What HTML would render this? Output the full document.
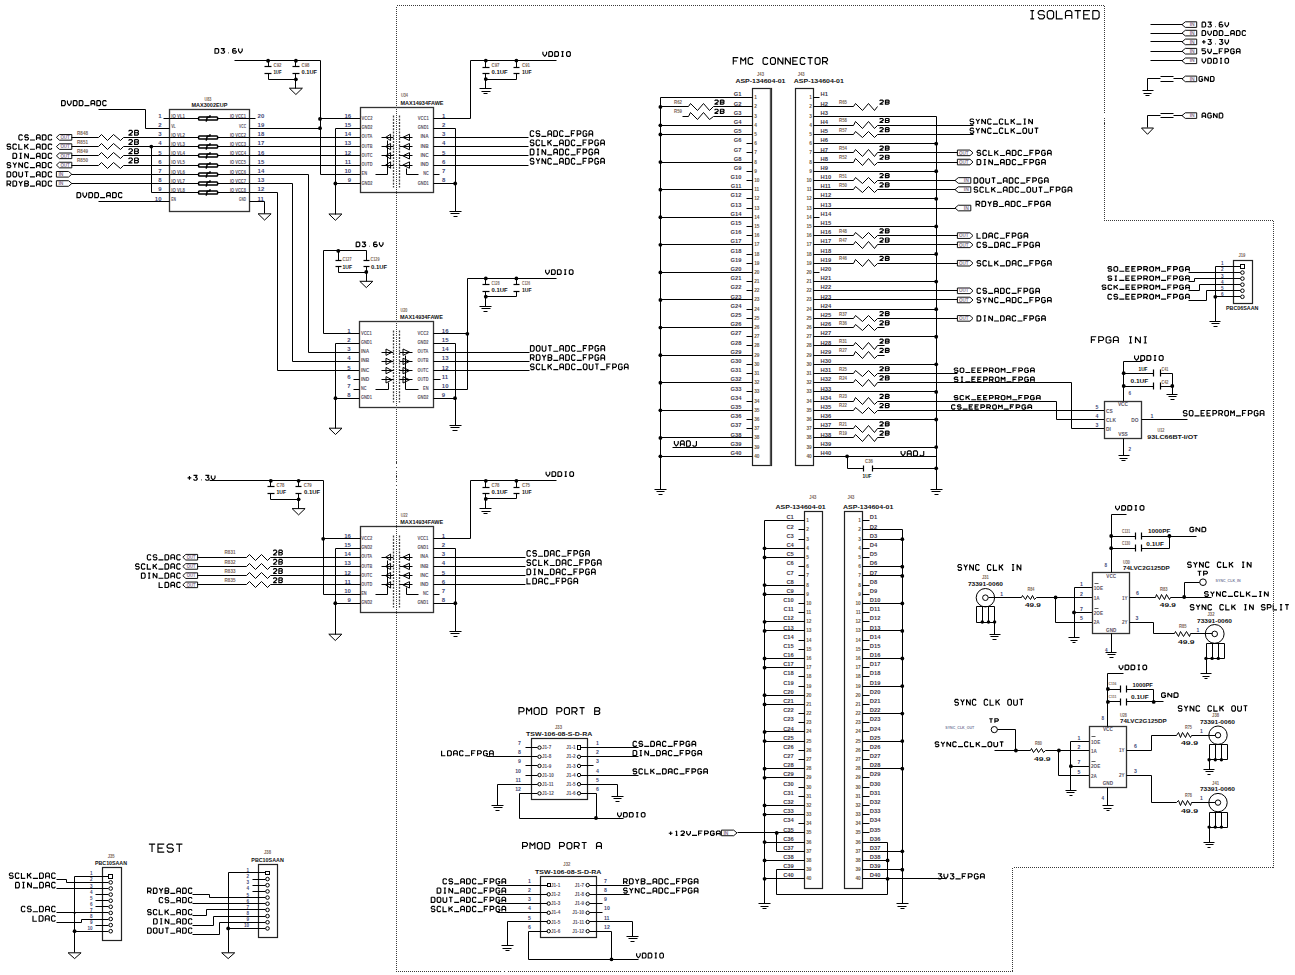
<!DOCTYPE html>
<html><head><meta charset="utf-8"><style>
html,body{margin:0;padding:0;background:#fff;width:1295px;height:975px;overflow:hidden}
svg{display:block}
text{font-family:"Liberation Mono", monospace}
</style></head><body>
<svg width="1295" height="975" viewBox="0 0 1295 975">
<rect width="1295" height="975" fill="#fff"/>
<rect x="169.5" y="109.5" width="80" height="102" fill="none" stroke="#333" stroke-width="1.3"/>
<text x="208" y="100.91" font-size="4.6" fill="#7a6658" text-anchor="middle" font-weight="bold" textLength="7" lengthAdjust="spacingAndGlyphs" style="font-family:'Liberation Sans', sans-serif">U83</text>
<text x="191.5" y="107" font-size="5.14" fill="#111" font-weight="bold" textLength="35.8" lengthAdjust="spacingAndGlyphs" style="font-family:'Liberation Sans', sans-serif">MAX3002EUP</text>
<text x="171.2" y="118.31" font-size="4.6" fill="#5a5262" font-weight="bold" textLength="13.8" lengthAdjust="spacingAndGlyphs" style="font-family:'Liberation Sans', sans-serif">IO VL1</text>
<text x="246" y="118.31" font-size="4.6" fill="#5a5262" text-anchor="end" font-weight="bold" textLength="16.1" lengthAdjust="spacingAndGlyphs" style="font-family:'Liberation Sans', sans-serif">IO VCC1</text>
<text x="161.5" y="117.6" font-size="6" fill="#3f4a78" text-anchor="end" font-weight="bold" style="font-family:'Liberation Sans', sans-serif">1</text>
<text x="257.6" y="117.6" font-size="6" fill="#3f4a78" font-weight="bold" style="font-family:'Liberation Sans', sans-serif">20</text>
<text x="171.2" y="127.54" font-size="4.6" fill="#5a5262" font-weight="bold" textLength="4.6" lengthAdjust="spacingAndGlyphs" style="font-family:'Liberation Sans', sans-serif">VL</text>
<text x="246" y="127.54" font-size="4.6" fill="#5a5262" text-anchor="end" font-weight="bold" textLength="6.9" lengthAdjust="spacingAndGlyphs" style="font-family:'Liberation Sans', sans-serif">VCC</text>
<text x="161.5" y="126.83" font-size="6" fill="#3f4a78" text-anchor="end" font-weight="bold" style="font-family:'Liberation Sans', sans-serif">2</text>
<text x="257.6" y="126.83" font-size="6" fill="#3f4a78" font-weight="bold" style="font-family:'Liberation Sans', sans-serif">19</text>
<text x="171.2" y="136.77" font-size="4.6" fill="#5a5262" font-weight="bold" textLength="13.8" lengthAdjust="spacingAndGlyphs" style="font-family:'Liberation Sans', sans-serif">IO VL2</text>
<text x="246" y="136.77" font-size="4.6" fill="#5a5262" text-anchor="end" font-weight="bold" textLength="16.1" lengthAdjust="spacingAndGlyphs" style="font-family:'Liberation Sans', sans-serif">IO VCC2</text>
<text x="161.5" y="136.06" font-size="6" fill="#3f4a78" text-anchor="end" font-weight="bold" style="font-family:'Liberation Sans', sans-serif">3</text>
<text x="257.6" y="136.06" font-size="6" fill="#3f4a78" font-weight="bold" style="font-family:'Liberation Sans', sans-serif">18</text>
<text x="171.2" y="146" font-size="4.6" fill="#5a5262" font-weight="bold" textLength="13.8" lengthAdjust="spacingAndGlyphs" style="font-family:'Liberation Sans', sans-serif">IO VL3</text>
<text x="246" y="146" font-size="4.6" fill="#5a5262" text-anchor="end" font-weight="bold" textLength="16.1" lengthAdjust="spacingAndGlyphs" style="font-family:'Liberation Sans', sans-serif">IO VCC3</text>
<text x="161.5" y="145.29" font-size="6" fill="#3f4a78" text-anchor="end" font-weight="bold" style="font-family:'Liberation Sans', sans-serif">4</text>
<text x="257.6" y="145.29" font-size="6" fill="#3f4a78" font-weight="bold" style="font-family:'Liberation Sans', sans-serif">17</text>
<text x="171.2" y="155.23" font-size="4.6" fill="#5a5262" font-weight="bold" textLength="13.8" lengthAdjust="spacingAndGlyphs" style="font-family:'Liberation Sans', sans-serif">IO VL4</text>
<text x="246" y="155.23" font-size="4.6" fill="#5a5262" text-anchor="end" font-weight="bold" textLength="16.1" lengthAdjust="spacingAndGlyphs" style="font-family:'Liberation Sans', sans-serif">IO VCC4</text>
<text x="161.5" y="154.52" font-size="6" fill="#3f4a78" text-anchor="end" font-weight="bold" style="font-family:'Liberation Sans', sans-serif">5</text>
<text x="257.6" y="154.52" font-size="6" fill="#3f4a78" font-weight="bold" style="font-family:'Liberation Sans', sans-serif">16</text>
<text x="171.2" y="164.46" font-size="4.6" fill="#5a5262" font-weight="bold" textLength="13.8" lengthAdjust="spacingAndGlyphs" style="font-family:'Liberation Sans', sans-serif">IO VL5</text>
<text x="246" y="164.46" font-size="4.6" fill="#5a5262" text-anchor="end" font-weight="bold" textLength="16.1" lengthAdjust="spacingAndGlyphs" style="font-family:'Liberation Sans', sans-serif">IO VCC5</text>
<text x="161.5" y="163.75" font-size="6" fill="#3f4a78" text-anchor="end" font-weight="bold" style="font-family:'Liberation Sans', sans-serif">6</text>
<text x="257.6" y="163.75" font-size="6" fill="#3f4a78" font-weight="bold" style="font-family:'Liberation Sans', sans-serif">15</text>
<text x="171.2" y="173.69" font-size="4.6" fill="#5a5262" font-weight="bold" textLength="13.8" lengthAdjust="spacingAndGlyphs" style="font-family:'Liberation Sans', sans-serif">IO VL6</text>
<text x="246" y="173.69" font-size="4.6" fill="#5a5262" text-anchor="end" font-weight="bold" textLength="16.1" lengthAdjust="spacingAndGlyphs" style="font-family:'Liberation Sans', sans-serif">IO VCC6</text>
<text x="161.5" y="172.98" font-size="6" fill="#3f4a78" text-anchor="end" font-weight="bold" style="font-family:'Liberation Sans', sans-serif">7</text>
<text x="257.6" y="172.98" font-size="6" fill="#3f4a78" font-weight="bold" style="font-family:'Liberation Sans', sans-serif">14</text>
<text x="171.2" y="182.92" font-size="4.6" fill="#5a5262" font-weight="bold" textLength="13.8" lengthAdjust="spacingAndGlyphs" style="font-family:'Liberation Sans', sans-serif">IO VL7</text>
<text x="246" y="182.92" font-size="4.6" fill="#5a5262" text-anchor="end" font-weight="bold" textLength="16.1" lengthAdjust="spacingAndGlyphs" style="font-family:'Liberation Sans', sans-serif">IO VCC7</text>
<text x="161.5" y="182.21" font-size="6" fill="#3f4a78" text-anchor="end" font-weight="bold" style="font-family:'Liberation Sans', sans-serif">8</text>
<text x="257.6" y="182.21" font-size="6" fill="#3f4a78" font-weight="bold" style="font-family:'Liberation Sans', sans-serif">13</text>
<text x="171.2" y="192.15" font-size="4.6" fill="#5a5262" font-weight="bold" textLength="13.8" lengthAdjust="spacingAndGlyphs" style="font-family:'Liberation Sans', sans-serif">IO VL8</text>
<text x="246" y="192.15" font-size="4.6" fill="#5a5262" text-anchor="end" font-weight="bold" textLength="16.1" lengthAdjust="spacingAndGlyphs" style="font-family:'Liberation Sans', sans-serif">IO VCC8</text>
<text x="161.5" y="191.44" font-size="6" fill="#3f4a78" text-anchor="end" font-weight="bold" style="font-family:'Liberation Sans', sans-serif">9</text>
<text x="257.6" y="191.44" font-size="6" fill="#3f4a78" font-weight="bold" style="font-family:'Liberation Sans', sans-serif">12</text>
<text x="171.2" y="201.38" font-size="4.6" fill="#5a5262" font-weight="bold" textLength="4.6" lengthAdjust="spacingAndGlyphs" style="font-family:'Liberation Sans', sans-serif">EN</text>
<text x="246" y="201.38" font-size="4.6" fill="#5a5262" text-anchor="end" font-weight="bold" textLength="6.9" lengthAdjust="spacingAndGlyphs" style="font-family:'Liberation Sans', sans-serif">GND</text>
<text x="161.5" y="200.67" font-size="6" fill="#3f4a78" text-anchor="end" font-weight="bold" style="font-family:'Liberation Sans', sans-serif">10</text>
<text x="257.6" y="200.67" font-size="6" fill="#3f4a78" font-weight="bold" style="font-family:'Liberation Sans', sans-serif">11</text>
<polyline points="169.5,118.5 198.5,118.5" fill="none" stroke="#000" stroke-width="1"/>
<polyline points="217.5,118.5 249.5,118.5" fill="none" stroke="#000" stroke-width="1"/>
<rect x="198.6" y="116.9" width="19" height="3.2" rx="0.8" fill="none" stroke="#000" stroke-width="1.5"/>
<path d="M206.2,121.7 L207.2,117.3 L209.8,116.9 L210.2,115.3" fill="none" stroke="#000" stroke-width="1.5"/>
<polyline points="169.5,137.5 198.5,137.5" fill="none" stroke="#000" stroke-width="1"/>
<polyline points="217.5,137.5 249.5,137.5" fill="none" stroke="#000" stroke-width="1"/>
<rect x="198.6" y="135.9" width="19" height="3.2" rx="0.8" fill="none" stroke="#000" stroke-width="1.5"/>
<path d="M206.2,140.7 L207.2,136.3 L209.8,135.9 L210.2,134.3" fill="none" stroke="#000" stroke-width="1.5"/>
<polyline points="169.5,146.5 198.5,146.5" fill="none" stroke="#000" stroke-width="1"/>
<polyline points="217.5,146.5 249.5,146.5" fill="none" stroke="#000" stroke-width="1"/>
<rect x="198.6" y="144.9" width="19" height="3.2" rx="0.8" fill="none" stroke="#000" stroke-width="1.5"/>
<path d="M206.2,149.7 L207.2,145.3 L209.8,144.9 L210.2,143.3" fill="none" stroke="#000" stroke-width="1.5"/>
<polyline points="169.5,155.5 198.5,155.5" fill="none" stroke="#000" stroke-width="1"/>
<polyline points="217.5,155.5 249.5,155.5" fill="none" stroke="#000" stroke-width="1"/>
<rect x="198.6" y="153.9" width="19" height="3.2" rx="0.8" fill="none" stroke="#000" stroke-width="1.5"/>
<path d="M206.2,158.7 L207.2,154.3 L209.8,153.9 L210.2,152.3" fill="none" stroke="#000" stroke-width="1.5"/>
<polyline points="169.5,165.5 198.5,165.5" fill="none" stroke="#000" stroke-width="1"/>
<polyline points="217.5,165.5 249.5,165.5" fill="none" stroke="#000" stroke-width="1"/>
<rect x="198.6" y="163.9" width="19" height="3.2" rx="0.8" fill="none" stroke="#000" stroke-width="1.5"/>
<path d="M206.2,168.7 L207.2,164.3 L209.8,163.9 L210.2,162.3" fill="none" stroke="#000" stroke-width="1.5"/>
<polyline points="169.5,174.5 198.5,174.5" fill="none" stroke="#000" stroke-width="1"/>
<polyline points="217.5,174.5 249.5,174.5" fill="none" stroke="#000" stroke-width="1"/>
<rect x="198.6" y="172.9" width="19" height="3.2" rx="0.8" fill="none" stroke="#000" stroke-width="1.5"/>
<path d="M206.2,177.7 L207.2,173.3 L209.8,172.9 L210.2,171.3" fill="none" stroke="#000" stroke-width="1.5"/>
<polyline points="169.5,183.5 198.5,183.5" fill="none" stroke="#000" stroke-width="1"/>
<polyline points="217.5,183.5 249.5,183.5" fill="none" stroke="#000" stroke-width="1"/>
<rect x="198.6" y="181.9" width="19" height="3.2" rx="0.8" fill="none" stroke="#000" stroke-width="1.5"/>
<path d="M206.2,186.7 L207.2,182.3 L209.8,181.9 L210.2,180.3" fill="none" stroke="#000" stroke-width="1.5"/>
<polyline points="169.5,192.5 198.5,192.5" fill="none" stroke="#000" stroke-width="1"/>
<polyline points="217.5,192.5 249.5,192.5" fill="none" stroke="#000" stroke-width="1"/>
<rect x="198.6" y="190.9" width="19" height="3.2" rx="0.8" fill="none" stroke="#000" stroke-width="1.5"/>
<path d="M206.2,195.7 L207.2,191.3 L209.8,190.9 L210.2,189.3" fill="none" stroke="#000" stroke-width="1.5"/>
<polyline points="163.5,118.5 169.5,118.5" fill="none" stroke="#000" stroke-width="1"/>
<polyline points="249.5,118.5 255.5,118.5" fill="none" stroke="#000" stroke-width="1"/>
<path d="M61.58,100.58 L64.33,100.58 L65.25,101.59 L65.25,104.62 L64.33,105.62 L61.58,105.62 L61.58,100.58 M67.46,100.58 L67.46,103.1 L69.29,105.62 L71.13,103.1 L71.13,100.58 M73.34,100.58 L76.09,100.58 L77.01,101.59 L77.01,104.62 L76.09,105.62 L73.34,105.62 L73.34,100.58 M79.22,100.58 L81.98,100.58 L82.9,101.59 L82.9,104.62 L81.98,105.62 L79.22,105.62 L79.22,100.58 M84.46,105.62 L89.42,105.62 M90.99,105.62 L90.99,101.59 L91.91,100.58 L93.74,100.58 L94.66,101.59 L94.66,105.62 M90.99,103.61 L94.66,103.61 M96.87,100.58 L99.62,100.58 L100.54,101.59 L100.54,104.62 L99.62,105.62 L96.87,105.62 L96.87,100.58 M106.42,101.59 L105.51,100.58 L103.67,100.58 L102.75,101.59 L102.75,104.62 L103.67,105.62 L105.51,105.62 L106.42,104.62" fill="none" stroke="#000" stroke-width="1.15" stroke-linejoin="miter" stroke-miterlimit="1.5"/>
<polyline points="98.5,109.5 145.5,109.5 145.5,128.5 169.5,128.5" fill="none" stroke="#000" stroke-width="1"/>
<path d="M22.53,135.86 L21.61,134.83 L19.77,134.83 L18.86,135.86 L18.86,138.95 L19.77,139.98 L21.61,139.98 L22.53,138.95 M28.41,135.86 L27.49,134.83 L25.65,134.83 L24.73,135.86 L24.73,136.69 L25.47,137.41 L27.67,137.41 L28.41,138.13 L28.41,138.95 L27.49,139.98 L25.65,139.98 L24.73,138.95 M29.97,139.98 L34.93,139.98 M36.49,139.98 L36.49,135.86 L37.41,134.83 L39.25,134.83 L40.17,135.86 L40.17,139.98 M36.49,137.92 L40.17,137.92 M42.37,134.83 L45.13,134.83 L46.05,135.86 L46.05,138.95 L45.13,139.98 L42.37,139.98 L42.37,134.83 M51.93,135.86 L51.01,134.83 L49.17,134.83 L48.25,135.86 L48.25,138.95 L49.17,139.98 L51.01,139.98 L51.93,138.95" fill="none" stroke="#000" stroke-width="1.15" stroke-linejoin="miter" stroke-miterlimit="1.5"/>
<polygon points="56.4,137.36 59.4,134.56 71.8,134.56 71.8,140.16 59.4,140.16" fill="none" stroke="#111" stroke-width="1"/>
<text x="60.4" y="139.05" font-size="5.4" fill="#8a7890" font-weight="bold" textLength="9.4" lengthAdjust="spacingAndGlyphs" style="font-family:'Liberation Sans', sans-serif">OUT</text>
<polyline points="71.5,137.5 98.5,137.5" fill="none" stroke="#000" stroke-width="1"/>
<polyline points="98.5,137.5 101.5,134.5 107.5,140.5 113.5,134.5 120.5,140.5 123.5,137.5" fill="none" stroke="#000" stroke-width="1"/>
<polyline points="123.5,137.5 169.5,137.5" fill="none" stroke="#000" stroke-width="1"/>
<text x="77" y="134.51" font-size="5" fill="#7a6658" font-weight="bold" textLength="11" lengthAdjust="spacingAndGlyphs" style="font-family:'Liberation Sans', sans-serif">R848</text>
<path d="M128.57,131.31 L129.53,130.34 L131.43,130.34 L132.38,131.31 L132.38,132.28 L128.57,135.19 L132.38,135.19 M134.62,130.34 L134.62,135.19 L137.47,135.19 L138.42,134.22 L138.42,133.54 L137.47,132.76 L134.62,132.76 M134.62,130.34 L137.47,130.34 L138.42,131.11 L138.42,131.98 L137.47,132.76" fill="none" stroke="#000" stroke-width="1.15" stroke-linejoin="miter" stroke-miterlimit="1.5"/>
<path d="M10.73,145.09 L9.81,144.06 L7.97,144.06 L7.05,145.09 L7.05,145.92 L7.79,146.64 L10,146.64 L10.73,147.36 L10.73,148.18 L9.81,149.21 L7.97,149.21 L7.05,148.18 M16.62,145.09 L15.7,144.06 L13.86,144.06 L12.94,145.09 L12.94,148.18 L13.86,149.21 L15.7,149.21 L16.62,148.18 M18.82,144.06 L18.82,149.21 L22.5,149.21 M24.71,144.06 L24.71,149.21 M28.39,144.06 L24.71,147.15 M26.18,146.12 L28.39,149.21 M29.95,149.21 L34.91,149.21 M36.48,149.21 L36.48,145.09 L37.4,144.06 L39.24,144.06 L40.16,145.09 L40.16,149.21 M36.48,147.15 L40.16,147.15 M42.36,144.06 L45.12,144.06 L46.04,145.09 L46.04,148.18 L45.12,149.21 L42.36,149.21 L42.36,144.06 M51.92,145.09 L51.01,144.06 L49.17,144.06 L48.25,145.09 L48.25,148.18 L49.17,149.21 L51.01,149.21 L51.92,148.18" fill="none" stroke="#000" stroke-width="1.15" stroke-linejoin="miter" stroke-miterlimit="1.5"/>
<polygon points="56.4,146.59 59.4,143.79 71.8,143.79 71.8,149.39 59.4,149.39" fill="none" stroke="#111" stroke-width="1"/>
<text x="60.4" y="148.28" font-size="5.4" fill="#8a7890" font-weight="bold" textLength="9.4" lengthAdjust="spacingAndGlyphs" style="font-family:'Liberation Sans', sans-serif">OUT</text>
<polyline points="71.5,146.5 98.5,146.5" fill="none" stroke="#000" stroke-width="1"/>
<polyline points="98.5,146.5 101.5,143.5 107.5,149.5 113.5,143.5 120.5,149.5 123.5,146.5" fill="none" stroke="#000" stroke-width="1"/>
<polyline points="123.5,146.5 169.5,146.5" fill="none" stroke="#000" stroke-width="1"/>
<text x="77" y="143.74" font-size="5" fill="#7a6658" font-weight="bold" textLength="11" lengthAdjust="spacingAndGlyphs" style="font-family:'Liberation Sans', sans-serif">R851</text>
<path d="M128.57,140.53 L129.53,139.56 L131.43,139.56 L132.38,140.53 L132.38,141.5 L128.57,144.41 L132.38,144.41 M134.62,139.56 L134.62,144.41 L137.47,144.41 L138.42,143.44 L138.42,142.77 L137.47,141.99 L134.62,141.99 M134.62,139.56 L137.47,139.56 L138.42,140.34 L138.42,141.21 L137.47,141.99" fill="none" stroke="#000" stroke-width="1.15" stroke-linejoin="miter" stroke-miterlimit="1.5"/>
<path d="M12.95,153.29 L15.71,153.29 L16.63,154.32 L16.63,157.41 L15.71,158.44 L12.95,158.44 L12.95,153.29 M19.57,153.29 L21.78,153.29 M20.67,153.29 L20.67,158.44 M19.57,158.44 L21.78,158.44 M24.72,158.44 L24.72,153.29 L28.39,158.44 L28.39,153.29 M29.96,158.44 L34.92,158.44 M36.49,158.44 L36.49,154.32 L37.4,153.29 L39.24,153.29 L40.16,154.32 L40.16,158.44 M36.49,156.38 L40.16,156.38 M42.37,153.29 L45.12,153.29 L46.04,154.32 L46.04,157.41 L45.12,158.44 L42.37,158.44 L42.37,153.29 M51.92,154.32 L51.01,153.29 L49.17,153.29 L48.25,154.32 L48.25,157.41 L49.17,158.44 L51.01,158.44 L51.92,157.41" fill="none" stroke="#000" stroke-width="1.15" stroke-linejoin="miter" stroke-miterlimit="1.5"/>
<polygon points="56.4,155.82 59.4,153.02 71.8,153.02 71.8,158.62 59.4,158.62" fill="none" stroke="#111" stroke-width="1"/>
<text x="60.4" y="157.51" font-size="5.4" fill="#8a7890" font-weight="bold" textLength="9.4" lengthAdjust="spacingAndGlyphs" style="font-family:'Liberation Sans', sans-serif">OUT</text>
<polyline points="71.5,155.5 98.5,155.5" fill="none" stroke="#000" stroke-width="1"/>
<polyline points="98.5,155.5 101.5,152.5 107.5,158.5 113.5,152.5 120.5,158.5 123.5,155.5" fill="none" stroke="#000" stroke-width="1"/>
<polyline points="123.5,155.5 169.5,155.5" fill="none" stroke="#000" stroke-width="1"/>
<text x="77" y="152.97" font-size="5" fill="#7a6658" font-weight="bold" textLength="11" lengthAdjust="spacingAndGlyphs" style="font-family:'Liberation Sans', sans-serif">R849</text>
<path d="M128.57,149.76 L129.53,148.79 L131.43,148.79 L132.38,149.76 L132.38,150.73 L128.57,153.64 L132.38,153.64 M134.62,148.79 L134.62,153.64 L137.47,153.64 L138.42,152.67 L138.42,152 L137.47,151.22 L134.62,151.22 M134.62,148.79 L137.47,148.79 L138.42,149.57 L138.42,150.44 L137.47,151.22" fill="none" stroke="#000" stroke-width="1.15" stroke-linejoin="miter" stroke-miterlimit="1.5"/>
<path d="M10.73,163.55 L9.81,162.52 L7.97,162.52 L7.05,163.55 L7.05,164.38 L7.79,165.1 L10,165.1 L10.73,165.82 L10.73,166.64 L9.81,167.67 L7.97,167.67 L7.05,166.64 M12.94,162.52 L14.78,165.1 L16.62,162.52 M14.78,165.1 L14.78,167.67 M18.82,167.67 L18.82,162.52 L22.5,167.67 L22.5,162.52 M28.39,163.55 L27.47,162.52 L25.63,162.52 L24.71,163.55 L24.71,166.64 L25.63,167.67 L27.47,167.67 L28.39,166.64 M29.95,167.67 L34.91,167.67 M36.48,167.67 L36.48,163.55 L37.4,162.52 L39.24,162.52 L40.16,163.55 L40.16,167.67 M36.48,165.61 L40.16,165.61 M42.36,162.52 L45.12,162.52 L46.04,163.55 L46.04,166.64 L45.12,167.67 L42.36,167.67 L42.36,162.52 M51.92,163.55 L51.01,162.52 L49.17,162.52 L48.25,163.55 L48.25,166.64 L49.17,167.67 L51.01,167.67 L51.92,166.64" fill="none" stroke="#000" stroke-width="1.15" stroke-linejoin="miter" stroke-miterlimit="1.5"/>
<polygon points="56.4,165.05 59.4,162.25 71.8,162.25 71.8,167.85 59.4,167.85" fill="none" stroke="#111" stroke-width="1"/>
<text x="60.4" y="166.74" font-size="5.4" fill="#8a7890" font-weight="bold" textLength="9.4" lengthAdjust="spacingAndGlyphs" style="font-family:'Liberation Sans', sans-serif">OUT</text>
<polyline points="71.5,165.5 98.5,165.5" fill="none" stroke="#000" stroke-width="1"/>
<polyline points="98.5,165.5 101.5,162.5 107.5,168.5 113.5,162.5 120.5,168.5 123.5,165.5" fill="none" stroke="#000" stroke-width="1"/>
<polyline points="123.5,165.5 169.5,165.5" fill="none" stroke="#000" stroke-width="1"/>
<text x="77" y="162.2" font-size="5" fill="#7a6658" font-weight="bold" textLength="11" lengthAdjust="spacingAndGlyphs" style="font-family:'Liberation Sans', sans-serif">R850</text>
<path d="M128.57,159 L129.53,158.03 L131.43,158.03 L132.38,159 L132.38,159.97 L128.57,162.88 L132.38,162.88 M134.62,158.03 L134.62,162.88 L137.47,162.88 L138.42,161.91 L138.42,161.23 L137.47,160.45 L134.62,160.45 M134.62,158.03 L137.47,158.03 L138.42,158.8 L138.42,159.67 L137.47,160.45" fill="none" stroke="#000" stroke-width="1.15" stroke-linejoin="miter" stroke-miterlimit="1.5"/>
<path d="M7.05,171.75 L9.81,171.75 L10.73,172.78 L10.73,175.87 L9.81,176.9 L7.05,176.9 L7.05,171.75 M13.86,171.75 L15.7,171.75 L16.62,172.78 L16.62,175.87 L15.7,176.9 L13.86,176.9 L12.94,175.87 L12.94,172.78 L13.86,171.75 M18.82,171.75 L18.82,175.87 L19.74,176.9 L21.58,176.9 L22.5,175.87 L22.5,171.75 M24.71,171.75 L28.39,171.75 M26.55,171.75 L26.55,176.9 M29.95,176.9 L34.91,176.9 M36.48,176.9 L36.48,172.78 L37.4,171.75 L39.24,171.75 L40.16,172.78 L40.16,176.9 M36.48,174.84 L40.16,174.84 M42.36,171.75 L45.12,171.75 L46.04,172.78 L46.04,175.87 L45.12,176.9 L42.36,176.9 L42.36,171.75 M51.92,172.78 L51.01,171.75 L49.17,171.75 L48.25,172.78 L48.25,175.87 L49.17,176.9 L51.01,176.9 L51.92,175.87" fill="none" stroke="#000" stroke-width="1.15" stroke-linejoin="miter" stroke-miterlimit="1.5"/>
<polygon points="56.4,171.48 68.5,171.48 71.8,174.28 68.5,177.08 56.4,177.08" fill="none" stroke="#111" stroke-width="1"/>
<text x="58.4" y="175.97" font-size="5.4" fill="#8a7890" font-weight="bold" textLength="5" lengthAdjust="spacingAndGlyphs" style="font-family:'Liberation Sans', sans-serif">IN</text>
<polyline points="71.5,174.5 169.5,174.5" fill="none" stroke="#000" stroke-width="1"/>
<path d="M7.05,186.13 L7.05,180.98 L9.81,180.98 L10.73,182.01 L10.73,183.04 L9.81,184.07 L7.05,184.07 M8.89,184.07 L10.73,186.13 M12.94,180.98 L15.7,180.98 L16.62,182.01 L16.62,185.1 L15.7,186.13 L12.94,186.13 L12.94,180.98 M18.82,180.98 L20.66,183.56 L22.5,180.98 M20.66,183.56 L20.66,186.13 M24.71,180.98 L24.71,186.13 L27.47,186.13 L28.39,185.1 L28.39,184.38 L27.47,183.56 L24.71,183.56 M24.71,180.98 L27.47,180.98 L28.39,181.81 L28.39,182.74 L27.47,183.56 M29.95,186.13 L34.91,186.13 M36.48,186.13 L36.48,182.01 L37.4,180.98 L39.24,180.98 L40.16,182.01 L40.16,186.13 M36.48,184.07 L40.16,184.07 M42.36,180.98 L45.12,180.98 L46.04,182.01 L46.04,185.1 L45.12,186.13 L42.36,186.13 L42.36,180.98 M51.92,182.01 L51.01,180.98 L49.17,180.98 L48.25,182.01 L48.25,185.1 L49.17,186.13 L51.01,186.13 L51.92,185.1" fill="none" stroke="#000" stroke-width="1.15" stroke-linejoin="miter" stroke-miterlimit="1.5"/>
<polygon points="56.4,180.71 68.5,180.71 71.8,183.51 68.5,186.31 56.4,186.31" fill="none" stroke="#111" stroke-width="1"/>
<text x="58.4" y="185.2" font-size="5.4" fill="#8a7890" font-weight="bold" textLength="5" lengthAdjust="spacingAndGlyphs" style="font-family:'Liberation Sans', sans-serif">IN</text>
<polyline points="71.5,183.5 169.5,183.5" fill="none" stroke="#000" stroke-width="1"/>
<circle cx="151.3" cy="146.59" r="1.9" fill="#000"/>
<polyline points="151.5,146.5 151.5,192.5 169.5,192.5" fill="none" stroke="#000" stroke-width="1"/>
<path d="M76.98,192.57 L79.76,192.57 L80.69,193.58 L80.69,196.61 L79.76,197.62 L76.98,197.62 L76.98,192.57 M82.91,192.57 L82.91,195.1 L84.77,197.62 L86.62,195.1 L86.62,192.57 M88.84,192.57 L91.63,192.57 L92.56,193.58 L92.56,196.61 L91.63,197.62 L88.84,197.62 L88.84,192.57 M94.78,192.57 L97.56,192.57 L98.49,193.58 L98.49,196.61 L97.56,197.62 L94.78,197.62 L94.78,192.57 M100.06,197.62 L105.07,197.62 M106.64,197.62 L106.64,193.58 L107.57,192.57 L109.43,192.57 L110.36,193.58 L110.36,197.62 M106.64,195.6 L110.36,195.6 M112.58,192.57 L115.36,192.57 L116.29,193.58 L116.29,196.61 L115.36,197.62 L112.58,197.62 L112.58,192.57 M122.22,193.58 L121.3,192.57 L119.44,192.57 L118.51,193.58 L118.51,196.61 L119.44,197.62 L121.3,197.62 L122.22,196.61" fill="none" stroke="#000" stroke-width="1.15" stroke-linejoin="miter" stroke-miterlimit="1.5"/>
<polyline points="98.5,201.5 169.5,201.5" fill="none" stroke="#000" stroke-width="1"/>
<polyline points="249.5,128.5 320.5,128.5" fill="none" stroke="#000" stroke-width="1"/>
<polyline points="249.5,137.5 360.5,137.5" fill="none" stroke="#000" stroke-width="1"/>
<polyline points="249.5,146.5 360.5,146.5" fill="none" stroke="#000" stroke-width="1"/>
<polyline points="249.5,155.5 360.5,155.5" fill="none" stroke="#000" stroke-width="1"/>
<polyline points="249.5,165.5 360.5,165.5" fill="none" stroke="#000" stroke-width="1"/>
<polyline points="249.5,174.5 308.5,174.5 308.5,352.5 359.5,352.5" fill="none" stroke="#000" stroke-width="1"/>
<polyline points="249.5,183.5 292.5,183.5 292.5,361.5 359.5,361.5" fill="none" stroke="#000" stroke-width="1"/>
<polyline points="249.5,192.5 277.5,192.5 277.5,370.5 359.5,370.5" fill="none" stroke="#000" stroke-width="1"/>
<polyline points="249.5,201.5 264.5,201.5 264.5,213.5" fill="none" stroke="#000" stroke-width="1"/>
<polygon points="258.1,213.8 271.1,213.8 264.6,220.1" fill="none" stroke="#000" stroke-width="1"/>
<path d="M214.97,48.58 L217.74,48.58 L218.66,49.51 L218.66,52.3 L217.74,53.23 L214.97,53.23 L214.97,48.58 M220.87,48.58 L224.55,48.58 L222.71,50.62 L223.63,50.62 L224.55,51.37 L224.55,52.3 L223.63,53.23 L221.79,53.23 L220.87,52.3 M228.32,52.85 L228.88,52.85 M235.87,48.58 L233.57,48.58 L232.65,49.51 L232.65,52.3 L233.57,53.23 L235.41,53.23 L236.33,52.3 L236.33,51.55 L235.41,50.9 L232.65,50.9 M238.54,48.58 L238.54,50.9 L240.38,53.23 L242.22,50.9 L242.22,48.58" fill="none" stroke="#000" stroke-width="1.15" stroke-linejoin="miter" stroke-miterlimit="1.5"/>
<polyline points="234.5,60.5 320.5,60.5 320.5,174.5 360.5,174.5" fill="none" stroke="#000" stroke-width="1"/>
<circle cx="320" cy="118.9" r="1.9" fill="#000"/>
<circle cx="320" cy="128.13" r="1.9" fill="#000"/>
<polyline points="320.5,118.5 360.5,118.5" fill="none" stroke="#000" stroke-width="1"/>
<circle cx="268.1" cy="60.75" r="1.9" fill="#000"/>
<circle cx="295.9" cy="60.75" r="1.9" fill="#000"/>
<polyline points="268.5,60.5 268.5,66.5" fill="none" stroke="#000" stroke-width="1"/>
<polyline points="264.5,66.5 271.5,66.5" fill="none" stroke="#000" stroke-width="1.2"/>
<polyline points="264.5,73.5 271.5,73.5" fill="none" stroke="#000" stroke-width="1.2"/>
<polyline points="268.5,73.5 268.5,79.5" fill="none" stroke="#000" stroke-width="1"/>
<polyline points="295.5,60.5 295.5,66.5" fill="none" stroke="#000" stroke-width="1"/>
<polyline points="292.5,66.5 299.5,66.5" fill="none" stroke="#000" stroke-width="1.2"/>
<polyline points="292.5,73.5 299.5,73.5" fill="none" stroke="#000" stroke-width="1.2"/>
<polyline points="295.5,73.5 295.5,79.5" fill="none" stroke="#000" stroke-width="1"/>
<polyline points="268.5,79.5 295.5,79.5" fill="none" stroke="#000" stroke-width="1"/>
<circle cx="295.9" cy="79.3" r="1.9" fill="#000"/>
<polyline points="295.5,79.5 295.5,88.5" fill="none" stroke="#000" stroke-width="1"/>
<polygon points="289.4,88.2 302.4,88.2 295.9,94.5" fill="none" stroke="#000" stroke-width="1"/>
<text x="273.5" y="67.25" font-size="5" fill="#7a6658" font-weight="bold" textLength="8" lengthAdjust="spacingAndGlyphs" style="font-family:'Liberation Sans', sans-serif">C92</text>
<text x="273.5" y="74.1" font-size="5.14" fill="#111" font-weight="bold" textLength="8" lengthAdjust="spacingAndGlyphs" style="font-family:'Liberation Sans', sans-serif">1UF</text>
<text x="301.5" y="67.25" font-size="5" fill="#7a6658" font-weight="bold" textLength="8" lengthAdjust="spacingAndGlyphs" style="font-family:'Liberation Sans', sans-serif">C98</text>
<text x="301.5" y="74.1" font-size="5.14" fill="#111" font-weight="bold" textLength="15.5" lengthAdjust="spacingAndGlyphs" style="font-family:'Liberation Sans', sans-serif">0.1UF</text>
<rect x="360.5" y="107.5" width="73" height="85" fill="none" stroke="#333" stroke-width="1.3"/>
<text x="401" y="97.41" font-size="4.6" fill="#7a6658" font-weight="bold" textLength="7" lengthAdjust="spacingAndGlyphs" style="font-family:'Liberation Sans', sans-serif">U34</text>
<text x="400.5" y="104.6" font-size="5.14" fill="#111" font-weight="bold" textLength="43" lengthAdjust="spacingAndGlyphs" style="font-family:'Liberation Sans', sans-serif">MAX14934FAWE</text>
<text x="361.5" y="119.99" font-size="5.4" fill="#5a5262" font-weight="bold" textLength="11" lengthAdjust="spacingAndGlyphs" style="font-family:'Liberation Sans', sans-serif">VCC2</text>
<text x="428.7" y="119.99" font-size="5.4" fill="#5a5262" text-anchor="end" font-weight="bold" textLength="11" lengthAdjust="spacingAndGlyphs" style="font-family:'Liberation Sans', sans-serif">VCC1</text>
<text x="351.2" y="117.8" font-size="6" fill="#3f4a78" text-anchor="end" font-weight="bold" style="font-family:'Liberation Sans', sans-serif">16</text>
<text x="442" y="117.8" font-size="6" fill="#3f4a78" font-weight="bold" style="font-family:'Liberation Sans', sans-serif">1</text>
<text x="361.5" y="129.22" font-size="5.4" fill="#5a5262" font-weight="bold" textLength="11" lengthAdjust="spacingAndGlyphs" style="font-family:'Liberation Sans', sans-serif">GND2</text>
<text x="428.7" y="129.22" font-size="5.4" fill="#5a5262" text-anchor="end" font-weight="bold" textLength="11" lengthAdjust="spacingAndGlyphs" style="font-family:'Liberation Sans', sans-serif">GND1</text>
<text x="351.2" y="127.03" font-size="6" fill="#3f4a78" text-anchor="end" font-weight="bold" style="font-family:'Liberation Sans', sans-serif">15</text>
<text x="442" y="127.03" font-size="6" fill="#3f4a78" font-weight="bold" style="font-family:'Liberation Sans', sans-serif">2</text>
<text x="361.5" y="138.45" font-size="5.4" fill="#5a5262" font-weight="bold" textLength="11" lengthAdjust="spacingAndGlyphs" style="font-family:'Liberation Sans', sans-serif">OUTA</text>
<text x="428.7" y="138.45" font-size="5.4" fill="#5a5262" text-anchor="end" font-weight="bold" textLength="8.25" lengthAdjust="spacingAndGlyphs" style="font-family:'Liberation Sans', sans-serif">INA</text>
<text x="351.2" y="136.26" font-size="6" fill="#3f4a78" text-anchor="end" font-weight="bold" style="font-family:'Liberation Sans', sans-serif">14</text>
<text x="442" y="136.26" font-size="6" fill="#3f4a78" font-weight="bold" style="font-family:'Liberation Sans', sans-serif">3</text>
<text x="361.5" y="147.68" font-size="5.4" fill="#5a5262" font-weight="bold" textLength="11" lengthAdjust="spacingAndGlyphs" style="font-family:'Liberation Sans', sans-serif">OUTB</text>
<text x="428.7" y="147.68" font-size="5.4" fill="#5a5262" text-anchor="end" font-weight="bold" textLength="8.25" lengthAdjust="spacingAndGlyphs" style="font-family:'Liberation Sans', sans-serif">INB</text>
<text x="351.2" y="145.49" font-size="6" fill="#3f4a78" text-anchor="end" font-weight="bold" style="font-family:'Liberation Sans', sans-serif">13</text>
<text x="442" y="145.49" font-size="6" fill="#3f4a78" font-weight="bold" style="font-family:'Liberation Sans', sans-serif">4</text>
<text x="361.5" y="156.91" font-size="5.4" fill="#5a5262" font-weight="bold" textLength="11" lengthAdjust="spacingAndGlyphs" style="font-family:'Liberation Sans', sans-serif">OUTC</text>
<text x="428.7" y="156.91" font-size="5.4" fill="#5a5262" text-anchor="end" font-weight="bold" textLength="8.25" lengthAdjust="spacingAndGlyphs" style="font-family:'Liberation Sans', sans-serif">INC</text>
<text x="351.2" y="154.72" font-size="6" fill="#3f4a78" text-anchor="end" font-weight="bold" style="font-family:'Liberation Sans', sans-serif">12</text>
<text x="442" y="154.72" font-size="6" fill="#3f4a78" font-weight="bold" style="font-family:'Liberation Sans', sans-serif">5</text>
<text x="361.5" y="166.14" font-size="5.4" fill="#5a5262" font-weight="bold" textLength="11" lengthAdjust="spacingAndGlyphs" style="font-family:'Liberation Sans', sans-serif">OUTD</text>
<text x="428.7" y="166.14" font-size="5.4" fill="#5a5262" text-anchor="end" font-weight="bold" textLength="8.25" lengthAdjust="spacingAndGlyphs" style="font-family:'Liberation Sans', sans-serif">IND</text>
<text x="351.2" y="163.95" font-size="6" fill="#3f4a78" text-anchor="end" font-weight="bold" style="font-family:'Liberation Sans', sans-serif">11</text>
<text x="442" y="163.95" font-size="6" fill="#3f4a78" font-weight="bold" style="font-family:'Liberation Sans', sans-serif">6</text>
<text x="361.5" y="175.37" font-size="5.4" fill="#5a5262" font-weight="bold" textLength="5.5" lengthAdjust="spacingAndGlyphs" style="font-family:'Liberation Sans', sans-serif">EN</text>
<text x="428.7" y="175.37" font-size="5.4" fill="#5a5262" text-anchor="end" font-weight="bold" textLength="5.5" lengthAdjust="spacingAndGlyphs" style="font-family:'Liberation Sans', sans-serif">NC</text>
<text x="351.2" y="173.18" font-size="6" fill="#3f4a78" text-anchor="end" font-weight="bold" style="font-family:'Liberation Sans', sans-serif">10</text>
<text x="442" y="173.18" font-size="6" fill="#3f4a78" font-weight="bold" style="font-family:'Liberation Sans', sans-serif">7</text>
<text x="361.5" y="184.6" font-size="5.4" fill="#5a5262" font-weight="bold" textLength="11" lengthAdjust="spacingAndGlyphs" style="font-family:'Liberation Sans', sans-serif">GND2</text>
<text x="428.7" y="184.6" font-size="5.4" fill="#5a5262" text-anchor="end" font-weight="bold" textLength="11" lengthAdjust="spacingAndGlyphs" style="font-family:'Liberation Sans', sans-serif">GND1</text>
<text x="351.2" y="182.41" font-size="6" fill="#3f4a78" text-anchor="end" font-weight="bold" style="font-family:'Liberation Sans', sans-serif">9</text>
<text x="442" y="182.41" font-size="6" fill="#3f4a78" font-weight="bold" style="font-family:'Liberation Sans', sans-serif">8</text>
<polyline points="393.5,115.5 393.5,187.5" fill="none" stroke="#444" stroke-width="1.3" stroke-dasharray="2,1.2"/>
<polyline points="399.5,115.5 399.5,187.5" fill="none" stroke="#444" stroke-width="1.3" stroke-dasharray="2,1.2"/>
<polyline points="381.5,137.5 393.5,137.5" fill="none" stroke="#000" stroke-width="1"/>
<polygon points="385.7,137.36 390.6,134.16 390.6,140.56" fill="none" stroke="#000" stroke-width="1"/>
<polyline points="399.5,137.5 412.5,137.5" fill="none" stroke="#000" stroke-width="1"/>
<polygon points="402.9,137.36 409.5,134.16 409.5,140.56" fill="none" stroke="#000" stroke-width="1"/>
<polyline points="381.5,146.5 393.5,146.5" fill="none" stroke="#000" stroke-width="1"/>
<polygon points="385.7,146.59 390.6,143.39 390.6,149.79" fill="none" stroke="#000" stroke-width="1"/>
<polyline points="399.5,146.5 412.5,146.5" fill="none" stroke="#000" stroke-width="1"/>
<polygon points="402.9,146.59 409.5,143.39 409.5,149.79" fill="none" stroke="#000" stroke-width="1"/>
<polyline points="381.5,155.5 393.5,155.5" fill="none" stroke="#000" stroke-width="1"/>
<polygon points="385.7,155.82 390.6,152.62 390.6,159.02" fill="none" stroke="#000" stroke-width="1"/>
<polyline points="399.5,155.5 412.5,155.5" fill="none" stroke="#000" stroke-width="1"/>
<polygon points="402.9,155.82 409.5,152.62 409.5,159.02" fill="none" stroke="#000" stroke-width="1"/>
<polyline points="381.5,165.5 393.5,165.5" fill="none" stroke="#000" stroke-width="1"/>
<polygon points="385.7,165.05 390.6,161.85 390.6,168.25" fill="none" stroke="#000" stroke-width="1"/>
<polyline points="399.5,165.5 412.5,165.5" fill="none" stroke="#000" stroke-width="1"/>
<polygon points="402.9,165.05 409.5,161.85 409.5,168.25" fill="none" stroke="#000" stroke-width="1"/>
<polyline points="387.5,140.5 387.5,174.5 375.5,174.5" fill="none" stroke="#000" stroke-width="1"/>
<polyline points="406.5,168.5 406.5,174.5 418.5,174.5" fill="none" stroke="#000" stroke-width="1"/>
<polyline points="360.5,128.5 335.5,128.5 335.5,214.5" fill="none" stroke="#000" stroke-width="1"/>
<circle cx="335.4" cy="183.51" r="1.9" fill="#000"/>
<polyline points="335.5,183.5 360.5,183.5" fill="none" stroke="#000" stroke-width="1"/>
<polygon points="328.9,214 341.9,214 335.4,220.3" fill="none" stroke="#000" stroke-width="1"/>
<polyline points="433.5,118.5 470.5,118.5 470.5,60.5" fill="none" stroke="#000" stroke-width="1"/>
<path d="M542.88,51.68 L542.88,54 L544.73,56.33 L546.59,54 L546.59,51.68 M548.81,51.68 L551.6,51.68 L552.52,52.61 L552.52,55.4 L551.6,56.33 L548.81,56.33 L548.81,51.68 M554.74,51.68 L557.53,51.68 L558.46,52.61 L558.46,55.4 L557.53,56.33 L554.74,56.33 L554.74,51.68 M561.42,51.68 L563.65,51.68 M562.53,51.68 L562.53,56.33 M561.42,56.33 L563.65,56.33 M567.54,51.68 L569.4,51.68 L570.33,52.61 L570.33,55.4 L569.4,56.33 L567.54,56.33 L566.61,55.4 L566.61,52.61 L567.54,51.68" fill="none" stroke="#000" stroke-width="1.15" stroke-linejoin="miter" stroke-miterlimit="1.5"/>
<polyline points="470.5,60.5 556.5,60.5" fill="none" stroke="#000" stroke-width="1"/>
<circle cx="485.8" cy="60.6" r="1.9" fill="#000"/>
<circle cx="516.4" cy="60.6" r="1.9" fill="#000"/>
<polyline points="485.5,60.5 485.5,67.5" fill="none" stroke="#000" stroke-width="1"/>
<polyline points="482.5,67.5 489.5,67.5" fill="none" stroke="#000" stroke-width="1.2"/>
<polyline points="482.5,73.5 489.5,73.5" fill="none" stroke="#000" stroke-width="1.2"/>
<polyline points="485.5,73.5 485.5,79.5" fill="none" stroke="#000" stroke-width="1"/>
<polyline points="516.5,60.5 516.5,67.5" fill="none" stroke="#000" stroke-width="1"/>
<polyline points="513.5,67.5 519.5,67.5" fill="none" stroke="#000" stroke-width="1.2"/>
<polyline points="513.5,73.5 519.5,73.5" fill="none" stroke="#000" stroke-width="1.2"/>
<polyline points="516.5,73.5 516.5,79.5" fill="none" stroke="#000" stroke-width="1"/>
<polyline points="485.5,79.5 516.5,79.5" fill="none" stroke="#000" stroke-width="1"/>
<circle cx="485.8" cy="79.1" r="1.9" fill="#000"/>
<polyline points="485.5,79.5 485.5,88.5" fill="none" stroke="#000" stroke-width="1"/>
<polyline points="479.5,88.5 491.5,88.5" fill="none" stroke="#000" stroke-width="1"/>
<polyline points="481.5,91.5 490.5,91.5" fill="none" stroke="#000" stroke-width="1"/>
<polyline points="483.5,93.5 487.5,93.5" fill="none" stroke="#000" stroke-width="1"/>
<text x="491.5" y="66.85" font-size="5" fill="#7a6658" font-weight="bold" textLength="8" lengthAdjust="spacingAndGlyphs" style="font-family:'Liberation Sans', sans-serif">C97</text>
<text x="491.5" y="74.1" font-size="5.14" fill="#111" font-weight="bold" textLength="16" lengthAdjust="spacingAndGlyphs" style="font-family:'Liberation Sans', sans-serif">0.1UF</text>
<text x="522" y="66.85" font-size="5" fill="#7a6658" font-weight="bold" textLength="8" lengthAdjust="spacingAndGlyphs" style="font-family:'Liberation Sans', sans-serif">C91</text>
<text x="522" y="74.1" font-size="5.14" fill="#111" font-weight="bold" textLength="9.6" lengthAdjust="spacingAndGlyphs" style="font-family:'Liberation Sans', sans-serif">1UF</text>
<polyline points="433.5,128.5 455.5,128.5 455.5,211.5" fill="none" stroke="#000" stroke-width="1"/>
<circle cx="455.2" cy="183.51" r="1.9" fill="#000"/>
<polyline points="433.5,183.5 455.5,183.5" fill="none" stroke="#000" stroke-width="1"/>
<polyline points="449.5,211.5 461.5,211.5" fill="none" stroke="#000" stroke-width="1"/>
<polyline points="450.5,213.5 459.5,213.5" fill="none" stroke="#000" stroke-width="1"/>
<polyline points="453.5,216.5 457.5,216.5" fill="none" stroke="#000" stroke-width="1"/>
<polyline points="433.5,137.5 528.5,137.5" fill="none" stroke="#000" stroke-width="1"/>
<path d="M533.94,131.86 L533.02,130.73 L531.19,130.73 L530.28,131.86 L530.28,135.25 L531.19,136.38 L533.02,136.38 L533.94,135.25 M539.81,131.86 L538.89,130.73 L537.06,130.73 L536.14,131.86 L536.14,132.77 L536.88,133.56 L539.07,133.56 L539.81,134.35 L539.81,135.25 L538.89,136.38 L537.06,136.38 L536.14,135.25 M541.37,136.38 L546.32,136.38 M547.88,136.38 L547.88,131.86 L548.8,130.73 L550.63,130.73 L551.55,131.86 L551.55,136.38 M547.88,134.12 L551.55,134.12 M553.75,130.73 L556.5,130.73 L557.41,131.86 L557.41,135.25 L556.5,136.38 L553.75,136.38 L553.75,130.73 M563.28,131.86 L562.37,130.73 L560.54,130.73 L559.62,131.86 L559.62,135.25 L560.54,136.38 L562.37,136.38 L563.28,135.25 M564.85,136.38 L569.79,136.38 M575.02,130.73 L571.36,130.73 L571.36,136.38 M571.36,133.56 L574.11,133.56 M577.23,136.38 L577.23,130.73 L579.98,130.73 L580.89,131.86 L580.89,132.99 L579.98,134.12 L577.23,134.12 M586.76,131.86 L585.84,130.73 L584.01,130.73 L583.1,131.86 L583.1,135.25 L584.01,136.38 L585.84,136.38 L586.76,135.25 L586.76,133.79 L585.11,133.79 M588.97,136.38 L588.97,131.86 L589.88,130.73 L591.71,130.73 L592.63,131.86 L592.63,136.38 M588.97,134.12 L592.63,134.12" fill="none" stroke="#000" stroke-width="1.15" stroke-linejoin="miter" stroke-miterlimit="1.5"/>
<polyline points="433.5,146.5 528.5,146.5" fill="none" stroke="#000" stroke-width="1"/>
<path d="M533.94,141.09 L533.02,139.96 L531.19,139.96 L530.28,141.09 L530.28,142 L531.01,142.79 L533.21,142.79 L533.94,143.58 L533.94,144.48 L533.02,145.61 L531.19,145.61 L530.28,144.48 M539.81,141.09 L538.89,139.96 L537.06,139.96 L536.15,141.09 L536.15,144.48 L537.06,145.61 L538.89,145.61 L539.81,144.48 M542.02,139.96 L542.02,145.61 L545.68,145.61 M547.89,139.96 L547.89,145.61 M551.55,139.96 L547.89,143.35 M549.35,142.22 L551.55,145.61 M553.12,145.61 L558.06,145.61 M559.63,145.61 L559.63,141.09 L560.55,139.96 L562.38,139.96 L563.29,141.09 L563.29,145.61 M559.63,143.35 L563.29,143.35 M565.5,139.96 L568.25,139.96 L569.16,141.09 L569.16,144.48 L568.25,145.61 L565.5,145.61 L565.5,139.96 M575.03,141.09 L574.12,139.96 L572.29,139.96 L571.37,141.09 L571.37,144.48 L572.29,145.61 L574.12,145.61 L575.03,144.48 M576.6,145.61 L581.55,145.61 M586.78,139.96 L583.11,139.96 L583.11,145.61 M583.11,142.79 L585.86,142.79 M588.98,145.61 L588.98,139.96 L591.73,139.96 L592.65,141.09 L592.65,142.22 L591.73,143.35 L588.98,143.35 M598.52,141.09 L597.6,139.96 L595.77,139.96 L594.85,141.09 L594.85,144.48 L595.77,145.61 L597.6,145.61 L598.52,144.48 L598.52,143.02 L596.87,143.02 M600.72,145.61 L600.72,141.09 L601.64,139.96 L603.47,139.96 L604.39,141.09 L604.39,145.61 M600.72,143.35 L604.39,143.35" fill="none" stroke="#000" stroke-width="1.15" stroke-linejoin="miter" stroke-miterlimit="1.5"/>
<polyline points="433.5,155.5 528.5,155.5" fill="none" stroke="#000" stroke-width="1"/>
<path d="M530.28,149.19 L533.02,149.19 L533.94,150.32 L533.94,153.71 L533.02,154.84 L530.28,154.84 L530.28,149.19 M536.88,149.19 L539.08,149.19 M537.98,149.19 L537.98,154.84 M536.88,154.84 L539.08,154.84 M542.02,154.84 L542.02,149.19 L545.68,154.84 L545.68,149.19 M547.24,154.84 L552.19,154.84 M553.76,154.84 L553.76,150.32 L554.67,149.19 L556.5,149.19 L557.42,150.32 L557.42,154.84 M553.76,152.58 L557.42,152.58 M559.63,149.19 L562.37,149.19 L563.29,150.32 L563.29,153.71 L562.37,154.84 L559.63,154.84 L559.63,149.19 M569.16,150.32 L568.24,149.19 L566.41,149.19 L565.5,150.32 L565.5,153.71 L566.41,154.84 L568.24,154.84 L569.16,153.71 M570.72,154.84 L575.67,154.84 M580.9,149.19 L577.24,149.19 L577.24,154.84 M577.24,152.02 L579.98,152.02 M583.11,154.84 L583.11,149.19 L585.85,149.19 L586.77,150.32 L586.77,151.45 L585.85,152.58 L583.11,152.58 M592.64,150.32 L591.72,149.19 L589.89,149.19 L588.98,150.32 L588.98,153.71 L589.89,154.84 L591.72,154.84 L592.64,153.71 L592.64,152.25 L590.99,152.25 M594.85,154.84 L594.85,150.32 L595.76,149.19 L597.59,149.19 L598.51,150.32 L598.51,154.84 M594.85,152.58 L598.51,152.58" fill="none" stroke="#000" stroke-width="1.15" stroke-linejoin="miter" stroke-miterlimit="1.5"/>
<polyline points="433.5,165.5 528.5,165.5" fill="none" stroke="#000" stroke-width="1"/>
<path d="M533.94,159.55 L533.02,158.42 L531.19,158.42 L530.28,159.55 L530.28,160.46 L531.01,161.25 L533.21,161.25 L533.94,162.04 L533.94,162.94 L533.02,164.07 L531.19,164.07 L530.28,162.94 M536.15,158.42 L537.98,161.25 L539.81,158.42 M537.98,161.25 L537.98,164.07 M542.02,164.07 L542.02,158.42 L545.68,164.07 L545.68,158.42 M551.55,159.55 L550.64,158.42 L548.8,158.42 L547.89,159.55 L547.89,162.94 L548.8,164.07 L550.64,164.07 L551.55,162.94 M553.12,164.07 L558.06,164.07 M559.63,164.07 L559.63,159.55 L560.55,158.42 L562.38,158.42 L563.29,159.55 L563.29,164.07 M559.63,161.81 L563.29,161.81 M565.5,158.42 L568.25,158.42 L569.16,159.55 L569.16,162.94 L568.25,164.07 L565.5,164.07 L565.5,158.42 M575.03,159.55 L574.12,158.42 L572.29,158.42 L571.37,159.55 L571.37,162.94 L572.29,164.07 L574.12,164.07 L575.03,162.94 M576.6,164.07 L581.55,164.07 M586.78,158.42 L583.11,158.42 L583.11,164.07 M583.11,161.25 L585.86,161.25 M588.98,164.07 L588.98,158.42 L591.73,158.42 L592.65,159.55 L592.65,160.68 L591.73,161.81 L588.98,161.81 M598.52,159.55 L597.6,158.42 L595.77,158.42 L594.85,159.55 L594.85,162.94 L595.77,164.07 L597.6,164.07 L598.52,162.94 L598.52,161.48 L596.87,161.48 M600.72,164.07 L600.72,159.55 L601.64,158.42 L603.47,158.42 L604.39,159.55 L604.39,164.07 M600.72,161.81 L604.39,161.81" fill="none" stroke="#000" stroke-width="1.15" stroke-linejoin="miter" stroke-miterlimit="1.5"/>
<polyline points="433.5,174.5 439.5,174.5" fill="none" stroke="#000" stroke-width="1"/>
<rect x="359.5" y="321.5" width="74" height="86" fill="none" stroke="#333" stroke-width="1.3"/>
<text x="400.4" y="311.71" font-size="4.6" fill="#7a6658" font-weight="bold" textLength="7" lengthAdjust="spacingAndGlyphs" style="font-family:'Liberation Sans', sans-serif">U20</text>
<text x="399.9" y="318.9" font-size="5.14" fill="#111" font-weight="bold" textLength="43" lengthAdjust="spacingAndGlyphs" style="font-family:'Liberation Sans', sans-serif">MAX14934FAWE</text>
<text x="360.9" y="334.89" font-size="5.4" fill="#5a5262" font-weight="bold" textLength="11" lengthAdjust="spacingAndGlyphs" style="font-family:'Liberation Sans', sans-serif">VCC1</text>
<text x="428.5" y="334.89" font-size="5.4" fill="#5a5262" text-anchor="end" font-weight="bold" textLength="11" lengthAdjust="spacingAndGlyphs" style="font-family:'Liberation Sans', sans-serif">VCC2</text>
<text x="350.6" y="332.7" font-size="6" fill="#3f4a78" text-anchor="end" font-weight="bold" style="font-family:'Liberation Sans', sans-serif">1</text>
<text x="441.8" y="332.7" font-size="6" fill="#3f4a78" font-weight="bold" style="font-family:'Liberation Sans', sans-serif">16</text>
<text x="360.9" y="344.09" font-size="5.4" fill="#5a5262" font-weight="bold" textLength="11" lengthAdjust="spacingAndGlyphs" style="font-family:'Liberation Sans', sans-serif">GND1</text>
<text x="428.5" y="344.09" font-size="5.4" fill="#5a5262" text-anchor="end" font-weight="bold" textLength="11" lengthAdjust="spacingAndGlyphs" style="font-family:'Liberation Sans', sans-serif">GND2</text>
<text x="350.6" y="341.9" font-size="6" fill="#3f4a78" text-anchor="end" font-weight="bold" style="font-family:'Liberation Sans', sans-serif">2</text>
<text x="441.8" y="341.9" font-size="6" fill="#3f4a78" font-weight="bold" style="font-family:'Liberation Sans', sans-serif">15</text>
<text x="360.9" y="353.29" font-size="5.4" fill="#5a5262" font-weight="bold" textLength="8.25" lengthAdjust="spacingAndGlyphs" style="font-family:'Liberation Sans', sans-serif">INA</text>
<text x="428.5" y="353.29" font-size="5.4" fill="#5a5262" text-anchor="end" font-weight="bold" textLength="11" lengthAdjust="spacingAndGlyphs" style="font-family:'Liberation Sans', sans-serif">OUTA</text>
<text x="350.6" y="351.1" font-size="6" fill="#3f4a78" text-anchor="end" font-weight="bold" style="font-family:'Liberation Sans', sans-serif">3</text>
<text x="441.8" y="351.1" font-size="6" fill="#3f4a78" font-weight="bold" style="font-family:'Liberation Sans', sans-serif">14</text>
<text x="360.9" y="362.49" font-size="5.4" fill="#5a5262" font-weight="bold" textLength="8.25" lengthAdjust="spacingAndGlyphs" style="font-family:'Liberation Sans', sans-serif">INB</text>
<text x="428.5" y="362.49" font-size="5.4" fill="#5a5262" text-anchor="end" font-weight="bold" textLength="11" lengthAdjust="spacingAndGlyphs" style="font-family:'Liberation Sans', sans-serif">OUTB</text>
<text x="350.6" y="360.3" font-size="6" fill="#3f4a78" text-anchor="end" font-weight="bold" style="font-family:'Liberation Sans', sans-serif">4</text>
<text x="441.8" y="360.3" font-size="6" fill="#3f4a78" font-weight="bold" style="font-family:'Liberation Sans', sans-serif">13</text>
<text x="360.9" y="371.69" font-size="5.4" fill="#5a5262" font-weight="bold" textLength="8.25" lengthAdjust="spacingAndGlyphs" style="font-family:'Liberation Sans', sans-serif">INC</text>
<text x="428.5" y="371.69" font-size="5.4" fill="#5a5262" text-anchor="end" font-weight="bold" textLength="11" lengthAdjust="spacingAndGlyphs" style="font-family:'Liberation Sans', sans-serif">OUTC</text>
<text x="350.6" y="369.5" font-size="6" fill="#3f4a78" text-anchor="end" font-weight="bold" style="font-family:'Liberation Sans', sans-serif">5</text>
<text x="441.8" y="369.5" font-size="6" fill="#3f4a78" font-weight="bold" style="font-family:'Liberation Sans', sans-serif">12</text>
<text x="360.9" y="380.89" font-size="5.4" fill="#5a5262" font-weight="bold" textLength="8.25" lengthAdjust="spacingAndGlyphs" style="font-family:'Liberation Sans', sans-serif">IND</text>
<text x="428.5" y="380.89" font-size="5.4" fill="#5a5262" text-anchor="end" font-weight="bold" textLength="11" lengthAdjust="spacingAndGlyphs" style="font-family:'Liberation Sans', sans-serif">OUTD</text>
<text x="350.6" y="378.7" font-size="6" fill="#3f4a78" text-anchor="end" font-weight="bold" style="font-family:'Liberation Sans', sans-serif">6</text>
<text x="441.8" y="378.7" font-size="6" fill="#3f4a78" font-weight="bold" style="font-family:'Liberation Sans', sans-serif">11</text>
<text x="360.9" y="390.09" font-size="5.4" fill="#5a5262" font-weight="bold" textLength="5.5" lengthAdjust="spacingAndGlyphs" style="font-family:'Liberation Sans', sans-serif">NC</text>
<text x="428.5" y="390.09" font-size="5.4" fill="#5a5262" text-anchor="end" font-weight="bold" textLength="5.5" lengthAdjust="spacingAndGlyphs" style="font-family:'Liberation Sans', sans-serif">EN</text>
<text x="350.6" y="387.9" font-size="6" fill="#3f4a78" text-anchor="end" font-weight="bold" style="font-family:'Liberation Sans', sans-serif">7</text>
<text x="441.8" y="387.9" font-size="6" fill="#3f4a78" font-weight="bold" style="font-family:'Liberation Sans', sans-serif">10</text>
<text x="360.9" y="399.29" font-size="5.4" fill="#5a5262" font-weight="bold" textLength="11" lengthAdjust="spacingAndGlyphs" style="font-family:'Liberation Sans', sans-serif">GND1</text>
<text x="428.5" y="399.29" font-size="5.4" fill="#5a5262" text-anchor="end" font-weight="bold" textLength="11" lengthAdjust="spacingAndGlyphs" style="font-family:'Liberation Sans', sans-serif">GND2</text>
<text x="350.6" y="397.1" font-size="6" fill="#3f4a78" text-anchor="end" font-weight="bold" style="font-family:'Liberation Sans', sans-serif">8</text>
<text x="441.8" y="397.1" font-size="6" fill="#3f4a78" font-weight="bold" style="font-family:'Liberation Sans', sans-serif">9</text>
<polyline points="393.5,330.5 393.5,402.5" fill="none" stroke="#444" stroke-width="1.3" stroke-dasharray="2,1.2"/>
<polyline points="399.5,330.5 399.5,402.5" fill="none" stroke="#444" stroke-width="1.3" stroke-dasharray="2,1.2"/>
<polyline points="381.5,352.5 393.5,352.5" fill="none" stroke="#000" stroke-width="1"/>
<polygon points="392,352.2 386,349 386,355.4" fill="none" stroke="#000" stroke-width="1"/>
<polyline points="399.5,352.5 412.5,352.5" fill="none" stroke="#000" stroke-width="1"/>
<polygon points="409.5,352.2 403,349 403,355.4" fill="none" stroke="#000" stroke-width="1"/>
<polyline points="381.5,361.5 393.5,361.5" fill="none" stroke="#000" stroke-width="1"/>
<polygon points="392,361.4 386,358.2 386,364.6" fill="none" stroke="#000" stroke-width="1"/>
<polyline points="399.5,361.5 412.5,361.5" fill="none" stroke="#000" stroke-width="1"/>
<polygon points="409.5,361.4 403,358.2 403,364.6" fill="none" stroke="#000" stroke-width="1"/>
<polyline points="381.5,370.5 393.5,370.5" fill="none" stroke="#000" stroke-width="1"/>
<polygon points="392,370.6 386,367.4 386,373.8" fill="none" stroke="#000" stroke-width="1"/>
<polyline points="399.5,370.5 412.5,370.5" fill="none" stroke="#000" stroke-width="1"/>
<polygon points="409.5,370.6 403,367.4 403,373.8" fill="none" stroke="#000" stroke-width="1"/>
<polyline points="381.5,379.5 393.5,379.5" fill="none" stroke="#000" stroke-width="1"/>
<polygon points="392,379.8 386,376.6 386,383" fill="none" stroke="#000" stroke-width="1"/>
<polyline points="399.5,379.5 412.5,379.5" fill="none" stroke="#000" stroke-width="1"/>
<polygon points="409.5,379.8 403,376.6 403,383" fill="none" stroke="#000" stroke-width="1"/>
<polyline points="388.5,382.5 388.5,389.5 375.5,389.5" fill="none" stroke="#000" stroke-width="1"/>
<polyline points="405.5,355.5 405.5,389.5 418.5,389.5" fill="none" stroke="#000" stroke-width="1"/>
<polyline points="323.5,250.5 323.5,333.5 359.5,333.5" fill="none" stroke="#000" stroke-width="1"/>
<path d="M356.18,242.17 L358.89,242.17 L359.79,243.06 L359.79,245.73 L358.89,246.62 L356.18,246.62 L356.18,242.17 M361.98,242.17 L365.6,242.17 L363.79,244.13 L364.69,244.13 L365.6,244.84 L365.6,245.73 L364.69,246.62 L362.89,246.62 L361.98,245.73 M369.33,246.27 L369.87,246.27 M376.76,242.17 L374.51,242.17 L373.6,243.06 L373.6,245.73 L374.51,246.62 L376.31,246.62 L377.22,245.73 L377.22,245.02 L376.31,244.4 L373.6,244.4 M379.41,242.17 L379.41,244.4 L381.22,246.62 L383.02,244.4 L383.02,242.17" fill="none" stroke="#000" stroke-width="1.15" stroke-linejoin="miter" stroke-miterlimit="1.5"/>
<polyline points="323.5,250.5 366.5,250.5" fill="none" stroke="#000" stroke-width="1"/>
<circle cx="338.3" cy="250.9" r="1.9" fill="#000"/>
<polyline points="338.5,250.5 338.5,260.5" fill="none" stroke="#000" stroke-width="1"/>
<polyline points="335.5,260.5 341.5,260.5" fill="none" stroke="#000" stroke-width="1.2"/>
<polyline points="335.5,266.5 341.5,266.5" fill="none" stroke="#000" stroke-width="1.2"/>
<polyline points="338.5,266.5 338.5,272.5" fill="none" stroke="#000" stroke-width="1"/>
<polyline points="366.5,250.5 366.5,260.5" fill="none" stroke="#000" stroke-width="1"/>
<polyline points="363.5,260.5 369.5,260.5" fill="none" stroke="#000" stroke-width="1.2"/>
<polyline points="363.5,266.5 369.5,266.5" fill="none" stroke="#000" stroke-width="1.2"/>
<polyline points="366.5,266.5 366.5,272.5" fill="none" stroke="#000" stroke-width="1"/>
<polyline points="338.5,272.5 366.5,272.5" fill="none" stroke="#000" stroke-width="1"/>
<circle cx="366.3" cy="272" r="1.9" fill="#000"/>
<polyline points="366.5,272.5 366.5,281.5" fill="none" stroke="#000" stroke-width="1"/>
<polygon points="359.8,281.3 372.8,281.3 366.3,287.6" fill="none" stroke="#000" stroke-width="1"/>
<text x="342.5" y="261.25" font-size="5" fill="#7a6658" font-weight="bold" textLength="9" lengthAdjust="spacingAndGlyphs" style="font-family:'Liberation Sans', sans-serif">C127</text>
<text x="342.5" y="268.6" font-size="5.14" fill="#111" font-weight="bold" textLength="9.5" lengthAdjust="spacingAndGlyphs" style="font-family:'Liberation Sans', sans-serif">1UF</text>
<text x="370.5" y="261.25" font-size="5" fill="#7a6658" font-weight="bold" textLength="9" lengthAdjust="spacingAndGlyphs" style="font-family:'Liberation Sans', sans-serif">C129</text>
<text x="371" y="268.6" font-size="5.14" fill="#111" font-weight="bold" textLength="16" lengthAdjust="spacingAndGlyphs" style="font-family:'Liberation Sans', sans-serif">0.1UF</text>
<polyline points="359.5,343.5 335.5,343.5 335.5,428.5" fill="none" stroke="#000" stroke-width="1"/>
<circle cx="335.5" cy="398.2" r="1.9" fill="#000"/>
<polyline points="335.5,398.5 359.5,398.5" fill="none" stroke="#000" stroke-width="1"/>
<polygon points="329,428.2 342,428.2 335.5,434.5" fill="none" stroke="#000" stroke-width="1"/>
<polyline points="353.5,379.5 359.5,379.5" fill="none" stroke="#000" stroke-width="1"/>
<polyline points="353.5,389.5 359.5,389.5" fill="none" stroke="#000" stroke-width="1"/>
<polyline points="433.5,333.5 467.5,333.5" fill="none" stroke="#000" stroke-width="1"/>
<circle cx="467.3" cy="333.8" r="1.9" fill="#000"/>
<polyline points="467.5,278.5 467.5,389.5 433.5,389.5" fill="none" stroke="#000" stroke-width="1"/>
<path d="M545.58,269.77 L545.58,272.1 L547.43,274.42 L549.29,272.1 L549.29,269.77 M551.51,269.77 L554.3,269.77 L555.22,270.7 L555.22,273.5 L554.3,274.42 L551.51,274.42 L551.51,269.77 M557.44,269.77 L560.23,269.77 L561.16,270.7 L561.16,273.5 L560.23,274.42 L557.44,274.42 L557.44,269.77 M564.12,269.77 L566.35,269.77 M565.23,269.77 L565.23,274.42 M564.12,274.42 L566.35,274.42 M570.24,269.77 L572.1,269.77 L573.03,270.7 L573.03,273.5 L572.1,274.42 L570.24,274.42 L569.31,273.5 L569.31,270.7 L570.24,269.77" fill="none" stroke="#000" stroke-width="1.15" stroke-linejoin="miter" stroke-miterlimit="1.5"/>
<polyline points="467.5,278.5 556.5,278.5" fill="none" stroke="#000" stroke-width="1"/>
<circle cx="485.8" cy="278.4" r="1.9" fill="#000"/>
<circle cx="516.4" cy="278.4" r="1.9" fill="#000"/>
<polyline points="485.5,278.5 485.5,284.5" fill="none" stroke="#000" stroke-width="1"/>
<polyline points="482.5,284.5 489.5,284.5" fill="none" stroke="#000" stroke-width="1.2"/>
<polyline points="482.5,291.5 489.5,291.5" fill="none" stroke="#000" stroke-width="1.2"/>
<polyline points="485.5,291.5 485.5,296.5" fill="none" stroke="#000" stroke-width="1"/>
<polyline points="516.5,278.5 516.5,284.5" fill="none" stroke="#000" stroke-width="1"/>
<polyline points="513.5,284.5 519.5,284.5" fill="none" stroke="#000" stroke-width="1.2"/>
<polyline points="513.5,291.5 519.5,291.5" fill="none" stroke="#000" stroke-width="1.2"/>
<polyline points="516.5,291.5 516.5,296.5" fill="none" stroke="#000" stroke-width="1"/>
<polyline points="485.5,296.5 516.5,296.5" fill="none" stroke="#000" stroke-width="1"/>
<circle cx="485.8" cy="296.7" r="1.9" fill="#000"/>
<polyline points="485.5,296.5 485.5,306.5" fill="none" stroke="#000" stroke-width="1"/>
<polyline points="479.5,306.5 491.5,306.5" fill="none" stroke="#000" stroke-width="1"/>
<polyline points="481.5,308.5 490.5,308.5" fill="none" stroke="#000" stroke-width="1"/>
<polyline points="483.5,311.5 487.5,311.5" fill="none" stroke="#000" stroke-width="1"/>
<text x="491.5" y="284.65" font-size="5" fill="#7a6658" font-weight="bold" textLength="8" lengthAdjust="spacingAndGlyphs" style="font-family:'Liberation Sans', sans-serif">C128</text>
<text x="491.5" y="291.9" font-size="5.14" fill="#111" font-weight="bold" textLength="16" lengthAdjust="spacingAndGlyphs" style="font-family:'Liberation Sans', sans-serif">0.1UF</text>
<text x="522" y="284.65" font-size="5" fill="#7a6658" font-weight="bold" textLength="8" lengthAdjust="spacingAndGlyphs" style="font-family:'Liberation Sans', sans-serif">C126</text>
<text x="522" y="291.9" font-size="5.14" fill="#111" font-weight="bold" textLength="9.6" lengthAdjust="spacingAndGlyphs" style="font-family:'Liberation Sans', sans-serif">1UF</text>
<polyline points="433.5,343.5 455.5,343.5 455.5,425.5" fill="none" stroke="#000" stroke-width="1"/>
<circle cx="455" cy="398.2" r="1.9" fill="#000"/>
<polyline points="433.5,398.5 455.5,398.5" fill="none" stroke="#000" stroke-width="1"/>
<polyline points="449.5,425.5 461.5,425.5" fill="none" stroke="#000" stroke-width="1"/>
<polyline points="450.5,427.5 459.5,427.5" fill="none" stroke="#000" stroke-width="1"/>
<polyline points="452.5,430.5 457.5,430.5" fill="none" stroke="#000" stroke-width="1"/>
<polyline points="433.5,352.5 529.5,352.5" fill="none" stroke="#000" stroke-width="1"/>
<path d="M530.48,345.57 L533.22,345.57 L534.14,346.7 L534.14,350.09 L533.22,351.22 L530.48,351.22 L530.48,345.57 M537.26,345.57 L539.09,345.57 L540.01,346.7 L540.01,350.09 L539.09,351.22 L537.26,351.22 L536.35,350.09 L536.35,346.7 L537.26,345.57 M542.22,345.57 L542.22,350.09 L543.13,351.22 L544.96,351.22 L545.88,350.09 L545.88,345.57 M548.09,345.57 L551.75,345.57 M549.92,345.57 L549.92,351.22 M553.32,351.22 L558.26,351.22 M559.83,351.22 L559.83,346.7 L560.75,345.57 L562.58,345.57 L563.49,346.7 L563.49,351.22 M559.83,348.96 L563.49,348.96 M565.7,345.57 L568.45,345.57 L569.36,346.7 L569.36,350.09 L568.45,351.22 L565.7,351.22 L565.7,345.57 M575.23,346.7 L574.32,345.57 L572.49,345.57 L571.57,346.7 L571.57,350.09 L572.49,351.22 L574.32,351.22 L575.23,350.09 M576.8,351.22 L581.75,351.22 M586.98,345.57 L583.31,345.57 L583.31,351.22 M583.31,348.4 L586.06,348.4 M589.18,351.22 L589.18,345.57 L591.93,345.57 L592.85,346.7 L592.85,347.83 L591.93,348.96 L589.18,348.96 M598.72,346.7 L597.8,345.57 L595.97,345.57 L595.05,346.7 L595.05,350.09 L595.97,351.22 L597.8,351.22 L598.72,350.09 L598.72,348.63 L597.07,348.63 M600.92,351.22 L600.92,346.7 L601.84,345.57 L603.67,345.57 L604.59,346.7 L604.59,351.22 M600.92,348.96 L604.59,348.96" fill="none" stroke="#000" stroke-width="1.15" stroke-linejoin="miter" stroke-miterlimit="1.5"/>
<polyline points="433.5,361.5 529.5,361.5" fill="none" stroke="#000" stroke-width="1"/>
<path d="M530.48,360.43 L530.48,354.78 L533.22,354.78 L534.14,355.91 L534.14,357.04 L533.22,358.17 L530.48,358.17 M532.31,358.17 L534.14,360.43 M536.35,354.78 L539.09,354.78 L540.01,355.91 L540.01,359.3 L539.09,360.43 L536.35,360.43 L536.35,354.78 M542.22,354.78 L544.05,357.6 L545.88,354.78 M544.05,357.6 L544.05,360.43 M548.09,354.78 L548.09,360.43 L550.84,360.43 L551.75,359.3 L551.75,358.5 L550.84,357.6 L548.09,357.6 M548.09,354.78 L550.84,354.78 L551.75,355.68 L551.75,356.7 L550.84,357.6 M553.32,360.43 L558.26,360.43 M559.83,360.43 L559.83,355.91 L560.75,354.78 L562.58,354.78 L563.49,355.91 L563.49,360.43 M559.83,358.17 L563.49,358.17 M565.7,354.78 L568.45,354.78 L569.36,355.91 L569.36,359.3 L568.45,360.43 L565.7,360.43 L565.7,354.78 M575.23,355.91 L574.32,354.78 L572.49,354.78 L571.57,355.91 L571.57,359.3 L572.49,360.43 L574.32,360.43 L575.23,359.3 M576.8,360.43 L581.75,360.43 M586.98,354.78 L583.31,354.78 L583.31,360.43 M583.31,357.6 L586.06,357.6 M589.18,360.43 L589.18,354.78 L591.93,354.78 L592.85,355.91 L592.85,357.04 L591.93,358.17 L589.18,358.17 M598.72,355.91 L597.8,354.78 L595.97,354.78 L595.05,355.91 L595.05,359.3 L595.97,360.43 L597.8,360.43 L598.72,359.3 L598.72,357.83 L597.07,357.83 M600.92,360.43 L600.92,355.91 L601.84,354.78 L603.67,354.78 L604.59,355.91 L604.59,360.43 M600.92,358.17 L604.59,358.17" fill="none" stroke="#000" stroke-width="1.15" stroke-linejoin="miter" stroke-miterlimit="1.5"/>
<polyline points="433.5,370.5 529.5,370.5" fill="none" stroke="#000" stroke-width="1"/>
<path d="M534.14,365.11 L533.22,363.98 L531.39,363.98 L530.48,365.11 L530.48,366.01 L531.21,366.8 L533.41,366.8 L534.14,367.59 L534.14,368.5 L533.22,369.62 L531.39,369.62 L530.48,368.5 M540.01,365.11 L539.1,363.98 L537.26,363.98 L536.35,365.11 L536.35,368.5 L537.26,369.62 L539.1,369.62 L540.01,368.5 M542.22,363.98 L542.22,369.62 L545.89,369.62 M548.09,363.98 L548.09,369.62 M551.76,363.98 L548.09,367.37 M549.56,366.24 L551.76,369.62 M553.33,369.62 L558.27,369.62 M559.84,369.62 L559.84,365.11 L560.76,363.98 L562.59,363.98 L563.51,365.11 L563.51,369.62 M559.84,367.37 L563.51,367.37 M565.71,363.98 L568.46,363.98 L569.38,365.11 L569.38,368.5 L568.46,369.62 L565.71,369.62 L565.71,363.98 M575.25,365.11 L574.34,363.98 L572.5,363.98 L571.59,365.11 L571.59,368.5 L572.5,369.62 L574.34,369.62 L575.25,368.5 M576.82,369.62 L581.77,369.62 M584.25,363.98 L586.08,363.98 L587,365.11 L587,368.5 L586.08,369.62 L584.25,369.62 L583.33,368.5 L583.33,365.11 L584.25,363.98 M589.21,363.98 L589.21,368.5 L590.12,369.62 L591.95,369.62 L592.87,368.5 L592.87,363.98 M595.08,363.98 L598.74,363.98 M596.91,363.98 L596.91,369.62 M600.31,369.62 L605.26,369.62 M610.49,363.98 L606.82,363.98 L606.82,369.62 M606.82,366.8 L609.57,366.8 M612.7,369.62 L612.7,363.98 L615.45,363.98 L616.36,365.11 L616.36,366.24 L615.45,367.37 L612.7,367.37 M622.24,365.11 L621.32,363.98 L619.49,363.98 L618.57,365.11 L618.57,368.5 L619.49,369.62 L621.32,369.62 L622.24,368.5 L622.24,367.03 L620.59,367.03 M624.44,369.62 L624.44,365.11 L625.36,363.98 L627.19,363.98 L628.11,365.11 L628.11,369.62 M624.44,367.37 L628.11,367.37" fill="none" stroke="#000" stroke-width="1.15" stroke-linejoin="miter" stroke-miterlimit="1.5"/>
<polyline points="433.5,379.5 440.5,379.5" fill="none" stroke="#000" stroke-width="1"/>
<rect x="360.5" y="526.5" width="73" height="86" fill="none" stroke="#333" stroke-width="1.3"/>
<text x="400.7" y="517.21" font-size="4.6" fill="#7a6658" font-weight="bold" textLength="7" lengthAdjust="spacingAndGlyphs" style="font-family:'Liberation Sans', sans-serif">U22</text>
<text x="400.2" y="524.4" font-size="5.14" fill="#111" font-weight="bold" textLength="43" lengthAdjust="spacingAndGlyphs" style="font-family:'Liberation Sans', sans-serif">MAX14934FAWE</text>
<text x="361.2" y="539.89" font-size="5.4" fill="#5a5262" font-weight="bold" textLength="11" lengthAdjust="spacingAndGlyphs" style="font-family:'Liberation Sans', sans-serif">VCC2</text>
<text x="428.4" y="539.89" font-size="5.4" fill="#5a5262" text-anchor="end" font-weight="bold" textLength="11" lengthAdjust="spacingAndGlyphs" style="font-family:'Liberation Sans', sans-serif">VCC1</text>
<text x="350.9" y="537.7" font-size="6" fill="#3f4a78" text-anchor="end" font-weight="bold" style="font-family:'Liberation Sans', sans-serif">16</text>
<text x="441.7" y="537.7" font-size="6" fill="#3f4a78" font-weight="bold" style="font-family:'Liberation Sans', sans-serif">1</text>
<text x="361.2" y="549.1" font-size="5.4" fill="#5a5262" font-weight="bold" textLength="11" lengthAdjust="spacingAndGlyphs" style="font-family:'Liberation Sans', sans-serif">GND2</text>
<text x="428.4" y="549.1" font-size="5.4" fill="#5a5262" text-anchor="end" font-weight="bold" textLength="11" lengthAdjust="spacingAndGlyphs" style="font-family:'Liberation Sans', sans-serif">GND1</text>
<text x="350.9" y="546.91" font-size="6" fill="#3f4a78" text-anchor="end" font-weight="bold" style="font-family:'Liberation Sans', sans-serif">15</text>
<text x="441.7" y="546.91" font-size="6" fill="#3f4a78" font-weight="bold" style="font-family:'Liberation Sans', sans-serif">2</text>
<text x="361.2" y="558.31" font-size="5.4" fill="#5a5262" font-weight="bold" textLength="11" lengthAdjust="spacingAndGlyphs" style="font-family:'Liberation Sans', sans-serif">OUTA</text>
<text x="428.4" y="558.31" font-size="5.4" fill="#5a5262" text-anchor="end" font-weight="bold" textLength="8.25" lengthAdjust="spacingAndGlyphs" style="font-family:'Liberation Sans', sans-serif">INA</text>
<text x="350.9" y="556.12" font-size="6" fill="#3f4a78" text-anchor="end" font-weight="bold" style="font-family:'Liberation Sans', sans-serif">14</text>
<text x="441.7" y="556.12" font-size="6" fill="#3f4a78" font-weight="bold" style="font-family:'Liberation Sans', sans-serif">3</text>
<text x="361.2" y="567.52" font-size="5.4" fill="#5a5262" font-weight="bold" textLength="11" lengthAdjust="spacingAndGlyphs" style="font-family:'Liberation Sans', sans-serif">OUTB</text>
<text x="428.4" y="567.52" font-size="5.4" fill="#5a5262" text-anchor="end" font-weight="bold" textLength="8.25" lengthAdjust="spacingAndGlyphs" style="font-family:'Liberation Sans', sans-serif">INB</text>
<text x="350.9" y="565.33" font-size="6" fill="#3f4a78" text-anchor="end" font-weight="bold" style="font-family:'Liberation Sans', sans-serif">13</text>
<text x="441.7" y="565.33" font-size="6" fill="#3f4a78" font-weight="bold" style="font-family:'Liberation Sans', sans-serif">4</text>
<text x="361.2" y="576.73" font-size="5.4" fill="#5a5262" font-weight="bold" textLength="11" lengthAdjust="spacingAndGlyphs" style="font-family:'Liberation Sans', sans-serif">OUTC</text>
<text x="428.4" y="576.73" font-size="5.4" fill="#5a5262" text-anchor="end" font-weight="bold" textLength="8.25" lengthAdjust="spacingAndGlyphs" style="font-family:'Liberation Sans', sans-serif">INC</text>
<text x="350.9" y="574.54" font-size="6" fill="#3f4a78" text-anchor="end" font-weight="bold" style="font-family:'Liberation Sans', sans-serif">12</text>
<text x="441.7" y="574.54" font-size="6" fill="#3f4a78" font-weight="bold" style="font-family:'Liberation Sans', sans-serif">5</text>
<text x="361.2" y="585.94" font-size="5.4" fill="#5a5262" font-weight="bold" textLength="11" lengthAdjust="spacingAndGlyphs" style="font-family:'Liberation Sans', sans-serif">OUTD</text>
<text x="428.4" y="585.94" font-size="5.4" fill="#5a5262" text-anchor="end" font-weight="bold" textLength="8.25" lengthAdjust="spacingAndGlyphs" style="font-family:'Liberation Sans', sans-serif">IND</text>
<text x="350.9" y="583.75" font-size="6" fill="#3f4a78" text-anchor="end" font-weight="bold" style="font-family:'Liberation Sans', sans-serif">11</text>
<text x="441.7" y="583.75" font-size="6" fill="#3f4a78" font-weight="bold" style="font-family:'Liberation Sans', sans-serif">6</text>
<text x="361.2" y="595.15" font-size="5.4" fill="#5a5262" font-weight="bold" textLength="5.5" lengthAdjust="spacingAndGlyphs" style="font-family:'Liberation Sans', sans-serif">EN</text>
<text x="428.4" y="595.15" font-size="5.4" fill="#5a5262" text-anchor="end" font-weight="bold" textLength="5.5" lengthAdjust="spacingAndGlyphs" style="font-family:'Liberation Sans', sans-serif">NC</text>
<text x="350.9" y="592.96" font-size="6" fill="#3f4a78" text-anchor="end" font-weight="bold" style="font-family:'Liberation Sans', sans-serif">10</text>
<text x="441.7" y="592.96" font-size="6" fill="#3f4a78" font-weight="bold" style="font-family:'Liberation Sans', sans-serif">7</text>
<text x="361.2" y="604.36" font-size="5.4" fill="#5a5262" font-weight="bold" textLength="11" lengthAdjust="spacingAndGlyphs" style="font-family:'Liberation Sans', sans-serif">GND2</text>
<text x="428.4" y="604.36" font-size="5.4" fill="#5a5262" text-anchor="end" font-weight="bold" textLength="11" lengthAdjust="spacingAndGlyphs" style="font-family:'Liberation Sans', sans-serif">GND1</text>
<text x="350.9" y="602.17" font-size="6" fill="#3f4a78" text-anchor="end" font-weight="bold" style="font-family:'Liberation Sans', sans-serif">9</text>
<text x="441.7" y="602.17" font-size="6" fill="#3f4a78" font-weight="bold" style="font-family:'Liberation Sans', sans-serif">8</text>
<polyline points="393.5,535.5 393.5,607.5" fill="none" stroke="#444" stroke-width="1.3" stroke-dasharray="2,1.2"/>
<polyline points="399.5,535.5 399.5,607.5" fill="none" stroke="#444" stroke-width="1.3" stroke-dasharray="2,1.2"/>
<polyline points="381.5,557.5 393.5,557.5" fill="none" stroke="#000" stroke-width="1"/>
<polygon points="385.7,557.22 390.6,554.02 390.6,560.42" fill="none" stroke="#000" stroke-width="1"/>
<polyline points="399.5,557.5 412.5,557.5" fill="none" stroke="#000" stroke-width="1"/>
<polygon points="402.9,557.22 409.5,554.02 409.5,560.42" fill="none" stroke="#000" stroke-width="1"/>
<polyline points="381.5,566.5 393.5,566.5" fill="none" stroke="#000" stroke-width="1"/>
<polygon points="385.7,566.43 390.6,563.23 390.6,569.63" fill="none" stroke="#000" stroke-width="1"/>
<polyline points="399.5,566.5 412.5,566.5" fill="none" stroke="#000" stroke-width="1"/>
<polygon points="402.9,566.43 409.5,563.23 409.5,569.63" fill="none" stroke="#000" stroke-width="1"/>
<polyline points="381.5,575.5 393.5,575.5" fill="none" stroke="#000" stroke-width="1"/>
<polygon points="385.7,575.64 390.6,572.44 390.6,578.84" fill="none" stroke="#000" stroke-width="1"/>
<polyline points="399.5,575.5 412.5,575.5" fill="none" stroke="#000" stroke-width="1"/>
<polygon points="402.9,575.64 409.5,572.44 409.5,578.84" fill="none" stroke="#000" stroke-width="1"/>
<polyline points="381.5,584.5 393.5,584.5" fill="none" stroke="#000" stroke-width="1"/>
<polygon points="385.7,584.85 390.6,581.65 390.6,588.05" fill="none" stroke="#000" stroke-width="1"/>
<polyline points="399.5,584.5 412.5,584.5" fill="none" stroke="#000" stroke-width="1"/>
<polygon points="402.9,584.85 409.5,581.65 409.5,588.05" fill="none" stroke="#000" stroke-width="1"/>
<polyline points="387.5,560.5 387.5,594.5 375.5,594.5" fill="none" stroke="#000" stroke-width="1"/>
<polyline points="406.5,587.5 406.5,594.5 418.5,594.5" fill="none" stroke="#000" stroke-width="1"/>
<path d="M189.43,475.96 L189.43,479.64 M187.57,477.8 L191.29,477.8 M193.51,475.38 L197.22,475.38 L195.37,477.51 L196.3,477.51 L197.22,478.29 L197.22,479.25 L196.3,480.23 L194.44,480.23 L193.51,479.25 M201.02,479.84 L201.58,479.84 M205.38,475.38 L209.09,475.38 L207.23,477.51 L208.16,477.51 L209.09,478.29 L209.09,479.25 L208.16,480.23 L206.3,480.23 L205.38,479.25 M211.31,475.38 L211.31,477.8 L213.17,480.23 L215.02,477.8 L215.02,475.38" fill="none" stroke="#000" stroke-width="1.15" stroke-linejoin="miter" stroke-miterlimit="1.5"/>
<polyline points="209.5,480.5 323.5,480.5 323.5,594.5 360.5,594.5" fill="none" stroke="#000" stroke-width="1"/>
<circle cx="323.2" cy="538.8" r="1.9" fill="#000"/>
<polyline points="323.5,538.5 360.5,538.5" fill="none" stroke="#000" stroke-width="1"/>
<circle cx="270.8" cy="480.8" r="1.9" fill="#000"/>
<circle cx="298.6" cy="480.8" r="1.9" fill="#000"/>
<polyline points="270.5,480.5 270.5,486.5" fill="none" stroke="#000" stroke-width="1"/>
<polyline points="267.5,486.5 274.5,486.5" fill="none" stroke="#000" stroke-width="1.2"/>
<polyline points="267.5,493.5 274.5,493.5" fill="none" stroke="#000" stroke-width="1.2"/>
<polyline points="270.5,493.5 270.5,499.5" fill="none" stroke="#000" stroke-width="1"/>
<polyline points="298.5,480.5 298.5,486.5" fill="none" stroke="#000" stroke-width="1"/>
<polyline points="295.5,486.5 301.5,486.5" fill="none" stroke="#000" stroke-width="1.2"/>
<polyline points="295.5,493.5 301.5,493.5" fill="none" stroke="#000" stroke-width="1.2"/>
<polyline points="298.5,493.5 298.5,499.5" fill="none" stroke="#000" stroke-width="1"/>
<polyline points="270.5,499.5 298.5,499.5" fill="none" stroke="#000" stroke-width="1"/>
<circle cx="298.6" cy="499.3" r="1.9" fill="#000"/>
<polyline points="298.5,499.5 298.5,508.5" fill="none" stroke="#000" stroke-width="1"/>
<polygon points="292.1,508.6 305.1,508.6 298.6,514.9" fill="none" stroke="#000" stroke-width="1"/>
<text x="276.5" y="487.25" font-size="5" fill="#7a6658" font-weight="bold" textLength="8" lengthAdjust="spacingAndGlyphs" style="font-family:'Liberation Sans', sans-serif">C78</text>
<text x="276.5" y="494.3" font-size="5.14" fill="#111" font-weight="bold" textLength="9.5" lengthAdjust="spacingAndGlyphs" style="font-family:'Liberation Sans', sans-serif">1UF</text>
<text x="303.8" y="487.25" font-size="5" fill="#7a6658" font-weight="bold" textLength="8" lengthAdjust="spacingAndGlyphs" style="font-family:'Liberation Sans', sans-serif">C79</text>
<text x="304" y="494.3" font-size="5.14" fill="#111" font-weight="bold" textLength="16" lengthAdjust="spacingAndGlyphs" style="font-family:'Liberation Sans', sans-serif">0.1UF</text>
<polyline points="360.5,548.5 335.5,548.5 335.5,634.5" fill="none" stroke="#000" stroke-width="1"/>
<circle cx="335.3" cy="603.27" r="1.9" fill="#000"/>
<polyline points="335.5,603.5 360.5,603.5" fill="none" stroke="#000" stroke-width="1"/>
<polygon points="328.8,634.2 341.8,634.2 335.3,640.5" fill="none" stroke="#000" stroke-width="1"/>
<path d="M151.03,555.73 L150.11,554.7 L148.27,554.7 L147.35,555.73 L147.35,558.82 L148.27,559.85 L150.11,559.85 L151.03,558.82 M156.91,555.73 L155.99,554.7 L154.15,554.7 L153.23,555.73 L153.23,556.55 L153.97,557.27 L156.17,557.27 L156.91,557.99 L156.91,558.82 L155.99,559.85 L154.15,559.85 L153.23,558.82 M158.47,559.85 L163.43,559.85 M164.99,554.7 L167.75,554.7 L168.67,555.73 L168.67,558.82 L167.75,559.85 L164.99,559.85 L164.99,554.7 M170.87,559.85 L170.87,555.73 L171.79,554.7 L173.63,554.7 L174.55,555.73 L174.55,559.85 M170.87,557.79 L174.55,557.79 M180.43,555.73 L179.51,554.7 L177.67,554.7 L176.75,555.73 L176.75,558.82 L177.67,559.85 L179.51,559.85 L180.43,558.82" fill="none" stroke="#000" stroke-width="1.15" stroke-linejoin="miter" stroke-miterlimit="1.5"/>
<polygon points="182.8,557.22 185.8,554.42 197.6,554.42 197.6,560.02 185.8,560.02" fill="none" stroke="#111" stroke-width="1"/>
<text x="186.8" y="558.91" font-size="5.4" fill="#8a7890" font-weight="bold" textLength="8.8" lengthAdjust="spacingAndGlyphs" style="font-family:'Liberation Sans', sans-serif">OUT</text>
<polyline points="197.5,557.5 246.5,557.5" fill="none" stroke="#000" stroke-width="1"/>
<polyline points="246.5,557.5 249.5,554.5 255.5,560.5 261.5,554.5 267.5,560.5 270.5,557.5" fill="none" stroke="#000" stroke-width="1"/>
<polyline points="270.5,557.5 360.5,557.5" fill="none" stroke="#000" stroke-width="1"/>
<text x="224.5" y="554.37" font-size="5" fill="#7a6658" font-weight="bold" textLength="11" lengthAdjust="spacingAndGlyphs" style="font-family:'Liberation Sans', sans-serif">R831</text>
<path d="M273.27,551.16 L274.14,550.19 L275.86,550.19 L276.72,551.16 L276.72,552.13 L273.27,555.04 L276.72,555.04 M278.88,550.19 L278.88,555.04 L281.46,555.04 L282.32,554.07 L282.32,553.4 L281.46,552.62 L278.88,552.62 M278.88,550.19 L281.46,550.19 L282.32,550.97 L282.32,551.84 L281.46,552.62" fill="none" stroke="#000" stroke-width="1.15" stroke-linejoin="miter" stroke-miterlimit="1.5"/>
<path d="M139.23,564.94 L138.31,563.91 L136.47,563.91 L135.55,564.94 L135.55,565.76 L136.29,566.48 L138.5,566.48 L139.23,567.2 L139.23,568.03 L138.31,569.06 L136.47,569.06 L135.55,568.03 M145.12,564.94 L144.2,563.91 L142.36,563.91 L141.44,564.94 L141.44,568.03 L142.36,569.06 L144.2,569.06 L145.12,568.03 M147.32,563.91 L147.32,569.06 L151,569.06 M153.21,563.91 L153.21,569.06 M156.89,563.91 L153.21,567 M154.68,565.97 L156.89,569.06 M158.45,569.06 L163.41,569.06 M164.98,563.91 L167.74,563.91 L168.66,564.94 L168.66,568.03 L167.74,569.06 L164.98,569.06 L164.98,563.91 M170.86,569.06 L170.86,564.94 L171.78,563.91 L173.62,563.91 L174.54,564.94 L174.54,569.06 M170.86,567 L174.54,567 M180.42,564.94 L179.51,563.91 L177.67,563.91 L176.75,564.94 L176.75,568.03 L177.67,569.06 L179.51,569.06 L180.42,568.03" fill="none" stroke="#000" stroke-width="1.15" stroke-linejoin="miter" stroke-miterlimit="1.5"/>
<polygon points="182.8,566.43 185.8,563.63 197.6,563.63 197.6,569.23 185.8,569.23" fill="none" stroke="#111" stroke-width="1"/>
<text x="186.8" y="568.12" font-size="5.4" fill="#8a7890" font-weight="bold" textLength="8.8" lengthAdjust="spacingAndGlyphs" style="font-family:'Liberation Sans', sans-serif">OUT</text>
<polyline points="197.5,566.5 246.5,566.5" fill="none" stroke="#000" stroke-width="1"/>
<polyline points="246.5,566.5 249.5,563.5 255.5,569.5 261.5,563.5 267.5,569.5 270.5,566.5" fill="none" stroke="#000" stroke-width="1"/>
<polyline points="270.5,566.5 360.5,566.5" fill="none" stroke="#000" stroke-width="1"/>
<text x="224.5" y="563.58" font-size="5" fill="#7a6658" font-weight="bold" textLength="11" lengthAdjust="spacingAndGlyphs" style="font-family:'Liberation Sans', sans-serif">R832</text>
<path d="M273.27,560.38 L274.14,559.4 L275.86,559.4 L276.72,560.38 L276.72,561.35 L273.27,564.25 L276.72,564.25 M278.88,559.4 L278.88,564.25 L281.46,564.25 L282.32,563.28 L282.32,562.61 L281.46,561.83 L278.88,561.83 M278.88,559.4 L281.46,559.4 L282.32,560.18 L282.32,561.05 L281.46,561.83" fill="none" stroke="#000" stroke-width="1.15" stroke-linejoin="miter" stroke-miterlimit="1.5"/>
<path d="M141.45,573.12 L144.21,573.12 L145.13,574.15 L145.13,577.24 L144.21,578.27 L141.45,578.27 L141.45,573.12 M148.07,573.12 L150.28,573.12 M149.17,573.12 L149.17,578.27 M148.07,578.27 L150.28,578.27 M153.22,578.27 L153.22,573.12 L156.89,578.27 L156.89,573.12 M158.46,578.27 L163.42,578.27 M164.99,573.12 L167.74,573.12 L168.66,574.15 L168.66,577.24 L167.74,578.27 L164.99,578.27 L164.99,573.12 M170.87,578.27 L170.87,574.15 L171.79,573.12 L173.62,573.12 L174.54,574.15 L174.54,578.27 M170.87,576.21 L174.54,576.21 M180.43,574.15 L179.51,573.12 L177.67,573.12 L176.75,574.15 L176.75,577.24 L177.67,578.27 L179.51,578.27 L180.43,577.24" fill="none" stroke="#000" stroke-width="1.15" stroke-linejoin="miter" stroke-miterlimit="1.5"/>
<polygon points="182.8,575.64 185.8,572.84 197.6,572.84 197.6,578.44 185.8,578.44" fill="none" stroke="#111" stroke-width="1"/>
<text x="186.8" y="577.33" font-size="5.4" fill="#8a7890" font-weight="bold" textLength="8.8" lengthAdjust="spacingAndGlyphs" style="font-family:'Liberation Sans', sans-serif">OUT</text>
<polyline points="197.5,575.5 246.5,575.5" fill="none" stroke="#000" stroke-width="1"/>
<polyline points="246.5,575.5 249.5,572.5 255.5,578.5 261.5,572.5 267.5,578.5 270.5,575.5" fill="none" stroke="#000" stroke-width="1"/>
<polyline points="270.5,575.5 360.5,575.5" fill="none" stroke="#000" stroke-width="1"/>
<text x="224.5" y="572.79" font-size="5" fill="#7a6658" font-weight="bold" textLength="11" lengthAdjust="spacingAndGlyphs" style="font-family:'Liberation Sans', sans-serif">R833</text>
<path d="M273.27,569.59 L274.14,568.62 L275.86,568.62 L276.72,569.59 L276.72,570.56 L273.27,573.47 L276.72,573.47 M278.88,568.62 L278.88,573.47 L281.46,573.47 L282.32,572.5 L282.32,571.82 L281.46,571.04 L278.88,571.04 M278.88,568.62 L281.46,568.62 L282.32,569.39 L282.32,570.26 L281.46,571.04" fill="none" stroke="#000" stroke-width="1.15" stroke-linejoin="miter" stroke-miterlimit="1.5"/>
<path d="M159.15,582.33 L159.15,587.48 L162.82,587.48 M165.02,582.33 L167.77,582.33 L168.69,583.36 L168.69,586.45 L167.77,587.48 L165.02,587.48 L165.02,582.33 M170.89,587.48 L170.89,583.36 L171.81,582.33 L173.64,582.33 L174.56,583.36 L174.56,587.48 M170.89,585.42 L174.56,585.42 M180.43,583.36 L179.51,582.33 L177.68,582.33 L176.76,583.36 L176.76,586.45 L177.68,587.48 L179.51,587.48 L180.43,586.45" fill="none" stroke="#000" stroke-width="1.15" stroke-linejoin="miter" stroke-miterlimit="1.5"/>
<polygon points="182.8,584.85 185.8,582.05 197.6,582.05 197.6,587.65 185.8,587.65" fill="none" stroke="#111" stroke-width="1"/>
<text x="186.8" y="586.54" font-size="5.4" fill="#8a7890" font-weight="bold" textLength="8.8" lengthAdjust="spacingAndGlyphs" style="font-family:'Liberation Sans', sans-serif">OUT</text>
<polyline points="197.5,584.5 246.5,584.5" fill="none" stroke="#000" stroke-width="1"/>
<polyline points="246.5,584.5 249.5,581.5 255.5,587.5 261.5,581.5 267.5,587.5 270.5,584.5" fill="none" stroke="#000" stroke-width="1"/>
<polyline points="270.5,584.5 360.5,584.5" fill="none" stroke="#000" stroke-width="1"/>
<text x="224.5" y="582" font-size="5" fill="#7a6658" font-weight="bold" textLength="11" lengthAdjust="spacingAndGlyphs" style="font-family:'Liberation Sans', sans-serif">R835</text>
<path d="M273.27,578.79 L274.14,577.82 L275.86,577.82 L276.72,578.79 L276.72,579.76 L273.27,582.67 L276.72,582.67 M278.88,577.82 L278.88,582.67 L281.46,582.67 L282.32,581.7 L282.32,581.03 L281.46,580.25 L278.88,580.25 M278.88,577.82 L281.46,577.82 L282.32,578.6 L282.32,579.47 L281.46,580.25" fill="none" stroke="#000" stroke-width="1.15" stroke-linejoin="miter" stroke-miterlimit="1.5"/>
<polyline points="433.5,538.5 470.5,538.5 470.5,480.5" fill="none" stroke="#000" stroke-width="1"/>
<path d="M546.08,471.77 L546.08,474.1 L547.93,476.42 L549.79,474.1 L549.79,471.77 M552.01,471.77 L554.8,471.77 L555.72,472.7 L555.72,475.5 L554.8,476.42 L552.01,476.42 L552.01,471.77 M557.94,471.77 L560.73,471.77 L561.66,472.7 L561.66,475.5 L560.73,476.42 L557.94,476.42 L557.94,471.77 M564.62,471.77 L566.85,471.77 M565.73,471.77 L565.73,476.42 M564.62,476.42 L566.85,476.42 M570.74,471.77 L572.6,471.77 L573.53,472.7 L573.53,475.5 L572.6,476.42 L570.74,476.42 L569.81,475.5 L569.81,472.7 L570.74,471.77" fill="none" stroke="#000" stroke-width="1.15" stroke-linejoin="miter" stroke-miterlimit="1.5"/>
<polyline points="470.5,480.5 556.5,480.5" fill="none" stroke="#000" stroke-width="1"/>
<circle cx="485.8" cy="480.8" r="1.9" fill="#000"/>
<circle cx="516.4" cy="480.8" r="1.9" fill="#000"/>
<polyline points="485.5,480.5 485.5,487.5" fill="none" stroke="#000" stroke-width="1"/>
<polyline points="482.5,487.5 489.5,487.5" fill="none" stroke="#000" stroke-width="1.2"/>
<polyline points="482.5,493.5 489.5,493.5" fill="none" stroke="#000" stroke-width="1.2"/>
<polyline points="485.5,493.5 485.5,498.5" fill="none" stroke="#000" stroke-width="1"/>
<polyline points="516.5,480.5 516.5,487.5" fill="none" stroke="#000" stroke-width="1"/>
<polyline points="513.5,487.5 519.5,487.5" fill="none" stroke="#000" stroke-width="1.2"/>
<polyline points="513.5,493.5 519.5,493.5" fill="none" stroke="#000" stroke-width="1.2"/>
<polyline points="516.5,493.5 516.5,498.5" fill="none" stroke="#000" stroke-width="1"/>
<polyline points="485.5,498.5 516.5,498.5" fill="none" stroke="#000" stroke-width="1"/>
<circle cx="485.8" cy="498.9" r="1.9" fill="#000"/>
<polyline points="485.5,498.5 485.5,508.5" fill="none" stroke="#000" stroke-width="1"/>
<polyline points="479.5,508.5 491.5,508.5" fill="none" stroke="#000" stroke-width="1"/>
<polyline points="481.5,511.5 490.5,511.5" fill="none" stroke="#000" stroke-width="1"/>
<polyline points="483.5,513.5 487.5,513.5" fill="none" stroke="#000" stroke-width="1"/>
<text x="491.5" y="487.05" font-size="5" fill="#7a6658" font-weight="bold" textLength="8" lengthAdjust="spacingAndGlyphs" style="font-family:'Liberation Sans', sans-serif">C78</text>
<text x="491.5" y="494.3" font-size="5.14" fill="#111" font-weight="bold" textLength="16" lengthAdjust="spacingAndGlyphs" style="font-family:'Liberation Sans', sans-serif">0.1UF</text>
<text x="522" y="487.05" font-size="5" fill="#7a6658" font-weight="bold" textLength="8" lengthAdjust="spacingAndGlyphs" style="font-family:'Liberation Sans', sans-serif">C75</text>
<text x="522" y="494.3" font-size="5.14" fill="#111" font-weight="bold" textLength="9.6" lengthAdjust="spacingAndGlyphs" style="font-family:'Liberation Sans', sans-serif">1UF</text>
<polyline points="433.5,548.5 455.5,548.5 455.5,631.5" fill="none" stroke="#000" stroke-width="1"/>
<circle cx="455.3" cy="603.27" r="1.9" fill="#000"/>
<polyline points="433.5,603.5 455.5,603.5" fill="none" stroke="#000" stroke-width="1"/>
<polyline points="449.5,631.5 461.5,631.5" fill="none" stroke="#000" stroke-width="1"/>
<polyline points="450.5,633.5 459.5,633.5" fill="none" stroke="#000" stroke-width="1"/>
<polyline points="453.5,636.5 457.5,636.5" fill="none" stroke="#000" stroke-width="1"/>
<polyline points="433.5,557.5 525.5,557.5" fill="none" stroke="#000" stroke-width="1"/>
<path d="M530.64,551.73 L529.72,550.6 L527.89,550.6 L526.98,551.73 L526.98,555.12 L527.89,556.25 L529.72,556.25 L530.64,555.12 M536.51,551.73 L535.59,550.6 L533.76,550.6 L532.84,551.73 L532.84,552.63 L533.58,553.42 L535.77,553.42 L536.51,554.21 L536.51,555.12 L535.59,556.25 L533.76,556.25 L532.84,555.12 M538.07,556.25 L543.02,556.25 M544.58,550.6 L547.33,550.6 L548.25,551.73 L548.25,555.12 L547.33,556.25 L544.58,556.25 L544.58,550.6 M550.45,556.25 L550.45,551.73 L551.37,550.6 L553.2,550.6 L554.11,551.73 L554.11,556.25 M550.45,553.99 L554.11,553.99 M559.98,551.73 L559.07,550.6 L557.24,550.6 L556.32,551.73 L556.32,555.12 L557.24,556.25 L559.07,556.25 L559.98,555.12 M561.55,556.25 L566.49,556.25 M571.72,550.6 L568.06,550.6 L568.06,556.25 M568.06,553.42 L570.81,553.42 M573.93,556.25 L573.93,550.6 L576.68,550.6 L577.59,551.73 L577.59,552.86 L576.68,553.99 L573.93,553.99 M583.46,551.73 L582.54,550.6 L580.71,550.6 L579.8,551.73 L579.8,555.12 L580.71,556.25 L582.54,556.25 L583.46,555.12 L583.46,553.65 L581.81,553.65 M585.67,556.25 L585.67,551.73 L586.58,550.6 L588.41,550.6 L589.33,551.73 L589.33,556.25 M585.67,553.99 L589.33,553.99" fill="none" stroke="#000" stroke-width="1.15" stroke-linejoin="miter" stroke-miterlimit="1.5"/>
<polyline points="433.5,566.5 525.5,566.5" fill="none" stroke="#000" stroke-width="1"/>
<path d="M530.64,560.94 L529.72,559.81 L527.89,559.81 L526.98,560.94 L526.98,561.84 L527.71,562.63 L529.91,562.63 L530.64,563.42 L530.64,564.33 L529.72,565.46 L527.89,565.46 L526.98,564.33 M536.51,560.94 L535.59,559.81 L533.76,559.81 L532.85,560.94 L532.85,564.33 L533.76,565.46 L535.59,565.46 L536.51,564.33 M538.72,559.81 L538.72,565.46 L542.38,565.46 M544.59,559.81 L544.59,565.46 M548.25,559.81 L544.59,563.2 M546.05,562.07 L548.25,565.46 M549.82,565.46 L554.76,565.46 M556.33,559.81 L559.08,559.81 L559.99,560.94 L559.99,564.33 L559.08,565.46 L556.33,565.46 L556.33,559.81 M562.2,565.46 L562.2,560.94 L563.12,559.81 L564.95,559.81 L565.86,560.94 L565.86,565.46 M562.2,563.2 L565.86,563.2 M571.73,560.94 L570.82,559.81 L568.99,559.81 L568.07,560.94 L568.07,564.33 L568.99,565.46 L570.82,565.46 L571.73,564.33 M573.3,565.46 L578.25,565.46 M583.48,559.81 L579.81,559.81 L579.81,565.46 M579.81,562.63 L582.56,562.63 M585.68,565.46 L585.68,559.81 L588.43,559.81 L589.35,560.94 L589.35,562.07 L588.43,563.2 L585.68,563.2 M595.22,560.94 L594.3,559.81 L592.47,559.81 L591.55,560.94 L591.55,564.33 L592.47,565.46 L594.3,565.46 L595.22,564.33 L595.22,562.86 L593.57,562.86 M597.42,565.46 L597.42,560.94 L598.34,559.81 L600.17,559.81 L601.09,560.94 L601.09,565.46 M597.42,563.2 L601.09,563.2" fill="none" stroke="#000" stroke-width="1.15" stroke-linejoin="miter" stroke-miterlimit="1.5"/>
<polyline points="433.5,575.5 525.5,575.5" fill="none" stroke="#000" stroke-width="1"/>
<path d="M526.98,569.02 L529.72,569.02 L530.64,570.15 L530.64,573.54 L529.72,574.67 L526.98,574.67 L526.98,569.02 M533.58,569.02 L535.78,569.02 M534.68,569.02 L534.68,574.67 M533.58,574.67 L535.78,574.67 M538.72,574.67 L538.72,569.02 L542.38,574.67 L542.38,569.02 M543.94,574.67 L548.89,574.67 M550.46,569.02 L553.2,569.02 L554.12,570.15 L554.12,573.54 L553.2,574.67 L550.46,574.67 L550.46,569.02 M556.33,574.67 L556.33,570.15 L557.24,569.02 L559.07,569.02 L559.99,570.15 L559.99,574.67 M556.33,572.41 L559.99,572.41 M565.86,570.15 L564.94,569.02 L563.11,569.02 L562.2,570.15 L562.2,573.54 L563.11,574.67 L564.94,574.67 L565.86,573.54 M567.42,574.67 L572.37,574.67 M577.6,569.02 L573.94,569.02 L573.94,574.67 M573.94,571.84 L576.68,571.84 M579.81,574.67 L579.81,569.02 L582.55,569.02 L583.47,570.15 L583.47,571.28 L582.55,572.41 L579.81,572.41 M589.34,570.15 L588.42,569.02 L586.59,569.02 L585.68,570.15 L585.68,573.54 L586.59,574.67 L588.42,574.67 L589.34,573.54 L589.34,572.07 L587.69,572.07 M591.55,574.67 L591.55,570.15 L592.46,569.02 L594.29,569.02 L595.21,570.15 L595.21,574.67 M591.55,572.41 L595.21,572.41" fill="none" stroke="#000" stroke-width="1.15" stroke-linejoin="miter" stroke-miterlimit="1.5"/>
<polyline points="433.5,584.5 525.5,584.5" fill="none" stroke="#000" stroke-width="1"/>
<path d="M526.98,578.23 L526.98,583.88 L530.64,583.88 M532.84,578.23 L535.59,578.23 L536.5,579.36 L536.5,582.75 L535.59,583.88 L532.84,583.88 L532.84,578.23 M538.71,583.88 L538.71,579.36 L539.62,578.23 L541.45,578.23 L542.37,579.36 L542.37,583.88 M538.71,581.62 L542.37,581.62 M548.24,579.36 L547.32,578.23 L545.49,578.23 L544.58,579.36 L544.58,582.75 L545.49,583.88 L547.32,583.88 L548.24,582.75 M549.8,583.88 L554.74,583.88 M559.97,578.23 L556.31,578.23 L556.31,583.88 M556.31,581.05 L559.05,581.05 M562.18,583.88 L562.18,578.23 L564.92,578.23 L565.84,579.36 L565.84,580.49 L564.92,581.62 L562.18,581.62 M571.7,579.36 L570.79,578.23 L568.96,578.23 L568.04,579.36 L568.04,582.75 L568.96,583.88 L570.79,583.88 L571.7,582.75 L571.7,581.28 L570.06,581.28 M573.91,583.88 L573.91,579.36 L574.82,578.23 L576.65,578.23 L577.57,579.36 L577.57,583.88 M573.91,581.62 L577.57,581.62" fill="none" stroke="#000" stroke-width="1.15" stroke-linejoin="miter" stroke-miterlimit="1.5"/>
<polyline points="433.5,594.5 439.5,594.5" fill="none" stroke="#000" stroke-width="1"/>
<path d="M738.23,57.58 L733.28,57.58 L733.28,64.42 M733.28,61 L736.99,61 M740.72,64.42 L740.72,57.58 L743.19,61 L745.67,57.58 L745.67,64.42 M753.11,58.95 L751.87,57.58 L749.4,57.58 L748.16,58.95 L748.16,63.05 L749.4,64.42 L751.87,64.42 L753.11,63.05 M767.99,58.95 L766.76,57.58 L764.28,57.58 L763.04,58.95 L763.04,63.05 L764.28,64.42 L766.76,64.42 L767.99,63.05 M771.72,57.58 L774.2,57.58 L775.43,58.95 L775.43,63.05 L774.2,64.42 L771.72,64.42 L770.48,63.05 L770.48,58.95 L771.72,57.58 M777.92,64.42 L777.92,57.58 L782.88,64.42 L782.88,57.58 M785.37,64.42 L785.37,57.58 L790.32,64.42 L790.32,57.58 M797.76,57.58 L792.81,57.58 L792.81,64.42 L797.76,64.42 M792.81,61 L796.52,61 M805.2,58.95 L803.96,57.58 L801.49,57.58 L800.25,58.95 L800.25,63.05 L801.49,64.42 L803.96,64.42 L805.2,63.05 M807.69,57.58 L812.64,57.58 M810.17,57.58 L810.17,64.42 M816.37,57.58 L818.85,57.58 L820.08,58.95 L820.08,63.05 L818.85,64.42 L816.37,64.42 L815.13,63.05 L815.13,58.95 L816.37,57.58 M822.57,64.42 L822.57,57.58 L826.29,57.58 L827.53,58.95 L827.53,60.32 L826.29,61.69 L822.57,61.69 M825.05,61.69 L827.53,64.42" fill="none" stroke="#000" stroke-width="1.15" stroke-linejoin="miter" stroke-miterlimit="1.5"/>
<text x="760.5" y="75.91" font-size="4.6" fill="#7a6658" text-anchor="middle" font-weight="bold" textLength="7" lengthAdjust="spacingAndGlyphs" style="font-family:'Liberation Sans', sans-serif">J43</text>
<text x="801.2" y="75.91" font-size="4.6" fill="#7a6658" text-anchor="middle" font-weight="bold" textLength="7" lengthAdjust="spacingAndGlyphs" style="font-family:'Liberation Sans', sans-serif">J43</text>
<text x="735.4" y="82.5" font-size="6" fill="#111" font-weight="bold" textLength="50.1" lengthAdjust="spacingAndGlyphs" style="font-family:'Liberation Sans', sans-serif">ASP-134604-01</text>
<text x="793.8" y="82.5" font-size="6" fill="#111" font-weight="bold" textLength="50.1" lengthAdjust="spacingAndGlyphs" style="font-family:'Liberation Sans', sans-serif">ASP-134604-01</text>
<rect x="752.5" y="88.5" width="19" height="377" fill="none" stroke="#222" stroke-width="1.2"/>
<polyline points="770.5,88.5 770.5,465.5" fill="none" stroke="#555" stroke-width="1.4"/>
<rect x="795.5" y="88.5" width="18" height="377" fill="none" stroke="#222" stroke-width="1.2"/>
<text x="741.5" y="96.33" font-size="5.8" fill="#3f3848" text-anchor="end" font-weight="bold" style="font-family:'Liberation Sans', sans-serif">G1</text>
<text x="754.2" y="99.18" font-size="4.8" fill="#6a5a48" font-weight="bold" style="font-family:'Liberation Sans', sans-serif">1</text>
<text x="811.8" y="99.18" font-size="4.8" fill="#6a5a48" text-anchor="end" font-weight="bold" style="font-family:'Liberation Sans', sans-serif">1</text>
<text x="820.5" y="96.33" font-size="5.8" fill="#3f3848" font-weight="bold" style="font-family:'Liberation Sans', sans-serif">H1</text>
<text x="741.5" y="105.53" font-size="5.8" fill="#3f3848" text-anchor="end" font-weight="bold" style="font-family:'Liberation Sans', sans-serif">G2</text>
<text x="754.2" y="108.38" font-size="4.8" fill="#6a5a48" font-weight="bold" style="font-family:'Liberation Sans', sans-serif">2</text>
<text x="811.8" y="108.38" font-size="4.8" fill="#6a5a48" text-anchor="end" font-weight="bold" style="font-family:'Liberation Sans', sans-serif">2</text>
<text x="820.5" y="105.53" font-size="5.8" fill="#3f3848" font-weight="bold" style="font-family:'Liberation Sans', sans-serif">H2</text>
<text x="741.5" y="114.72" font-size="5.8" fill="#3f3848" text-anchor="end" font-weight="bold" style="font-family:'Liberation Sans', sans-serif">G3</text>
<text x="754.2" y="117.57" font-size="4.8" fill="#6a5a48" font-weight="bold" style="font-family:'Liberation Sans', sans-serif">3</text>
<text x="811.8" y="117.57" font-size="4.8" fill="#6a5a48" text-anchor="end" font-weight="bold" style="font-family:'Liberation Sans', sans-serif">3</text>
<text x="820.5" y="114.72" font-size="5.8" fill="#3f3848" font-weight="bold" style="font-family:'Liberation Sans', sans-serif">H3</text>
<text x="741.5" y="123.91" font-size="5.8" fill="#3f3848" text-anchor="end" font-weight="bold" style="font-family:'Liberation Sans', sans-serif">G4</text>
<text x="754.2" y="126.77" font-size="4.8" fill="#6a5a48" font-weight="bold" style="font-family:'Liberation Sans', sans-serif">4</text>
<text x="811.8" y="126.77" font-size="4.8" fill="#6a5a48" text-anchor="end" font-weight="bold" style="font-family:'Liberation Sans', sans-serif">4</text>
<text x="820.5" y="123.91" font-size="5.8" fill="#3f3848" font-weight="bold" style="font-family:'Liberation Sans', sans-serif">H4</text>
<text x="741.5" y="133.11" font-size="5.8" fill="#3f3848" text-anchor="end" font-weight="bold" style="font-family:'Liberation Sans', sans-serif">G5</text>
<text x="754.2" y="135.96" font-size="4.8" fill="#6a5a48" font-weight="bold" style="font-family:'Liberation Sans', sans-serif">5</text>
<text x="811.8" y="135.96" font-size="4.8" fill="#6a5a48" text-anchor="end" font-weight="bold" style="font-family:'Liberation Sans', sans-serif">5</text>
<text x="820.5" y="133.11" font-size="5.8" fill="#3f3848" font-weight="bold" style="font-family:'Liberation Sans', sans-serif">H5</text>
<text x="741.5" y="142.31" font-size="5.8" fill="#3f3848" text-anchor="end" font-weight="bold" style="font-family:'Liberation Sans', sans-serif">G6</text>
<text x="754.2" y="145.16" font-size="4.8" fill="#6a5a48" font-weight="bold" style="font-family:'Liberation Sans', sans-serif">6</text>
<text x="811.8" y="145.16" font-size="4.8" fill="#6a5a48" text-anchor="end" font-weight="bold" style="font-family:'Liberation Sans', sans-serif">6</text>
<text x="820.5" y="142.31" font-size="5.8" fill="#3f3848" font-weight="bold" style="font-family:'Liberation Sans', sans-serif">H6</text>
<text x="741.5" y="151.5" font-size="5.8" fill="#3f3848" text-anchor="end" font-weight="bold" style="font-family:'Liberation Sans', sans-serif">G7</text>
<text x="754.2" y="154.35" font-size="4.8" fill="#6a5a48" font-weight="bold" style="font-family:'Liberation Sans', sans-serif">7</text>
<text x="811.8" y="154.35" font-size="4.8" fill="#6a5a48" text-anchor="end" font-weight="bold" style="font-family:'Liberation Sans', sans-serif">7</text>
<text x="820.5" y="151.5" font-size="5.8" fill="#3f3848" font-weight="bold" style="font-family:'Liberation Sans', sans-serif">H7</text>
<text x="741.5" y="160.69" font-size="5.8" fill="#3f3848" text-anchor="end" font-weight="bold" style="font-family:'Liberation Sans', sans-serif">G8</text>
<text x="754.2" y="163.55" font-size="4.8" fill="#6a5a48" font-weight="bold" style="font-family:'Liberation Sans', sans-serif">8</text>
<text x="811.8" y="163.55" font-size="4.8" fill="#6a5a48" text-anchor="end" font-weight="bold" style="font-family:'Liberation Sans', sans-serif">8</text>
<text x="820.5" y="160.69" font-size="5.8" fill="#3f3848" font-weight="bold" style="font-family:'Liberation Sans', sans-serif">H8</text>
<text x="741.5" y="169.89" font-size="5.8" fill="#3f3848" text-anchor="end" font-weight="bold" style="font-family:'Liberation Sans', sans-serif">G9</text>
<text x="754.2" y="172.74" font-size="4.8" fill="#6a5a48" font-weight="bold" style="font-family:'Liberation Sans', sans-serif">9</text>
<text x="811.8" y="172.74" font-size="4.8" fill="#6a5a48" text-anchor="end" font-weight="bold" style="font-family:'Liberation Sans', sans-serif">9</text>
<text x="820.5" y="169.89" font-size="5.8" fill="#3f3848" font-weight="bold" style="font-family:'Liberation Sans', sans-serif">H9</text>
<text x="741.5" y="179.08" font-size="5.8" fill="#3f3848" text-anchor="end" font-weight="bold" style="font-family:'Liberation Sans', sans-serif">G10</text>
<text x="754.2" y="181.94" font-size="4.8" fill="#6a5a48" font-weight="bold" style="font-family:'Liberation Sans', sans-serif">10</text>
<text x="811.8" y="181.94" font-size="4.8" fill="#6a5a48" text-anchor="end" font-weight="bold" style="font-family:'Liberation Sans', sans-serif">10</text>
<text x="820.5" y="179.08" font-size="5.8" fill="#3f3848" font-weight="bold" style="font-family:'Liberation Sans', sans-serif">H10</text>
<text x="741.5" y="188.28" font-size="5.8" fill="#3f3848" text-anchor="end" font-weight="bold" style="font-family:'Liberation Sans', sans-serif">G11</text>
<text x="754.2" y="191.13" font-size="4.8" fill="#6a5a48" font-weight="bold" style="font-family:'Liberation Sans', sans-serif">11</text>
<text x="811.8" y="191.13" font-size="4.8" fill="#6a5a48" text-anchor="end" font-weight="bold" style="font-family:'Liberation Sans', sans-serif">11</text>
<text x="820.5" y="188.28" font-size="5.8" fill="#3f3848" font-weight="bold" style="font-family:'Liberation Sans', sans-serif">H11</text>
<text x="741.5" y="197.48" font-size="5.8" fill="#3f3848" text-anchor="end" font-weight="bold" style="font-family:'Liberation Sans', sans-serif">G12</text>
<text x="754.2" y="200.33" font-size="4.8" fill="#6a5a48" font-weight="bold" style="font-family:'Liberation Sans', sans-serif">12</text>
<text x="811.8" y="200.33" font-size="4.8" fill="#6a5a48" text-anchor="end" font-weight="bold" style="font-family:'Liberation Sans', sans-serif">12</text>
<text x="820.5" y="197.48" font-size="5.8" fill="#3f3848" font-weight="bold" style="font-family:'Liberation Sans', sans-serif">H12</text>
<text x="741.5" y="206.67" font-size="5.8" fill="#3f3848" text-anchor="end" font-weight="bold" style="font-family:'Liberation Sans', sans-serif">G13</text>
<text x="754.2" y="209.52" font-size="4.8" fill="#6a5a48" font-weight="bold" style="font-family:'Liberation Sans', sans-serif">13</text>
<text x="811.8" y="209.52" font-size="4.8" fill="#6a5a48" text-anchor="end" font-weight="bold" style="font-family:'Liberation Sans', sans-serif">13</text>
<text x="820.5" y="206.67" font-size="5.8" fill="#3f3848" font-weight="bold" style="font-family:'Liberation Sans', sans-serif">H13</text>
<text x="741.5" y="215.87" font-size="5.8" fill="#3f3848" text-anchor="end" font-weight="bold" style="font-family:'Liberation Sans', sans-serif">G14</text>
<text x="754.2" y="218.72" font-size="4.8" fill="#6a5a48" font-weight="bold" style="font-family:'Liberation Sans', sans-serif">14</text>
<text x="811.8" y="218.72" font-size="4.8" fill="#6a5a48" text-anchor="end" font-weight="bold" style="font-family:'Liberation Sans', sans-serif">14</text>
<text x="820.5" y="215.87" font-size="5.8" fill="#3f3848" font-weight="bold" style="font-family:'Liberation Sans', sans-serif">H14</text>
<text x="741.5" y="225.06" font-size="5.8" fill="#3f3848" text-anchor="end" font-weight="bold" style="font-family:'Liberation Sans', sans-serif">G15</text>
<text x="754.2" y="227.91" font-size="4.8" fill="#6a5a48" font-weight="bold" style="font-family:'Liberation Sans', sans-serif">15</text>
<text x="811.8" y="227.91" font-size="4.8" fill="#6a5a48" text-anchor="end" font-weight="bold" style="font-family:'Liberation Sans', sans-serif">15</text>
<text x="820.5" y="225.06" font-size="5.8" fill="#3f3848" font-weight="bold" style="font-family:'Liberation Sans', sans-serif">H15</text>
<text x="741.5" y="234.25" font-size="5.8" fill="#3f3848" text-anchor="end" font-weight="bold" style="font-family:'Liberation Sans', sans-serif">G16</text>
<text x="754.2" y="237.11" font-size="4.8" fill="#6a5a48" font-weight="bold" style="font-family:'Liberation Sans', sans-serif">16</text>
<text x="811.8" y="237.11" font-size="4.8" fill="#6a5a48" text-anchor="end" font-weight="bold" style="font-family:'Liberation Sans', sans-serif">16</text>
<text x="820.5" y="234.25" font-size="5.8" fill="#3f3848" font-weight="bold" style="font-family:'Liberation Sans', sans-serif">H16</text>
<text x="741.5" y="243.45" font-size="5.8" fill="#3f3848" text-anchor="end" font-weight="bold" style="font-family:'Liberation Sans', sans-serif">G17</text>
<text x="754.2" y="246.3" font-size="4.8" fill="#6a5a48" font-weight="bold" style="font-family:'Liberation Sans', sans-serif">17</text>
<text x="811.8" y="246.3" font-size="4.8" fill="#6a5a48" text-anchor="end" font-weight="bold" style="font-family:'Liberation Sans', sans-serif">17</text>
<text x="820.5" y="243.45" font-size="5.8" fill="#3f3848" font-weight="bold" style="font-family:'Liberation Sans', sans-serif">H17</text>
<text x="741.5" y="252.64" font-size="5.8" fill="#3f3848" text-anchor="end" font-weight="bold" style="font-family:'Liberation Sans', sans-serif">G18</text>
<text x="754.2" y="255.5" font-size="4.8" fill="#6a5a48" font-weight="bold" style="font-family:'Liberation Sans', sans-serif">18</text>
<text x="811.8" y="255.5" font-size="4.8" fill="#6a5a48" text-anchor="end" font-weight="bold" style="font-family:'Liberation Sans', sans-serif">18</text>
<text x="820.5" y="252.64" font-size="5.8" fill="#3f3848" font-weight="bold" style="font-family:'Liberation Sans', sans-serif">H18</text>
<text x="741.5" y="261.84" font-size="5.8" fill="#3f3848" text-anchor="end" font-weight="bold" style="font-family:'Liberation Sans', sans-serif">G19</text>
<text x="754.2" y="264.69" font-size="4.8" fill="#6a5a48" font-weight="bold" style="font-family:'Liberation Sans', sans-serif">19</text>
<text x="811.8" y="264.69" font-size="4.8" fill="#6a5a48" text-anchor="end" font-weight="bold" style="font-family:'Liberation Sans', sans-serif">19</text>
<text x="820.5" y="261.84" font-size="5.8" fill="#3f3848" font-weight="bold" style="font-family:'Liberation Sans', sans-serif">H19</text>
<text x="741.5" y="271.04" font-size="5.8" fill="#3f3848" text-anchor="end" font-weight="bold" style="font-family:'Liberation Sans', sans-serif">G20</text>
<text x="754.2" y="273.89" font-size="4.8" fill="#6a5a48" font-weight="bold" style="font-family:'Liberation Sans', sans-serif">20</text>
<text x="811.8" y="273.89" font-size="4.8" fill="#6a5a48" text-anchor="end" font-weight="bold" style="font-family:'Liberation Sans', sans-serif">20</text>
<text x="820.5" y="271.04" font-size="5.8" fill="#3f3848" font-weight="bold" style="font-family:'Liberation Sans', sans-serif">H20</text>
<text x="741.5" y="280.23" font-size="5.8" fill="#3f3848" text-anchor="end" font-weight="bold" style="font-family:'Liberation Sans', sans-serif">G21</text>
<text x="754.2" y="283.08" font-size="4.8" fill="#6a5a48" font-weight="bold" style="font-family:'Liberation Sans', sans-serif">21</text>
<text x="811.8" y="283.08" font-size="4.8" fill="#6a5a48" text-anchor="end" font-weight="bold" style="font-family:'Liberation Sans', sans-serif">21</text>
<text x="820.5" y="280.23" font-size="5.8" fill="#3f3848" font-weight="bold" style="font-family:'Liberation Sans', sans-serif">H21</text>
<text x="741.5" y="289.43" font-size="5.8" fill="#3f3848" text-anchor="end" font-weight="bold" style="font-family:'Liberation Sans', sans-serif">G22</text>
<text x="754.2" y="292.28" font-size="4.8" fill="#6a5a48" font-weight="bold" style="font-family:'Liberation Sans', sans-serif">22</text>
<text x="811.8" y="292.28" font-size="4.8" fill="#6a5a48" text-anchor="end" font-weight="bold" style="font-family:'Liberation Sans', sans-serif">22</text>
<text x="820.5" y="289.43" font-size="5.8" fill="#3f3848" font-weight="bold" style="font-family:'Liberation Sans', sans-serif">H22</text>
<text x="741.5" y="298.62" font-size="5.8" fill="#3f3848" text-anchor="end" font-weight="bold" style="font-family:'Liberation Sans', sans-serif">G23</text>
<text x="754.2" y="301.47" font-size="4.8" fill="#6a5a48" font-weight="bold" style="font-family:'Liberation Sans', sans-serif">23</text>
<text x="811.8" y="301.47" font-size="4.8" fill="#6a5a48" text-anchor="end" font-weight="bold" style="font-family:'Liberation Sans', sans-serif">23</text>
<text x="820.5" y="298.62" font-size="5.8" fill="#3f3848" font-weight="bold" style="font-family:'Liberation Sans', sans-serif">H23</text>
<text x="741.5" y="307.81" font-size="5.8" fill="#3f3848" text-anchor="end" font-weight="bold" style="font-family:'Liberation Sans', sans-serif">G24</text>
<text x="754.2" y="310.67" font-size="4.8" fill="#6a5a48" font-weight="bold" style="font-family:'Liberation Sans', sans-serif">24</text>
<text x="811.8" y="310.67" font-size="4.8" fill="#6a5a48" text-anchor="end" font-weight="bold" style="font-family:'Liberation Sans', sans-serif">24</text>
<text x="820.5" y="307.81" font-size="5.8" fill="#3f3848" font-weight="bold" style="font-family:'Liberation Sans', sans-serif">H24</text>
<text x="741.5" y="317.01" font-size="5.8" fill="#3f3848" text-anchor="end" font-weight="bold" style="font-family:'Liberation Sans', sans-serif">G25</text>
<text x="754.2" y="319.86" font-size="4.8" fill="#6a5a48" font-weight="bold" style="font-family:'Liberation Sans', sans-serif">25</text>
<text x="811.8" y="319.86" font-size="4.8" fill="#6a5a48" text-anchor="end" font-weight="bold" style="font-family:'Liberation Sans', sans-serif">25</text>
<text x="820.5" y="317.01" font-size="5.8" fill="#3f3848" font-weight="bold" style="font-family:'Liberation Sans', sans-serif">H25</text>
<text x="741.5" y="326.2" font-size="5.8" fill="#3f3848" text-anchor="end" font-weight="bold" style="font-family:'Liberation Sans', sans-serif">G26</text>
<text x="754.2" y="329.06" font-size="4.8" fill="#6a5a48" font-weight="bold" style="font-family:'Liberation Sans', sans-serif">26</text>
<text x="811.8" y="329.06" font-size="4.8" fill="#6a5a48" text-anchor="end" font-weight="bold" style="font-family:'Liberation Sans', sans-serif">26</text>
<text x="820.5" y="326.2" font-size="5.8" fill="#3f3848" font-weight="bold" style="font-family:'Liberation Sans', sans-serif">H26</text>
<text x="741.5" y="335.4" font-size="5.8" fill="#3f3848" text-anchor="end" font-weight="bold" style="font-family:'Liberation Sans', sans-serif">G27</text>
<text x="754.2" y="338.25" font-size="4.8" fill="#6a5a48" font-weight="bold" style="font-family:'Liberation Sans', sans-serif">27</text>
<text x="811.8" y="338.25" font-size="4.8" fill="#6a5a48" text-anchor="end" font-weight="bold" style="font-family:'Liberation Sans', sans-serif">27</text>
<text x="820.5" y="335.4" font-size="5.8" fill="#3f3848" font-weight="bold" style="font-family:'Liberation Sans', sans-serif">H27</text>
<text x="741.5" y="344.6" font-size="5.8" fill="#3f3848" text-anchor="end" font-weight="bold" style="font-family:'Liberation Sans', sans-serif">G28</text>
<text x="754.2" y="347.45" font-size="4.8" fill="#6a5a48" font-weight="bold" style="font-family:'Liberation Sans', sans-serif">28</text>
<text x="811.8" y="347.45" font-size="4.8" fill="#6a5a48" text-anchor="end" font-weight="bold" style="font-family:'Liberation Sans', sans-serif">28</text>
<text x="820.5" y="344.6" font-size="5.8" fill="#3f3848" font-weight="bold" style="font-family:'Liberation Sans', sans-serif">H28</text>
<text x="741.5" y="353.79" font-size="5.8" fill="#3f3848" text-anchor="end" font-weight="bold" style="font-family:'Liberation Sans', sans-serif">G29</text>
<text x="754.2" y="356.64" font-size="4.8" fill="#6a5a48" font-weight="bold" style="font-family:'Liberation Sans', sans-serif">29</text>
<text x="811.8" y="356.64" font-size="4.8" fill="#6a5a48" text-anchor="end" font-weight="bold" style="font-family:'Liberation Sans', sans-serif">29</text>
<text x="820.5" y="353.79" font-size="5.8" fill="#3f3848" font-weight="bold" style="font-family:'Liberation Sans', sans-serif">H29</text>
<text x="741.5" y="362.99" font-size="5.8" fill="#3f3848" text-anchor="end" font-weight="bold" style="font-family:'Liberation Sans', sans-serif">G30</text>
<text x="754.2" y="365.84" font-size="4.8" fill="#6a5a48" font-weight="bold" style="font-family:'Liberation Sans', sans-serif">30</text>
<text x="811.8" y="365.84" font-size="4.8" fill="#6a5a48" text-anchor="end" font-weight="bold" style="font-family:'Liberation Sans', sans-serif">30</text>
<text x="820.5" y="362.99" font-size="5.8" fill="#3f3848" font-weight="bold" style="font-family:'Liberation Sans', sans-serif">H30</text>
<text x="741.5" y="372.18" font-size="5.8" fill="#3f3848" text-anchor="end" font-weight="bold" style="font-family:'Liberation Sans', sans-serif">G31</text>
<text x="754.2" y="375.03" font-size="4.8" fill="#6a5a48" font-weight="bold" style="font-family:'Liberation Sans', sans-serif">31</text>
<text x="811.8" y="375.03" font-size="4.8" fill="#6a5a48" text-anchor="end" font-weight="bold" style="font-family:'Liberation Sans', sans-serif">31</text>
<text x="820.5" y="372.18" font-size="5.8" fill="#3f3848" font-weight="bold" style="font-family:'Liberation Sans', sans-serif">H31</text>
<text x="741.5" y="381.38" font-size="5.8" fill="#3f3848" text-anchor="end" font-weight="bold" style="font-family:'Liberation Sans', sans-serif">G32</text>
<text x="754.2" y="384.23" font-size="4.8" fill="#6a5a48" font-weight="bold" style="font-family:'Liberation Sans', sans-serif">32</text>
<text x="811.8" y="384.23" font-size="4.8" fill="#6a5a48" text-anchor="end" font-weight="bold" style="font-family:'Liberation Sans', sans-serif">32</text>
<text x="820.5" y="381.38" font-size="5.8" fill="#3f3848" font-weight="bold" style="font-family:'Liberation Sans', sans-serif">H32</text>
<text x="741.5" y="390.57" font-size="5.8" fill="#3f3848" text-anchor="end" font-weight="bold" style="font-family:'Liberation Sans', sans-serif">G33</text>
<text x="754.2" y="393.42" font-size="4.8" fill="#6a5a48" font-weight="bold" style="font-family:'Liberation Sans', sans-serif">33</text>
<text x="811.8" y="393.42" font-size="4.8" fill="#6a5a48" text-anchor="end" font-weight="bold" style="font-family:'Liberation Sans', sans-serif">33</text>
<text x="820.5" y="390.57" font-size="5.8" fill="#3f3848" font-weight="bold" style="font-family:'Liberation Sans', sans-serif">H33</text>
<text x="741.5" y="399.76" font-size="5.8" fill="#3f3848" text-anchor="end" font-weight="bold" style="font-family:'Liberation Sans', sans-serif">G34</text>
<text x="754.2" y="402.62" font-size="4.8" fill="#6a5a48" font-weight="bold" style="font-family:'Liberation Sans', sans-serif">34</text>
<text x="811.8" y="402.62" font-size="4.8" fill="#6a5a48" text-anchor="end" font-weight="bold" style="font-family:'Liberation Sans', sans-serif">34</text>
<text x="820.5" y="399.76" font-size="5.8" fill="#3f3848" font-weight="bold" style="font-family:'Liberation Sans', sans-serif">H34</text>
<text x="741.5" y="408.96" font-size="5.8" fill="#3f3848" text-anchor="end" font-weight="bold" style="font-family:'Liberation Sans', sans-serif">G35</text>
<text x="754.2" y="411.81" font-size="4.8" fill="#6a5a48" font-weight="bold" style="font-family:'Liberation Sans', sans-serif">35</text>
<text x="811.8" y="411.81" font-size="4.8" fill="#6a5a48" text-anchor="end" font-weight="bold" style="font-family:'Liberation Sans', sans-serif">35</text>
<text x="820.5" y="408.96" font-size="5.8" fill="#3f3848" font-weight="bold" style="font-family:'Liberation Sans', sans-serif">H35</text>
<text x="741.5" y="418.15" font-size="5.8" fill="#3f3848" text-anchor="end" font-weight="bold" style="font-family:'Liberation Sans', sans-serif">G36</text>
<text x="754.2" y="421" font-size="4.8" fill="#6a5a48" font-weight="bold" style="font-family:'Liberation Sans', sans-serif">36</text>
<text x="811.8" y="421" font-size="4.8" fill="#6a5a48" text-anchor="end" font-weight="bold" style="font-family:'Liberation Sans', sans-serif">36</text>
<text x="820.5" y="418.15" font-size="5.8" fill="#3f3848" font-weight="bold" style="font-family:'Liberation Sans', sans-serif">H36</text>
<text x="741.5" y="427.35" font-size="5.8" fill="#3f3848" text-anchor="end" font-weight="bold" style="font-family:'Liberation Sans', sans-serif">G37</text>
<text x="754.2" y="430.2" font-size="4.8" fill="#6a5a48" font-weight="bold" style="font-family:'Liberation Sans', sans-serif">37</text>
<text x="811.8" y="430.2" font-size="4.8" fill="#6a5a48" text-anchor="end" font-weight="bold" style="font-family:'Liberation Sans', sans-serif">37</text>
<text x="820.5" y="427.35" font-size="5.8" fill="#3f3848" font-weight="bold" style="font-family:'Liberation Sans', sans-serif">H37</text>
<text x="741.5" y="436.55" font-size="5.8" fill="#3f3848" text-anchor="end" font-weight="bold" style="font-family:'Liberation Sans', sans-serif">G38</text>
<text x="754.2" y="439.4" font-size="4.8" fill="#6a5a48" font-weight="bold" style="font-family:'Liberation Sans', sans-serif">38</text>
<text x="811.8" y="439.4" font-size="4.8" fill="#6a5a48" text-anchor="end" font-weight="bold" style="font-family:'Liberation Sans', sans-serif">38</text>
<text x="820.5" y="436.55" font-size="5.8" fill="#3f3848" font-weight="bold" style="font-family:'Liberation Sans', sans-serif">H38</text>
<text x="741.5" y="445.74" font-size="5.8" fill="#3f3848" text-anchor="end" font-weight="bold" style="font-family:'Liberation Sans', sans-serif">G39</text>
<text x="754.2" y="448.59" font-size="4.8" fill="#6a5a48" font-weight="bold" style="font-family:'Liberation Sans', sans-serif">39</text>
<text x="811.8" y="448.59" font-size="4.8" fill="#6a5a48" text-anchor="end" font-weight="bold" style="font-family:'Liberation Sans', sans-serif">39</text>
<text x="820.5" y="445.74" font-size="5.8" fill="#3f3848" font-weight="bold" style="font-family:'Liberation Sans', sans-serif">H39</text>
<text x="741.5" y="454.94" font-size="5.8" fill="#3f3848" text-anchor="end" font-weight="bold" style="font-family:'Liberation Sans', sans-serif">G40</text>
<text x="754.2" y="457.79" font-size="4.8" fill="#6a5a48" font-weight="bold" style="font-family:'Liberation Sans', sans-serif">40</text>
<text x="811.8" y="457.79" font-size="4.8" fill="#6a5a48" text-anchor="end" font-weight="bold" style="font-family:'Liberation Sans', sans-serif">40</text>
<text x="820.5" y="454.94" font-size="5.8" fill="#3f3848" font-weight="bold" style="font-family:'Liberation Sans', sans-serif">H40</text>
<polyline points="752.5,97.5 660.5,97.5 660.5,489.5" fill="none" stroke="#000" stroke-width="1"/>
<polyline points="654.5,489.5 666.5,489.5" fill="none" stroke="#000" stroke-width="1"/>
<polyline points="656.5,491.5 664.5,491.5" fill="none" stroke="#000" stroke-width="1"/>
<polyline points="658.5,494.5 662.5,494.5" fill="none" stroke="#000" stroke-width="1"/>
<circle cx="660.4" cy="106.9" r="1.9" fill="#000"/>
<polyline points="660.5,106.5 688.5,106.5" fill="none" stroke="#000" stroke-width="1"/>
<polyline points="688.5,106.5 690.5,103.5 697.5,110.5 703.5,103.5 709.5,110.5 713.5,106.5" fill="none" stroke="#000" stroke-width="1"/>
<polyline points="713.5,106.5 752.5,106.5" fill="none" stroke="#000" stroke-width="1"/>
<text x="674" y="104.05" font-size="5" fill="#7a6658" font-weight="bold" textLength="8" lengthAdjust="spacingAndGlyphs" style="font-family:'Liberation Sans', sans-serif">R62</text>
<path d="M714.58,100.88 L715.48,100.07 L717.29,100.07 L718.2,100.88 L718.2,101.69 L714.58,104.12 L718.2,104.12 M720.4,100.07 L720.4,104.12 L723.12,104.12 L724.03,103.31 L724.03,102.74 L723.12,102.1 L720.4,102.1 M720.4,100.07 L723.12,100.07 L724.03,100.72 L724.03,101.45 L723.12,102.1" fill="none" stroke="#000" stroke-width="1.15" stroke-linejoin="miter" stroke-miterlimit="1.5"/>
<polyline points="682.5,116.5 688.5,116.5" fill="none" stroke="#000" stroke-width="1"/>
<polyline points="688.5,116.5 690.5,112.5 697.5,119.5 703.5,112.5 709.5,119.5 713.5,116.5" fill="none" stroke="#000" stroke-width="1"/>
<polyline points="713.5,116.5 752.5,116.5" fill="none" stroke="#000" stroke-width="1"/>
<text x="674" y="113.24" font-size="5" fill="#7a6658" font-weight="bold" textLength="8" lengthAdjust="spacingAndGlyphs" style="font-family:'Liberation Sans', sans-serif">R59</text>
<path d="M714.58,110.08 L715.48,109.27 L717.29,109.27 L718.2,110.08 L718.2,110.89 L714.58,113.31 L718.2,113.31 M720.4,109.27 L720.4,113.31 L723.12,113.31 L724.03,112.5 L724.03,111.94 L723.12,111.29 L720.4,111.29 M720.4,109.27 L723.12,109.27 L724.03,109.91 L724.03,110.64 L723.12,111.29" fill="none" stroke="#000" stroke-width="1.15" stroke-linejoin="miter" stroke-miterlimit="1.5"/>
<circle cx="660.4" cy="125.28" r="1.9" fill="#000"/>
<polyline points="660.5,125.5 752.5,125.5" fill="none" stroke="#000" stroke-width="1"/>
<circle cx="660.4" cy="134.48" r="1.9" fill="#000"/>
<polyline points="660.5,134.5 752.5,134.5" fill="none" stroke="#000" stroke-width="1"/>
<polyline points="746.5,143.5 752.5,143.5" fill="none" stroke="#000" stroke-width="1"/>
<polyline points="746.5,152.5 752.5,152.5" fill="none" stroke="#000" stroke-width="1"/>
<circle cx="660.4" cy="162.06" r="1.9" fill="#000"/>
<polyline points="660.5,162.5 752.5,162.5" fill="none" stroke="#000" stroke-width="1"/>
<polyline points="746.5,171.5 752.5,171.5" fill="none" stroke="#000" stroke-width="1"/>
<polyline points="746.5,180.5 752.5,180.5" fill="none" stroke="#000" stroke-width="1"/>
<circle cx="660.4" cy="189.65" r="1.9" fill="#000"/>
<polyline points="660.5,189.5 752.5,189.5" fill="none" stroke="#000" stroke-width="1"/>
<polyline points="746.5,198.5 752.5,198.5" fill="none" stroke="#000" stroke-width="1"/>
<polyline points="746.5,208.5 752.5,208.5" fill="none" stroke="#000" stroke-width="1"/>
<circle cx="660.4" cy="217.24" r="1.9" fill="#000"/>
<polyline points="660.5,217.5 752.5,217.5" fill="none" stroke="#000" stroke-width="1"/>
<polyline points="746.5,226.5 752.5,226.5" fill="none" stroke="#000" stroke-width="1"/>
<polyline points="746.5,235.5 752.5,235.5" fill="none" stroke="#000" stroke-width="1"/>
<circle cx="660.4" cy="244.82" r="1.9" fill="#000"/>
<polyline points="660.5,244.5 752.5,244.5" fill="none" stroke="#000" stroke-width="1"/>
<polyline points="746.5,254.5 752.5,254.5" fill="none" stroke="#000" stroke-width="1"/>
<polyline points="746.5,263.5 752.5,263.5" fill="none" stroke="#000" stroke-width="1"/>
<circle cx="660.4" cy="272.41" r="1.9" fill="#000"/>
<polyline points="660.5,272.5 752.5,272.5" fill="none" stroke="#000" stroke-width="1"/>
<polyline points="746.5,281.5 752.5,281.5" fill="none" stroke="#000" stroke-width="1"/>
<polyline points="746.5,290.5 752.5,290.5" fill="none" stroke="#000" stroke-width="1"/>
<circle cx="660.4" cy="299.99" r="1.9" fill="#000"/>
<polyline points="660.5,299.5 752.5,299.5" fill="none" stroke="#000" stroke-width="1"/>
<polyline points="746.5,309.5 752.5,309.5" fill="none" stroke="#000" stroke-width="1"/>
<polyline points="746.5,318.5 752.5,318.5" fill="none" stroke="#000" stroke-width="1"/>
<circle cx="660.4" cy="327.57" r="1.9" fill="#000"/>
<polyline points="660.5,327.5 752.5,327.5" fill="none" stroke="#000" stroke-width="1"/>
<polyline points="746.5,336.5 752.5,336.5" fill="none" stroke="#000" stroke-width="1"/>
<polyline points="746.5,345.5 752.5,345.5" fill="none" stroke="#000" stroke-width="1"/>
<circle cx="660.4" cy="355.16" r="1.9" fill="#000"/>
<polyline points="660.5,355.5 752.5,355.5" fill="none" stroke="#000" stroke-width="1"/>
<polyline points="746.5,364.5 752.5,364.5" fill="none" stroke="#000" stroke-width="1"/>
<polyline points="746.5,373.5 752.5,373.5" fill="none" stroke="#000" stroke-width="1"/>
<circle cx="660.4" cy="382.75" r="1.9" fill="#000"/>
<polyline points="660.5,382.5 752.5,382.5" fill="none" stroke="#000" stroke-width="1"/>
<polyline points="746.5,391.5 752.5,391.5" fill="none" stroke="#000" stroke-width="1"/>
<polyline points="746.5,401.5 752.5,401.5" fill="none" stroke="#000" stroke-width="1"/>
<circle cx="660.4" cy="410.33" r="1.9" fill="#000"/>
<polyline points="660.5,410.5 752.5,410.5" fill="none" stroke="#000" stroke-width="1"/>
<polyline points="746.5,419.5 752.5,419.5" fill="none" stroke="#000" stroke-width="1"/>
<polyline points="746.5,428.5 752.5,428.5" fill="none" stroke="#000" stroke-width="1"/>
<circle cx="660.4" cy="437.92" r="1.9" fill="#000"/>
<polyline points="660.5,437.5 752.5,437.5" fill="none" stroke="#000" stroke-width="1"/>
<polyline points="672.5,447.5 752.5,447.5" fill="none" stroke="#000" stroke-width="1"/>
<path d="M674.38,440.88 L674.38,443.56 L676.29,446.24 L678.21,443.56 L678.21,440.88 M680.45,446.24 L680.45,441.95 L681.41,440.88 L683.32,440.88 L684.28,441.95 L684.28,446.24 M680.45,444.09 L684.28,444.09 M686.52,440.88 L689.39,440.88 L690.35,441.95 L690.35,445.16 L689.39,446.24 L686.52,446.24 L686.52,440.88 M696.43,440.88 L696.43,445.16 L695.47,446.24 L693.55,446.24 L692.59,445.16" fill="none" stroke="#000" stroke-width="1.15" stroke-linejoin="miter" stroke-miterlimit="1.5"/>
<circle cx="660.4" cy="456.31" r="1.9" fill="#000"/>
<polyline points="660.5,456.5 752.5,456.5" fill="none" stroke="#000" stroke-width="1"/>
<polyline points="813.5,116.5 936.5,116.5 936.5,489.5" fill="none" stroke="#000" stroke-width="1"/>
<polyline points="930.5,489.5 942.5,489.5" fill="none" stroke="#000" stroke-width="1"/>
<polyline points="931.5,491.5 940.5,491.5" fill="none" stroke="#000" stroke-width="1"/>
<polyline points="934.5,494.5 938.5,494.5" fill="none" stroke="#000" stroke-width="1"/>
<polyline points="813.5,97.5 819.5,97.5" fill="none" stroke="#000" stroke-width="1"/>
<polyline points="813.5,217.5 819.5,217.5" fill="none" stroke="#000" stroke-width="1"/>
<polyline points="813.5,272.5 819.5,272.5" fill="none" stroke="#000" stroke-width="1"/>
<circle cx="936.2" cy="143.68" r="1.9" fill="#000"/>
<polyline points="813.5,143.5 936.5,143.5" fill="none" stroke="#000" stroke-width="1"/>
<circle cx="936.2" cy="171.26" r="1.9" fill="#000"/>
<polyline points="813.5,171.5 936.5,171.5" fill="none" stroke="#000" stroke-width="1"/>
<circle cx="936.2" cy="198.85" r="1.9" fill="#000"/>
<polyline points="813.5,198.5 936.5,198.5" fill="none" stroke="#000" stroke-width="1"/>
<circle cx="936.2" cy="226.43" r="1.9" fill="#000"/>
<polyline points="813.5,226.5 936.5,226.5" fill="none" stroke="#000" stroke-width="1"/>
<circle cx="936.2" cy="254.01" r="1.9" fill="#000"/>
<polyline points="813.5,254.5 936.5,254.5" fill="none" stroke="#000" stroke-width="1"/>
<circle cx="936.2" cy="281.6" r="1.9" fill="#000"/>
<polyline points="813.5,281.5 936.5,281.5" fill="none" stroke="#000" stroke-width="1"/>
<circle cx="936.2" cy="309.19" r="1.9" fill="#000"/>
<polyline points="813.5,309.5 936.5,309.5" fill="none" stroke="#000" stroke-width="1"/>
<circle cx="936.2" cy="336.77" r="1.9" fill="#000"/>
<polyline points="813.5,336.5 936.5,336.5" fill="none" stroke="#000" stroke-width="1"/>
<circle cx="936.2" cy="364.36" r="1.9" fill="#000"/>
<polyline points="813.5,364.5 936.5,364.5" fill="none" stroke="#000" stroke-width="1"/>
<circle cx="936.2" cy="391.94" r="1.9" fill="#000"/>
<polyline points="813.5,391.5 936.5,391.5" fill="none" stroke="#000" stroke-width="1"/>
<circle cx="936.2" cy="419.52" r="1.9" fill="#000"/>
<polyline points="813.5,419.5 936.5,419.5" fill="none" stroke="#000" stroke-width="1"/>
<circle cx="936.2" cy="447.11" r="1.9" fill="#000"/>
<polyline points="813.5,447.5 936.5,447.5" fill="none" stroke="#000" stroke-width="1"/>
<polyline points="813.5,106.5 853.5,106.5" fill="none" stroke="#000" stroke-width="1"/>
<polyline points="853.5,106.5 855.5,103.5 862.5,110.5 868.5,103.5 874.5,110.5 877.5,106.5" fill="none" stroke="#000" stroke-width="1"/>
<text x="839" y="104.05" font-size="5" fill="#7a6658" font-weight="bold" textLength="8" lengthAdjust="spacingAndGlyphs" style="font-family:'Liberation Sans', sans-serif">R65</text>
<path d="M879.58,100.88 L880.49,100.07 L882.33,100.07 L883.25,100.88 L883.25,101.69 L879.58,104.12 L883.25,104.12 M885.45,100.07 L885.45,104.12 L888.21,104.12 L889.13,103.31 L889.13,102.74 L888.21,102.1 L885.45,102.1 M885.45,100.07 L888.21,100.07 L889.13,100.72 L889.13,101.45 L888.21,102.1" fill="none" stroke="#000" stroke-width="1.15" stroke-linejoin="miter" stroke-miterlimit="1.5"/>
<polyline points="813.5,125.5 853.5,125.5" fill="none" stroke="#000" stroke-width="1"/>
<polyline points="853.5,125.5 855.5,121.5 862.5,128.5 868.5,121.5 874.5,128.5 877.5,125.5" fill="none" stroke="#000" stroke-width="1"/>
<text x="839" y="122.44" font-size="5" fill="#7a6658" font-weight="bold" textLength="8" lengthAdjust="spacingAndGlyphs" style="font-family:'Liberation Sans', sans-serif">R58</text>
<path d="M879.58,119.27 L880.49,118.46 L882.33,118.46 L883.25,119.27 L883.25,120.08 L879.58,122.51 L883.25,122.51 M885.45,118.46 L885.45,122.51 L888.21,122.51 L889.13,121.7 L889.13,121.13 L888.21,120.48 L885.45,120.48 M885.45,118.46 L888.21,118.46 L889.13,119.11 L889.13,119.84 L888.21,120.48" fill="none" stroke="#000" stroke-width="1.15" stroke-linejoin="miter" stroke-miterlimit="1.5"/>
<polyline points="877.5,125.5 973.5,125.5" fill="none" stroke="#000" stroke-width="1"/>
<path d="M973.74,119.99 L972.82,118.96 L970.99,118.96 L970.08,119.99 L970.08,120.81 L970.81,121.54 L973.01,121.54 L973.74,122.26 L973.74,123.08 L972.82,124.11 L970.99,124.11 L970.08,123.08 M975.94,118.96 L977.78,121.54 L979.61,118.96 M977.78,121.54 L977.78,124.11 M981.81,124.11 L981.81,118.96 L985.48,124.11 L985.48,118.96 M991.35,119.99 L990.43,118.96 L988.6,118.96 L987.68,119.99 L987.68,123.08 L988.6,124.11 L990.43,124.11 L991.35,123.08 M992.91,124.11 L997.86,124.11 M1003.08,119.99 L1002.17,118.96 L1000.34,118.96 L999.42,119.99 L999.42,123.08 L1000.34,124.11 L1002.17,124.11 L1003.08,123.08 M1005.29,118.96 L1005.29,124.11 L1008.95,124.11 M1011.16,118.96 L1011.16,124.11 M1014.82,118.96 L1011.16,122.05 M1012.62,121.02 L1014.82,124.11 M1016.39,124.11 L1021.33,124.11 M1023.63,118.96 L1025.83,118.96 M1024.73,118.96 L1024.73,124.11 M1023.63,124.11 L1025.83,124.11 M1028.77,124.11 L1028.77,118.96 L1032.43,124.11 L1032.43,118.96" fill="none" stroke="#000" stroke-width="1.15" stroke-linejoin="miter" stroke-miterlimit="1.5"/>
<polyline points="813.5,134.5 853.5,134.5" fill="none" stroke="#000" stroke-width="1"/>
<polyline points="853.5,134.5 855.5,131.5 862.5,137.5 868.5,131.5 874.5,137.5 877.5,134.5" fill="none" stroke="#000" stroke-width="1"/>
<text x="839" y="131.63" font-size="5" fill="#7a6658" font-weight="bold" textLength="8" lengthAdjust="spacingAndGlyphs" style="font-family:'Liberation Sans', sans-serif">R57</text>
<path d="M879.58,128.47 L880.49,127.66 L882.33,127.66 L883.25,128.47 L883.25,129.28 L879.58,131.71 L883.25,131.71 M885.45,127.66 L885.45,131.71 L888.21,131.71 L889.13,130.9 L889.13,130.33 L888.21,129.68 L885.45,129.68 M885.45,127.66 L888.21,127.66 L889.13,128.3 L889.13,129.03 L888.21,129.68" fill="none" stroke="#000" stroke-width="1.15" stroke-linejoin="miter" stroke-miterlimit="1.5"/>
<polyline points="877.5,134.5 973.5,134.5" fill="none" stroke="#000" stroke-width="1"/>
<path d="M973.74,129.19 L972.82,128.16 L970.99,128.16 L970.08,129.19 L970.08,130.01 L970.81,130.73 L973.01,130.73 L973.74,131.45 L973.74,132.28 L972.82,133.31 L970.99,133.31 L970.08,132.28 M975.95,128.16 L977.78,130.73 L979.61,128.16 M977.78,130.73 L977.78,133.31 M981.82,133.31 L981.82,128.16 L985.48,133.31 L985.48,128.16 M991.35,129.19 L990.43,128.16 L988.6,128.16 L987.69,129.19 L987.69,132.28 L988.6,133.31 L990.43,133.31 L991.35,132.28 M992.91,133.31 L997.86,133.31 M1003.09,129.19 L1002.17,128.16 L1000.34,128.16 L999.43,129.19 L999.43,132.28 L1000.34,133.31 L1002.17,133.31 L1003.09,132.28 M1005.3,128.16 L1005.3,133.31 L1008.96,133.31 M1011.17,128.16 L1011.17,133.31 M1014.83,128.16 L1011.17,131.25 M1012.63,130.22 L1014.83,133.31 M1016.39,133.31 L1021.34,133.31 M1023.82,128.16 L1025.65,128.16 L1026.57,129.19 L1026.57,132.28 L1025.65,133.31 L1023.82,133.31 L1022.91,132.28 L1022.91,129.19 L1023.82,128.16 M1028.78,128.16 L1028.78,132.28 L1029.69,133.31 L1031.52,133.31 L1032.44,132.28 L1032.44,128.16 M1034.65,128.16 L1038.31,128.16 M1036.48,128.16 L1036.48,133.31" fill="none" stroke="#000" stroke-width="1.15" stroke-linejoin="miter" stroke-miterlimit="1.5"/>
<polyline points="813.5,152.5 853.5,152.5" fill="none" stroke="#000" stroke-width="1"/>
<polyline points="853.5,152.5 855.5,149.5 862.5,156.5 868.5,149.5 874.5,156.5 877.5,152.5" fill="none" stroke="#000" stroke-width="1"/>
<text x="839" y="150.02" font-size="5" fill="#7a6658" font-weight="bold" textLength="8" lengthAdjust="spacingAndGlyphs" style="font-family:'Liberation Sans', sans-serif">R54</text>
<path d="M879.58,146.86 L880.49,146.05 L882.33,146.05 L883.25,146.86 L883.25,147.67 L879.58,150.1 L883.25,150.1 M885.45,146.05 L885.45,150.1 L888.21,150.1 L889.13,149.29 L889.13,148.72 L888.21,148.07 L885.45,148.07 M885.45,146.05 L888.21,146.05 L889.13,146.69 L889.13,147.42 L888.21,148.07" fill="none" stroke="#000" stroke-width="1.15" stroke-linejoin="miter" stroke-miterlimit="1.5"/>
<polyline points="877.5,152.5 957.5,152.5" fill="none" stroke="#000" stroke-width="1"/>
<polygon points="957.4,150.07 970,150.07 973,152.87 970,155.67 957.4,155.67" fill="none" stroke="#111" stroke-width="1"/>
<text x="958.9" y="154.56" font-size="5.4" fill="#8a7890" font-weight="bold" textLength="9.6" lengthAdjust="spacingAndGlyphs" style="font-family:'Liberation Sans', sans-serif">OUT</text>
<path d="M980.74,151.37 L979.82,150.34 L977.99,150.34 L977.08,151.37 L977.08,152.2 L977.81,152.92 L980.01,152.92 L980.74,153.64 L980.74,154.46 L979.82,155.49 L977.99,155.49 L977.08,154.46 M986.61,151.37 L985.69,150.34 L983.86,150.34 L982.95,151.37 L982.95,154.46 L983.86,155.49 L985.69,155.49 L986.61,154.46 M988.82,150.34 L988.82,155.49 L992.48,155.49 M994.69,150.34 L994.69,155.49 M998.35,150.34 L994.69,153.43 M996.15,152.4 L998.35,155.49 M999.92,155.49 L1004.86,155.49 M1006.43,155.49 L1006.43,151.37 L1007.35,150.34 L1009.18,150.34 L1010.09,151.37 L1010.09,155.49 M1006.43,153.43 L1010.09,153.43 M1012.3,150.34 L1015.05,150.34 L1015.96,151.37 L1015.96,154.46 L1015.05,155.49 L1012.3,155.49 L1012.3,150.34 M1021.83,151.37 L1020.92,150.34 L1019.09,150.34 L1018.17,151.37 L1018.17,154.46 L1019.09,155.49 L1020.92,155.49 L1021.83,154.46 M1023.4,155.49 L1028.35,155.49 M1033.58,150.34 L1029.91,150.34 L1029.91,155.49 M1029.91,152.92 L1032.66,152.92 M1035.78,155.49 L1035.78,150.34 L1038.53,150.34 L1039.45,151.37 L1039.45,152.4 L1038.53,153.43 L1035.78,153.43 M1045.32,151.37 L1044.4,150.34 L1042.57,150.34 L1041.65,151.37 L1041.65,154.46 L1042.57,155.49 L1044.4,155.49 L1045.32,154.46 L1045.32,153.13 L1043.67,153.13 M1047.52,155.49 L1047.52,151.37 L1048.44,150.34 L1050.27,150.34 L1051.19,151.37 L1051.19,155.49 M1047.52,153.43 L1051.19,153.43" fill="none" stroke="#000" stroke-width="1.15" stroke-linejoin="miter" stroke-miterlimit="1.5"/>
<polyline points="813.5,162.5 853.5,162.5" fill="none" stroke="#000" stroke-width="1"/>
<polyline points="853.5,162.5 855.5,158.5 862.5,165.5 868.5,158.5 874.5,165.5 877.5,162.5" fill="none" stroke="#000" stroke-width="1"/>
<text x="839" y="159.22" font-size="5" fill="#7a6658" font-weight="bold" textLength="8" lengthAdjust="spacingAndGlyphs" style="font-family:'Liberation Sans', sans-serif">R52</text>
<path d="M879.58,156.05 L880.49,155.24 L882.33,155.24 L883.25,156.05 L883.25,156.86 L879.58,159.29 L883.25,159.29 M885.45,155.24 L885.45,159.29 L888.21,159.29 L889.13,158.48 L889.13,157.91 L888.21,157.27 L885.45,157.27 M885.45,155.24 L888.21,155.24 L889.13,155.89 L889.13,156.62 L888.21,157.27" fill="none" stroke="#000" stroke-width="1.15" stroke-linejoin="miter" stroke-miterlimit="1.5"/>
<polyline points="877.5,162.5 957.5,162.5" fill="none" stroke="#000" stroke-width="1"/>
<polygon points="957.4,159.26 970,159.26 973,162.06 970,164.87 957.4,164.87" fill="none" stroke="#111" stroke-width="1"/>
<text x="958.9" y="163.75" font-size="5.4" fill="#8a7890" font-weight="bold" textLength="9.6" lengthAdjust="spacingAndGlyphs" style="font-family:'Liberation Sans', sans-serif">OUT</text>
<path d="M977.08,159.54 L979.82,159.54 L980.74,160.57 L980.74,163.66 L979.82,164.69 L977.08,164.69 L977.08,159.54 M983.68,159.54 L985.88,159.54 M984.78,159.54 L984.78,164.69 M983.68,164.69 L985.88,164.69 M988.82,164.69 L988.82,159.54 L992.48,164.69 L992.48,159.54 M994.04,164.69 L998.99,164.69 M1000.56,164.69 L1000.56,160.57 L1001.47,159.54 L1003.3,159.54 L1004.22,160.57 L1004.22,164.69 M1000.56,162.63 L1004.22,162.63 M1006.43,159.54 L1009.17,159.54 L1010.09,160.57 L1010.09,163.66 L1009.17,164.69 L1006.43,164.69 L1006.43,159.54 M1015.96,160.57 L1015.04,159.54 L1013.21,159.54 L1012.3,160.57 L1012.3,163.66 L1013.21,164.69 L1015.04,164.69 L1015.96,163.66 M1017.52,164.69 L1022.47,164.69 M1027.7,159.54 L1024.04,159.54 L1024.04,164.69 M1024.04,162.11 L1026.78,162.11 M1029.91,164.69 L1029.91,159.54 L1032.65,159.54 L1033.57,160.57 L1033.57,161.6 L1032.65,162.63 L1029.91,162.63 M1039.44,160.57 L1038.52,159.54 L1036.69,159.54 L1035.78,160.57 L1035.78,163.66 L1036.69,164.69 L1038.52,164.69 L1039.44,163.66 L1039.44,162.32 L1037.79,162.32 M1041.65,164.69 L1041.65,160.57 L1042.56,159.54 L1044.39,159.54 L1045.31,160.57 L1045.31,164.69 M1041.65,162.63 L1045.31,162.63" fill="none" stroke="#000" stroke-width="1.15" stroke-linejoin="miter" stroke-miterlimit="1.5"/>
<polyline points="813.5,180.5 853.5,180.5" fill="none" stroke="#000" stroke-width="1"/>
<polyline points="853.5,180.5 855.5,177.5 862.5,183.5 868.5,177.5 874.5,183.5 877.5,180.5" fill="none" stroke="#000" stroke-width="1"/>
<text x="839" y="177.6" font-size="5" fill="#7a6658" font-weight="bold" textLength="8" lengthAdjust="spacingAndGlyphs" style="font-family:'Liberation Sans', sans-serif">R51</text>
<path d="M879.58,174.44 L880.49,173.63 L882.33,173.63 L883.25,174.44 L883.25,175.25 L879.58,177.68 L883.25,177.68 M885.45,173.63 L885.45,177.68 L888.21,177.68 L889.13,176.87 L889.13,176.3 L888.21,175.66 L885.45,175.66 M885.45,173.63 L888.21,173.63 L889.13,174.28 L889.13,175.01 L888.21,175.66" fill="none" stroke="#000" stroke-width="1.15" stroke-linejoin="miter" stroke-miterlimit="1.5"/>
<polyline points="877.5,180.5 955.5,180.5" fill="none" stroke="#000" stroke-width="1"/>
<polygon points="955,180.45 958.3,177.65 970.8,177.65 970.8,183.25 958.3,183.25" fill="none" stroke="#111" stroke-width="1"/>
<text x="963.8" y="182.14" font-size="5.4" fill="#8a7890" font-weight="bold" textLength="5" lengthAdjust="spacingAndGlyphs" style="font-family:'Liberation Sans', sans-serif">IN</text>
<path d="M974.08,177.93 L976.82,177.93 L977.74,178.96 L977.74,182.05 L976.82,183.08 L974.08,183.08 L974.08,177.93 M980.86,177.93 L982.69,177.93 L983.61,178.96 L983.61,182.05 L982.69,183.08 L980.86,183.08 L979.95,182.05 L979.95,178.96 L980.86,177.93 M985.82,177.93 L985.82,182.05 L986.73,183.08 L988.56,183.08 L989.48,182.05 L989.48,177.93 M991.69,177.93 L995.35,177.93 M993.52,177.93 L993.52,183.08 M996.92,183.08 L1001.86,183.08 M1003.43,183.08 L1003.43,178.96 L1004.35,177.93 L1006.18,177.93 L1007.09,178.96 L1007.09,183.08 M1003.43,181.02 L1007.09,181.02 M1009.3,177.93 L1012.05,177.93 L1012.96,178.96 L1012.96,182.05 L1012.05,183.08 L1009.3,183.08 L1009.3,177.93 M1018.83,178.96 L1017.92,177.93 L1016.09,177.93 L1015.17,178.96 L1015.17,182.05 L1016.09,183.08 L1017.92,183.08 L1018.83,182.05 M1020.4,183.08 L1025.35,183.08 M1030.58,177.93 L1026.91,177.93 L1026.91,183.08 M1026.91,180.5 L1029.66,180.5 M1032.78,183.08 L1032.78,177.93 L1035.53,177.93 L1036.45,178.96 L1036.45,179.99 L1035.53,181.02 L1032.78,181.02 M1042.32,178.96 L1041.4,177.93 L1039.57,177.93 L1038.65,178.96 L1038.65,182.05 L1039.57,183.08 L1041.4,183.08 L1042.32,182.05 L1042.32,180.71 L1040.67,180.71 M1044.52,183.08 L1044.52,178.96 L1045.44,177.93 L1047.27,177.93 L1048.19,178.96 L1048.19,183.08 M1044.52,181.02 L1048.19,181.02" fill="none" stroke="#000" stroke-width="1.15" stroke-linejoin="miter" stroke-miterlimit="1.5"/>
<polyline points="813.5,189.5 853.5,189.5" fill="none" stroke="#000" stroke-width="1"/>
<polyline points="853.5,189.5 855.5,186.5 862.5,192.5 868.5,186.5 874.5,192.5 877.5,189.5" fill="none" stroke="#000" stroke-width="1"/>
<text x="839" y="186.8" font-size="5" fill="#7a6658" font-weight="bold" textLength="8" lengthAdjust="spacingAndGlyphs" style="font-family:'Liberation Sans', sans-serif">R50</text>
<path d="M879.58,183.64 L880.49,182.83 L882.33,182.83 L883.25,183.64 L883.25,184.45 L879.58,186.88 L883.25,186.88 M885.45,182.83 L885.45,186.88 L888.21,186.88 L889.13,186.07 L889.13,185.5 L888.21,184.85 L885.45,184.85 M885.45,182.83 L888.21,182.83 L889.13,183.47 L889.13,184.2 L888.21,184.85" fill="none" stroke="#000" stroke-width="1.15" stroke-linejoin="miter" stroke-miterlimit="1.5"/>
<polyline points="877.5,189.5 955.5,189.5" fill="none" stroke="#000" stroke-width="1"/>
<polygon points="955,189.65 958.3,186.85 970.8,186.85 970.8,192.45 958.3,192.45" fill="none" stroke="#111" stroke-width="1"/>
<text x="963.8" y="191.34" font-size="5.4" fill="#8a7890" font-weight="bold" textLength="5" lengthAdjust="spacingAndGlyphs" style="font-family:'Liberation Sans', sans-serif">IN</text>
<path d="M977.74,188.15 L976.82,187.12 L974.99,187.12 L974.08,188.15 L974.08,188.98 L974.81,189.7 L977.01,189.7 L977.74,190.42 L977.74,191.24 L976.82,192.27 L974.99,192.27 L974.08,191.24 M983.61,188.15 L982.7,187.12 L980.86,187.12 L979.95,188.15 L979.95,191.24 L980.86,192.27 L982.7,192.27 L983.61,191.24 M985.82,187.12 L985.82,192.27 L989.49,192.27 M991.69,187.12 L991.69,192.27 M995.36,187.12 L991.69,190.21 M993.16,189.18 L995.36,192.27 M996.93,192.27 L1001.87,192.27 M1003.44,192.27 L1003.44,188.15 L1004.36,187.12 L1006.19,187.12 L1007.11,188.15 L1007.11,192.27 M1003.44,190.21 L1007.11,190.21 M1009.31,187.12 L1012.06,187.12 L1012.98,188.15 L1012.98,191.24 L1012.06,192.27 L1009.31,192.27 L1009.31,187.12 M1018.85,188.15 L1017.94,187.12 L1016.1,187.12 L1015.19,188.15 L1015.19,191.24 L1016.1,192.27 L1017.94,192.27 L1018.85,191.24 M1020.42,192.27 L1025.37,192.27 M1027.85,187.12 L1029.68,187.12 L1030.6,188.15 L1030.6,191.24 L1029.68,192.27 L1027.85,192.27 L1026.93,191.24 L1026.93,188.15 L1027.85,187.12 M1032.81,187.12 L1032.81,191.24 L1033.72,192.27 L1035.55,192.27 L1036.47,191.24 L1036.47,187.12 M1038.68,187.12 L1042.34,187.12 M1040.51,187.12 L1040.51,192.27 M1043.91,192.27 L1048.86,192.27 M1054.09,187.12 L1050.42,187.12 L1050.42,192.27 M1050.42,189.7 L1053.17,189.7 M1056.3,192.27 L1056.3,187.12 L1059.05,187.12 L1059.96,188.15 L1059.96,189.18 L1059.05,190.21 L1056.3,190.21 M1065.84,188.15 L1064.92,187.12 L1063.09,187.12 L1062.17,188.15 L1062.17,191.24 L1063.09,192.27 L1064.92,192.27 L1065.84,191.24 L1065.84,189.91 L1064.19,189.91 M1068.04,192.27 L1068.04,188.15 L1068.96,187.12 L1070.79,187.12 L1071.71,188.15 L1071.71,192.27 M1068.04,190.21 L1071.71,190.21" fill="none" stroke="#000" stroke-width="1.15" stroke-linejoin="miter" stroke-miterlimit="1.5"/>
<polyline points="813.5,235.5 853.5,235.5" fill="none" stroke="#000" stroke-width="1"/>
<polyline points="853.5,235.5 855.5,232.5 862.5,238.5 868.5,232.5 874.5,238.5 877.5,235.5" fill="none" stroke="#000" stroke-width="1"/>
<text x="839" y="232.78" font-size="5" fill="#7a6658" font-weight="bold" textLength="8" lengthAdjust="spacingAndGlyphs" style="font-family:'Liberation Sans', sans-serif">R48</text>
<path d="M879.58,229.61 L880.49,228.8 L882.33,228.8 L883.25,229.61 L883.25,230.42 L879.58,232.85 L883.25,232.85 M885.45,228.8 L885.45,232.85 L888.21,232.85 L889.13,232.04 L889.13,231.47 L888.21,230.83 L885.45,230.83 M885.45,228.8 L888.21,228.8 L889.13,229.45 L889.13,230.18 L888.21,230.83" fill="none" stroke="#000" stroke-width="1.15" stroke-linejoin="miter" stroke-miterlimit="1.5"/>
<polyline points="877.5,235.5 957.5,235.5" fill="none" stroke="#000" stroke-width="1"/>
<polygon points="957.4,232.82 970,232.82 973,235.62 970,238.43 957.4,238.43" fill="none" stroke="#111" stroke-width="1"/>
<text x="958.9" y="237.31" font-size="5.4" fill="#8a7890" font-weight="bold" textLength="9.6" lengthAdjust="spacingAndGlyphs" style="font-family:'Liberation Sans', sans-serif">OUT</text>
<path d="M977.08,233.1 L977.08,238.25 L980.74,238.25 M982.94,233.1 L985.69,233.1 L986.6,234.13 L986.6,237.22 L985.69,238.25 L982.94,238.25 L982.94,233.1 M988.81,238.25 L988.81,234.13 L989.72,233.1 L991.55,233.1 L992.47,234.13 L992.47,238.25 M988.81,236.19 L992.47,236.19 M998.34,234.13 L997.42,233.1 L995.59,233.1 L994.68,234.13 L994.68,237.22 L995.59,238.25 L997.42,238.25 L998.34,237.22 M999.9,238.25 L1004.84,238.25 M1010.07,233.1 L1006.41,233.1 L1006.41,238.25 M1006.41,235.67 L1009.15,235.67 M1012.27,238.25 L1012.27,233.1 L1015.02,233.1 L1015.94,234.13 L1015.94,235.16 L1015.02,236.19 L1012.27,236.19 M1021.8,234.13 L1020.89,233.1 L1019.06,233.1 L1018.14,234.13 L1018.14,237.22 L1019.06,238.25 L1020.89,238.25 L1021.8,237.22 L1021.8,235.88 L1020.16,235.88 M1024.01,238.25 L1024.01,234.13 L1024.92,233.1 L1026.75,233.1 L1027.67,234.13 L1027.67,238.25 M1024.01,236.19 L1027.67,236.19" fill="none" stroke="#000" stroke-width="1.15" stroke-linejoin="miter" stroke-miterlimit="1.5"/>
<polyline points="813.5,244.5 853.5,244.5" fill="none" stroke="#000" stroke-width="1"/>
<polyline points="853.5,244.5 855.5,241.5 862.5,248.5 868.5,241.5 874.5,248.5 877.5,244.5" fill="none" stroke="#000" stroke-width="1"/>
<text x="839" y="241.97" font-size="5" fill="#7a6658" font-weight="bold" textLength="8" lengthAdjust="spacingAndGlyphs" style="font-family:'Liberation Sans', sans-serif">R47</text>
<path d="M879.58,238.81 L880.49,238 L882.33,238 L883.25,238.81 L883.25,239.62 L879.58,242.05 L883.25,242.05 M885.45,238 L885.45,242.05 L888.21,242.05 L889.13,241.24 L889.13,240.67 L888.21,240.02 L885.45,240.02 M885.45,238 L888.21,238 L889.13,238.64 L889.13,239.37 L888.21,240.02" fill="none" stroke="#000" stroke-width="1.15" stroke-linejoin="miter" stroke-miterlimit="1.5"/>
<polyline points="877.5,244.5 957.5,244.5" fill="none" stroke="#000" stroke-width="1"/>
<polygon points="957.4,242.02 970,242.02 973,244.82 970,247.62 957.4,247.62" fill="none" stroke="#111" stroke-width="1"/>
<text x="958.9" y="246.51" font-size="5.4" fill="#8a7890" font-weight="bold" textLength="9.6" lengthAdjust="spacingAndGlyphs" style="font-family:'Liberation Sans', sans-serif">OUT</text>
<path d="M980.74,243.32 L979.82,242.29 L977.99,242.29 L977.08,243.32 L977.08,246.41 L977.99,247.44 L979.82,247.44 L980.74,246.41 M986.61,243.32 L985.69,242.29 L983.86,242.29 L982.94,243.32 L982.94,244.15 L983.68,244.87 L985.87,244.87 L986.61,245.59 L986.61,246.41 L985.69,247.44 L983.86,247.44 L982.94,246.41 M988.17,247.44 L993.12,247.44 M994.68,242.29 L997.43,242.29 L998.35,243.32 L998.35,246.41 L997.43,247.44 L994.68,247.44 L994.68,242.29 M1000.55,247.44 L1000.55,243.32 L1001.47,242.29 L1003.3,242.29 L1004.21,243.32 L1004.21,247.44 M1000.55,245.38 L1004.21,245.38 M1010.08,243.32 L1009.17,242.29 L1007.34,242.29 L1006.42,243.32 L1006.42,246.41 L1007.34,247.44 L1009.17,247.44 L1010.08,246.41 M1011.65,247.44 L1016.59,247.44 M1021.82,242.29 L1018.16,242.29 L1018.16,247.44 M1018.16,244.87 L1020.91,244.87 M1024.03,247.44 L1024.03,242.29 L1026.78,242.29 L1027.69,243.32 L1027.69,244.35 L1026.78,245.38 L1024.03,245.38 M1033.56,243.32 L1032.64,242.29 L1030.81,242.29 L1029.9,243.32 L1029.9,246.41 L1030.81,247.44 L1032.64,247.44 L1033.56,246.41 L1033.56,245.08 L1031.91,245.08 M1035.77,247.44 L1035.77,243.32 L1036.68,242.29 L1038.51,242.29 L1039.43,243.32 L1039.43,247.44 M1035.77,245.38 L1039.43,245.38" fill="none" stroke="#000" stroke-width="1.15" stroke-linejoin="miter" stroke-miterlimit="1.5"/>
<polyline points="813.5,263.5 853.5,263.5" fill="none" stroke="#000" stroke-width="1"/>
<polyline points="853.5,263.5 855.5,259.5 862.5,266.5 868.5,259.5 874.5,266.5 877.5,263.5" fill="none" stroke="#000" stroke-width="1"/>
<text x="839" y="260.36" font-size="5" fill="#7a6658" font-weight="bold" textLength="8" lengthAdjust="spacingAndGlyphs" style="font-family:'Liberation Sans', sans-serif">R46</text>
<path d="M879.58,257.19 L880.49,256.38 L882.33,256.38 L883.25,257.19 L883.25,258 L879.58,260.44 L883.25,260.44 M885.45,256.38 L885.45,260.44 L888.21,260.44 L889.13,259.62 L889.13,259.06 L888.21,258.41 L885.45,258.41 M885.45,256.38 L888.21,256.38 L889.13,257.03 L889.13,257.76 L888.21,258.41" fill="none" stroke="#000" stroke-width="1.15" stroke-linejoin="miter" stroke-miterlimit="1.5"/>
<polyline points="877.5,263.5 957.5,263.5" fill="none" stroke="#000" stroke-width="1"/>
<polygon points="957.4,260.41 970,260.41 973,263.21 970,266.01 957.4,266.01" fill="none" stroke="#111" stroke-width="1"/>
<text x="958.9" y="264.9" font-size="5.4" fill="#8a7890" font-weight="bold" textLength="9.6" lengthAdjust="spacingAndGlyphs" style="font-family:'Liberation Sans', sans-serif">OUT</text>
<path d="M980.74,261.71 L979.82,260.68 L977.99,260.68 L977.08,261.71 L977.08,262.54 L977.81,263.26 L980.01,263.26 L980.74,263.98 L980.74,264.8 L979.82,265.83 L977.99,265.83 L977.08,264.8 M986.61,261.71 L985.69,260.68 L983.86,260.68 L982.95,261.71 L982.95,264.8 L983.86,265.83 L985.69,265.83 L986.61,264.8 M988.82,260.68 L988.82,265.83 L992.48,265.83 M994.69,260.68 L994.69,265.83 M998.35,260.68 L994.69,263.77 M996.15,262.74 L998.35,265.83 M999.92,265.83 L1004.86,265.83 M1006.43,260.68 L1009.18,260.68 L1010.09,261.71 L1010.09,264.8 L1009.18,265.83 L1006.43,265.83 L1006.43,260.68 M1012.3,265.83 L1012.3,261.71 L1013.22,260.68 L1015.05,260.68 L1015.96,261.71 L1015.96,265.83 M1012.3,263.77 L1015.96,263.77 M1021.83,261.71 L1020.92,260.68 L1019.09,260.68 L1018.17,261.71 L1018.17,264.8 L1019.09,265.83 L1020.92,265.83 L1021.83,264.8 M1023.4,265.83 L1028.35,265.83 M1033.58,260.68 L1029.91,260.68 L1029.91,265.83 M1029.91,263.26 L1032.66,263.26 M1035.78,265.83 L1035.78,260.68 L1038.53,260.68 L1039.45,261.71 L1039.45,262.74 L1038.53,263.77 L1035.78,263.77 M1045.32,261.71 L1044.4,260.68 L1042.57,260.68 L1041.65,261.71 L1041.65,264.8 L1042.57,265.83 L1044.4,265.83 L1045.32,264.8 L1045.32,263.47 L1043.67,263.47 M1047.52,265.83 L1047.52,261.71 L1048.44,260.68 L1050.27,260.68 L1051.19,261.71 L1051.19,265.83 M1047.52,263.77 L1051.19,263.77" fill="none" stroke="#000" stroke-width="1.15" stroke-linejoin="miter" stroke-miterlimit="1.5"/>
<polyline points="813.5,318.5 853.5,318.5" fill="none" stroke="#000" stroke-width="1"/>
<polyline points="853.5,318.5 855.5,315.5 862.5,321.5 868.5,315.5 874.5,321.5 877.5,318.5" fill="none" stroke="#000" stroke-width="1"/>
<text x="839" y="315.53" font-size="5" fill="#7a6658" font-weight="bold" textLength="8" lengthAdjust="spacingAndGlyphs" style="font-family:'Liberation Sans', sans-serif">R37</text>
<path d="M879.58,312.37 L880.49,311.56 L882.33,311.56 L883.25,312.37 L883.25,313.18 L879.58,315.61 L883.25,315.61 M885.45,311.56 L885.45,315.61 L888.21,315.61 L889.13,314.8 L889.13,314.23 L888.21,313.58 L885.45,313.58 M885.45,311.56 L888.21,311.56 L889.13,312.2 L889.13,312.93 L888.21,313.58" fill="none" stroke="#000" stroke-width="1.15" stroke-linejoin="miter" stroke-miterlimit="1.5"/>
<polyline points="877.5,318.5 957.5,318.5" fill="none" stroke="#000" stroke-width="1"/>
<polygon points="957.4,315.58 970,315.58 973,318.38 970,321.18 957.4,321.18" fill="none" stroke="#111" stroke-width="1"/>
<text x="958.9" y="320.07" font-size="5.4" fill="#8a7890" font-weight="bold" textLength="9.6" lengthAdjust="spacingAndGlyphs" style="font-family:'Liberation Sans', sans-serif">OUT</text>
<path d="M977.08,315.85 L979.82,315.85 L980.74,316.88 L980.74,319.97 L979.82,321 L977.08,321 L977.08,315.85 M983.68,315.85 L985.88,315.85 M984.78,315.85 L984.78,321 M983.68,321 L985.88,321 M988.82,321 L988.82,315.85 L992.48,321 L992.48,315.85 M994.04,321 L998.99,321 M1000.56,315.85 L1003.3,315.85 L1004.22,316.88 L1004.22,319.97 L1003.3,321 L1000.56,321 L1000.56,315.85 M1006.43,321 L1006.43,316.88 L1007.34,315.85 L1009.17,315.85 L1010.09,316.88 L1010.09,321 M1006.43,318.94 L1010.09,318.94 M1015.96,316.88 L1015.04,315.85 L1013.21,315.85 L1012.3,316.88 L1012.3,319.97 L1013.21,321 L1015.04,321 L1015.96,319.97 M1017.52,321 L1022.47,321 M1027.7,315.85 L1024.04,315.85 L1024.04,321 M1024.04,318.43 L1026.78,318.43 M1029.91,321 L1029.91,315.85 L1032.65,315.85 L1033.57,316.88 L1033.57,317.91 L1032.65,318.94 L1029.91,318.94 M1039.44,316.88 L1038.52,315.85 L1036.69,315.85 L1035.78,316.88 L1035.78,319.97 L1036.69,321 L1038.52,321 L1039.44,319.97 L1039.44,318.64 L1037.79,318.64 M1041.65,321 L1041.65,316.88 L1042.56,315.85 L1044.39,315.85 L1045.31,316.88 L1045.31,321 M1041.65,318.94 L1045.31,318.94" fill="none" stroke="#000" stroke-width="1.15" stroke-linejoin="miter" stroke-miterlimit="1.5"/>
<polyline points="813.5,327.5 853.5,327.5" fill="none" stroke="#000" stroke-width="1"/>
<polyline points="853.5,327.5 855.5,324.5 862.5,330.5 868.5,324.5 874.5,330.5 877.5,327.5" fill="none" stroke="#000" stroke-width="1"/>
<text x="839" y="324.72" font-size="5" fill="#7a6658" font-weight="bold" textLength="8" lengthAdjust="spacingAndGlyphs" style="font-family:'Liberation Sans', sans-serif">R36</text>
<path d="M879.58,321.56 L880.49,320.75 L882.33,320.75 L883.25,321.56 L883.25,322.37 L879.58,324.8 L883.25,324.8 M885.45,320.75 L885.45,324.8 L888.21,324.8 L889.13,323.99 L889.13,323.42 L888.21,322.77 L885.45,322.77 M885.45,320.75 L888.21,320.75 L889.13,321.4 L889.13,322.13 L888.21,322.77" fill="none" stroke="#000" stroke-width="1.15" stroke-linejoin="miter" stroke-miterlimit="1.5"/>
<polyline points="877.5,327.5 884.5,327.5" fill="none" stroke="#000" stroke-width="1"/>
<polyline points="813.5,345.5 853.5,345.5" fill="none" stroke="#000" stroke-width="1"/>
<polyline points="853.5,345.5 855.5,342.5 862.5,349.5 868.5,342.5 874.5,349.5 877.5,345.5" fill="none" stroke="#000" stroke-width="1"/>
<text x="839" y="343.12" font-size="5" fill="#7a6658" font-weight="bold" textLength="8" lengthAdjust="spacingAndGlyphs" style="font-family:'Liberation Sans', sans-serif">R31</text>
<path d="M879.58,339.95 L880.49,339.14 L882.33,339.14 L883.25,339.95 L883.25,340.76 L879.58,343.19 L883.25,343.19 M885.45,339.14 L885.45,343.19 L888.21,343.19 L889.13,342.38 L889.13,341.81 L888.21,341.17 L885.45,341.17 M885.45,339.14 L888.21,339.14 L889.13,339.79 L889.13,340.52 L888.21,341.17" fill="none" stroke="#000" stroke-width="1.15" stroke-linejoin="miter" stroke-miterlimit="1.5"/>
<polyline points="877.5,345.5 884.5,345.5" fill="none" stroke="#000" stroke-width="1"/>
<polyline points="813.5,355.5 853.5,355.5" fill="none" stroke="#000" stroke-width="1"/>
<polyline points="853.5,355.5 855.5,351.5 862.5,358.5 868.5,351.5 874.5,358.5 877.5,355.5" fill="none" stroke="#000" stroke-width="1"/>
<text x="839" y="352.31" font-size="5" fill="#7a6658" font-weight="bold" textLength="8" lengthAdjust="spacingAndGlyphs" style="font-family:'Liberation Sans', sans-serif">R27</text>
<path d="M879.58,349.15 L880.49,348.34 L882.33,348.34 L883.25,349.15 L883.25,349.96 L879.58,352.39 L883.25,352.39 M885.45,348.34 L885.45,352.39 L888.21,352.39 L889.13,351.58 L889.13,351.01 L888.21,350.36 L885.45,350.36 M885.45,348.34 L888.21,348.34 L889.13,348.98 L889.13,349.71 L888.21,350.36" fill="none" stroke="#000" stroke-width="1.15" stroke-linejoin="miter" stroke-miterlimit="1.5"/>
<polyline points="877.5,355.5 884.5,355.5" fill="none" stroke="#000" stroke-width="1"/>
<polyline points="813.5,373.5 853.5,373.5" fill="none" stroke="#000" stroke-width="1"/>
<polyline points="853.5,373.5 855.5,370.5 862.5,376.5 868.5,370.5 874.5,376.5 877.5,373.5" fill="none" stroke="#000" stroke-width="1"/>
<text x="839" y="370.7" font-size="5" fill="#7a6658" font-weight="bold" textLength="8" lengthAdjust="spacingAndGlyphs" style="font-family:'Liberation Sans', sans-serif">R25</text>
<path d="M879.58,367.54 L880.49,366.73 L882.33,366.73 L883.25,367.54 L883.25,368.35 L879.58,370.78 L883.25,370.78 M885.45,366.73 L885.45,370.78 L888.21,370.78 L889.13,369.97 L889.13,369.4 L888.21,368.75 L885.45,368.75 M885.45,366.73 L888.21,366.73 L889.13,367.37 L889.13,368.1 L888.21,368.75" fill="none" stroke="#000" stroke-width="1.15" stroke-linejoin="miter" stroke-miterlimit="1.5"/>
<polyline points="877.5,373.5 957.5,373.5" fill="none" stroke="#000" stroke-width="1"/>
<path d="M957.94,368.91 L957.02,368.02 L955.19,368.02 L954.28,368.91 L954.28,369.63 L955.01,370.25 L957.21,370.25 L957.94,370.87 L957.94,371.58 L957.02,372.47 L955.19,372.47 L954.28,371.58 M961.06,368.02 L962.89,368.02 L963.81,368.91 L963.81,371.58 L962.89,372.47 L961.06,372.47 L960.15,371.58 L960.15,368.91 L961.06,368.02 M965.38,372.47 L970.32,372.47 M975.55,368.02 L971.89,368.02 L971.89,372.47 L975.55,372.47 M971.89,370.25 L974.64,370.25 M981.43,368.02 L977.76,368.02 L977.76,372.47 L981.43,372.47 M977.76,370.25 L980.51,370.25 M983.63,372.47 L983.63,368.02 L986.38,368.02 L987.3,368.91 L987.3,369.8 L986.38,370.69 L983.63,370.69 M989.5,372.47 L989.5,368.02 L992.25,368.02 L993.17,368.91 L993.17,369.8 L992.25,370.69 L989.5,370.69 M991.34,370.69 L993.17,372.47 M996.29,368.02 L998.12,368.02 L999.04,368.91 L999.04,371.58 L998.12,372.47 L996.29,372.47 L995.38,371.58 L995.38,368.91 L996.29,368.02 M1001.25,372.47 L1001.25,368.02 L1003.08,370.25 L1004.91,368.02 L1004.91,372.47 M1006.48,372.47 L1011.42,372.47 M1016.65,368.02 L1012.99,368.02 L1012.99,372.47 M1012.99,370.25 L1015.74,370.25 M1018.86,372.47 L1018.86,368.02 L1021.61,368.02 L1022.53,368.91 L1022.53,369.8 L1021.61,370.69 L1018.86,370.69 M1028.4,368.91 L1027.48,368.02 L1025.65,368.02 L1024.73,368.91 L1024.73,371.58 L1025.65,372.47 L1027.48,372.47 L1028.4,371.58 L1028.4,370.43 L1026.75,370.43 M1030.6,372.47 L1030.6,368.91 L1031.52,368.02 L1033.35,368.02 L1034.27,368.91 L1034.27,372.47 M1030.6,370.69 L1034.27,370.69" fill="none" stroke="#000" stroke-width="1.15" stroke-linejoin="miter" stroke-miterlimit="1.5"/>
<polyline points="813.5,382.5 853.5,382.5" fill="none" stroke="#000" stroke-width="1"/>
<polyline points="853.5,382.5 855.5,379.5 862.5,386.5 868.5,379.5 874.5,386.5 877.5,382.5" fill="none" stroke="#000" stroke-width="1"/>
<text x="839" y="379.89" font-size="5" fill="#7a6658" font-weight="bold" textLength="8" lengthAdjust="spacingAndGlyphs" style="font-family:'Liberation Sans', sans-serif">R24</text>
<path d="M879.58,376.73 L880.49,375.92 L882.33,375.92 L883.25,376.73 L883.25,377.54 L879.58,379.97 L883.25,379.97 M885.45,375.92 L885.45,379.97 L888.21,379.97 L889.13,379.16 L889.13,378.59 L888.21,377.94 L885.45,377.94 M885.45,375.92 L888.21,375.92 L889.13,376.57 L889.13,377.3 L888.21,377.94" fill="none" stroke="#000" stroke-width="1.15" stroke-linejoin="miter" stroke-miterlimit="1.5"/>
<polyline points="877.5,382.5 1071.5,382.5 1071.5,428.5 1104.5,428.5" fill="none" stroke="#000" stroke-width="1"/>
<path d="M957.94,378.05 L957.02,377.12 L955.19,377.12 L954.28,378.05 L954.28,378.79 L955.01,379.44 L957.21,379.44 L957.94,380.1 L957.94,380.84 L957.02,381.77 L955.19,381.77 L954.28,380.84 M960.88,377.12 L963.08,377.12 M961.98,377.12 L961.98,381.77 M960.88,381.77 L963.08,381.77 M965.38,381.77 L970.32,381.77 M975.55,377.12 L971.89,377.12 L971.89,381.77 L975.55,381.77 M971.89,379.44 L974.64,379.44 M981.43,377.12 L977.76,377.12 L977.76,381.77 L981.43,381.77 M977.76,379.44 L980.51,379.44 M983.63,381.77 L983.63,377.12 L986.38,377.12 L987.3,378.05 L987.3,378.98 L986.38,379.91 L983.63,379.91 M989.5,381.77 L989.5,377.12 L992.25,377.12 L993.17,378.05 L993.17,378.98 L992.25,379.91 L989.5,379.91 M991.34,379.91 L993.17,381.77 M996.29,377.12 L998.12,377.12 L999.04,378.05 L999.04,380.84 L998.12,381.77 L996.29,381.77 L995.38,380.84 L995.38,378.05 L996.29,377.12 M1001.25,381.77 L1001.25,377.12 L1003.08,379.44 L1004.91,377.12 L1004.91,381.77 M1006.48,381.77 L1011.42,381.77 M1016.65,377.12 L1012.99,377.12 L1012.99,381.77 M1012.99,379.44 L1015.74,379.44 M1018.86,381.77 L1018.86,377.12 L1021.61,377.12 L1022.53,378.05 L1022.53,378.98 L1021.61,379.91 L1018.86,379.91 M1028.4,378.05 L1027.48,377.12 L1025.65,377.12 L1024.73,378.05 L1024.73,380.84 L1025.65,381.77 L1027.48,381.77 L1028.4,380.84 L1028.4,379.63 L1026.75,379.63 M1030.6,381.77 L1030.6,378.05 L1031.52,377.12 L1033.35,377.12 L1034.27,378.05 L1034.27,381.77 M1030.6,379.91 L1034.27,379.91" fill="none" stroke="#000" stroke-width="1.15" stroke-linejoin="miter" stroke-miterlimit="1.5"/>
<polyline points="813.5,401.5 853.5,401.5" fill="none" stroke="#000" stroke-width="1"/>
<polyline points="853.5,401.5 855.5,397.5 862.5,404.5 868.5,397.5 874.5,404.5 877.5,401.5" fill="none" stroke="#000" stroke-width="1"/>
<text x="839" y="398.28" font-size="5" fill="#7a6658" font-weight="bold" textLength="8" lengthAdjust="spacingAndGlyphs" style="font-family:'Liberation Sans', sans-serif">R23</text>
<path d="M879.58,395.12 L880.49,394.31 L882.33,394.31 L883.25,395.12 L883.25,395.93 L879.58,398.36 L883.25,398.36 M885.45,394.31 L885.45,398.36 L888.21,398.36 L889.13,397.55 L889.13,396.98 L888.21,396.33 L885.45,396.33 M885.45,394.31 L888.21,394.31 L889.13,394.96 L889.13,395.69 L888.21,396.33" fill="none" stroke="#000" stroke-width="1.15" stroke-linejoin="miter" stroke-miterlimit="1.5"/>
<polyline points="877.5,401.5 1056.5,401.5 1056.5,419.5 1104.5,419.5" fill="none" stroke="#000" stroke-width="1"/>
<path d="M957.94,396.36 L957.02,395.51 L955.19,395.51 L954.28,396.36 L954.28,397.04 L955.01,397.63 L957.21,397.63 L957.94,398.23 L957.94,398.91 L957.02,399.76 L955.19,399.76 L954.28,398.91 M963.81,396.36 L962.9,395.51 L961.06,395.51 L960.15,396.36 L960.15,398.91 L961.06,399.76 L962.9,399.76 L963.81,398.91 M966.02,395.51 L966.02,399.76 M969.68,395.51 L966.02,398.06 M967.49,397.21 L969.68,399.76 M971.25,399.76 L976.2,399.76 M981.43,395.51 L977.76,395.51 L977.76,399.76 L981.43,399.76 M977.76,397.63 L980.51,397.63 M987.3,395.51 L983.64,395.51 L983.64,399.76 L987.3,399.76 M983.64,397.63 L986.38,397.63 M989.51,399.76 L989.51,395.51 L992.26,395.51 L993.17,396.36 L993.17,397.21 L992.26,398.06 L989.51,398.06 M995.38,399.76 L995.38,395.51 L998.13,395.51 L999.04,396.36 L999.04,397.21 L998.13,398.06 L995.38,398.06 M997.21,398.06 L999.04,399.76 M1002.17,395.51 L1004,395.51 L1004.92,396.36 L1004.92,398.91 L1004,399.76 L1002.17,399.76 L1001.25,398.91 L1001.25,396.36 L1002.17,395.51 M1007.12,399.76 L1007.12,395.51 L1008.96,397.63 L1010.79,395.51 L1010.79,399.76 M1012.35,399.76 L1017.3,399.76 M1022.53,395.51 L1018.87,395.51 L1018.87,399.76 M1018.87,397.63 L1021.62,397.63 M1024.74,399.76 L1024.74,395.51 L1027.49,395.51 L1028.4,396.36 L1028.4,397.21 L1027.49,398.06 L1024.74,398.06 M1034.28,396.36 L1033.36,395.51 L1031.53,395.51 L1030.61,396.36 L1030.61,398.91 L1031.53,399.76 L1033.36,399.76 L1034.28,398.91 L1034.28,397.81 L1032.63,397.81 M1036.48,399.76 L1036.48,396.36 L1037.4,395.51 L1039.23,395.51 L1040.15,396.36 L1040.15,399.76 M1036.48,398.06 L1040.15,398.06" fill="none" stroke="#000" stroke-width="1.15" stroke-linejoin="miter" stroke-miterlimit="1.5"/>
<polyline points="813.5,410.5 853.5,410.5" fill="none" stroke="#000" stroke-width="1"/>
<polyline points="853.5,410.5 855.5,407.5 862.5,413.5 868.5,407.5 874.5,413.5 877.5,410.5" fill="none" stroke="#000" stroke-width="1"/>
<text x="839" y="407.48" font-size="5" fill="#7a6658" font-weight="bold" textLength="8" lengthAdjust="spacingAndGlyphs" style="font-family:'Liberation Sans', sans-serif">R22</text>
<path d="M879.58,404.31 L880.49,403.5 L882.33,403.5 L883.25,404.31 L883.25,405.12 L879.58,407.56 L883.25,407.56 M885.45,403.5 L885.45,407.56 L888.21,407.56 L889.13,406.75 L889.13,406.18 L888.21,405.53 L885.45,405.53 M885.45,403.5 L888.21,403.5 L889.13,404.15 L889.13,404.88 L888.21,405.53" fill="none" stroke="#000" stroke-width="1.15" stroke-linejoin="miter" stroke-miterlimit="1.5"/>
<polyline points="877.5,410.5 1104.5,410.5" fill="none" stroke="#000" stroke-width="1"/>
<path d="M955.24,405.66 L954.32,404.81 L952.49,404.81 L951.58,405.66 L951.58,408.2 L952.49,409.06 L954.32,409.06 L955.24,408.2 M961.11,405.66 L960.19,404.81 L958.36,404.81 L957.45,405.66 L957.45,406.33 L958.18,406.93 L960.38,406.93 L961.11,407.53 L961.11,408.2 L960.19,409.06 L958.36,409.06 L957.45,408.2 M962.68,409.06 L967.62,409.06 M972.85,404.81 L969.19,404.81 L969.19,409.06 L972.85,409.06 M969.19,406.93 L971.94,406.93 M978.73,404.81 L975.06,404.81 L975.06,409.06 L978.73,409.06 M975.06,406.93 L977.81,406.93 M980.93,409.06 L980.93,404.81 L983.68,404.81 L984.6,405.66 L984.6,406.5 L983.68,407.36 L980.93,407.36 M986.8,409.06 L986.8,404.81 L989.55,404.81 L990.47,405.66 L990.47,406.5 L989.55,407.36 L986.8,407.36 M988.64,407.36 L990.47,409.06 M993.59,404.81 L995.42,404.81 L996.34,405.66 L996.34,408.2 L995.42,409.06 L993.59,409.06 L992.68,408.2 L992.68,405.66 L993.59,404.81 M998.55,409.06 L998.55,404.81 L1000.38,406.93 L1002.21,404.81 L1002.21,409.06 M1003.78,409.06 L1008.72,409.06 M1013.95,404.81 L1010.29,404.81 L1010.29,409.06 M1010.29,406.93 L1013.04,406.93 M1016.16,409.06 L1016.16,404.81 L1018.91,404.81 L1019.83,405.66 L1019.83,406.5 L1018.91,407.36 L1016.16,407.36 M1025.7,405.66 L1024.78,404.81 L1022.95,404.81 L1022.03,405.66 L1022.03,408.2 L1022.95,409.06 L1024.78,409.06 L1025.7,408.2 L1025.7,407.1 L1024.05,407.1 M1027.9,409.06 L1027.9,405.66 L1028.82,404.81 L1030.65,404.81 L1031.57,405.66 L1031.57,409.06 M1027.9,407.36 L1031.57,407.36" fill="none" stroke="#000" stroke-width="1.15" stroke-linejoin="miter" stroke-miterlimit="1.5"/>
<polyline points="813.5,428.5 853.5,428.5" fill="none" stroke="#000" stroke-width="1"/>
<polyline points="853.5,428.5 855.5,425.5 862.5,432.5 868.5,425.5 874.5,432.5 877.5,428.5" fill="none" stroke="#000" stroke-width="1"/>
<text x="839" y="425.87" font-size="5" fill="#7a6658" font-weight="bold" textLength="8" lengthAdjust="spacingAndGlyphs" style="font-family:'Liberation Sans', sans-serif">R21</text>
<path d="M879.58,422.7 L880.49,421.89 L882.33,421.89 L883.25,422.7 L883.25,423.51 L879.58,425.94 L883.25,425.94 M885.45,421.89 L885.45,425.94 L888.21,425.94 L889.13,425.13 L889.13,424.57 L888.21,423.92 L885.45,423.92 M885.45,421.89 L888.21,421.89 L889.13,422.54 L889.13,423.27 L888.21,423.92" fill="none" stroke="#000" stroke-width="1.15" stroke-linejoin="miter" stroke-miterlimit="1.5"/>
<polyline points="877.5,428.5 884.5,428.5" fill="none" stroke="#000" stroke-width="1"/>
<polyline points="813.5,437.5 853.5,437.5" fill="none" stroke="#000" stroke-width="1"/>
<polyline points="853.5,437.5 855.5,434.5 862.5,441.5 868.5,434.5 874.5,441.5 877.5,437.5" fill="none" stroke="#000" stroke-width="1"/>
<text x="839" y="435.06" font-size="5" fill="#7a6658" font-weight="bold" textLength="8" lengthAdjust="spacingAndGlyphs" style="font-family:'Liberation Sans', sans-serif">R19</text>
<path d="M879.58,431.9 L880.49,431.09 L882.33,431.09 L883.25,431.9 L883.25,432.71 L879.58,435.14 L883.25,435.14 M885.45,431.09 L885.45,435.14 L888.21,435.14 L889.13,434.33 L889.13,433.76 L888.21,433.12 L885.45,433.12 M885.45,431.09 L888.21,431.09 L889.13,431.74 L889.13,432.47 L888.21,433.12" fill="none" stroke="#000" stroke-width="1.15" stroke-linejoin="miter" stroke-miterlimit="1.5"/>
<polyline points="877.5,437.5 884.5,437.5" fill="none" stroke="#000" stroke-width="1"/>
<polyline points="813.5,208.5 955.5,208.5" fill="none" stroke="#000" stroke-width="1"/>
<polygon points="955,208.04 958.3,205.24 970.8,205.24 970.8,210.84 958.3,210.84" fill="none" stroke="#111" stroke-width="1"/>
<text x="963.8" y="209.73" font-size="5.4" fill="#8a7890" font-weight="bold" textLength="5" lengthAdjust="spacingAndGlyphs" style="font-family:'Liberation Sans', sans-serif">IN</text>
<path d="M976.08,206.47 L976.08,201.31 L978.82,201.31 L979.74,202.34 L979.74,203.38 L978.82,204.41 L976.08,204.41 M977.91,204.41 L979.74,206.47 M981.95,201.31 L984.69,201.31 L985.61,202.34 L985.61,205.44 L984.69,206.47 L981.95,206.47 L981.95,201.31 M987.82,201.31 L989.65,203.89 L991.48,201.31 M989.65,203.89 L989.65,206.47 M993.69,201.31 L993.69,206.47 L996.44,206.47 L997.35,205.44 L997.35,204.71 L996.44,203.89 L993.69,203.89 M993.69,201.31 L996.44,201.31 L997.35,202.14 L997.35,203.07 L996.44,203.89 M998.92,206.47 L1003.86,206.47 M1005.43,206.47 L1005.43,202.34 L1006.35,201.31 L1008.18,201.31 L1009.09,202.34 L1009.09,206.47 M1005.43,204.41 L1009.09,204.41 M1011.3,201.31 L1014.05,201.31 L1014.96,202.34 L1014.96,205.44 L1014.05,206.47 L1011.3,206.47 L1011.3,201.31 M1020.83,202.34 L1019.92,201.31 L1018.09,201.31 L1017.17,202.34 L1017.17,205.44 L1018.09,206.47 L1019.92,206.47 L1020.83,205.44 M1022.4,206.47 L1027.35,206.47 M1032.58,201.31 L1028.91,201.31 L1028.91,206.47 M1028.91,203.89 L1031.66,203.89 M1034.78,206.47 L1034.78,201.31 L1037.53,201.31 L1038.45,202.34 L1038.45,203.38 L1037.53,204.41 L1034.78,204.41 M1044.32,202.34 L1043.4,201.31 L1041.57,201.31 L1040.65,202.34 L1040.65,205.44 L1041.57,206.47 L1043.4,206.47 L1044.32,205.44 L1044.32,204.1 L1042.67,204.1 M1046.52,206.47 L1046.52,202.34 L1047.44,201.31 L1049.27,201.31 L1050.19,202.34 L1050.19,206.47 M1046.52,204.41 L1050.19,204.41" fill="none" stroke="#000" stroke-width="1.15" stroke-linejoin="miter" stroke-miterlimit="1.5"/>
<polyline points="813.5,290.5 957.5,290.5" fill="none" stroke="#000" stroke-width="1"/>
<polygon points="957.4,288 970,288 973,290.8 970,293.6 957.4,293.6" fill="none" stroke="#111" stroke-width="1"/>
<text x="958.9" y="292.49" font-size="5.4" fill="#8a7890" font-weight="bold" textLength="9.6" lengthAdjust="spacingAndGlyphs" style="font-family:'Liberation Sans', sans-serif">OUT</text>
<path d="M980.74,289.3 L979.82,288.27 L977.99,288.27 L977.08,289.3 L977.08,292.39 L977.99,293.42 L979.82,293.42 L980.74,292.39 M986.61,289.3 L985.69,288.27 L983.86,288.27 L982.94,289.3 L982.94,290.12 L983.68,290.84 L985.87,290.84 L986.61,291.57 L986.61,292.39 L985.69,293.42 L983.86,293.42 L982.94,292.39 M988.17,293.42 L993.12,293.42 M994.68,293.42 L994.68,289.3 L995.6,288.27 L997.43,288.27 L998.35,289.3 L998.35,293.42 M994.68,291.36 L998.35,291.36 M1000.55,288.27 L1003.3,288.27 L1004.21,289.3 L1004.21,292.39 L1003.3,293.42 L1000.55,293.42 L1000.55,288.27 M1010.08,289.3 L1009.17,288.27 L1007.34,288.27 L1006.42,289.3 L1006.42,292.39 L1007.34,293.42 L1009.17,293.42 L1010.08,292.39 M1011.65,293.42 L1016.59,293.42 M1021.82,288.27 L1018.16,288.27 L1018.16,293.42 M1018.16,290.84 L1020.91,290.84 M1024.03,293.42 L1024.03,288.27 L1026.78,288.27 L1027.69,289.3 L1027.69,290.33 L1026.78,291.36 L1024.03,291.36 M1033.56,289.3 L1032.64,288.27 L1030.81,288.27 L1029.9,289.3 L1029.9,292.39 L1030.81,293.42 L1032.64,293.42 L1033.56,292.39 L1033.56,291.05 L1031.91,291.05 M1035.77,293.42 L1035.77,289.3 L1036.68,288.27 L1038.51,288.27 L1039.43,289.3 L1039.43,293.42 M1035.77,291.36 L1039.43,291.36" fill="none" stroke="#000" stroke-width="1.15" stroke-linejoin="miter" stroke-miterlimit="1.5"/>
<polyline points="813.5,299.5 957.5,299.5" fill="none" stroke="#000" stroke-width="1"/>
<polygon points="957.4,297.19 970,297.19 973,299.99 970,302.79 957.4,302.79" fill="none" stroke="#111" stroke-width="1"/>
<text x="958.9" y="301.68" font-size="5.4" fill="#8a7890" font-weight="bold" textLength="9.6" lengthAdjust="spacingAndGlyphs" style="font-family:'Liberation Sans', sans-serif">OUT</text>
<path d="M980.74,298.49 L979.82,297.46 L977.99,297.46 L977.08,298.49 L977.08,299.32 L977.81,300.04 L980.01,300.04 L980.74,300.76 L980.74,301.58 L979.82,302.61 L977.99,302.61 L977.08,301.58 M982.95,297.46 L984.78,300.04 L986.61,297.46 M984.78,300.04 L984.78,302.61 M988.82,302.61 L988.82,297.46 L992.48,302.61 L992.48,297.46 M998.35,298.49 L997.44,297.46 L995.6,297.46 L994.69,298.49 L994.69,301.58 L995.6,302.61 L997.44,302.61 L998.35,301.58 M999.92,302.61 L1004.86,302.61 M1006.43,302.61 L1006.43,298.49 L1007.35,297.46 L1009.18,297.46 L1010.09,298.49 L1010.09,302.61 M1006.43,300.55 L1010.09,300.55 M1012.3,297.46 L1015.05,297.46 L1015.96,298.49 L1015.96,301.58 L1015.05,302.61 L1012.3,302.61 L1012.3,297.46 M1021.83,298.49 L1020.92,297.46 L1019.09,297.46 L1018.17,298.49 L1018.17,301.58 L1019.09,302.61 L1020.92,302.61 L1021.83,301.58 M1023.4,302.61 L1028.35,302.61 M1033.58,297.46 L1029.91,297.46 L1029.91,302.61 M1029.91,300.04 L1032.66,300.04 M1035.78,302.61 L1035.78,297.46 L1038.53,297.46 L1039.45,298.49 L1039.45,299.52 L1038.53,300.55 L1035.78,300.55 M1045.32,298.49 L1044.4,297.46 L1042.57,297.46 L1041.65,298.49 L1041.65,301.58 L1042.57,302.61 L1044.4,302.61 L1045.32,301.58 L1045.32,300.25 L1043.67,300.25 M1047.52,302.61 L1047.52,298.49 L1048.44,297.46 L1050.27,297.46 L1051.19,298.49 L1051.19,302.61 M1047.52,300.55 L1051.19,300.55" fill="none" stroke="#000" stroke-width="1.15" stroke-linejoin="miter" stroke-miterlimit="1.5"/>
<polyline points="813.5,456.5 936.5,456.5" fill="none" stroke="#000" stroke-width="1"/>
<path d="M901.08,450.88 L901.08,453.4 L903.05,455.93 L905.03,453.4 L905.03,450.88 M907.31,455.93 L907.31,451.89 L908.3,450.88 L910.27,450.88 L911.26,451.89 L911.26,455.93 M907.31,453.91 L911.26,453.91 M913.54,450.88 L916.5,450.88 L917.49,451.89 L917.49,454.92 L916.5,455.93 L913.54,455.93 L913.54,450.88 M923.72,450.88 L923.72,454.92 L922.74,455.93 L920.76,455.93 L919.77,454.92" fill="none" stroke="#000" stroke-width="1.15" stroke-linejoin="miter" stroke-miterlimit="1.5"/>
<circle cx="847.1" cy="456.31" r="1.9" fill="#000"/>
<polyline points="847.5,456.5 847.5,468.5" fill="none" stroke="#000" stroke-width="1"/>
<polyline points="847.5,468.5 863.5,468.5" fill="none" stroke="#000" stroke-width="1"/>
<polyline points="863.5,465.5 863.5,471.5" fill="none" stroke="#000" stroke-width="1.2"/>
<polyline points="872.5,465.5 872.5,471.5" fill="none" stroke="#000" stroke-width="1.2"/>
<polyline points="872.5,468.5 936.5,468.5" fill="none" stroke="#000" stroke-width="1"/>
<circle cx="936.2" cy="468.3" r="1.9" fill="#000"/>
<text x="865" y="463.15" font-size="5" fill="#7a6658" font-weight="bold" textLength="8" lengthAdjust="spacingAndGlyphs" style="font-family:'Liberation Sans', sans-serif">C36</text>
<text x="862.5" y="478.3" font-size="5.14" fill="#111" font-weight="bold" textLength="9" lengthAdjust="spacingAndGlyphs" style="font-family:'Liberation Sans', sans-serif">1UF</text>
<text x="812.8" y="498.71" font-size="4.6" fill="#7a6658" text-anchor="middle" font-weight="bold" textLength="7" lengthAdjust="spacingAndGlyphs" style="font-family:'Liberation Sans', sans-serif">J43</text>
<text x="850.9" y="498.71" font-size="4.6" fill="#7a6658" text-anchor="middle" font-weight="bold" textLength="7" lengthAdjust="spacingAndGlyphs" style="font-family:'Liberation Sans', sans-serif">J43</text>
<text x="775.5" y="508.9" font-size="6" fill="#111" font-weight="bold" textLength="50.2" lengthAdjust="spacingAndGlyphs" style="font-family:'Liberation Sans', sans-serif">ASP-134604-01</text>
<text x="843" y="508.9" font-size="6" fill="#111" font-weight="bold" textLength="50.3" lengthAdjust="spacingAndGlyphs" style="font-family:'Liberation Sans', sans-serif">ASP-134604-01</text>
<rect x="804.5" y="511.5" width="18" height="377" fill="none" stroke="#222" stroke-width="1.2"/>
<rect x="844.5" y="511.5" width="18" height="377" fill="none" stroke="#222" stroke-width="1.2"/>
<text x="793.8" y="519.43" font-size="5.8" fill="#3f3848" text-anchor="end" font-weight="bold" style="font-family:'Liberation Sans', sans-serif">C1</text>
<text x="806.2" y="522.28" font-size="4.8" fill="#6a5a48" font-weight="bold" style="font-family:'Liberation Sans', sans-serif">1</text>
<text x="860.8" y="522.28" font-size="4.8" fill="#6a5a48" text-anchor="end" font-weight="bold" style="font-family:'Liberation Sans', sans-serif">1</text>
<text x="869.8" y="519.43" font-size="5.8" fill="#3f3848" font-weight="bold" style="font-family:'Liberation Sans', sans-serif">D1</text>
<text x="793.8" y="528.61" font-size="5.8" fill="#3f3848" text-anchor="end" font-weight="bold" style="font-family:'Liberation Sans', sans-serif">C2</text>
<text x="806.2" y="531.46" font-size="4.8" fill="#6a5a48" font-weight="bold" style="font-family:'Liberation Sans', sans-serif">2</text>
<text x="860.8" y="531.46" font-size="4.8" fill="#6a5a48" text-anchor="end" font-weight="bold" style="font-family:'Liberation Sans', sans-serif">2</text>
<text x="869.8" y="528.61" font-size="5.8" fill="#3f3848" font-weight="bold" style="font-family:'Liberation Sans', sans-serif">D2</text>
<text x="793.8" y="537.79" font-size="5.8" fill="#3f3848" text-anchor="end" font-weight="bold" style="font-family:'Liberation Sans', sans-serif">C3</text>
<text x="806.2" y="540.64" font-size="4.8" fill="#6a5a48" font-weight="bold" style="font-family:'Liberation Sans', sans-serif">3</text>
<text x="860.8" y="540.64" font-size="4.8" fill="#6a5a48" text-anchor="end" font-weight="bold" style="font-family:'Liberation Sans', sans-serif">3</text>
<text x="869.8" y="537.79" font-size="5.8" fill="#3f3848" font-weight="bold" style="font-family:'Liberation Sans', sans-serif">D3</text>
<text x="793.8" y="546.97" font-size="5.8" fill="#3f3848" text-anchor="end" font-weight="bold" style="font-family:'Liberation Sans', sans-serif">C4</text>
<text x="806.2" y="549.82" font-size="4.8" fill="#6a5a48" font-weight="bold" style="font-family:'Liberation Sans', sans-serif">4</text>
<text x="860.8" y="549.82" font-size="4.8" fill="#6a5a48" text-anchor="end" font-weight="bold" style="font-family:'Liberation Sans', sans-serif">4</text>
<text x="869.8" y="546.97" font-size="5.8" fill="#3f3848" font-weight="bold" style="font-family:'Liberation Sans', sans-serif">D4</text>
<text x="793.8" y="556.15" font-size="5.8" fill="#3f3848" text-anchor="end" font-weight="bold" style="font-family:'Liberation Sans', sans-serif">C5</text>
<text x="806.2" y="559" font-size="4.8" fill="#6a5a48" font-weight="bold" style="font-family:'Liberation Sans', sans-serif">5</text>
<text x="860.8" y="559" font-size="4.8" fill="#6a5a48" text-anchor="end" font-weight="bold" style="font-family:'Liberation Sans', sans-serif">5</text>
<text x="869.8" y="556.15" font-size="5.8" fill="#3f3848" font-weight="bold" style="font-family:'Liberation Sans', sans-serif">D5</text>
<text x="793.8" y="565.33" font-size="5.8" fill="#3f3848" text-anchor="end" font-weight="bold" style="font-family:'Liberation Sans', sans-serif">C6</text>
<text x="806.2" y="568.18" font-size="4.8" fill="#6a5a48" font-weight="bold" style="font-family:'Liberation Sans', sans-serif">6</text>
<text x="860.8" y="568.18" font-size="4.8" fill="#6a5a48" text-anchor="end" font-weight="bold" style="font-family:'Liberation Sans', sans-serif">6</text>
<text x="869.8" y="565.33" font-size="5.8" fill="#3f3848" font-weight="bold" style="font-family:'Liberation Sans', sans-serif">D6</text>
<text x="793.8" y="574.51" font-size="5.8" fill="#3f3848" text-anchor="end" font-weight="bold" style="font-family:'Liberation Sans', sans-serif">C7</text>
<text x="806.2" y="577.36" font-size="4.8" fill="#6a5a48" font-weight="bold" style="font-family:'Liberation Sans', sans-serif">7</text>
<text x="860.8" y="577.36" font-size="4.8" fill="#6a5a48" text-anchor="end" font-weight="bold" style="font-family:'Liberation Sans', sans-serif">7</text>
<text x="869.8" y="574.51" font-size="5.8" fill="#3f3848" font-weight="bold" style="font-family:'Liberation Sans', sans-serif">D7</text>
<text x="793.8" y="583.69" font-size="5.8" fill="#3f3848" text-anchor="end" font-weight="bold" style="font-family:'Liberation Sans', sans-serif">C8</text>
<text x="806.2" y="586.54" font-size="4.8" fill="#6a5a48" font-weight="bold" style="font-family:'Liberation Sans', sans-serif">8</text>
<text x="860.8" y="586.54" font-size="4.8" fill="#6a5a48" text-anchor="end" font-weight="bold" style="font-family:'Liberation Sans', sans-serif">8</text>
<text x="869.8" y="583.69" font-size="5.8" fill="#3f3848" font-weight="bold" style="font-family:'Liberation Sans', sans-serif">D8</text>
<text x="793.8" y="592.87" font-size="5.8" fill="#3f3848" text-anchor="end" font-weight="bold" style="font-family:'Liberation Sans', sans-serif">C9</text>
<text x="806.2" y="595.72" font-size="4.8" fill="#6a5a48" font-weight="bold" style="font-family:'Liberation Sans', sans-serif">9</text>
<text x="860.8" y="595.72" font-size="4.8" fill="#6a5a48" text-anchor="end" font-weight="bold" style="font-family:'Liberation Sans', sans-serif">9</text>
<text x="869.8" y="592.87" font-size="5.8" fill="#3f3848" font-weight="bold" style="font-family:'Liberation Sans', sans-serif">D9</text>
<text x="793.8" y="602.05" font-size="5.8" fill="#3f3848" text-anchor="end" font-weight="bold" style="font-family:'Liberation Sans', sans-serif">C10</text>
<text x="806.2" y="604.9" font-size="4.8" fill="#6a5a48" font-weight="bold" style="font-family:'Liberation Sans', sans-serif">10</text>
<text x="860.8" y="604.9" font-size="4.8" fill="#6a5a48" text-anchor="end" font-weight="bold" style="font-family:'Liberation Sans', sans-serif">10</text>
<text x="869.8" y="602.05" font-size="5.8" fill="#3f3848" font-weight="bold" style="font-family:'Liberation Sans', sans-serif">D10</text>
<text x="793.8" y="611.23" font-size="5.8" fill="#3f3848" text-anchor="end" font-weight="bold" style="font-family:'Liberation Sans', sans-serif">C11</text>
<text x="806.2" y="614.08" font-size="4.8" fill="#6a5a48" font-weight="bold" style="font-family:'Liberation Sans', sans-serif">11</text>
<text x="860.8" y="614.08" font-size="4.8" fill="#6a5a48" text-anchor="end" font-weight="bold" style="font-family:'Liberation Sans', sans-serif">11</text>
<text x="869.8" y="611.23" font-size="5.8" fill="#3f3848" font-weight="bold" style="font-family:'Liberation Sans', sans-serif">D11</text>
<text x="793.8" y="620.41" font-size="5.8" fill="#3f3848" text-anchor="end" font-weight="bold" style="font-family:'Liberation Sans', sans-serif">C12</text>
<text x="806.2" y="623.26" font-size="4.8" fill="#6a5a48" font-weight="bold" style="font-family:'Liberation Sans', sans-serif">12</text>
<text x="860.8" y="623.26" font-size="4.8" fill="#6a5a48" text-anchor="end" font-weight="bold" style="font-family:'Liberation Sans', sans-serif">12</text>
<text x="869.8" y="620.41" font-size="5.8" fill="#3f3848" font-weight="bold" style="font-family:'Liberation Sans', sans-serif">D12</text>
<text x="793.8" y="629.59" font-size="5.8" fill="#3f3848" text-anchor="end" font-weight="bold" style="font-family:'Liberation Sans', sans-serif">C13</text>
<text x="806.2" y="632.44" font-size="4.8" fill="#6a5a48" font-weight="bold" style="font-family:'Liberation Sans', sans-serif">13</text>
<text x="860.8" y="632.44" font-size="4.8" fill="#6a5a48" text-anchor="end" font-weight="bold" style="font-family:'Liberation Sans', sans-serif">13</text>
<text x="869.8" y="629.59" font-size="5.8" fill="#3f3848" font-weight="bold" style="font-family:'Liberation Sans', sans-serif">D13</text>
<text x="793.8" y="638.77" font-size="5.8" fill="#3f3848" text-anchor="end" font-weight="bold" style="font-family:'Liberation Sans', sans-serif">C14</text>
<text x="806.2" y="641.62" font-size="4.8" fill="#6a5a48" font-weight="bold" style="font-family:'Liberation Sans', sans-serif">14</text>
<text x="860.8" y="641.62" font-size="4.8" fill="#6a5a48" text-anchor="end" font-weight="bold" style="font-family:'Liberation Sans', sans-serif">14</text>
<text x="869.8" y="638.77" font-size="5.8" fill="#3f3848" font-weight="bold" style="font-family:'Liberation Sans', sans-serif">D14</text>
<text x="793.8" y="647.95" font-size="5.8" fill="#3f3848" text-anchor="end" font-weight="bold" style="font-family:'Liberation Sans', sans-serif">C15</text>
<text x="806.2" y="650.8" font-size="4.8" fill="#6a5a48" font-weight="bold" style="font-family:'Liberation Sans', sans-serif">15</text>
<text x="860.8" y="650.8" font-size="4.8" fill="#6a5a48" text-anchor="end" font-weight="bold" style="font-family:'Liberation Sans', sans-serif">15</text>
<text x="869.8" y="647.95" font-size="5.8" fill="#3f3848" font-weight="bold" style="font-family:'Liberation Sans', sans-serif">D15</text>
<text x="793.8" y="657.13" font-size="5.8" fill="#3f3848" text-anchor="end" font-weight="bold" style="font-family:'Liberation Sans', sans-serif">C16</text>
<text x="806.2" y="659.98" font-size="4.8" fill="#6a5a48" font-weight="bold" style="font-family:'Liberation Sans', sans-serif">16</text>
<text x="860.8" y="659.98" font-size="4.8" fill="#6a5a48" text-anchor="end" font-weight="bold" style="font-family:'Liberation Sans', sans-serif">16</text>
<text x="869.8" y="657.13" font-size="5.8" fill="#3f3848" font-weight="bold" style="font-family:'Liberation Sans', sans-serif">D16</text>
<text x="793.8" y="666.31" font-size="5.8" fill="#3f3848" text-anchor="end" font-weight="bold" style="font-family:'Liberation Sans', sans-serif">C17</text>
<text x="806.2" y="669.16" font-size="4.8" fill="#6a5a48" font-weight="bold" style="font-family:'Liberation Sans', sans-serif">17</text>
<text x="860.8" y="669.16" font-size="4.8" fill="#6a5a48" text-anchor="end" font-weight="bold" style="font-family:'Liberation Sans', sans-serif">17</text>
<text x="869.8" y="666.31" font-size="5.8" fill="#3f3848" font-weight="bold" style="font-family:'Liberation Sans', sans-serif">D17</text>
<text x="793.8" y="675.49" font-size="5.8" fill="#3f3848" text-anchor="end" font-weight="bold" style="font-family:'Liberation Sans', sans-serif">C18</text>
<text x="806.2" y="678.34" font-size="4.8" fill="#6a5a48" font-weight="bold" style="font-family:'Liberation Sans', sans-serif">18</text>
<text x="860.8" y="678.34" font-size="4.8" fill="#6a5a48" text-anchor="end" font-weight="bold" style="font-family:'Liberation Sans', sans-serif">18</text>
<text x="869.8" y="675.49" font-size="5.8" fill="#3f3848" font-weight="bold" style="font-family:'Liberation Sans', sans-serif">D18</text>
<text x="793.8" y="684.67" font-size="5.8" fill="#3f3848" text-anchor="end" font-weight="bold" style="font-family:'Liberation Sans', sans-serif">C19</text>
<text x="806.2" y="687.52" font-size="4.8" fill="#6a5a48" font-weight="bold" style="font-family:'Liberation Sans', sans-serif">19</text>
<text x="860.8" y="687.52" font-size="4.8" fill="#6a5a48" text-anchor="end" font-weight="bold" style="font-family:'Liberation Sans', sans-serif">19</text>
<text x="869.8" y="684.67" font-size="5.8" fill="#3f3848" font-weight="bold" style="font-family:'Liberation Sans', sans-serif">D19</text>
<text x="793.8" y="693.85" font-size="5.8" fill="#3f3848" text-anchor="end" font-weight="bold" style="font-family:'Liberation Sans', sans-serif">C20</text>
<text x="806.2" y="696.7" font-size="4.8" fill="#6a5a48" font-weight="bold" style="font-family:'Liberation Sans', sans-serif">20</text>
<text x="860.8" y="696.7" font-size="4.8" fill="#6a5a48" text-anchor="end" font-weight="bold" style="font-family:'Liberation Sans', sans-serif">20</text>
<text x="869.8" y="693.85" font-size="5.8" fill="#3f3848" font-weight="bold" style="font-family:'Liberation Sans', sans-serif">D20</text>
<text x="793.8" y="703.03" font-size="5.8" fill="#3f3848" text-anchor="end" font-weight="bold" style="font-family:'Liberation Sans', sans-serif">C21</text>
<text x="806.2" y="705.88" font-size="4.8" fill="#6a5a48" font-weight="bold" style="font-family:'Liberation Sans', sans-serif">21</text>
<text x="860.8" y="705.88" font-size="4.8" fill="#6a5a48" text-anchor="end" font-weight="bold" style="font-family:'Liberation Sans', sans-serif">21</text>
<text x="869.8" y="703.03" font-size="5.8" fill="#3f3848" font-weight="bold" style="font-family:'Liberation Sans', sans-serif">D21</text>
<text x="793.8" y="712.21" font-size="5.8" fill="#3f3848" text-anchor="end" font-weight="bold" style="font-family:'Liberation Sans', sans-serif">C22</text>
<text x="806.2" y="715.06" font-size="4.8" fill="#6a5a48" font-weight="bold" style="font-family:'Liberation Sans', sans-serif">22</text>
<text x="860.8" y="715.06" font-size="4.8" fill="#6a5a48" text-anchor="end" font-weight="bold" style="font-family:'Liberation Sans', sans-serif">22</text>
<text x="869.8" y="712.21" font-size="5.8" fill="#3f3848" font-weight="bold" style="font-family:'Liberation Sans', sans-serif">D22</text>
<text x="793.8" y="721.39" font-size="5.8" fill="#3f3848" text-anchor="end" font-weight="bold" style="font-family:'Liberation Sans', sans-serif">C23</text>
<text x="806.2" y="724.24" font-size="4.8" fill="#6a5a48" font-weight="bold" style="font-family:'Liberation Sans', sans-serif">23</text>
<text x="860.8" y="724.24" font-size="4.8" fill="#6a5a48" text-anchor="end" font-weight="bold" style="font-family:'Liberation Sans', sans-serif">23</text>
<text x="869.8" y="721.39" font-size="5.8" fill="#3f3848" font-weight="bold" style="font-family:'Liberation Sans', sans-serif">D23</text>
<text x="793.8" y="730.57" font-size="5.8" fill="#3f3848" text-anchor="end" font-weight="bold" style="font-family:'Liberation Sans', sans-serif">C24</text>
<text x="806.2" y="733.42" font-size="4.8" fill="#6a5a48" font-weight="bold" style="font-family:'Liberation Sans', sans-serif">24</text>
<text x="860.8" y="733.42" font-size="4.8" fill="#6a5a48" text-anchor="end" font-weight="bold" style="font-family:'Liberation Sans', sans-serif">24</text>
<text x="869.8" y="730.57" font-size="5.8" fill="#3f3848" font-weight="bold" style="font-family:'Liberation Sans', sans-serif">D24</text>
<text x="793.8" y="739.75" font-size="5.8" fill="#3f3848" text-anchor="end" font-weight="bold" style="font-family:'Liberation Sans', sans-serif">C25</text>
<text x="806.2" y="742.6" font-size="4.8" fill="#6a5a48" font-weight="bold" style="font-family:'Liberation Sans', sans-serif">25</text>
<text x="860.8" y="742.6" font-size="4.8" fill="#6a5a48" text-anchor="end" font-weight="bold" style="font-family:'Liberation Sans', sans-serif">25</text>
<text x="869.8" y="739.75" font-size="5.8" fill="#3f3848" font-weight="bold" style="font-family:'Liberation Sans', sans-serif">D25</text>
<text x="793.8" y="748.93" font-size="5.8" fill="#3f3848" text-anchor="end" font-weight="bold" style="font-family:'Liberation Sans', sans-serif">C26</text>
<text x="806.2" y="751.78" font-size="4.8" fill="#6a5a48" font-weight="bold" style="font-family:'Liberation Sans', sans-serif">26</text>
<text x="860.8" y="751.78" font-size="4.8" fill="#6a5a48" text-anchor="end" font-weight="bold" style="font-family:'Liberation Sans', sans-serif">26</text>
<text x="869.8" y="748.93" font-size="5.8" fill="#3f3848" font-weight="bold" style="font-family:'Liberation Sans', sans-serif">D26</text>
<text x="793.8" y="758.11" font-size="5.8" fill="#3f3848" text-anchor="end" font-weight="bold" style="font-family:'Liberation Sans', sans-serif">C27</text>
<text x="806.2" y="760.96" font-size="4.8" fill="#6a5a48" font-weight="bold" style="font-family:'Liberation Sans', sans-serif">27</text>
<text x="860.8" y="760.96" font-size="4.8" fill="#6a5a48" text-anchor="end" font-weight="bold" style="font-family:'Liberation Sans', sans-serif">27</text>
<text x="869.8" y="758.11" font-size="5.8" fill="#3f3848" font-weight="bold" style="font-family:'Liberation Sans', sans-serif">D27</text>
<text x="793.8" y="767.29" font-size="5.8" fill="#3f3848" text-anchor="end" font-weight="bold" style="font-family:'Liberation Sans', sans-serif">C28</text>
<text x="806.2" y="770.14" font-size="4.8" fill="#6a5a48" font-weight="bold" style="font-family:'Liberation Sans', sans-serif">28</text>
<text x="860.8" y="770.14" font-size="4.8" fill="#6a5a48" text-anchor="end" font-weight="bold" style="font-family:'Liberation Sans', sans-serif">28</text>
<text x="869.8" y="767.29" font-size="5.8" fill="#3f3848" font-weight="bold" style="font-family:'Liberation Sans', sans-serif">D28</text>
<text x="793.8" y="776.47" font-size="5.8" fill="#3f3848" text-anchor="end" font-weight="bold" style="font-family:'Liberation Sans', sans-serif">C29</text>
<text x="806.2" y="779.32" font-size="4.8" fill="#6a5a48" font-weight="bold" style="font-family:'Liberation Sans', sans-serif">29</text>
<text x="860.8" y="779.32" font-size="4.8" fill="#6a5a48" text-anchor="end" font-weight="bold" style="font-family:'Liberation Sans', sans-serif">29</text>
<text x="869.8" y="776.47" font-size="5.8" fill="#3f3848" font-weight="bold" style="font-family:'Liberation Sans', sans-serif">D29</text>
<text x="793.8" y="785.65" font-size="5.8" fill="#3f3848" text-anchor="end" font-weight="bold" style="font-family:'Liberation Sans', sans-serif">C30</text>
<text x="806.2" y="788.5" font-size="4.8" fill="#6a5a48" font-weight="bold" style="font-family:'Liberation Sans', sans-serif">30</text>
<text x="860.8" y="788.5" font-size="4.8" fill="#6a5a48" text-anchor="end" font-weight="bold" style="font-family:'Liberation Sans', sans-serif">30</text>
<text x="869.8" y="785.65" font-size="5.8" fill="#3f3848" font-weight="bold" style="font-family:'Liberation Sans', sans-serif">D30</text>
<text x="793.8" y="794.83" font-size="5.8" fill="#3f3848" text-anchor="end" font-weight="bold" style="font-family:'Liberation Sans', sans-serif">C31</text>
<text x="806.2" y="797.68" font-size="4.8" fill="#6a5a48" font-weight="bold" style="font-family:'Liberation Sans', sans-serif">31</text>
<text x="860.8" y="797.68" font-size="4.8" fill="#6a5a48" text-anchor="end" font-weight="bold" style="font-family:'Liberation Sans', sans-serif">31</text>
<text x="869.8" y="794.83" font-size="5.8" fill="#3f3848" font-weight="bold" style="font-family:'Liberation Sans', sans-serif">D31</text>
<text x="793.8" y="804.01" font-size="5.8" fill="#3f3848" text-anchor="end" font-weight="bold" style="font-family:'Liberation Sans', sans-serif">C32</text>
<text x="806.2" y="806.86" font-size="4.8" fill="#6a5a48" font-weight="bold" style="font-family:'Liberation Sans', sans-serif">32</text>
<text x="860.8" y="806.86" font-size="4.8" fill="#6a5a48" text-anchor="end" font-weight="bold" style="font-family:'Liberation Sans', sans-serif">32</text>
<text x="869.8" y="804.01" font-size="5.8" fill="#3f3848" font-weight="bold" style="font-family:'Liberation Sans', sans-serif">D32</text>
<text x="793.8" y="813.19" font-size="5.8" fill="#3f3848" text-anchor="end" font-weight="bold" style="font-family:'Liberation Sans', sans-serif">C33</text>
<text x="806.2" y="816.04" font-size="4.8" fill="#6a5a48" font-weight="bold" style="font-family:'Liberation Sans', sans-serif">33</text>
<text x="860.8" y="816.04" font-size="4.8" fill="#6a5a48" text-anchor="end" font-weight="bold" style="font-family:'Liberation Sans', sans-serif">33</text>
<text x="869.8" y="813.19" font-size="5.8" fill="#3f3848" font-weight="bold" style="font-family:'Liberation Sans', sans-serif">D33</text>
<text x="793.8" y="822.37" font-size="5.8" fill="#3f3848" text-anchor="end" font-weight="bold" style="font-family:'Liberation Sans', sans-serif">C34</text>
<text x="806.2" y="825.22" font-size="4.8" fill="#6a5a48" font-weight="bold" style="font-family:'Liberation Sans', sans-serif">34</text>
<text x="860.8" y="825.22" font-size="4.8" fill="#6a5a48" text-anchor="end" font-weight="bold" style="font-family:'Liberation Sans', sans-serif">34</text>
<text x="869.8" y="822.37" font-size="5.8" fill="#3f3848" font-weight="bold" style="font-family:'Liberation Sans', sans-serif">D34</text>
<text x="793.8" y="831.55" font-size="5.8" fill="#3f3848" text-anchor="end" font-weight="bold" style="font-family:'Liberation Sans', sans-serif">C35</text>
<text x="806.2" y="834.4" font-size="4.8" fill="#6a5a48" font-weight="bold" style="font-family:'Liberation Sans', sans-serif">35</text>
<text x="860.8" y="834.4" font-size="4.8" fill="#6a5a48" text-anchor="end" font-weight="bold" style="font-family:'Liberation Sans', sans-serif">35</text>
<text x="869.8" y="831.55" font-size="5.8" fill="#3f3848" font-weight="bold" style="font-family:'Liberation Sans', sans-serif">D35</text>
<text x="793.8" y="840.73" font-size="5.8" fill="#3f3848" text-anchor="end" font-weight="bold" style="font-family:'Liberation Sans', sans-serif">C36</text>
<text x="806.2" y="843.58" font-size="4.8" fill="#6a5a48" font-weight="bold" style="font-family:'Liberation Sans', sans-serif">36</text>
<text x="860.8" y="843.58" font-size="4.8" fill="#6a5a48" text-anchor="end" font-weight="bold" style="font-family:'Liberation Sans', sans-serif">36</text>
<text x="869.8" y="840.73" font-size="5.8" fill="#3f3848" font-weight="bold" style="font-family:'Liberation Sans', sans-serif">D36</text>
<text x="793.8" y="849.91" font-size="5.8" fill="#3f3848" text-anchor="end" font-weight="bold" style="font-family:'Liberation Sans', sans-serif">C37</text>
<text x="806.2" y="852.76" font-size="4.8" fill="#6a5a48" font-weight="bold" style="font-family:'Liberation Sans', sans-serif">37</text>
<text x="860.8" y="852.76" font-size="4.8" fill="#6a5a48" text-anchor="end" font-weight="bold" style="font-family:'Liberation Sans', sans-serif">37</text>
<text x="869.8" y="849.91" font-size="5.8" fill="#3f3848" font-weight="bold" style="font-family:'Liberation Sans', sans-serif">D37</text>
<text x="793.8" y="859.09" font-size="5.8" fill="#3f3848" text-anchor="end" font-weight="bold" style="font-family:'Liberation Sans', sans-serif">C38</text>
<text x="806.2" y="861.94" font-size="4.8" fill="#6a5a48" font-weight="bold" style="font-family:'Liberation Sans', sans-serif">38</text>
<text x="860.8" y="861.94" font-size="4.8" fill="#6a5a48" text-anchor="end" font-weight="bold" style="font-family:'Liberation Sans', sans-serif">38</text>
<text x="869.8" y="859.09" font-size="5.8" fill="#3f3848" font-weight="bold" style="font-family:'Liberation Sans', sans-serif">D38</text>
<text x="793.8" y="868.27" font-size="5.8" fill="#3f3848" text-anchor="end" font-weight="bold" style="font-family:'Liberation Sans', sans-serif">C39</text>
<text x="806.2" y="871.12" font-size="4.8" fill="#6a5a48" font-weight="bold" style="font-family:'Liberation Sans', sans-serif">39</text>
<text x="860.8" y="871.12" font-size="4.8" fill="#6a5a48" text-anchor="end" font-weight="bold" style="font-family:'Liberation Sans', sans-serif">39</text>
<text x="869.8" y="868.27" font-size="5.8" fill="#3f3848" font-weight="bold" style="font-family:'Liberation Sans', sans-serif">D39</text>
<text x="793.8" y="877.45" font-size="5.8" fill="#3f3848" text-anchor="end" font-weight="bold" style="font-family:'Liberation Sans', sans-serif">C40</text>
<text x="806.2" y="880.3" font-size="4.8" fill="#6a5a48" font-weight="bold" style="font-family:'Liberation Sans', sans-serif">40</text>
<text x="860.8" y="880.3" font-size="4.8" fill="#6a5a48" text-anchor="end" font-weight="bold" style="font-family:'Liberation Sans', sans-serif">40</text>
<text x="869.8" y="877.45" font-size="5.8" fill="#3f3848" font-weight="bold" style="font-family:'Liberation Sans', sans-serif">D40</text>
<polyline points="804.5,520.5 764.5,520.5 764.5,903.5" fill="none" stroke="#000" stroke-width="1"/>
<polyline points="758.5,903.5 770.5,903.5" fill="none" stroke="#000" stroke-width="1"/>
<polyline points="760.5,906.5 768.5,906.5" fill="none" stroke="#000" stroke-width="1"/>
<polyline points="762.5,908.5 766.5,908.5" fill="none" stroke="#000" stroke-width="1"/>
<polyline points="798.5,529.5 804.5,529.5" fill="none" stroke="#000" stroke-width="1"/>
<polyline points="798.5,539.5 804.5,539.5" fill="none" stroke="#000" stroke-width="1"/>
<circle cx="764.6" cy="548.34" r="1.9" fill="#000"/>
<polyline points="764.5,548.5 804.5,548.5" fill="none" stroke="#000" stroke-width="1"/>
<circle cx="764.6" cy="557.52" r="1.9" fill="#000"/>
<polyline points="764.5,557.5 804.5,557.5" fill="none" stroke="#000" stroke-width="1"/>
<polyline points="798.5,566.5 804.5,566.5" fill="none" stroke="#000" stroke-width="1"/>
<polyline points="798.5,575.5 804.5,575.5" fill="none" stroke="#000" stroke-width="1"/>
<circle cx="764.6" cy="585.06" r="1.9" fill="#000"/>
<polyline points="764.5,585.5 804.5,585.5" fill="none" stroke="#000" stroke-width="1"/>
<circle cx="764.6" cy="594.24" r="1.9" fill="#000"/>
<polyline points="764.5,594.5 804.5,594.5" fill="none" stroke="#000" stroke-width="1"/>
<polyline points="798.5,603.5 804.5,603.5" fill="none" stroke="#000" stroke-width="1"/>
<polyline points="798.5,612.5 804.5,612.5" fill="none" stroke="#000" stroke-width="1"/>
<circle cx="764.6" cy="621.78" r="1.9" fill="#000"/>
<polyline points="764.5,621.5 804.5,621.5" fill="none" stroke="#000" stroke-width="1"/>
<circle cx="764.6" cy="630.96" r="1.9" fill="#000"/>
<polyline points="764.5,630.5 804.5,630.5" fill="none" stroke="#000" stroke-width="1"/>
<polyline points="798.5,640.5 804.5,640.5" fill="none" stroke="#000" stroke-width="1"/>
<polyline points="798.5,649.5 804.5,649.5" fill="none" stroke="#000" stroke-width="1"/>
<circle cx="764.6" cy="658.5" r="1.9" fill="#000"/>
<polyline points="764.5,658.5 804.5,658.5" fill="none" stroke="#000" stroke-width="1"/>
<circle cx="764.6" cy="667.68" r="1.9" fill="#000"/>
<polyline points="764.5,667.5 804.5,667.5" fill="none" stroke="#000" stroke-width="1"/>
<polyline points="798.5,676.5 804.5,676.5" fill="none" stroke="#000" stroke-width="1"/>
<polyline points="798.5,686.5 804.5,686.5" fill="none" stroke="#000" stroke-width="1"/>
<circle cx="764.6" cy="695.22" r="1.9" fill="#000"/>
<polyline points="764.5,695.5 804.5,695.5" fill="none" stroke="#000" stroke-width="1"/>
<circle cx="764.6" cy="704.4" r="1.9" fill="#000"/>
<polyline points="764.5,704.5 804.5,704.5" fill="none" stroke="#000" stroke-width="1"/>
<polyline points="798.5,713.5 804.5,713.5" fill="none" stroke="#000" stroke-width="1"/>
<polyline points="798.5,722.5 804.5,722.5" fill="none" stroke="#000" stroke-width="1"/>
<circle cx="764.6" cy="731.94" r="1.9" fill="#000"/>
<polyline points="764.5,731.5 804.5,731.5" fill="none" stroke="#000" stroke-width="1"/>
<circle cx="764.6" cy="741.12" r="1.9" fill="#000"/>
<polyline points="764.5,741.5 804.5,741.5" fill="none" stroke="#000" stroke-width="1"/>
<polyline points="798.5,750.5 804.5,750.5" fill="none" stroke="#000" stroke-width="1"/>
<polyline points="798.5,759.5 804.5,759.5" fill="none" stroke="#000" stroke-width="1"/>
<circle cx="764.6" cy="768.66" r="1.9" fill="#000"/>
<polyline points="764.5,768.5 804.5,768.5" fill="none" stroke="#000" stroke-width="1"/>
<circle cx="764.6" cy="777.84" r="1.9" fill="#000"/>
<polyline points="764.5,777.5 804.5,777.5" fill="none" stroke="#000" stroke-width="1"/>
<polyline points="798.5,787.5 804.5,787.5" fill="none" stroke="#000" stroke-width="1"/>
<polyline points="798.5,796.5 804.5,796.5" fill="none" stroke="#000" stroke-width="1"/>
<circle cx="764.6" cy="805.38" r="1.9" fill="#000"/>
<polyline points="764.5,805.5 804.5,805.5" fill="none" stroke="#000" stroke-width="1"/>
<circle cx="764.6" cy="814.56" r="1.9" fill="#000"/>
<polyline points="764.5,814.5 804.5,814.5" fill="none" stroke="#000" stroke-width="1"/>
<polyline points="798.5,823.5 804.5,823.5" fill="none" stroke="#000" stroke-width="1"/>
<circle cx="764.6" cy="842.1" r="1.9" fill="#000"/>
<polyline points="764.5,842.5 804.5,842.5" fill="none" stroke="#000" stroke-width="1"/>
<circle cx="764.6" cy="860.46" r="1.9" fill="#000"/>
<polyline points="764.5,860.5 804.5,860.5" fill="none" stroke="#000" stroke-width="1"/>
<circle cx="764.6" cy="878.82" r="1.9" fill="#000"/>
<polyline points="764.5,878.5 804.5,878.5" fill="none" stroke="#000" stroke-width="1"/>
<path d="M670.65,831.51 L670.65,834.89 M668.78,833.2 L672.52,833.2 M675.67,831.87 L676.61,830.98 L676.61,835.43 M675.67,835.43 L677.54,835.43 M680.7,831.87 L681.64,830.98 L683.51,830.98 L684.44,831.87 L684.44,832.75 L680.7,835.43 L684.44,835.43 M686.67,830.98 L686.67,833.2 L688.54,835.43 L690.41,833.2 L690.41,830.98 M691.98,835.43 L697.02,835.43 M702.33,830.98 L698.59,830.98 L698.59,835.43 M698.59,833.2 L701.4,833.2 M704.56,835.43 L704.56,830.98 L707.36,830.98 L708.3,831.87 L708.3,832.75 L707.36,833.64 L704.56,833.64 M714.26,831.87 L713.33,830.98 L711.46,830.98 L710.52,831.87 L710.52,834.53 L711.46,835.43 L713.33,835.43 L714.26,834.53 L714.26,833.38 L712.58,833.38 M716.48,835.43 L716.48,831.87 L717.42,830.98 L719.29,830.98 L720.23,831.87 L720.23,835.43 M716.48,833.64 L720.23,833.64" fill="none" stroke="#000" stroke-width="1.15" stroke-linejoin="miter" stroke-miterlimit="1.5"/>
<polygon points="721.4,830.12 733.7,830.12 737,832.92 733.7,835.72 721.4,835.72" fill="none" stroke="#111" stroke-width="1"/>
<text x="723.4" y="834.61" font-size="5.4" fill="#8a7890" font-weight="bold" textLength="5" lengthAdjust="spacingAndGlyphs" style="font-family:'Liberation Sans', sans-serif">IN</text>
<polyline points="737.5,832.5 804.5,832.5" fill="none" stroke="#000" stroke-width="1"/>
<circle cx="776.7" cy="832.92" r="1.9" fill="#000"/>
<polyline points="776.5,832.5 776.5,851.5 804.5,851.5" fill="none" stroke="#000" stroke-width="1"/>
<polyline points="804.5,869.5 776.5,869.5 776.5,894.5 887.5,894.5 887.5,842.5 862.5,842.5" fill="none" stroke="#000" stroke-width="1"/>
<polyline points="862.5,529.5 902.5,529.5 902.5,903.5" fill="none" stroke="#000" stroke-width="1"/>
<polyline points="896.5,903.5 908.5,903.5" fill="none" stroke="#000" stroke-width="1"/>
<polyline points="897.5,906.5 906.5,906.5" fill="none" stroke="#000" stroke-width="1"/>
<polyline points="900.5,908.5 904.5,908.5" fill="none" stroke="#000" stroke-width="1"/>
<polyline points="862.5,520.5 869.5,520.5" fill="none" stroke="#000" stroke-width="1"/>
<circle cx="902.3" cy="539.16" r="1.9" fill="#000"/>
<polyline points="862.5,539.5 902.5,539.5" fill="none" stroke="#000" stroke-width="1"/>
<polyline points="862.5,548.5 869.5,548.5" fill="none" stroke="#000" stroke-width="1"/>
<polyline points="862.5,557.5 869.5,557.5" fill="none" stroke="#000" stroke-width="1"/>
<circle cx="902.3" cy="566.7" r="1.9" fill="#000"/>
<polyline points="862.5,566.5 902.5,566.5" fill="none" stroke="#000" stroke-width="1"/>
<circle cx="902.3" cy="575.88" r="1.9" fill="#000"/>
<polyline points="862.5,575.5 902.5,575.5" fill="none" stroke="#000" stroke-width="1"/>
<polyline points="862.5,585.5 869.5,585.5" fill="none" stroke="#000" stroke-width="1"/>
<polyline points="862.5,594.5 869.5,594.5" fill="none" stroke="#000" stroke-width="1"/>
<circle cx="902.3" cy="603.42" r="1.9" fill="#000"/>
<polyline points="862.5,603.5 902.5,603.5" fill="none" stroke="#000" stroke-width="1"/>
<polyline points="862.5,612.5 869.5,612.5" fill="none" stroke="#000" stroke-width="1"/>
<polyline points="862.5,621.5 869.5,621.5" fill="none" stroke="#000" stroke-width="1"/>
<circle cx="902.3" cy="630.96" r="1.9" fill="#000"/>
<polyline points="862.5,630.5 902.5,630.5" fill="none" stroke="#000" stroke-width="1"/>
<polyline points="862.5,640.5 869.5,640.5" fill="none" stroke="#000" stroke-width="1"/>
<polyline points="862.5,649.5 869.5,649.5" fill="none" stroke="#000" stroke-width="1"/>
<circle cx="902.3" cy="658.5" r="1.9" fill="#000"/>
<polyline points="862.5,658.5 902.5,658.5" fill="none" stroke="#000" stroke-width="1"/>
<polyline points="862.5,667.5 869.5,667.5" fill="none" stroke="#000" stroke-width="1"/>
<polyline points="862.5,676.5 869.5,676.5" fill="none" stroke="#000" stroke-width="1"/>
<circle cx="902.3" cy="686.04" r="1.9" fill="#000"/>
<polyline points="862.5,686.5 902.5,686.5" fill="none" stroke="#000" stroke-width="1"/>
<polyline points="862.5,695.5 869.5,695.5" fill="none" stroke="#000" stroke-width="1"/>
<polyline points="862.5,704.5 869.5,704.5" fill="none" stroke="#000" stroke-width="1"/>
<circle cx="902.3" cy="713.58" r="1.9" fill="#000"/>
<polyline points="862.5,713.5 902.5,713.5" fill="none" stroke="#000" stroke-width="1"/>
<polyline points="862.5,722.5 869.5,722.5" fill="none" stroke="#000" stroke-width="1"/>
<polyline points="862.5,731.5 869.5,731.5" fill="none" stroke="#000" stroke-width="1"/>
<circle cx="902.3" cy="741.12" r="1.9" fill="#000"/>
<polyline points="862.5,741.5 902.5,741.5" fill="none" stroke="#000" stroke-width="1"/>
<polyline points="862.5,750.5 869.5,750.5" fill="none" stroke="#000" stroke-width="1"/>
<polyline points="862.5,759.5 869.5,759.5" fill="none" stroke="#000" stroke-width="1"/>
<circle cx="902.3" cy="768.66" r="1.9" fill="#000"/>
<polyline points="862.5,768.5 902.5,768.5" fill="none" stroke="#000" stroke-width="1"/>
<polyline points="862.5,777.5 869.5,777.5" fill="none" stroke="#000" stroke-width="1"/>
<polyline points="862.5,787.5 869.5,787.5" fill="none" stroke="#000" stroke-width="1"/>
<polyline points="862.5,796.5 869.5,796.5" fill="none" stroke="#000" stroke-width="1"/>
<polyline points="862.5,805.5 869.5,805.5" fill="none" stroke="#000" stroke-width="1"/>
<polyline points="862.5,814.5 869.5,814.5" fill="none" stroke="#000" stroke-width="1"/>
<polyline points="862.5,823.5 869.5,823.5" fill="none" stroke="#000" stroke-width="1"/>
<polyline points="862.5,832.5 869.5,832.5" fill="none" stroke="#000" stroke-width="1"/>
<circle cx="902.3" cy="851.28" r="1.9" fill="#000"/>
<polyline points="862.5,851.5 902.5,851.5" fill="none" stroke="#000" stroke-width="1"/>
<circle cx="887.6" cy="860.46" r="1.9" fill="#000"/>
<polyline points="862.5,860.5 887.5,860.5" fill="none" stroke="#000" stroke-width="1"/>
<circle cx="902.3" cy="869.64" r="1.9" fill="#000"/>
<polyline points="862.5,869.5 902.5,869.5" fill="none" stroke="#000" stroke-width="1"/>
<circle cx="887.6" cy="878.82" r="1.9" fill="#000"/>
<polyline points="862.5,878.5 945.5,878.5" fill="none" stroke="#000" stroke-width="1"/>
<path d="M937.88,873.77 L941.72,873.77 L939.8,876 L940.76,876 L941.72,876.8 L941.72,877.81 L940.76,878.82 L938.84,878.82 L937.88,877.81 M943.96,873.77 L943.96,876.3 L945.88,878.82 L947.8,876.3 L947.8,873.77 M950.05,873.77 L953.89,873.77 L951.97,876 L952.93,876 L953.89,876.8 L953.89,877.81 L952.93,878.82 L951.01,878.82 L950.05,877.81 M955.46,878.82 L960.65,878.82 M966.06,873.77 L962.22,873.77 L962.22,878.82 M962.22,876.3 L965.1,876.3 M968.31,878.82 L968.31,873.77 L971.19,873.77 L972.15,874.78 L972.15,875.79 L971.19,876.8 L968.31,876.8 M978.24,874.78 L977.28,873.77 L975.36,873.77 L974.4,874.78 L974.4,877.81 L975.36,878.82 L977.28,878.82 L978.24,877.81 L978.24,876.5 L976.51,876.5 M980.48,878.82 L980.48,874.78 L981.44,873.77 L983.36,873.77 L984.33,874.78 L984.33,878.82 M980.48,876.8 L984.33,876.8" fill="none" stroke="#000" stroke-width="1.15" stroke-linejoin="miter" stroke-miterlimit="1.5"/>
<path d="M518.98,714.53 L518.98,707.68 L522.77,707.68 L524.03,709.05 L524.03,710.42 L522.77,711.79 L518.98,711.79 M526.54,714.53 L526.54,707.68 L529.07,711.1 L531.6,707.68 L531.6,714.53 M535.38,707.68 L537.91,707.68 L539.17,709.05 L539.17,713.16 L537.91,714.53 L535.38,714.53 L534.11,713.16 L534.11,709.05 L535.38,707.68 M541.68,707.68 L545.48,707.68 L546.74,709.05 L546.74,713.16 L545.48,714.53 L541.68,714.53 L541.68,707.68 M556.82,714.53 L556.82,707.68 L560.61,707.68 L561.88,709.05 L561.88,710.42 L560.61,711.79 L556.82,711.79 M565.66,707.68 L568.18,707.68 L569.45,709.05 L569.45,713.16 L568.18,714.53 L565.66,714.53 L564.39,713.16 L564.39,709.05 L565.66,707.68 M571.96,714.53 L571.96,707.68 L575.75,707.68 L577.02,709.05 L577.02,710.42 L575.75,711.79 L571.96,711.79 M574.49,711.79 L577.02,714.53 M579.53,707.68 L584.59,707.68 M582.06,707.68 L582.06,714.53 M594.67,707.68 L594.67,714.53 L598.46,714.53 L599.72,713.16 L599.72,712.2 L598.46,711.1 L594.67,711.1 M594.67,707.68 L598.46,707.68 L599.72,708.77 L599.72,710 L598.46,711.1" fill="none" stroke="#000" stroke-width="1.15" stroke-linejoin="miter" stroke-miterlimit="1.5"/>
<text x="558.5" y="728.71" font-size="4.6" fill="#7a6658" text-anchor="middle" font-weight="bold" textLength="7" lengthAdjust="spacingAndGlyphs" style="font-family:'Liberation Sans', sans-serif">J33</text>
<text x="526" y="735.9" font-size="6" fill="#111" font-weight="bold" textLength="66.3" lengthAdjust="spacingAndGlyphs" style="font-family:'Liberation Sans', sans-serif">TSW-106-08-S-D-RA</text>
<rect x="531.5" y="738.5" width="56" height="61" fill="none" stroke="#222" stroke-width="1.2"/>
<text x="521" y="745.12" font-size="5.2" fill="#3f4a78" text-anchor="end" font-weight="bold" style="font-family:'Liberation Sans', sans-serif">7</text>
<text x="596" y="745.12" font-size="5.2" fill="#3f4a78" font-weight="bold" style="font-family:'Liberation Sans', sans-serif">1</text>
<circle cx="539.5" cy="747.6" r="1.7" fill="none" stroke="#000" stroke-width="1"/>
<text x="542" y="749.21" font-size="4.6" fill="#5a5262" font-weight="bold" style="font-family:'Liberation Sans', sans-serif">J1-7</text>
<text x="575.5" y="749.21" font-size="4.6" fill="#5a5262" text-anchor="end" font-weight="bold" style="font-family:'Liberation Sans', sans-serif">J1-1</text>
<rect x="577.5" y="745.5" width="3" height="4" fill="none" stroke="#000" stroke-width="1"/>
<text x="521" y="754.27" font-size="5.2" fill="#3f4a78" text-anchor="end" font-weight="bold" style="font-family:'Liberation Sans', sans-serif">8</text>
<text x="596" y="754.27" font-size="5.2" fill="#3f4a78" font-weight="bold" style="font-family:'Liberation Sans', sans-serif">2</text>
<circle cx="539.5" cy="756.75" r="1.7" fill="none" stroke="#000" stroke-width="1"/>
<text x="542" y="758.36" font-size="4.6" fill="#5a5262" font-weight="bold" style="font-family:'Liberation Sans', sans-serif">J1-8</text>
<text x="575.5" y="758.36" font-size="4.6" fill="#5a5262" text-anchor="end" font-weight="bold" style="font-family:'Liberation Sans', sans-serif">J1-2</text>
<circle cx="579" cy="756.75" r="1.7" fill="none" stroke="#000" stroke-width="1"/>
<text x="521" y="763.42" font-size="5.2" fill="#3f4a78" text-anchor="end" font-weight="bold" style="font-family:'Liberation Sans', sans-serif">9</text>
<text x="596" y="763.42" font-size="5.2" fill="#3f4a78" font-weight="bold" style="font-family:'Liberation Sans', sans-serif">3</text>
<circle cx="539.5" cy="765.9" r="1.7" fill="none" stroke="#000" stroke-width="1"/>
<text x="542" y="767.51" font-size="4.6" fill="#5a5262" font-weight="bold" style="font-family:'Liberation Sans', sans-serif">J1-9</text>
<text x="575.5" y="767.51" font-size="4.6" fill="#5a5262" text-anchor="end" font-weight="bold" style="font-family:'Liberation Sans', sans-serif">J1-3</text>
<circle cx="579" cy="765.9" r="1.7" fill="none" stroke="#000" stroke-width="1"/>
<text x="521" y="772.57" font-size="5.2" fill="#3f4a78" text-anchor="end" font-weight="bold" style="font-family:'Liberation Sans', sans-serif">10</text>
<text x="596" y="772.57" font-size="5.2" fill="#3f4a78" font-weight="bold" style="font-family:'Liberation Sans', sans-serif">4</text>
<circle cx="539.5" cy="775.05" r="1.7" fill="none" stroke="#000" stroke-width="1"/>
<text x="542" y="776.66" font-size="4.6" fill="#5a5262" font-weight="bold" style="font-family:'Liberation Sans', sans-serif">J1-10</text>
<text x="575.5" y="776.66" font-size="4.6" fill="#5a5262" text-anchor="end" font-weight="bold" style="font-family:'Liberation Sans', sans-serif">J1-4</text>
<circle cx="579" cy="775.05" r="1.7" fill="none" stroke="#000" stroke-width="1"/>
<text x="521" y="781.72" font-size="5.2" fill="#3f4a78" text-anchor="end" font-weight="bold" style="font-family:'Liberation Sans', sans-serif">11</text>
<text x="596" y="781.72" font-size="5.2" fill="#3f4a78" font-weight="bold" style="font-family:'Liberation Sans', sans-serif">5</text>
<circle cx="539.5" cy="784.2" r="1.7" fill="none" stroke="#000" stroke-width="1"/>
<text x="542" y="785.81" font-size="4.6" fill="#5a5262" font-weight="bold" style="font-family:'Liberation Sans', sans-serif">J1-11</text>
<text x="575.5" y="785.81" font-size="4.6" fill="#5a5262" text-anchor="end" font-weight="bold" style="font-family:'Liberation Sans', sans-serif">J1-5</text>
<circle cx="579" cy="784.2" r="1.7" fill="none" stroke="#000" stroke-width="1"/>
<text x="521" y="790.87" font-size="5.2" fill="#3f4a78" text-anchor="end" font-weight="bold" style="font-family:'Liberation Sans', sans-serif">12</text>
<text x="596" y="790.87" font-size="5.2" fill="#3f4a78" font-weight="bold" style="font-family:'Liberation Sans', sans-serif">6</text>
<circle cx="539.5" cy="793.35" r="1.7" fill="none" stroke="#000" stroke-width="1"/>
<text x="542" y="794.96" font-size="4.6" fill="#5a5262" font-weight="bold" style="font-family:'Liberation Sans', sans-serif">J1-12</text>
<text x="575.5" y="794.96" font-size="4.6" fill="#5a5262" text-anchor="end" font-weight="bold" style="font-family:'Liberation Sans', sans-serif">J1-6</text>
<circle cx="579" cy="793.35" r="1.7" fill="none" stroke="#000" stroke-width="1"/>
<polyline points="525.5,747.5 537.5,747.5" fill="none" stroke="#000" stroke-width="1"/>
<polyline points="525.5,765.5 537.5,765.5" fill="none" stroke="#000" stroke-width="1"/>
<polyline points="525.5,775.5 537.5,775.5" fill="none" stroke="#000" stroke-width="1"/>
<polyline points="486.5,756.5 537.5,756.5" fill="none" stroke="#000" stroke-width="1"/>
<path d="M441.57,750.77 L441.57,755.73 L445.34,755.73 M447.57,750.77 L450.4,750.77 L451.34,751.76 L451.34,754.74 L450.4,755.73 L447.57,755.73 L447.57,750.77 M453.57,755.73 L453.57,751.76 L454.51,750.77 L456.4,750.77 L457.34,751.76 L457.34,755.73 M453.57,753.75 L457.34,753.75 M463.34,751.76 L462.39,750.77 L460.51,750.77 L459.57,751.76 L459.57,754.74 L460.51,755.73 L462.39,755.73 L463.34,754.74 M464.91,755.73 L469.99,755.73 M475.33,750.77 L471.56,750.77 L471.56,755.73 M471.56,753.25 L474.39,753.25 M477.56,755.73 L477.56,750.77 L480.39,750.77 L481.33,751.76 L481.33,752.75 L480.39,753.75 L477.56,753.75 M487.33,751.76 L486.39,750.77 L484.5,750.77 L483.56,751.76 L483.56,754.74 L484.5,755.73 L486.39,755.73 L487.33,754.74 L487.33,753.45 L485.63,753.45 M489.56,755.73 L489.56,751.76 L490.5,750.77 L492.38,750.77 L493.32,751.76 L493.32,755.73 M489.56,753.75 L493.32,753.75" fill="none" stroke="#000" stroke-width="1.15" stroke-linejoin="miter" stroke-miterlimit="1.5"/>
<polyline points="537.5,784.5 497.5,784.5 497.5,805.5" fill="none" stroke="#000" stroke-width="1"/>
<polyline points="491.5,805.5 503.5,805.5" fill="none" stroke="#000" stroke-width="1"/>
<polyline points="493.5,807.5 502.5,807.5" fill="none" stroke="#000" stroke-width="1"/>
<polyline points="495.5,810.5 499.5,810.5" fill="none" stroke="#000" stroke-width="1"/>
<polyline points="537.5,793.5 519.5,793.5 519.5,818.5 623.5,818.5" fill="none" stroke="#000" stroke-width="1"/>
<circle cx="596" cy="818" r="1.9" fill="#000"/>
<path d="M617.58,812.58 L617.58,814.8 L619.43,817.03 L621.29,814.8 L621.29,812.58 M623.51,812.58 L626.3,812.58 L627.22,813.47 L627.22,816.13 L626.3,817.03 L623.51,817.03 L623.51,812.58 M629.44,812.58 L632.23,812.58 L633.16,813.47 L633.16,816.13 L632.23,817.03 L629.44,817.03 L629.44,812.58 M636.12,812.58 L638.35,812.58 M637.23,812.58 L637.23,817.03 M636.12,817.03 L638.35,817.03 M642.24,812.58 L644.1,812.58 L645.03,813.47 L645.03,816.13 L644.1,817.03 L642.24,817.03 L641.31,816.13 L641.31,813.47 L642.24,812.58" fill="none" stroke="#000" stroke-width="1.15" stroke-linejoin="miter" stroke-miterlimit="1.5"/>
<polyline points="580.5,747.5 638.5,747.5" fill="none" stroke="#000" stroke-width="1"/>
<path d="M636.75,742.38 L635.83,741.38 L633.99,741.38 L633.08,742.38 L633.08,745.41 L633.99,746.42 L635.83,746.42 L636.75,745.41 M642.64,742.38 L641.72,741.38 L639.88,741.38 L638.96,742.38 L638.96,743.19 L639.7,743.9 L641.91,743.9 L642.64,744.61 L642.64,745.41 L641.72,746.42 L639.88,746.42 L638.96,745.41 M644.21,746.42 L649.18,746.42 M650.74,741.38 L653.5,741.38 L654.42,742.38 L654.42,745.41 L653.5,746.42 L650.74,746.42 L650.74,741.38 M656.63,746.42 L656.63,742.38 L657.55,741.38 L659.39,741.38 L660.31,742.38 L660.31,746.42 M656.63,744.4 L660.31,744.4 M666.2,742.38 L665.28,741.38 L663.44,741.38 L662.52,742.38 L662.52,745.41 L663.44,746.42 L665.28,746.42 L666.2,745.41 M667.77,746.42 L672.73,746.42 M677.98,741.38 L674.3,741.38 L674.3,746.42 M674.3,743.9 L677.06,743.9 M680.19,746.42 L680.19,741.38 L682.95,741.38 L683.87,742.38 L683.87,743.39 L682.95,744.4 L680.19,744.4 M689.76,742.38 L688.84,741.38 L687,741.38 L686.08,742.38 L686.08,745.41 L687,746.42 L688.84,746.42 L689.76,745.41 L689.76,744.1 L688.1,744.1 M691.97,746.42 L691.97,742.38 L692.89,741.38 L694.73,741.38 L695.65,742.38 L695.65,746.42 M691.97,744.4 L695.65,744.4" fill="none" stroke="#000" stroke-width="1.15" stroke-linejoin="miter" stroke-miterlimit="1.5"/>
<polyline points="580.5,756.5 638.5,756.5" fill="none" stroke="#000" stroke-width="1"/>
<path d="M633.08,750.52 L635.83,750.52 L636.75,751.53 L636.75,754.56 L635.83,755.57 L633.08,755.57 L633.08,750.52 M639.7,750.52 L641.91,750.52 M640.8,750.52 L640.8,755.57 M639.7,755.57 L641.91,755.57 M644.86,755.57 L644.86,750.52 L648.53,755.57 L648.53,750.52 M650.1,755.57 L655.07,755.57 M656.64,750.52 L659.39,750.52 L660.31,751.53 L660.31,754.56 L659.39,755.57 L656.64,755.57 L656.64,750.52 M662.53,755.57 L662.53,751.53 L663.45,750.52 L665.28,750.52 L666.2,751.53 L666.2,755.57 M662.53,753.55 L666.2,753.55 M672.09,751.53 L671.17,750.52 L669.34,750.52 L668.42,751.53 L668.42,754.56 L669.34,755.57 L671.17,755.57 L672.09,754.56 M673.66,755.57 L678.63,755.57 M683.87,750.52 L680.2,750.52 L680.2,755.57 M680.2,753.05 L682.95,753.05 M686.09,755.57 L686.09,750.52 L688.85,750.52 L689.76,751.53 L689.76,752.54 L688.85,753.55 L686.09,753.55 M695.65,751.53 L694.74,750.52 L692.9,750.52 L691.98,751.53 L691.98,754.56 L692.9,755.57 L694.74,755.57 L695.65,754.56 L695.65,753.25 L694,753.25 M697.87,755.57 L697.87,751.53 L698.79,750.52 L700.63,750.52 L701.54,751.53 L701.54,755.57 M697.87,753.55 L701.54,753.55" fill="none" stroke="#000" stroke-width="1.15" stroke-linejoin="miter" stroke-miterlimit="1.5"/>
<polyline points="580.5,775.5 638.5,775.5" fill="none" stroke="#000" stroke-width="1"/>
<path d="M636.76,769.84 L635.84,768.83 L634,768.83 L633.08,769.84 L633.08,770.64 L633.81,771.35 L636.02,771.35 L636.76,772.06 L636.76,772.87 L635.84,773.88 L634,773.88 L633.08,772.87 M642.65,769.84 L641.73,768.83 L639.89,768.83 L638.97,769.84 L638.97,772.87 L639.89,773.88 L641.73,773.88 L642.65,772.87 M644.86,768.83 L644.86,773.88 L648.54,773.88 M650.75,768.83 L650.75,773.88 M654.43,768.83 L650.75,771.86 M652.22,770.85 L654.43,773.88 M655.99,773.88 L660.96,773.88 M662.53,768.83 L665.29,768.83 L666.21,769.84 L666.21,772.87 L665.29,773.88 L662.53,773.88 L662.53,768.83 M668.42,773.88 L668.42,769.84 L669.34,768.83 L671.18,768.83 L672.1,769.84 L672.1,773.88 M668.42,771.86 L672.1,771.86 M677.99,769.84 L677.07,768.83 L675.23,768.83 L674.31,769.84 L674.31,772.87 L675.23,773.88 L677.07,773.88 L677.99,772.87 M679.56,773.88 L684.53,773.88 M689.77,768.83 L686.09,768.83 L686.09,773.88 M686.09,771.35 L688.85,771.35 M691.98,773.88 L691.98,768.83 L694.74,768.83 L695.66,769.84 L695.66,770.85 L694.74,771.86 L691.98,771.86 M701.55,769.84 L700.63,768.83 L698.79,768.83 L697.87,769.84 L697.87,772.87 L698.79,773.88 L700.63,773.88 L701.55,772.87 L701.55,771.55 L699.9,771.55 M703.76,773.88 L703.76,769.84 L704.68,768.83 L706.52,768.83 L707.45,769.84 L707.45,773.88 M703.76,771.86 L707.45,771.86" fill="none" stroke="#000" stroke-width="1.15" stroke-linejoin="miter" stroke-miterlimit="1.5"/>
<polyline points="580.5,765.5 593.5,765.5" fill="none" stroke="#000" stroke-width="1"/>
<polyline points="580.5,784.5 617.5,784.5 617.5,796.5" fill="none" stroke="#000" stroke-width="1"/>
<polyline points="611.5,796.5 623.5,796.5" fill="none" stroke="#000" stroke-width="1"/>
<polyline points="613.5,798.5 621.5,798.5" fill="none" stroke="#000" stroke-width="1"/>
<polyline points="615.5,801.5 619.5,801.5" fill="none" stroke="#000" stroke-width="1"/>
<polyline points="580.5,793.5 596.5,793.5 596.5,818.5" fill="none" stroke="#000" stroke-width="1"/>
<path d="M522.58,848.93 L522.58,842.48 L526.26,842.48 L527.49,843.76 L527.49,845.06 L526.26,846.35 L522.58,846.35 M529.97,848.93 L529.97,842.48 L532.43,845.7 L534.88,842.48 L534.88,848.93 M538.59,842.48 L541.05,842.48 L542.28,843.76 L542.28,847.63 L541.05,848.93 L538.59,848.93 L537.36,847.63 L537.36,843.76 L538.59,842.48 M544.76,842.48 L548.44,842.48 L549.67,843.76 L549.67,847.63 L548.44,848.93 L544.76,848.93 L544.76,842.48 M559.54,848.93 L559.54,842.48 L563.23,842.48 L564.46,843.76 L564.46,845.06 L563.23,846.35 L559.54,846.35 M568.17,842.48 L570.62,842.48 L571.85,843.76 L571.85,847.63 L570.62,848.93 L568.17,848.93 L566.94,847.63 L566.94,843.76 L568.17,842.48 M574.33,848.93 L574.33,842.48 L578.02,842.48 L579.24,843.76 L579.24,845.06 L578.02,846.35 L574.33,846.35 M576.79,846.35 L579.24,848.93 M581.72,842.48 L586.64,842.48 M584.18,842.48 L584.18,848.93 M596.51,848.93 L596.51,843.76 L597.74,842.48 L600.2,842.48 L601.42,843.76 L601.42,848.93 M596.51,846.35 L601.42,846.35" fill="none" stroke="#000" stroke-width="1.15" stroke-linejoin="miter" stroke-miterlimit="1.5"/>
<text x="566.8" y="866.21" font-size="4.6" fill="#7a6658" text-anchor="middle" font-weight="bold" textLength="7" lengthAdjust="spacingAndGlyphs" style="font-family:'Liberation Sans', sans-serif">J32</text>
<text x="535" y="873.6" font-size="6" fill="#111" font-weight="bold" textLength="66.4" lengthAdjust="spacingAndGlyphs" style="font-family:'Liberation Sans', sans-serif">TSW-106-08-S-D-RA</text>
<rect x="540.5" y="876.5" width="56" height="61" fill="none" stroke="#222" stroke-width="1.2"/>
<text x="531" y="882.62" font-size="5.2" fill="#3f4a78" text-anchor="end" font-weight="bold" style="font-family:'Liberation Sans', sans-serif">1</text>
<text x="604" y="882.62" font-size="5.2" fill="#3f4a78" font-weight="bold" style="font-family:'Liberation Sans', sans-serif">7</text>
<rect x="547.5" y="883.5" width="3" height="3" fill="none" stroke="#000" stroke-width="1"/>
<circle cx="587.7" cy="885.1" r="1.7" fill="none" stroke="#000" stroke-width="1"/>
<text x="551" y="886.71" font-size="4.6" fill="#5a5262" font-weight="bold" style="font-family:'Liberation Sans', sans-serif">J1-1</text>
<text x="584" y="886.71" font-size="4.6" fill="#5a5262" text-anchor="end" font-weight="bold" style="font-family:'Liberation Sans', sans-serif">J1-7</text>
<text x="531" y="891.84" font-size="5.2" fill="#3f4a78" text-anchor="end" font-weight="bold" style="font-family:'Liberation Sans', sans-serif">2</text>
<text x="604" y="891.84" font-size="5.2" fill="#3f4a78" font-weight="bold" style="font-family:'Liberation Sans', sans-serif">8</text>
<circle cx="548.7" cy="894.32" r="1.7" fill="none" stroke="#000" stroke-width="1"/>
<circle cx="587.7" cy="894.32" r="1.7" fill="none" stroke="#000" stroke-width="1"/>
<text x="551" y="895.93" font-size="4.6" fill="#5a5262" font-weight="bold" style="font-family:'Liberation Sans', sans-serif">J1-2</text>
<text x="584" y="895.93" font-size="4.6" fill="#5a5262" text-anchor="end" font-weight="bold" style="font-family:'Liberation Sans', sans-serif">J1-8</text>
<text x="531" y="901.06" font-size="5.2" fill="#3f4a78" text-anchor="end" font-weight="bold" style="font-family:'Liberation Sans', sans-serif">3</text>
<text x="604" y="901.06" font-size="5.2" fill="#3f4a78" font-weight="bold" style="font-family:'Liberation Sans', sans-serif">9</text>
<circle cx="548.7" cy="903.54" r="1.7" fill="none" stroke="#000" stroke-width="1"/>
<circle cx="587.7" cy="903.54" r="1.7" fill="none" stroke="#000" stroke-width="1"/>
<text x="551" y="905.15" font-size="4.6" fill="#5a5262" font-weight="bold" style="font-family:'Liberation Sans', sans-serif">J1-3</text>
<text x="584" y="905.15" font-size="4.6" fill="#5a5262" text-anchor="end" font-weight="bold" style="font-family:'Liberation Sans', sans-serif">J1-9</text>
<text x="531" y="910.28" font-size="5.2" fill="#3f4a78" text-anchor="end" font-weight="bold" style="font-family:'Liberation Sans', sans-serif">4</text>
<text x="604" y="910.28" font-size="5.2" fill="#3f4a78" font-weight="bold" style="font-family:'Liberation Sans', sans-serif">10</text>
<circle cx="548.7" cy="912.76" r="1.7" fill="none" stroke="#000" stroke-width="1"/>
<circle cx="587.7" cy="912.76" r="1.7" fill="none" stroke="#000" stroke-width="1"/>
<text x="551" y="914.37" font-size="4.6" fill="#5a5262" font-weight="bold" style="font-family:'Liberation Sans', sans-serif">J1-4</text>
<text x="584" y="914.37" font-size="4.6" fill="#5a5262" text-anchor="end" font-weight="bold" style="font-family:'Liberation Sans', sans-serif">J1-10</text>
<text x="531" y="919.5" font-size="5.2" fill="#3f4a78" text-anchor="end" font-weight="bold" style="font-family:'Liberation Sans', sans-serif">5</text>
<text x="604" y="919.5" font-size="5.2" fill="#3f4a78" font-weight="bold" style="font-family:'Liberation Sans', sans-serif">11</text>
<circle cx="548.7" cy="921.98" r="1.7" fill="none" stroke="#000" stroke-width="1"/>
<circle cx="587.7" cy="921.98" r="1.7" fill="none" stroke="#000" stroke-width="1"/>
<text x="551" y="923.59" font-size="4.6" fill="#5a5262" font-weight="bold" style="font-family:'Liberation Sans', sans-serif">J1-5</text>
<text x="584" y="923.59" font-size="4.6" fill="#5a5262" text-anchor="end" font-weight="bold" style="font-family:'Liberation Sans', sans-serif">J1-11</text>
<text x="531" y="928.72" font-size="5.2" fill="#3f4a78" text-anchor="end" font-weight="bold" style="font-family:'Liberation Sans', sans-serif">6</text>
<text x="604" y="928.72" font-size="5.2" fill="#3f4a78" font-weight="bold" style="font-family:'Liberation Sans', sans-serif">12</text>
<circle cx="548.7" cy="931.2" r="1.7" fill="none" stroke="#000" stroke-width="1"/>
<circle cx="587.7" cy="931.2" r="1.7" fill="none" stroke="#000" stroke-width="1"/>
<text x="551" y="932.81" font-size="4.6" fill="#5a5262" font-weight="bold" style="font-family:'Liberation Sans', sans-serif">J1-6</text>
<text x="584" y="932.81" font-size="4.6" fill="#5a5262" text-anchor="end" font-weight="bold" style="font-family:'Liberation Sans', sans-serif">J1-12</text>
<polyline points="497.5,885.5 547.5,885.5" fill="none" stroke="#000" stroke-width="1"/>
<path d="M446.73,879.81 L445.81,878.78 L443.97,878.78 L443.05,879.81 L443.05,882.9 L443.97,883.93 L445.81,883.93 L446.73,882.9 M452.62,879.81 L451.7,878.78 L449.86,878.78 L448.94,879.81 L448.94,880.63 L449.68,881.35 L451.89,881.35 L452.62,882.07 L452.62,882.9 L451.7,883.93 L449.86,883.93 L448.94,882.9 M454.19,883.93 L459.16,883.93 M460.72,883.93 L460.72,879.81 L461.64,878.78 L463.48,878.78 L464.4,879.81 L464.4,883.93 M460.72,881.87 L464.4,881.87 M466.61,878.78 L469.37,878.78 L470.29,879.81 L470.29,882.9 L469.37,883.93 L466.61,883.93 L466.61,878.78 M476.18,879.81 L475.26,878.78 L473.42,878.78 L472.5,879.81 L472.5,882.9 L473.42,883.93 L475.26,883.93 L476.18,882.9 M477.75,883.93 L482.71,883.93 M487.96,878.78 L484.28,878.78 L484.28,883.93 M484.28,881.35 L487.04,881.35 M490.17,883.93 L490.17,878.78 L492.93,878.78 L493.85,879.81 L493.85,880.84 L492.93,881.87 L490.17,881.87 M499.74,879.81 L498.82,878.78 L496.98,878.78 L496.06,879.81 L496.06,882.9 L496.98,883.93 L498.82,883.93 L499.74,882.9 L499.74,881.56 L498.08,881.56 M501.95,883.93 L501.95,879.81 L502.87,878.78 L504.71,878.78 L505.62,879.81 L505.62,883.93 M501.95,881.87 L505.62,881.87" fill="none" stroke="#000" stroke-width="1.15" stroke-linejoin="miter" stroke-miterlimit="1.5"/>
<polyline points="497.5,894.5 547.5,894.5" fill="none" stroke="#000" stroke-width="1"/>
<path d="M437.15,888 L439.91,888 L440.83,889.03 L440.83,892.12 L439.91,893.15 L437.15,893.15 L437.15,888 M443.78,888 L445.99,888 M444.88,888 L444.88,893.15 M443.78,893.15 L445.99,893.15 M448.94,893.15 L448.94,888 L452.61,893.15 L452.61,888 M454.18,893.15 L459.15,893.15 M460.72,893.15 L460.72,889.03 L461.64,888 L463.47,888 L464.39,889.03 L464.39,893.15 M460.72,891.09 L464.39,891.09 M466.61,888 L469.36,888 L470.28,889.03 L470.28,892.12 L469.36,893.15 L466.61,893.15 L466.61,888 M476.17,889.03 L475.25,888 L473.42,888 L472.5,889.03 L472.5,892.12 L473.42,893.15 L475.25,893.15 L476.17,892.12 M477.74,893.15 L482.71,893.15 M487.95,888 L484.28,888 L484.28,893.15 M484.28,890.57 L487.03,890.57 M490.17,893.15 L490.17,888 L492.93,888 L493.84,889.03 L493.84,890.06 L492.93,891.09 L490.17,891.09 M499.73,889.03 L498.82,888 L496.98,888 L496.06,889.03 L496.06,892.12 L496.98,893.15 L498.82,893.15 L499.73,892.12 L499.73,890.78 L498.08,890.78 M501.95,893.15 L501.95,889.03 L502.87,888 L504.71,888 L505.62,889.03 L505.62,893.15 M501.95,891.09 L505.62,891.09" fill="none" stroke="#000" stroke-width="1.15" stroke-linejoin="miter" stroke-miterlimit="1.5"/>
<polyline points="497.5,903.5 547.5,903.5" fill="none" stroke="#000" stroke-width="1"/>
<path d="M431.25,897.22 L434.02,897.22 L434.94,898.25 L434.94,901.34 L434.02,902.37 L431.25,902.37 L431.25,897.22 M438.07,897.22 L439.91,897.22 L440.83,898.25 L440.83,901.34 L439.91,902.37 L438.07,902.37 L437.15,901.34 L437.15,898.25 L438.07,897.22 M443.04,897.22 L443.04,901.34 L443.96,902.37 L445.8,902.37 L446.72,901.34 L446.72,897.22 M448.93,897.22 L452.61,897.22 M450.77,897.22 L450.77,902.37 M454.17,902.37 L459.14,902.37 M460.71,902.37 L460.71,898.25 L461.63,897.22 L463.47,897.22 L464.39,898.25 L464.39,902.37 M460.71,900.31 L464.39,900.31 M466.6,897.22 L469.36,897.22 L470.28,898.25 L470.28,901.34 L469.36,902.37 L466.6,902.37 L466.6,897.22 M476.17,898.25 L475.25,897.22 L473.41,897.22 L472.49,898.25 L472.49,901.34 L473.41,902.37 L475.25,902.37 L476.17,901.34 M477.74,902.37 L482.71,902.37 M487.95,897.22 L484.27,897.22 L484.27,902.37 M484.27,899.79 L487.03,899.79 M490.16,902.37 L490.16,897.22 L492.92,897.22 L493.84,898.25 L493.84,899.28 L492.92,900.31 L490.16,900.31 M499.73,898.25 L498.81,897.22 L496.97,897.22 L496.05,898.25 L496.05,901.34 L496.97,902.37 L498.81,902.37 L499.73,901.34 L499.73,900 L498.08,900 M501.94,902.37 L501.94,898.25 L502.86,897.22 L504.7,897.22 L505.62,898.25 L505.62,902.37 M501.94,900.31 L505.62,900.31" fill="none" stroke="#000" stroke-width="1.15" stroke-linejoin="miter" stroke-miterlimit="1.5"/>
<polyline points="497.5,912.5 547.5,912.5" fill="none" stroke="#000" stroke-width="1"/>
<path d="M434.94,907.47 L434.02,906.44 L432.18,906.44 L431.25,907.47 L431.25,908.29 L431.99,909.01 L434.2,909.01 L434.94,909.73 L434.94,910.56 L434.02,911.59 L432.18,911.59 L431.25,910.56 M440.83,907.47 L439.91,906.44 L438.07,906.44 L437.15,907.47 L437.15,910.56 L438.07,911.59 L439.91,911.59 L440.83,910.56 M443.04,906.44 L443.04,911.59 L446.72,911.59 M448.93,906.44 L448.93,911.59 M452.61,906.44 L448.93,909.53 M450.4,908.5 L452.61,911.59 M454.17,911.59 L459.14,911.59 M460.71,911.59 L460.71,907.47 L461.63,906.44 L463.47,906.44 L464.39,907.47 L464.39,911.59 M460.71,909.53 L464.39,909.53 M466.6,906.44 L469.36,906.44 L470.28,907.47 L470.28,910.56 L469.36,911.59 L466.6,911.59 L466.6,906.44 M476.17,907.47 L475.25,906.44 L473.41,906.44 L472.49,907.47 L472.49,910.56 L473.41,911.59 L475.25,911.59 L476.17,910.56 M477.74,911.59 L482.71,911.59 M487.95,906.44 L484.27,906.44 L484.27,911.59 M484.27,909.01 L487.03,909.01 M490.16,911.59 L490.16,906.44 L492.92,906.44 L493.84,907.47 L493.84,908.5 L492.92,909.53 L490.16,909.53 M499.73,907.47 L498.81,906.44 L496.97,906.44 L496.05,907.47 L496.05,910.56 L496.97,911.59 L498.81,911.59 L499.73,910.56 L499.73,909.22 L498.08,909.22 M501.94,911.59 L501.94,907.47 L502.86,906.44 L504.7,906.44 L505.62,907.47 L505.62,911.59 M501.94,909.53 L505.62,909.53" fill="none" stroke="#000" stroke-width="1.15" stroke-linejoin="miter" stroke-miterlimit="1.5"/>
<polyline points="547.5,921.5 507.5,921.5 507.5,945.5" fill="none" stroke="#000" stroke-width="1"/>
<polyline points="501.5,945.5 513.5,945.5" fill="none" stroke="#000" stroke-width="1"/>
<polyline points="502.5,948.5 511.5,948.5" fill="none" stroke="#000" stroke-width="1"/>
<polyline points="505.5,950.5 509.5,950.5" fill="none" stroke="#000" stroke-width="1"/>
<polyline points="547.5,931.5 528.5,931.5 528.5,959.5 638.5,959.5" fill="none" stroke="#000" stroke-width="1"/>
<circle cx="611.5" cy="959.3" r="1.9" fill="#000"/>
<path d="M636.58,953.18 L636.58,955.6 L638.38,958.03 L640.19,955.6 L640.19,953.18 M642.38,953.18 L645.09,953.18 L646,954.15 L646,957.06 L645.09,958.03 L642.38,958.03 L642.38,953.18 M648.19,953.18 L650.9,953.18 L651.81,954.15 L651.81,957.06 L650.9,958.03 L648.19,958.03 L648.19,953.18 M654.73,953.18 L656.89,953.18 M655.81,953.18 L655.81,958.03 M654.73,958.03 L656.89,958.03 M660.71,953.18 L662.52,953.18 L663.43,954.15 L663.43,957.06 L662.52,958.03 L660.71,958.03 L659.81,957.06 L659.81,954.15 L660.71,953.18" fill="none" stroke="#000" stroke-width="1.15" stroke-linejoin="miter" stroke-miterlimit="1.5"/>
<polyline points="589.5,885.5 629.5,885.5" fill="none" stroke="#000" stroke-width="1"/>
<path d="M623.58,883.93 L623.58,878.78 L626.34,878.78 L627.26,879.81 L627.26,880.84 L626.34,881.87 L623.58,881.87 M625.42,881.87 L627.26,883.93 M629.47,878.78 L632.23,878.78 L633.15,879.81 L633.15,882.9 L632.23,883.93 L629.47,883.93 L629.47,878.78 M635.36,878.78 L637.2,881.35 L639.04,878.78 M637.2,881.35 L637.2,883.93 M641.25,878.78 L641.25,883.93 L644.01,883.93 L644.93,882.9 L644.93,882.17 L644.01,881.35 L641.25,881.35 M641.25,878.78 L644.01,878.78 L644.93,879.6 L644.93,880.53 L644.01,881.35 M646.49,883.93 L651.46,883.93 M653.03,883.93 L653.03,879.81 L653.95,878.78 L655.79,878.78 L656.71,879.81 L656.71,883.93 M653.03,881.87 L656.71,881.87 M658.92,878.78 L661.68,878.78 L662.6,879.81 L662.6,882.9 L661.68,883.93 L658.92,883.93 L658.92,878.78 M668.49,879.81 L667.57,878.78 L665.73,878.78 L664.81,879.81 L664.81,882.9 L665.73,883.93 L667.57,883.93 L668.49,882.9 M670.06,883.93 L675.03,883.93 M680.27,878.78 L676.59,878.78 L676.59,883.93 M676.59,881.35 L679.35,881.35 M682.48,883.93 L682.48,878.78 L685.24,878.78 L686.16,879.81 L686.16,880.84 L685.24,881.87 L682.48,881.87 M692.05,879.81 L691.13,878.78 L689.29,878.78 L688.37,879.81 L688.37,882.9 L689.29,883.93 L691.13,883.93 L692.05,882.9 L692.05,881.56 L690.4,881.56 M694.26,883.93 L694.26,879.81 L695.18,878.78 L697.02,878.78 L697.95,879.81 L697.95,883.93 M694.26,881.87 L697.95,881.87" fill="none" stroke="#000" stroke-width="1.15" stroke-linejoin="miter" stroke-miterlimit="1.5"/>
<polyline points="589.5,894.5 629.5,894.5" fill="none" stroke="#000" stroke-width="1"/>
<path d="M627.26,889.03 L626.34,888 L624.5,888 L623.58,889.03 L623.58,889.85 L624.31,890.57 L626.52,890.57 L627.26,891.29 L627.26,892.12 L626.34,893.15 L624.5,893.15 L623.58,892.12 M629.47,888 L631.31,890.57 L633.15,888 M631.31,890.57 L631.31,893.15 M635.36,893.15 L635.36,888 L639.04,893.15 L639.04,888 M644.93,889.03 L644.01,888 L642.17,888 L641.25,889.03 L641.25,892.12 L642.17,893.15 L644.01,893.15 L644.93,892.12 M646.49,893.15 L651.46,893.15 M653.03,893.15 L653.03,889.03 L653.95,888 L655.79,888 L656.71,889.03 L656.71,893.15 M653.03,891.09 L656.71,891.09 M658.92,888 L661.68,888 L662.6,889.03 L662.6,892.12 L661.68,893.15 L658.92,893.15 L658.92,888 M668.49,889.03 L667.57,888 L665.73,888 L664.81,889.03 L664.81,892.12 L665.73,893.15 L667.57,893.15 L668.49,892.12 M670.06,893.15 L675.03,893.15 M680.27,888 L676.59,888 L676.59,893.15 M676.59,890.57 L679.35,890.57 M682.48,893.15 L682.48,888 L685.24,888 L686.16,889.03 L686.16,890.06 L685.24,891.09 L682.48,891.09 M692.05,889.03 L691.13,888 L689.29,888 L688.37,889.03 L688.37,892.12 L689.29,893.15 L691.13,893.15 L692.05,892.12 L692.05,890.78 L690.4,890.78 M694.26,893.15 L694.26,889.03 L695.18,888 L697.02,888 L697.95,889.03 L697.95,893.15 M694.26,891.09 L697.95,891.09" fill="none" stroke="#000" stroke-width="1.15" stroke-linejoin="miter" stroke-miterlimit="1.5"/>
<polyline points="589.5,903.5 602.5,903.5" fill="none" stroke="#000" stroke-width="1"/>
<polyline points="589.5,912.5 602.5,912.5" fill="none" stroke="#000" stroke-width="1"/>
<polyline points="589.5,921.5 632.5,921.5 632.5,936.5" fill="none" stroke="#000" stroke-width="1"/>
<polyline points="626.5,936.5 638.5,936.5" fill="none" stroke="#000" stroke-width="1"/>
<polyline points="628.5,938.5 637.5,938.5" fill="none" stroke="#000" stroke-width="1"/>
<polyline points="630.5,941.5 634.5,941.5" fill="none" stroke="#000" stroke-width="1"/>
<polyline points="589.5,931.5 611.5,931.5 611.5,959.5" fill="none" stroke="#000" stroke-width="1"/>
<path d="M148.88,844.08 L155.17,844.08 M152.02,844.08 L152.02,852.12 M164.26,844.08 L157.96,844.08 L157.96,852.12 L164.26,852.12 M157.96,848.1 L162.68,848.1 M173.34,845.69 L171.77,844.08 L168.62,844.08 L167.04,845.69 L167.04,846.97 L168.3,848.1 L172.08,848.1 L173.34,849.23 L173.34,850.52 L171.77,852.12 L168.62,852.12 L167.04,850.52 M176.13,844.08 L182.42,844.08 M179.28,844.08 L179.28,852.12" fill="none" stroke="#000" stroke-width="1.15" stroke-linejoin="miter" stroke-miterlimit="1.5"/>
<text x="111.2" y="857.61" font-size="4.6" fill="#7a6658" text-anchor="middle" font-weight="bold" textLength="7" lengthAdjust="spacingAndGlyphs" style="font-family:'Liberation Sans', sans-serif">J35</text>
<text x="95" y="865" font-size="5.43" fill="#111" font-weight="bold" textLength="32" lengthAdjust="spacingAndGlyphs" style="font-family:'Liberation Sans', sans-serif">PBC10SAAN</text>
<rect x="102.5" y="867.5" width="19" height="73" fill="none" stroke="#222" stroke-width="1.2"/>
<text x="92.5" y="875.31" font-size="4.6" fill="#3f4a78" text-anchor="end" font-weight="bold" style="font-family:'Liberation Sans', sans-serif">1</text>
<rect x="108.5" y="874.5" width="4" height="4" fill="none" stroke="#000" stroke-width="1"/>
<text x="92.5" y="881.41" font-size="4.6" fill="#3f4a78" text-anchor="end" font-weight="bold" style="font-family:'Liberation Sans', sans-serif">2</text>
<circle cx="110.7" cy="882.4" r="1.8" fill="none" stroke="#000" stroke-width="1"/>
<text x="92.5" y="887.51" font-size="4.6" fill="#3f4a78" text-anchor="end" font-weight="bold" style="font-family:'Liberation Sans', sans-serif">3</text>
<circle cx="110.7" cy="888.5" r="1.8" fill="none" stroke="#000" stroke-width="1"/>
<text x="92.5" y="893.61" font-size="4.6" fill="#3f4a78" text-anchor="end" font-weight="bold" style="font-family:'Liberation Sans', sans-serif">4</text>
<circle cx="110.7" cy="894.6" r="1.8" fill="none" stroke="#000" stroke-width="1"/>
<text x="92.5" y="899.71" font-size="4.6" fill="#3f4a78" text-anchor="end" font-weight="bold" style="font-family:'Liberation Sans', sans-serif">5</text>
<circle cx="110.7" cy="900.7" r="1.8" fill="none" stroke="#000" stroke-width="1"/>
<text x="92.5" y="905.81" font-size="4.6" fill="#3f4a78" text-anchor="end" font-weight="bold" style="font-family:'Liberation Sans', sans-serif">6</text>
<circle cx="110.7" cy="906.8" r="1.8" fill="none" stroke="#000" stroke-width="1"/>
<text x="92.5" y="911.91" font-size="4.6" fill="#3f4a78" text-anchor="end" font-weight="bold" style="font-family:'Liberation Sans', sans-serif">7</text>
<circle cx="110.7" cy="912.9" r="1.8" fill="none" stroke="#000" stroke-width="1"/>
<text x="92.5" y="918.01" font-size="4.6" fill="#3f4a78" text-anchor="end" font-weight="bold" style="font-family:'Liberation Sans', sans-serif">8</text>
<circle cx="110.7" cy="919" r="1.8" fill="none" stroke="#000" stroke-width="1"/>
<text x="92.5" y="924.11" font-size="4.6" fill="#3f4a78" text-anchor="end" font-weight="bold" style="font-family:'Liberation Sans', sans-serif">9</text>
<circle cx="110.7" cy="925.1" r="1.8" fill="none" stroke="#000" stroke-width="1"/>
<text x="92.5" y="930.21" font-size="4.6" fill="#3f4a78" text-anchor="end" font-weight="bold" style="font-family:'Liberation Sans', sans-serif">10</text>
<circle cx="110.7" cy="931.2" r="1.8" fill="none" stroke="#000" stroke-width="1"/>
<polyline points="108.5,876.5 74.5,876.5 74.5,952.5" fill="none" stroke="#000" stroke-width="1"/>
<polygon points="68.1,952.8 81.1,952.8 74.6,958.6" fill="none" stroke="#000" stroke-width="1"/>
<circle cx="74.6" cy="931.2" r="1.9" fill="#000"/>
<polyline points="74.5,931.5 108.5,931.5" fill="none" stroke="#000" stroke-width="1"/>
<circle cx="74.6" cy="912.9" r="1.0" fill="#000"/>
<path d="M13.17,874.07 L12.22,872.98 L10.32,872.98 L9.38,874.07 L9.38,874.94 L10.13,875.7 L12.41,875.7 L13.17,876.46 L13.17,877.34 L12.22,878.43 L10.32,878.43 L9.38,877.34 M19.21,874.07 L18.26,872.98 L16.36,872.98 L15.41,874.07 L15.41,877.34 L16.36,878.43 L18.26,878.43 L19.21,877.34 M21.45,872.98 L21.45,878.43 L25.25,878.43 M27.48,872.98 L27.48,878.43 M31.28,872.98 L27.48,876.25 M29,875.15 L31.28,878.43 M32.85,878.43 L37.98,878.43 M39.55,872.98 L42.4,872.98 L43.35,874.07 L43.35,877.34 L42.4,878.43 L39.55,878.43 L39.55,872.98 M45.59,878.43 L45.59,874.07 L46.54,872.98 L48.44,872.98 L49.39,874.07 L49.39,878.43 M45.59,876.25 L49.39,876.25 M55.43,874.07 L54.48,872.98 L52.58,872.98 L51.63,874.07 L51.63,877.34 L52.58,878.43 L54.48,878.43 L55.43,877.34" fill="none" stroke="#000" stroke-width="1.15" stroke-linejoin="miter" stroke-miterlimit="1.5"/>
<polyline points="56.5,879.5 66.5,879.5 66.5,882.5 108.5,882.5" fill="none" stroke="#000" stroke-width="1"/>
<path d="M15.57,882.38 L18.41,882.38 L19.35,883.47 L19.35,886.74 L18.41,887.83 L15.57,887.83 L15.57,882.38 M22.34,882.38 L24.61,882.38 M23.48,882.38 L23.48,887.83 M22.34,887.83 L24.61,887.83 M27.6,887.83 L27.6,882.38 L31.38,887.83 L31.38,882.38 M32.95,887.83 L38.05,887.83 M39.62,882.38 L42.46,882.38 L43.4,883.47 L43.4,886.74 L42.46,887.83 L39.62,887.83 L39.62,882.38 M45.63,887.83 L45.63,883.47 L46.58,882.38 L48.47,882.38 L49.41,883.47 L49.41,887.83 M45.63,885.64 L49.41,885.64 M55.43,883.47 L54.48,882.38 L52.59,882.38 L51.65,883.47 L51.65,886.74 L52.59,887.83 L54.48,887.83 L55.43,886.74" fill="none" stroke="#000" stroke-width="1.15" stroke-linejoin="miter" stroke-miterlimit="1.5"/>
<polyline points="56.5,888.5 108.5,888.5" fill="none" stroke="#000" stroke-width="1"/>
<polyline points="95.5,894.5 108.5,894.5" fill="none" stroke="#000" stroke-width="1"/>
<polyline points="95.5,900.5 108.5,900.5" fill="none" stroke="#000" stroke-width="1"/>
<polyline points="95.5,906.5 108.5,906.5" fill="none" stroke="#000" stroke-width="1"/>
<polyline points="95.5,925.5 108.5,925.5" fill="none" stroke="#000" stroke-width="1"/>
<path d="M25.18,907.37 L24.23,906.27 L22.33,906.27 L21.38,907.37 L21.38,910.63 L22.33,911.73 L24.23,911.73 L25.18,910.63 M31.23,907.37 L30.28,906.27 L28.38,906.27 L27.42,907.37 L27.42,908.24 L28.18,909 L30.47,909 L31.23,909.76 L31.23,910.63 L30.28,911.73 L28.38,911.73 L27.42,910.63 M32.8,911.73 L37.95,911.73 M39.52,906.27 L42.38,906.27 L43.33,907.37 L43.33,910.63 L42.38,911.73 L39.52,911.73 L39.52,906.27 M45.57,911.73 L45.57,907.37 L46.52,906.27 L48.42,906.27 L49.38,907.37 L49.38,911.73 M45.57,909.54 L49.38,909.54 M55.43,907.37 L54.47,906.27 L52.57,906.27 L51.62,907.37 L51.62,910.63 L52.57,911.73 L54.47,911.73 L55.43,910.63" fill="none" stroke="#000" stroke-width="1.15" stroke-linejoin="miter" stroke-miterlimit="1.5"/>
<polyline points="56.5,912.5 108.5,912.5" fill="none" stroke="#000" stroke-width="1"/>
<path d="M32.98,915.77 L32.98,921.23 L36.89,921.23 M39.15,915.77 L42.09,915.77 L43.07,916.87 L43.07,920.13 L42.09,921.23 L39.15,921.23 L39.15,915.77 M45.33,921.23 L45.33,916.87 L46.31,915.77 L48.27,915.77 L49.25,916.87 L49.25,921.23 M45.33,919.04 L49.25,919.04 M55.43,916.87 L54.45,915.77 L52.49,915.77 L51.51,916.87 L51.51,920.13 L52.49,921.23 L54.45,921.23 L55.43,920.13" fill="none" stroke="#000" stroke-width="1.15" stroke-linejoin="miter" stroke-miterlimit="1.5"/>
<polyline points="56.5,922.5 81.5,922.5 81.5,919.5 108.5,919.5" fill="none" stroke="#000" stroke-width="1"/>
<text x="267.5" y="854.31" font-size="4.6" fill="#7a6658" text-anchor="middle" font-weight="bold" textLength="7" lengthAdjust="spacingAndGlyphs" style="font-family:'Liberation Sans', sans-serif">J38</text>
<text x="251.3" y="861.6" font-size="5.43" fill="#111" font-weight="bold" textLength="32.5" lengthAdjust="spacingAndGlyphs" style="font-family:'Liberation Sans', sans-serif">PBC10SAAN</text>
<rect x="258.5" y="864.5" width="19" height="73" fill="none" stroke="#222" stroke-width="1.2"/>
<text x="249" y="871.91" font-size="4.6" fill="#3f4a78" text-anchor="end" font-weight="bold" style="font-family:'Liberation Sans', sans-serif">1</text>
<rect x="265.5" y="871.5" width="4" height="3" fill="none" stroke="#000" stroke-width="1"/>
<text x="249" y="878.08" font-size="4.6" fill="#3f4a78" text-anchor="end" font-weight="bold" style="font-family:'Liberation Sans', sans-serif">2</text>
<circle cx="267.5" cy="879.07" r="1.8" fill="none" stroke="#000" stroke-width="1"/>
<text x="249" y="884.25" font-size="4.6" fill="#3f4a78" text-anchor="end" font-weight="bold" style="font-family:'Liberation Sans', sans-serif">3</text>
<circle cx="267.5" cy="885.24" r="1.8" fill="none" stroke="#000" stroke-width="1"/>
<text x="249" y="890.42" font-size="4.6" fill="#3f4a78" text-anchor="end" font-weight="bold" style="font-family:'Liberation Sans', sans-serif">4</text>
<circle cx="267.5" cy="891.41" r="1.8" fill="none" stroke="#000" stroke-width="1"/>
<text x="249" y="896.59" font-size="4.6" fill="#3f4a78" text-anchor="end" font-weight="bold" style="font-family:'Liberation Sans', sans-serif">5</text>
<circle cx="267.5" cy="897.58" r="1.8" fill="none" stroke="#000" stroke-width="1"/>
<text x="249" y="902.76" font-size="4.6" fill="#3f4a78" text-anchor="end" font-weight="bold" style="font-family:'Liberation Sans', sans-serif">6</text>
<circle cx="267.5" cy="903.75" r="1.8" fill="none" stroke="#000" stroke-width="1"/>
<text x="249" y="908.93" font-size="4.6" fill="#3f4a78" text-anchor="end" font-weight="bold" style="font-family:'Liberation Sans', sans-serif">7</text>
<circle cx="267.5" cy="909.92" r="1.8" fill="none" stroke="#000" stroke-width="1"/>
<text x="249" y="915.1" font-size="4.6" fill="#3f4a78" text-anchor="end" font-weight="bold" style="font-family:'Liberation Sans', sans-serif">8</text>
<circle cx="267.5" cy="916.09" r="1.8" fill="none" stroke="#000" stroke-width="1"/>
<text x="249" y="921.27" font-size="4.6" fill="#3f4a78" text-anchor="end" font-weight="bold" style="font-family:'Liberation Sans', sans-serif">9</text>
<circle cx="267.5" cy="922.26" r="1.8" fill="none" stroke="#000" stroke-width="1"/>
<text x="249" y="927.44" font-size="4.6" fill="#3f4a78" text-anchor="end" font-weight="bold" style="font-family:'Liberation Sans', sans-serif">10</text>
<circle cx="267.5" cy="928.43" r="1.8" fill="none" stroke="#000" stroke-width="1"/>
<polyline points="265.5,872.5 228.5,872.5 228.5,952.5" fill="none" stroke="#000" stroke-width="1"/>
<polygon points="221.7,952.8 234.7,952.8 228.2,958.6" fill="none" stroke="#000" stroke-width="1"/>
<circle cx="228.2" cy="928.43" r="1.9" fill="#000"/>
<polyline points="228.5,928.5 265.5,928.5" fill="none" stroke="#000" stroke-width="1"/>
<polyline points="252.5,879.5 265.5,879.5" fill="none" stroke="#000" stroke-width="1"/>
<polyline points="252.5,885.5 265.5,885.5" fill="none" stroke="#000" stroke-width="1"/>
<polyline points="252.5,891.5 265.5,891.5" fill="none" stroke="#000" stroke-width="1"/>
<path d="M147.57,893.43 L147.57,888.18 L150.31,888.18 L151.22,889.23 L151.22,890.28 L150.31,891.33 L147.57,891.33 M149.4,891.33 L151.22,893.43 M153.42,888.18 L156.15,888.18 L157.06,889.23 L157.06,892.38 L156.15,893.43 L153.42,893.43 L153.42,888.18 M159.26,888.18 L161.08,890.8 L162.91,888.18 M161.08,890.8 L161.08,893.43 M165.11,888.18 L165.11,893.43 L167.84,893.43 L168.75,892.38 L168.75,891.64 L167.84,890.8 L165.11,890.8 M165.11,888.18 L167.84,888.18 L168.75,889.02 L168.75,889.96 L167.84,890.8 M170.31,893.43 L175.23,893.43 M176.79,893.43 L176.79,889.23 L177.71,888.18 L179.53,888.18 L180.44,889.23 L180.44,893.43 M176.79,891.33 L180.44,891.33 M182.64,888.18 L185.37,888.18 L186.28,889.23 L186.28,892.38 L185.37,893.43 L182.64,893.43 L182.64,888.18 M192.12,889.23 L191.21,888.18 L189.39,888.18 L188.48,889.23 L188.48,892.38 L189.39,893.43 L191.21,893.43 L192.12,892.38" fill="none" stroke="#000" stroke-width="1.15" stroke-linejoin="miter" stroke-miterlimit="1.5"/>
<polyline points="192.5,894.5 209.5,894.5 209.5,897.5 265.5,897.5" fill="none" stroke="#000" stroke-width="1"/>
<path d="M162.92,898.52 L162.01,897.48 L160.19,897.48 L159.27,898.52 L159.27,901.68 L160.19,902.73 L162.01,902.73 L162.92,901.68 M168.76,898.52 L167.85,897.48 L166.03,897.48 L165.12,898.52 L165.12,899.37 L165.84,900.1 L168.03,900.1 L168.76,900.84 L168.76,901.68 L167.85,902.73 L166.03,902.73 L165.12,901.68 M170.32,902.73 L175.24,902.73 M176.8,902.73 L176.8,898.52 L177.71,897.48 L179.53,897.48 L180.44,898.52 L180.44,902.73 M176.8,900.62 L180.44,900.62 M182.64,897.48 L185.37,897.48 L186.28,898.52 L186.28,901.68 L185.37,902.73 L182.64,902.73 L182.64,897.48 M192.12,898.52 L191.21,897.48 L189.39,897.48 L188.48,898.52 L188.48,901.68 L189.39,902.73 L191.21,902.73 L192.12,901.68" fill="none" stroke="#000" stroke-width="1.15" stroke-linejoin="miter" stroke-miterlimit="1.5"/>
<polyline points="192.5,903.5 265.5,903.5" fill="none" stroke="#000" stroke-width="1"/>
<path d="M151.22,910.52 L150.31,909.48 L148.49,909.48 L147.57,910.52 L147.57,911.37 L148.3,912.1 L150.49,912.1 L151.22,912.84 L151.22,913.68 L150.31,914.73 L148.49,914.73 L147.57,913.68 M157.06,910.52 L156.15,909.48 L154.33,909.48 L153.42,910.52 L153.42,913.68 L154.33,914.73 L156.15,914.73 L157.06,913.68 M159.26,909.48 L159.26,914.73 L162.91,914.73 M165.11,909.48 L165.11,914.73 M168.75,909.48 L165.11,912.62 M166.56,911.58 L168.75,914.73 M170.31,914.73 L175.23,914.73 M176.79,914.73 L176.79,910.52 L177.71,909.48 L179.53,909.48 L180.44,910.52 L180.44,914.73 M176.79,912.62 L180.44,912.62 M182.64,909.48 L185.37,909.48 L186.28,910.52 L186.28,913.68 L185.37,914.73 L182.64,914.73 L182.64,909.48 M192.12,910.52 L191.21,909.48 L189.39,909.48 L188.48,910.52 L188.48,913.68 L189.39,914.73 L191.21,914.73 L192.12,913.68" fill="none" stroke="#000" stroke-width="1.15" stroke-linejoin="miter" stroke-miterlimit="1.5"/>
<polyline points="192.5,915.5 206.5,915.5 206.5,909.5 265.5,909.5" fill="none" stroke="#000" stroke-width="1"/>
<path d="M153.57,918.78 L156.29,918.78 L157.2,919.83 L157.2,922.98 L156.29,924.03 L153.57,924.03 L153.57,918.78 M160.12,918.78 L162.29,918.78 M161.21,918.78 L161.21,924.03 M160.12,924.03 L162.29,924.03 M165.22,924.03 L165.22,918.78 L168.84,924.03 L168.84,918.78 M170.4,924.03 L175.3,924.03 M176.86,924.03 L176.86,919.83 L177.77,918.78 L179.58,918.78 L180.48,919.83 L180.48,924.03 M176.86,921.93 L180.48,921.93 M182.68,918.78 L185.4,918.78 L186.3,919.83 L186.3,922.98 L185.4,924.03 L182.68,924.03 L182.68,918.78 M192.12,919.83 L191.22,918.78 L189.41,918.78 L188.5,919.83 L188.5,922.98 L189.41,924.03 L191.22,924.03 L192.12,922.98" fill="none" stroke="#000" stroke-width="1.15" stroke-linejoin="miter" stroke-miterlimit="1.5"/>
<polyline points="192.5,925.5 213.5,925.5 213.5,916.5 265.5,916.5" fill="none" stroke="#000" stroke-width="1"/>
<path d="M147.57,927.98 L150.31,927.98 L151.22,929.02 L151.22,932.18 L150.31,933.23 L147.57,933.23 L147.57,927.98 M154.33,927.98 L156.15,927.98 L157.06,929.02 L157.06,932.18 L156.15,933.23 L154.33,933.23 L153.42,932.18 L153.42,929.02 L154.33,927.98 M159.26,927.98 L159.26,932.18 L160.17,933.23 L161.99,933.23 L162.91,932.18 L162.91,927.98 M165.11,927.98 L168.75,927.98 M166.93,927.98 L166.93,933.23 M170.31,933.23 L175.23,933.23 M176.79,933.23 L176.79,929.02 L177.71,927.98 L179.53,927.98 L180.44,929.02 L180.44,933.23 M176.79,931.12 L180.44,931.12 M182.64,927.98 L185.37,927.98 L186.28,929.02 L186.28,932.18 L185.37,933.23 L182.64,933.23 L182.64,927.98 M192.12,929.02 L191.21,927.98 L189.39,927.98 L188.48,929.02 L188.48,932.18 L189.39,933.23 L191.21,933.23 L192.12,932.18" fill="none" stroke="#000" stroke-width="1.15" stroke-linejoin="miter" stroke-miterlimit="1.5"/>
<polyline points="192.5,934.5 219.5,934.5 219.5,922.5 265.5,922.5" fill="none" stroke="#000" stroke-width="1"/>
<polyline points="1150.5,24.5 1182.5,24.5" fill="none" stroke="#000" stroke-width="1"/>
<polygon points="1182,24.6 1185.3,21.8 1196.7,21.8 1196.7,27.4 1185.3,27.4" fill="none" stroke="#111" stroke-width="1"/>
<text x="1189.7" y="26.29" font-size="5.4" fill="#8a7890" font-weight="bold" textLength="5" lengthAdjust="spacingAndGlyphs" style="font-family:'Liberation Sans', sans-serif">IN</text>
<path d="M1202.08,22.18 L1204.73,22.18 L1205.62,23.14 L1205.62,26.05 L1204.73,27.02 L1202.08,27.02 L1202.08,22.18 M1207.8,22.18 L1211.35,22.18 L1209.57,24.31 L1210.46,24.31 L1211.35,25.09 L1211.35,26.05 L1210.46,27.02 L1208.69,27.02 L1207.8,26.05 M1215.03,26.64 L1215.57,26.64 M1222.36,22.18 L1220.14,22.18 L1219.25,23.14 L1219.25,26.05 L1220.14,27.02 L1221.91,27.02 L1222.8,26.05 L1222.8,25.28 L1221.91,24.6 L1219.25,24.6 M1224.98,22.18 L1224.98,24.6 L1226.75,27.02 L1228.53,24.6 L1228.53,22.18" fill="none" stroke="#000" stroke-width="1.15" stroke-linejoin="miter" stroke-miterlimit="1.5"/>
<polyline points="1150.5,33.5 1182.5,33.5" fill="none" stroke="#000" stroke-width="1"/>
<polygon points="1182,33.1 1185.3,30.3 1196.7,30.3 1196.7,35.9 1185.3,35.9" fill="none" stroke="#111" stroke-width="1"/>
<text x="1189.7" y="34.79" font-size="5.4" fill="#8a7890" font-weight="bold" textLength="5" lengthAdjust="spacingAndGlyphs" style="font-family:'Liberation Sans', sans-serif">IN</text>
<path d="M1202.08,30.68 L1204.74,30.68 L1205.63,31.64 L1205.63,34.55 L1204.74,35.52 L1202.08,35.52 L1202.08,30.68 M1207.81,30.68 L1207.81,33.1 L1209.59,35.52 L1211.36,33.1 L1211.36,30.68 M1213.55,30.68 L1216.21,30.68 L1217.1,31.64 L1217.1,34.55 L1216.21,35.52 L1213.55,35.52 L1213.55,30.68 M1219.28,30.68 L1221.95,30.68 L1222.83,31.64 L1222.83,34.55 L1221.95,35.52 L1219.28,35.52 L1219.28,30.68 M1224.39,35.52 L1229.19,35.52 M1230.75,35.52 L1230.75,31.64 L1231.64,30.68 L1233.42,30.68 L1234.3,31.64 L1234.3,35.52 M1230.75,33.59 L1234.3,33.59 M1236.49,30.68 L1239.15,30.68 L1240.04,31.64 L1240.04,34.55 L1239.15,35.52 L1236.49,35.52 L1236.49,30.68 M1245.77,31.64 L1244.89,30.68 L1243.11,30.68 L1242.22,31.64 L1242.22,34.55 L1243.11,35.52 L1244.89,35.52 L1245.77,34.55" fill="none" stroke="#000" stroke-width="1.15" stroke-linejoin="miter" stroke-miterlimit="1.5"/>
<polyline points="1150.5,41.5 1182.5,41.5" fill="none" stroke="#000" stroke-width="1"/>
<polygon points="1182,41.9 1185.3,39.1 1196.7,39.1 1196.7,44.7 1185.3,44.7" fill="none" stroke="#111" stroke-width="1"/>
<text x="1189.7" y="43.59" font-size="5.4" fill="#8a7890" font-weight="bold" textLength="5" lengthAdjust="spacingAndGlyphs" style="font-family:'Liberation Sans', sans-serif">IN</text>
<path d="M1203.85,40.06 L1203.85,43.74 M1202.08,41.9 L1205.62,41.9 M1207.8,39.48 L1211.35,39.48 L1209.57,41.61 L1210.46,41.61 L1211.35,42.39 L1211.35,43.36 L1210.46,44.33 L1208.69,44.33 L1207.8,43.36 M1215.03,43.94 L1215.57,43.94 M1219.25,39.48 L1222.8,39.48 L1221.03,41.61 L1221.91,41.61 L1222.8,42.39 L1222.8,43.36 L1221.91,44.33 L1220.14,44.33 L1219.25,43.36 M1224.98,39.48 L1224.98,41.9 L1226.75,44.33 L1228.53,41.9 L1228.53,39.48" fill="none" stroke="#000" stroke-width="1.15" stroke-linejoin="miter" stroke-miterlimit="1.5"/>
<polyline points="1150.5,51.5 1182.5,51.5" fill="none" stroke="#000" stroke-width="1"/>
<polygon points="1182,51.2 1185.3,48.4 1196.7,48.4 1196.7,54 1185.3,54" fill="none" stroke="#111" stroke-width="1"/>
<text x="1189.7" y="52.89" font-size="5.4" fill="#8a7890" font-weight="bold" textLength="5" lengthAdjust="spacingAndGlyphs" style="font-family:'Liberation Sans', sans-serif">IN</text>
<path d="M1205.63,48.78 L1202.08,48.78 L1202.08,50.72 L1204.74,50.72 L1205.63,51.69 L1205.63,52.66 L1204.74,53.63 L1202.08,53.63 M1207.81,48.78 L1207.81,51.2 L1209.58,53.63 L1211.36,51.2 L1211.36,48.78 M1212.92,53.63 L1217.71,53.63 M1222.83,48.78 L1219.27,48.78 L1219.27,53.63 M1219.27,51.2 L1221.94,51.2 M1225.01,53.63 L1225.01,48.78 L1227.67,48.78 L1228.56,49.75 L1228.56,50.72 L1227.67,51.69 L1225.01,51.69 M1234.29,49.75 L1233.4,48.78 L1231.63,48.78 L1230.74,49.75 L1230.74,52.66 L1231.63,53.63 L1233.4,53.63 L1234.29,52.66 L1234.29,51.39 L1232.69,51.39 M1236.47,53.63 L1236.47,49.75 L1237.36,48.78 L1239.14,48.78 L1240.02,49.75 L1240.02,53.63 M1236.47,51.69 L1240.02,51.69" fill="none" stroke="#000" stroke-width="1.15" stroke-linejoin="miter" stroke-miterlimit="1.5"/>
<polyline points="1150.5,60.5 1182.5,60.5" fill="none" stroke="#000" stroke-width="1"/>
<polygon points="1182,60.8 1185.3,58 1196.7,58 1196.7,63.6 1185.3,63.6" fill="none" stroke="#111" stroke-width="1"/>
<text x="1189.7" y="62.49" font-size="5.4" fill="#8a7890" font-weight="bold" textLength="5" lengthAdjust="spacingAndGlyphs" style="font-family:'Liberation Sans', sans-serif">IN</text>
<path d="M1202.08,58.38 L1202.08,60.8 L1203.85,63.23 L1205.62,60.8 L1205.62,58.38 M1207.8,58.38 L1210.46,58.38 L1211.35,59.34 L1211.35,62.26 L1210.46,63.23 L1207.8,63.23 L1207.8,58.38 M1213.53,58.38 L1216.19,58.38 L1217.07,59.34 L1217.07,62.26 L1216.19,63.23 L1213.53,63.23 L1213.53,58.38 M1219.96,58.38 L1222.09,58.38 M1221.03,58.38 L1221.03,63.23 M1219.96,63.23 L1222.09,63.23 M1225.87,58.38 L1227.64,58.38 L1228.53,59.34 L1228.53,62.26 L1227.64,63.23 L1225.87,63.23 L1224.98,62.26 L1224.98,59.34 L1225.87,58.38" fill="none" stroke="#000" stroke-width="1.15" stroke-linejoin="miter" stroke-miterlimit="1.5"/>
<polygon points="1182,78.9 1185.3,76.1 1196.7,76.1 1196.7,81.7 1185.3,81.7" fill="none" stroke="#111" stroke-width="1"/>
<text x="1189.7" y="80.59" font-size="5.4" fill="#8a7890" font-weight="bold" textLength="5" lengthAdjust="spacingAndGlyphs" style="font-family:'Liberation Sans', sans-serif">IN</text>
<path d="M1202.61,77.45 L1201.72,76.48 L1199.96,76.48 L1199.08,77.45 L1199.08,80.36 L1199.96,81.33 L1201.72,81.33 L1202.61,80.36 L1202.61,79.09 L1201.02,79.09 M1204.78,81.33 L1204.78,76.48 L1208.32,81.33 L1208.32,76.48 M1210.49,76.48 L1213.14,76.48 L1214.02,77.45 L1214.02,80.36 L1213.14,81.33 L1210.49,81.33 L1210.49,76.48" fill="none" stroke="#000" stroke-width="1.15" stroke-linejoin="miter" stroke-miterlimit="1.5"/>
<polyline points="1182.5,78.5 1173.5,78.5" fill="none" stroke="#000" stroke-width="1"/>
<polyline points="1160.5,76.5 1173.5,76.5" fill="none" stroke="#000" stroke-width="1"/>
<polyline points="1160.5,81.5 1173.5,81.5" fill="none" stroke="#000" stroke-width="1"/>
<polyline points="1160.5,78.5 1147.5,78.5 1147.5,90.5" fill="none" stroke="#000" stroke-width="1"/>
<polyline points="1142.5,90.5 1153.5,90.5" fill="none" stroke="#000" stroke-width="1"/>
<polyline points="1143.5,93.5 1151.5,93.5" fill="none" stroke="#000" stroke-width="1"/>
<polyline points="1145.5,95.5 1149.5,95.5" fill="none" stroke="#000" stroke-width="1"/>
<polygon points="1182,115.6 1185.3,112.8 1196.7,112.8 1196.7,118.4 1185.3,118.4" fill="none" stroke="#111" stroke-width="1"/>
<text x="1189.7" y="117.29" font-size="5.4" fill="#8a7890" font-weight="bold" textLength="5" lengthAdjust="spacingAndGlyphs" style="font-family:'Liberation Sans', sans-serif">IN</text>
<path d="M1202.08,118.02 L1202.08,114.14 L1202.96,113.17 L1204.73,113.17 L1205.62,114.14 L1205.62,118.02 M1202.08,116.08 L1205.62,116.08 M1211.34,114.14 L1210.45,113.17 L1208.68,113.17 L1207.79,114.14 L1207.79,117.05 L1208.68,118.02 L1210.45,118.02 L1211.34,117.05 L1211.34,115.79 L1209.74,115.79 M1213.51,118.02 L1213.51,113.17 L1217.06,118.02 L1217.06,113.17 M1219.23,113.17 L1221.89,113.17 L1222.78,114.14 L1222.78,117.05 L1221.89,118.02 L1219.23,118.02 L1219.23,113.17" fill="none" stroke="#000" stroke-width="1.15" stroke-linejoin="miter" stroke-miterlimit="1.5"/>
<polyline points="1182.5,115.5 1173.5,115.5" fill="none" stroke="#000" stroke-width="1"/>
<polyline points="1160.5,113.5 1173.5,113.5" fill="none" stroke="#000" stroke-width="1"/>
<polyline points="1160.5,117.5 1173.5,117.5" fill="none" stroke="#000" stroke-width="1"/>
<polyline points="1160.5,115.5 1147.5,115.5 1147.5,127.5" fill="none" stroke="#000" stroke-width="1"/>
<polygon points="1141.5,128 1153.5,128 1147.5,134.3" fill="none" stroke="#000" stroke-width="1"/>
<text x="1241.9" y="256.81" font-size="4.6" fill="#7a6658" text-anchor="middle" font-weight="bold" textLength="7" lengthAdjust="spacingAndGlyphs" style="font-family:'Liberation Sans', sans-serif">J19</text>
<rect x="1233.5" y="260.5" width="19" height="43" fill="none" stroke="#222" stroke-width="1.2"/>
<text x="1226" y="309.9" font-size="5.43" fill="#111" font-weight="bold" textLength="32.5" lengthAdjust="spacingAndGlyphs" style="font-family:'Liberation Sans', sans-serif">PBC06SAAN</text>
<text x="1223.5" y="265.41" font-size="4.6" fill="#3f4a78" text-anchor="end" font-weight="bold" style="font-family:'Liberation Sans', sans-serif">1</text>
<rect x="1240.5" y="264.5" width="4" height="4" fill="none" stroke="#000" stroke-width="1"/>
<text x="1223.5" y="271.47" font-size="4.6" fill="#3f4a78" text-anchor="end" font-weight="bold" style="font-family:'Liberation Sans', sans-serif">2</text>
<circle cx="1242.4" cy="272.56" r="1.8" fill="none" stroke="#000" stroke-width="1"/>
<text x="1223.5" y="277.53" font-size="4.6" fill="#3f4a78" text-anchor="end" font-weight="bold" style="font-family:'Liberation Sans', sans-serif">3</text>
<circle cx="1242.4" cy="278.62" r="1.8" fill="none" stroke="#000" stroke-width="1"/>
<text x="1223.5" y="283.59" font-size="4.6" fill="#3f4a78" text-anchor="end" font-weight="bold" style="font-family:'Liberation Sans', sans-serif">4</text>
<circle cx="1242.4" cy="284.68" r="1.8" fill="none" stroke="#000" stroke-width="1"/>
<text x="1223.5" y="289.65" font-size="4.6" fill="#3f4a78" text-anchor="end" font-weight="bold" style="font-family:'Liberation Sans', sans-serif">5</text>
<circle cx="1242.4" cy="290.74" r="1.8" fill="none" stroke="#000" stroke-width="1"/>
<text x="1223.5" y="295.71" font-size="4.6" fill="#3f4a78" text-anchor="end" font-weight="bold" style="font-family:'Liberation Sans', sans-serif">6</text>
<circle cx="1242.4" cy="296.8" r="1.8" fill="none" stroke="#000" stroke-width="1"/>
<polyline points="1240.5,266.5 1215.5,266.5 1215.5,321.5" fill="none" stroke="#000" stroke-width="1"/>
<polyline points="1209.5,321.5 1220.5,321.5" fill="none" stroke="#000" stroke-width="1"/>
<polyline points="1211.5,323.5 1219.5,323.5" fill="none" stroke="#000" stroke-width="1"/>
<polyline points="1213.5,326.5 1217.5,326.5" fill="none" stroke="#000" stroke-width="1"/>
<circle cx="1215.3" cy="296.8" r="1.9" fill="#000"/>
<polyline points="1215.5,296.5 1240.5,296.5" fill="none" stroke="#000" stroke-width="1"/>
<path d="M1111.72,267.5 L1110.78,266.57 L1108.91,266.57 L1107.98,267.5 L1107.98,268.25 L1108.72,268.9 L1110.97,268.9 L1111.72,269.55 L1111.72,270.3 L1110.78,271.22 L1108.91,271.22 L1107.98,270.3 M1114.88,266.57 L1116.75,266.57 L1117.69,267.5 L1117.69,270.3 L1116.75,271.22 L1114.88,271.22 L1113.94,270.3 L1113.94,267.5 L1114.88,266.57 M1119.26,271.22 L1124.31,271.22 M1129.63,266.57 L1125.88,266.57 L1125.88,271.22 L1129.63,271.22 M1125.88,268.9 L1128.69,268.9 M1135.6,266.57 L1131.85,266.57 L1131.85,271.22 L1135.6,271.22 M1131.85,268.9 L1134.66,268.9 M1137.82,271.22 L1137.82,266.57 L1140.63,266.57 L1141.57,267.5 L1141.57,268.44 L1140.63,269.37 L1137.82,269.37 M1143.79,271.22 L1143.79,266.57 L1146.6,266.57 L1147.54,267.5 L1147.54,268.44 L1146.6,269.37 L1143.79,269.37 M1145.67,269.37 L1147.54,271.22 M1150.7,266.57 L1152.57,266.57 L1153.51,267.5 L1153.51,270.3 L1152.57,271.22 L1150.7,271.22 L1149.76,270.3 L1149.76,267.5 L1150.7,266.57 M1155.73,271.22 L1155.73,266.57 L1157.6,268.9 L1159.48,266.57 L1159.48,271.22 M1161.05,271.22 L1166.1,271.22 M1171.42,266.57 L1167.67,266.57 L1167.67,271.22 M1167.67,268.9 L1170.48,268.9 M1173.64,271.22 L1173.64,266.57 L1176.45,266.57 L1177.39,267.5 L1177.39,268.44 L1176.45,269.37 L1173.64,269.37 M1183.36,267.5 L1182.42,266.57 L1180.55,266.57 L1179.61,267.5 L1179.61,270.3 L1180.55,271.22 L1182.42,271.22 L1183.36,270.3 L1183.36,269.09 L1181.67,269.09 M1185.58,271.22 L1185.58,267.5 L1186.52,266.57 L1188.39,266.57 L1189.33,267.5 L1189.33,271.22 M1185.58,269.37 L1189.33,269.37" fill="none" stroke="#000" stroke-width="1.15" stroke-linejoin="miter" stroke-miterlimit="1.5"/>
<polyline points="1188.5,272.5 1240.5,272.5" fill="none" stroke="#000" stroke-width="1"/>
<path d="M1111.72,276.86 L1110.78,275.97 L1108.91,275.97 L1107.98,276.86 L1107.98,277.58 L1108.72,278.2 L1110.97,278.2 L1111.72,278.82 L1111.72,279.53 L1110.78,280.42 L1108.91,280.42 L1107.98,279.53 M1114.69,275.97 L1116.94,275.97 M1115.82,275.97 L1115.82,280.42 M1114.69,280.42 L1116.94,280.42 M1119.26,280.42 L1124.31,280.42 M1129.63,275.97 L1125.88,275.97 L1125.88,280.42 L1129.63,280.42 M1125.88,278.2 L1128.69,278.2 M1135.6,275.97 L1131.85,275.97 L1131.85,280.42 L1135.6,280.42 M1131.85,278.2 L1134.66,278.2 M1137.82,280.42 L1137.82,275.97 L1140.63,275.97 L1141.57,276.86 L1141.57,277.75 L1140.63,278.64 L1137.82,278.64 M1143.79,280.42 L1143.79,275.97 L1146.6,275.97 L1147.54,276.86 L1147.54,277.75 L1146.6,278.64 L1143.79,278.64 M1145.67,278.64 L1147.54,280.42 M1150.7,275.97 L1152.57,275.97 L1153.51,276.86 L1153.51,279.53 L1152.57,280.42 L1150.7,280.42 L1149.76,279.53 L1149.76,276.86 L1150.7,275.97 M1155.73,280.42 L1155.73,275.97 L1157.6,278.2 L1159.48,275.97 L1159.48,280.42 M1161.05,280.42 L1166.1,280.42 M1171.42,275.97 L1167.67,275.97 L1167.67,280.42 M1167.67,278.2 L1170.48,278.2 M1173.64,280.42 L1173.64,275.97 L1176.45,275.97 L1177.39,276.86 L1177.39,277.75 L1176.45,278.64 L1173.64,278.64 M1183.36,276.86 L1182.42,275.97 L1180.55,275.97 L1179.61,276.86 L1179.61,279.53 L1180.55,280.42 L1182.42,280.42 L1183.36,279.53 L1183.36,278.38 L1181.67,278.38 M1185.58,280.42 L1185.58,276.86 L1186.52,275.97 L1188.39,275.97 L1189.33,276.86 L1189.33,280.42 M1185.58,278.64 L1189.33,278.64" fill="none" stroke="#000" stroke-width="1.15" stroke-linejoin="miter" stroke-miterlimit="1.5"/>
<polyline points="1188.5,281.5 1194.5,281.5 1194.5,278.5 1240.5,278.5" fill="none" stroke="#000" stroke-width="1"/>
<path d="M1105.92,285.86 L1104.98,284.97 L1103.11,284.97 L1102.17,285.86 L1102.17,286.58 L1102.92,287.2 L1105.17,287.2 L1105.92,287.82 L1105.92,288.53 L1104.98,289.42 L1103.11,289.42 L1102.17,288.53 M1111.88,285.86 L1110.95,284.97 L1109.08,284.97 L1108.14,285.86 L1108.14,288.53 L1109.08,289.42 L1110.95,289.42 L1111.88,288.53 M1114.1,284.97 L1114.1,289.42 M1117.85,284.97 L1114.1,287.64 M1115.6,286.75 L1117.85,289.42 M1119.42,289.42 L1124.47,289.42 M1129.78,284.97 L1126.03,284.97 L1126.03,289.42 L1129.78,289.42 M1126.03,287.2 L1128.84,287.2 M1135.74,284.97 L1132,284.97 L1132,289.42 L1135.74,289.42 M1132,287.2 L1134.81,287.2 M1137.96,289.42 L1137.96,284.97 L1140.77,284.97 L1141.71,285.86 L1141.71,286.75 L1140.77,287.64 L1137.96,287.64 M1143.93,289.42 L1143.93,284.97 L1146.74,284.97 L1147.67,285.86 L1147.67,286.75 L1146.74,287.64 L1143.93,287.64 M1145.8,287.64 L1147.67,289.42 M1150.83,284.97 L1152.7,284.97 L1153.64,285.86 L1153.64,288.53 L1152.7,289.42 L1150.83,289.42 L1149.89,288.53 L1149.89,285.86 L1150.83,284.97 M1155.86,289.42 L1155.86,284.97 L1157.73,287.2 L1159.6,284.97 L1159.6,289.42 M1161.17,289.42 L1166.22,289.42 M1171.53,284.97 L1167.79,284.97 L1167.79,289.42 M1167.79,287.2 L1170.59,287.2 M1173.75,289.42 L1173.75,284.97 L1176.56,284.97 L1177.5,285.86 L1177.5,286.75 L1176.56,287.64 L1173.75,287.64 M1183.46,285.86 L1182.52,284.97 L1180.65,284.97 L1179.72,285.86 L1179.72,288.53 L1180.65,289.42 L1182.52,289.42 L1183.46,288.53 L1183.46,287.38 L1181.78,287.38 M1185.68,289.42 L1185.68,285.86 L1186.62,284.97 L1188.49,284.97 L1189.42,285.86 L1189.42,289.42 M1185.68,287.64 L1189.42,287.64" fill="none" stroke="#000" stroke-width="1.15" stroke-linejoin="miter" stroke-miterlimit="1.5"/>
<polyline points="1188.5,290.5 1199.5,290.5 1199.5,284.5 1240.5,284.5" fill="none" stroke="#000" stroke-width="1"/>
<path d="M1111.72,295.32 L1110.78,294.38 L1108.91,294.38 L1107.98,295.32 L1107.98,298.18 L1108.91,299.12 L1110.78,299.12 L1111.72,298.18 M1117.69,295.32 L1116.75,294.38 L1114.88,294.38 L1113.94,295.32 L1113.94,296.08 L1114.69,296.75 L1116.94,296.75 L1117.69,297.42 L1117.69,298.18 L1116.75,299.12 L1114.88,299.12 L1113.94,298.18 M1119.26,299.12 L1124.31,299.12 M1129.63,294.38 L1125.88,294.38 L1125.88,299.12 L1129.63,299.12 M1125.88,296.75 L1128.69,296.75 M1135.6,294.38 L1131.85,294.38 L1131.85,299.12 L1135.6,299.12 M1131.85,296.75 L1134.66,296.75 M1137.82,299.12 L1137.82,294.38 L1140.63,294.38 L1141.57,295.32 L1141.57,296.27 L1140.63,297.23 L1137.82,297.23 M1143.79,299.12 L1143.79,294.38 L1146.6,294.38 L1147.54,295.32 L1147.54,296.27 L1146.6,297.23 L1143.79,297.23 M1145.67,297.23 L1147.54,299.12 M1150.7,294.38 L1152.57,294.38 L1153.51,295.32 L1153.51,298.18 L1152.57,299.12 L1150.7,299.12 L1149.76,298.18 L1149.76,295.32 L1150.7,294.38 M1155.73,299.12 L1155.73,294.38 L1157.6,296.75 L1159.48,294.38 L1159.48,299.12 M1161.05,299.12 L1166.1,299.12 M1171.42,294.38 L1167.67,294.38 L1167.67,299.12 M1167.67,296.75 L1170.48,296.75 M1173.64,299.12 L1173.64,294.38 L1176.45,294.38 L1177.39,295.32 L1177.39,296.27 L1176.45,297.23 L1173.64,297.23 M1183.36,295.32 L1182.42,294.38 L1180.55,294.38 L1179.61,295.32 L1179.61,298.18 L1180.55,299.12 L1182.42,299.12 L1183.36,298.18 L1183.36,296.94 L1181.67,296.94 M1185.58,299.12 L1185.58,295.32 L1186.52,294.38 L1188.39,294.38 L1189.33,295.32 L1189.33,299.12 M1185.58,297.23 L1189.33,297.23" fill="none" stroke="#000" stroke-width="1.15" stroke-linejoin="miter" stroke-miterlimit="1.5"/>
<polyline points="1188.5,300.5 1206.5,300.5 1206.5,290.5 1240.5,290.5" fill="none" stroke="#000" stroke-width="1"/>
<path d="M1096.25,336.78 L1091.38,336.78 L1091.38,343.03 M1091.38,339.9 L1095.03,339.9 M1098.73,343.03 L1098.73,336.78 L1102.39,336.78 L1103.61,338.03 L1103.61,339.28 L1102.39,340.53 L1098.73,340.53 M1110.96,338.03 L1109.74,336.78 L1107.3,336.78 L1106.08,338.03 L1106.08,341.78 L1107.3,343.03 L1109.74,343.03 L1110.96,341.78 L1110.96,340.15 L1108.76,340.15 M1113.43,343.03 L1113.43,338.03 L1114.65,336.78 L1117.09,336.78 L1118.31,338.03 L1118.31,343.03 M1113.43,340.53 L1118.31,340.53 M1129.12,336.78 L1132.04,336.78 M1130.58,336.78 L1130.58,343.03 M1129.12,343.03 L1132.04,343.03 M1135.49,343.03 L1135.49,336.78 L1140.37,343.03 L1140.37,336.78 M1143.82,336.78 L1146.75,336.78 M1145.29,336.78 L1145.29,343.03 M1143.82,343.03 L1146.75,343.03" fill="none" stroke="#000" stroke-width="1.15" stroke-linejoin="miter" stroke-miterlimit="1.5"/>
<path d="M1134.58,355.57 L1134.58,358 L1136.53,360.43 L1138.48,358 L1138.48,355.57 M1140.74,355.57 L1143.66,355.57 L1144.64,356.55 L1144.64,359.45 L1143.66,360.43 L1140.74,360.43 L1140.74,355.57 M1146.9,355.57 L1149.83,355.57 L1150.8,356.55 L1150.8,359.45 L1149.83,360.43 L1146.9,360.43 L1146.9,355.57 M1153.84,355.57 L1156.18,355.57 M1155.01,355.57 L1155.01,360.43 M1153.84,360.43 L1156.18,360.43 M1160.2,355.57 L1162.15,355.57 L1163.13,356.55 L1163.13,359.45 L1162.15,360.43 L1160.2,360.43 L1159.22,359.45 L1159.22,356.55 L1160.2,355.57" fill="none" stroke="#000" stroke-width="1.15" stroke-linejoin="miter" stroke-miterlimit="1.5"/>
<polyline points="1142.5,361.5 1123.5,361.5 1123.5,401.5" fill="none" stroke="#000" stroke-width="1"/>
<circle cx="1123.7" cy="373.2" r="1.9" fill="#000"/>
<circle cx="1123.7" cy="386" r="1.9" fill="#000"/>
<polyline points="1123.5,373.5 1153.5,373.5" fill="none" stroke="#000" stroke-width="1"/>
<polyline points="1153.5,369.5 1153.5,376.5" fill="none" stroke="#000" stroke-width="1.2"/>
<polyline points="1160.5,369.5 1160.5,376.5" fill="none" stroke="#000" stroke-width="1.2"/>
<polyline points="1160.5,373.5 1172.5,373.5" fill="none" stroke="#000" stroke-width="1"/>
<polyline points="1123.5,386.5 1153.5,386.5" fill="none" stroke="#000" stroke-width="1"/>
<polyline points="1153.5,382.5 1153.5,389.5" fill="none" stroke="#000" stroke-width="1.2"/>
<polyline points="1160.5,382.5 1160.5,389.5" fill="none" stroke="#000" stroke-width="1.2"/>
<polyline points="1160.5,386.5 1172.5,386.5" fill="none" stroke="#000" stroke-width="1"/>
<polyline points="1172.5,373.5 1172.5,394.5" fill="none" stroke="#000" stroke-width="1"/>
<circle cx="1172.3" cy="386" r="1.9" fill="#000"/>
<polyline points="1166.5,394.5 1177.5,394.5" fill="none" stroke="#000" stroke-width="1"/>
<polyline points="1168.5,396.5 1176.5,396.5" fill="none" stroke="#000" stroke-width="1"/>
<polyline points="1170.5,399.5 1174.5,399.5" fill="none" stroke="#000" stroke-width="1"/>
<text x="1138.5" y="370.8" font-size="5.14" fill="#111" font-weight="bold" textLength="9" lengthAdjust="spacingAndGlyphs" style="font-family:'Liberation Sans', sans-serif">1UF</text>
<text x="1130.6" y="383.4" font-size="5.14" fill="#111" font-weight="bold" textLength="17.7" lengthAdjust="spacingAndGlyphs" style="font-family:'Liberation Sans', sans-serif">0.1UF</text>
<text x="1161.5" y="371.25" font-size="5" fill="#7a6658" font-weight="bold" textLength="7" lengthAdjust="spacingAndGlyphs" style="font-family:'Liberation Sans', sans-serif">C41</text>
<text x="1161.5" y="383.75" font-size="5" fill="#7a6658" font-weight="bold" textLength="7" lengthAdjust="spacingAndGlyphs" style="font-family:'Liberation Sans', sans-serif">C42</text>
<rect x="1104.5" y="401.5" width="37" height="37" fill="none" stroke="#333" stroke-width="1.3"/>
<text x="1095.5" y="408.82" font-size="5.2" fill="#3f4a78" font-weight="bold" style="font-family:'Liberation Sans', sans-serif">5</text>
<text x="1106" y="412.88" font-size="4.8" fill="#5a5262" font-weight="bold" style="font-family:'Liberation Sans', sans-serif">CS</text>
<text x="1095.5" y="417.62" font-size="5.2" fill="#3f4a78" font-weight="bold" style="font-family:'Liberation Sans', sans-serif">4</text>
<text x="1106" y="421.68" font-size="4.8" fill="#5a5262" font-weight="bold" style="font-family:'Liberation Sans', sans-serif">CLK</text>
<text x="1095.5" y="426.52" font-size="5.2" fill="#3f4a78" font-weight="bold" style="font-family:'Liberation Sans', sans-serif">3</text>
<text x="1106" y="430.58" font-size="4.8" fill="#5a5262" font-weight="bold" style="font-family:'Liberation Sans', sans-serif">DI</text>
<text x="1138.5" y="421.68" font-size="4.8" fill="#5a5262" text-anchor="end" font-weight="bold" style="font-family:'Liberation Sans', sans-serif">DO</text>
<text x="1150.5" y="417.82" font-size="5.2" fill="#3f4a78" font-weight="bold" style="font-family:'Liberation Sans', sans-serif">1</text>
<text x="1123" y="406.48" font-size="4.8" fill="#5a5262" text-anchor="middle" font-weight="bold" style="font-family:'Liberation Sans', sans-serif">VCC</text>
<text x="1123" y="436.18" font-size="4.8" fill="#5a5262" text-anchor="middle" font-weight="bold" style="font-family:'Liberation Sans', sans-serif">VSS</text>
<text x="1128.5" y="395.11" font-size="4.6" fill="#3f4a78" font-weight="bold" style="font-family:'Liberation Sans', sans-serif">6</text>
<text x="1128.5" y="451.11" font-size="4.6" fill="#3f4a78" font-weight="bold" style="font-family:'Liberation Sans', sans-serif">2</text>
<polyline points="1141.5,419.5 1187.5,419.5" fill="none" stroke="#000" stroke-width="1"/>
<path d="M1187.07,411.56 L1186.15,410.47 L1184.3,410.47 L1183.38,411.56 L1183.38,412.44 L1184.11,413.2 L1186.33,413.2 L1187.07,413.96 L1187.07,414.83 L1186.15,415.92 L1184.3,415.92 L1183.38,414.83 M1190.21,410.47 L1192.06,410.47 L1192.98,411.56 L1192.98,414.83 L1192.06,415.92 L1190.21,415.92 L1189.29,414.83 L1189.29,411.56 L1190.21,410.47 M1194.55,415.92 L1199.54,415.92 M1204.81,410.47 L1201.11,410.47 L1201.11,415.92 L1204.81,415.92 M1201.11,413.2 L1203.88,413.2 M1210.72,410.47 L1207.02,410.47 L1207.02,415.92 L1210.72,415.92 M1207.02,413.2 L1209.8,413.2 M1212.93,415.92 L1212.93,410.47 L1215.71,410.47 L1216.63,411.56 L1216.63,412.65 L1215.71,413.74 L1212.93,413.74 M1218.85,415.92 L1218.85,410.47 L1221.62,410.47 L1222.54,411.56 L1222.54,412.65 L1221.62,413.74 L1218.85,413.74 M1220.69,413.74 L1222.54,415.92 M1225.68,410.47 L1227.53,410.47 L1228.45,411.56 L1228.45,414.83 L1227.53,415.92 L1225.68,415.92 L1224.76,414.83 L1224.76,411.56 L1225.68,410.47 M1230.67,415.92 L1230.67,410.47 L1232.52,413.2 L1234.37,410.47 L1234.37,415.92 M1235.93,415.92 L1240.93,415.92 M1246.19,410.47 L1242.49,410.47 L1242.49,415.92 M1242.49,413.2 L1245.27,413.2 M1248.4,415.92 L1248.4,410.47 L1251.18,410.47 L1252.1,411.56 L1252.1,412.65 L1251.18,413.74 L1248.4,413.74 M1258.01,411.56 L1257.09,410.47 L1255.24,410.47 L1254.32,411.56 L1254.32,414.83 L1255.24,415.92 L1257.09,415.92 L1258.01,414.83 L1258.01,413.42 L1256.35,413.42 M1260.23,415.92 L1260.23,411.56 L1261.15,410.47 L1263,410.47 L1263.92,411.56 L1263.92,415.92 M1260.23,413.74 L1263.92,413.74" fill="none" stroke="#000" stroke-width="1.15" stroke-linejoin="miter" stroke-miterlimit="1.5"/>
<text x="1161" y="431.91" font-size="4.6" fill="#7a6658" text-anchor="middle" font-weight="bold" textLength="7" lengthAdjust="spacingAndGlyphs" style="font-family:'Liberation Sans', sans-serif">U12</text>
<text x="1147.3" y="438.6" font-size="5.71" fill="#111" font-weight="bold" textLength="50.2" lengthAdjust="spacingAndGlyphs" style="font-family:'Liberation Sans', sans-serif">93LC66BT-I/OT</text>
<polyline points="1123.5,438.5 1123.5,455.5" fill="none" stroke="#000" stroke-width="1"/>
<polyline points="1118.5,455.5 1129.5,455.5" fill="none" stroke="#000" stroke-width="1"/>
<polyline points="1119.5,458.5 1127.5,458.5" fill="none" stroke="#000" stroke-width="1"/>
<polyline points="1121.5,460.5 1125.5,460.5" fill="none" stroke="#000" stroke-width="1"/>
<path d="M961.58,565.64 L960.66,564.48 L958.8,564.48 L957.88,565.64 L957.88,566.58 L958.62,567.4 L960.84,567.4 L961.58,568.22 L961.58,569.15 L960.66,570.33 L958.8,570.33 L957.88,569.15 M963.8,564.48 L965.65,567.4 L967.51,564.48 M965.65,567.4 L965.65,570.33 M969.72,570.33 L969.72,564.48 L973.43,570.33 L973.43,564.48 M979.36,565.64 L978.43,564.48 L976.57,564.48 L975.65,565.64 L975.65,569.15 L976.57,570.33 L978.43,570.33 L979.36,569.15 M991.2,565.64 L990.28,564.48 L988.42,564.48 L987.5,565.64 L987.5,569.15 L988.42,570.33 L990.28,570.33 L991.2,569.15 M993.42,564.48 L993.42,570.33 L997.13,570.33 M999.34,564.48 L999.34,570.33 M1003.05,564.48 L999.34,567.99 M1000.83,566.82 L1003.05,570.33 M1011.93,564.48 L1014.16,564.48 M1013.05,564.48 L1013.05,570.33 M1011.93,570.33 L1014.16,570.33 M1017.12,570.33 L1017.12,564.48 L1020.83,570.33 L1020.83,564.48" fill="none" stroke="#000" stroke-width="1.15" stroke-linejoin="miter" stroke-miterlimit="1.5"/>
<text x="985.4" y="578.81" font-size="4.6" fill="#7a6658" text-anchor="middle" font-weight="bold" textLength="7" lengthAdjust="spacingAndGlyphs" style="font-family:'Liberation Sans', sans-serif">J31</text>
<text x="967.9" y="585.8" font-size="5.71" fill="#111" font-weight="bold" textLength="35.1" lengthAdjust="spacingAndGlyphs" style="font-family:'Liberation Sans', sans-serif">73391-0060</text>
<circle cx="985.4" cy="597.7" r="9.2" fill="none" stroke="#000" stroke-width="1"/>
<circle cx="985.4" cy="597.7" r="2.8" fill="none" stroke="#000" stroke-width="1"/>
<text x="1000.2" y="595.55" font-size="5" fill="#3f4a78" font-weight="bold" style="font-family:'Liberation Sans', sans-serif">1</text>
<polyline points="976.5,606.5 994.5,606.5" fill="none" stroke="#000" stroke-width="1"/>
<polyline points="976.5,606.5 976.5,622.5" fill="none" stroke="#000" stroke-width="1"/>
<polyline points="982.5,606.5 982.5,622.5" fill="none" stroke="#000" stroke-width="1"/>
<polyline points="988.5,606.5 988.5,622.5" fill="none" stroke="#000" stroke-width="1"/>
<polyline points="994.5,606.5 994.5,622.5" fill="none" stroke="#000" stroke-width="1"/>
<polyline points="976.5,622.5 994.5,622.5" fill="none" stroke="#000" stroke-width="1"/>
<circle cx="982.3" cy="622" r="1.7" fill="#000"/>
<circle cx="988.5" cy="622" r="1.7" fill="#000"/>
<circle cx="994.6" cy="622" r="1.7" fill="#000"/>
<polyline points="994.5,622.5 994.5,634.5" fill="none" stroke="#000" stroke-width="1"/>
<polyline points="989.5,634.5 1000.5,634.5" fill="none" stroke="#000" stroke-width="1"/>
<polyline points="990.5,636.5 998.5,636.5" fill="none" stroke="#000" stroke-width="1"/>
<polyline points="992.5,639.5 996.5,639.5" fill="none" stroke="#000" stroke-width="1"/>
<polyline points="988.5,597.5 1021.5,597.5" fill="none" stroke="#000" stroke-width="1"/>
<polyline points="1021.5,597.5 1022.5,595.5 1025.5,599.5 1027.5,595.5 1030.5,599.5 1032.5,595.5 1034.5,599.5 1036.5,597.5" fill="none" stroke="#000" stroke-width="1"/>
<polyline points="1036.5,597.5 1092.5,597.5" fill="none" stroke="#000" stroke-width="1"/>
<text x="1027.5" y="591.15" font-size="5" fill="#7a6658" font-weight="bold" textLength="7" lengthAdjust="spacingAndGlyphs" style="font-family:'Liberation Sans', sans-serif">R84</text>
<text x="1025" y="607" font-size="6" fill="#111" font-weight="bold" textLength="15.8" lengthAdjust="spacingAndGlyphs" style="font-family:'Liberation Sans', sans-serif">49.9</text>
<circle cx="1055.6" cy="597.4" r="1.9" fill="#000"/>
<polyline points="1055.5,597.5 1055.5,622.5 1092.5,622.5" fill="none" stroke="#000" stroke-width="1"/>
<polyline points="1092.5,587.5 1074.5,587.5 1074.5,637.5" fill="none" stroke="#000" stroke-width="1"/>
<polyline points="1068.5,637.5 1079.5,637.5" fill="none" stroke="#000" stroke-width="1"/>
<polyline points="1070.5,640.5 1077.5,640.5" fill="none" stroke="#000" stroke-width="1"/>
<polyline points="1072.5,642.5 1075.5,642.5" fill="none" stroke="#000" stroke-width="1"/>
<circle cx="1074" cy="612.4" r="1.9" fill="#000"/>
<polyline points="1074.5,612.5 1092.5,612.5" fill="none" stroke="#000" stroke-width="1"/>
<text x="1080" y="586.12" font-size="5.2" fill="#3f4a78" font-weight="bold" style="font-family:'Liberation Sans', sans-serif">1</text>
<text x="1080" y="595.62" font-size="5.2" fill="#3f4a78" font-weight="bold" style="font-family:'Liberation Sans', sans-serif">2</text>
<text x="1080" y="610.62" font-size="5.2" fill="#3f4a78" font-weight="bold" style="font-family:'Liberation Sans', sans-serif">7</text>
<text x="1080" y="620.22" font-size="5.2" fill="#3f4a78" font-weight="bold" style="font-family:'Liberation Sans', sans-serif">5</text>
<rect x="1092.5" y="572.5" width="37" height="61" fill="none" stroke="#333" stroke-width="1.3"/>
<text x="1093.8" y="590.11" font-size="4.6" fill="#5a5262" font-weight="bold" style="font-family:'Liberation Sans', sans-serif">1OE</text>
<text x="1093.8" y="599.61" font-size="4.6" fill="#5a5262" font-weight="bold" style="font-family:'Liberation Sans', sans-serif">1A</text>
<text x="1093.8" y="614.61" font-size="4.6" fill="#5a5262" font-weight="bold" style="font-family:'Liberation Sans', sans-serif">2OE</text>
<text x="1093.8" y="624.21" font-size="4.6" fill="#5a5262" font-weight="bold" style="font-family:'Liberation Sans', sans-serif">2A</text>
<polyline points="1094.5,583.5 1098.5,583.5" fill="none" stroke="#333" stroke-width="0.8"/>
<polyline points="1094.5,608.5 1098.5,608.5" fill="none" stroke="#333" stroke-width="0.8"/>
<text x="1127.5" y="599.61" font-size="4.6" fill="#5a5262" text-anchor="end" font-weight="bold" style="font-family:'Liberation Sans', sans-serif">1Y</text>
<text x="1127.5" y="624.21" font-size="4.6" fill="#5a5262" text-anchor="end" font-weight="bold" style="font-family:'Liberation Sans', sans-serif">2Y</text>
<text x="1111.2" y="578.11" font-size="4.6" fill="#5a5262" text-anchor="middle" font-weight="bold" style="font-family:'Liberation Sans', sans-serif">VCC</text>
<text x="1111.2" y="631.61" font-size="4.6" fill="#5a5262" text-anchor="middle" font-weight="bold" style="font-family:'Liberation Sans', sans-serif">GND</text>
<text x="1104.5" y="566.61" font-size="4.6" fill="#3f4a78" font-weight="bold" style="font-family:'Liberation Sans', sans-serif">8</text>
<text x="1105" y="652.11" font-size="4.6" fill="#3f4a78" font-weight="bold" style="font-family:'Liberation Sans', sans-serif">4</text>
<path d="M1115.58,505.67 L1115.58,507.9 L1117.51,510.12 L1119.44,507.9 L1119.44,505.67 M1121.7,505.67 L1124.6,505.67 L1125.56,506.56 L1125.56,509.23 L1124.6,510.12 L1121.7,510.12 L1121.7,505.67 M1127.82,505.67 L1130.72,505.67 L1131.68,506.56 L1131.68,509.23 L1130.72,510.12 L1127.82,510.12 L1127.82,505.67 M1134.71,505.67 L1137.03,505.67 M1135.87,505.67 L1135.87,510.12 M1134.71,510.12 L1137.03,510.12 M1141.02,505.67 L1142.96,505.67 L1143.92,506.56 L1143.92,509.23 L1142.96,510.12 L1141.02,510.12 L1140.06,509.23 L1140.06,506.56 L1141.02,505.67" fill="none" stroke="#000" stroke-width="1.15" stroke-linejoin="miter" stroke-miterlimit="1.5"/>
<polyline points="1126.5,514.5 1111.5,514.5 1111.5,572.5" fill="none" stroke="#000" stroke-width="1"/>
<circle cx="1111.2" cy="536" r="1.9" fill="#000"/>
<circle cx="1111.2" cy="548.2" r="1.9" fill="#000"/>
<polyline points="1111.5,536.5 1135.5,536.5" fill="none" stroke="#000" stroke-width="1"/>
<polyline points="1135.5,532.5 1135.5,539.5" fill="none" stroke="#000" stroke-width="1.2"/>
<polyline points="1141.5,532.5 1141.5,539.5" fill="none" stroke="#000" stroke-width="1.2"/>
<polyline points="1141.5,536.5 1169.5,536.5" fill="none" stroke="#000" stroke-width="1"/>
<polyline points="1111.5,548.5 1135.5,548.5" fill="none" stroke="#000" stroke-width="1"/>
<polyline points="1135.5,544.5 1135.5,551.5" fill="none" stroke="#000" stroke-width="1.2"/>
<polyline points="1141.5,544.5 1141.5,551.5" fill="none" stroke="#000" stroke-width="1.2"/>
<polyline points="1141.5,548.5 1169.5,548.5" fill="none" stroke="#000" stroke-width="1"/>
<polyline points="1169.5,536.5 1169.5,548.5" fill="none" stroke="#000" stroke-width="1"/>
<circle cx="1169.4" cy="536" r="1.9" fill="#000"/>
<polyline points="1169.5,536.5 1196.5,536.5" fill="none" stroke="#000" stroke-width="1"/>
<path d="M1193.74,528.25 L1192.8,527.38 L1190.92,527.38 L1189.98,528.25 L1189.98,530.86 L1190.92,531.73 L1192.8,531.73 L1193.74,530.86 L1193.74,529.72 L1192.05,529.72 M1195.97,531.73 L1195.97,527.38 L1199.73,531.73 L1199.73,527.38 M1201.96,527.38 L1204.78,527.38 L1205.72,528.25 L1205.72,530.86 L1204.78,531.73 L1201.96,531.73 L1201.96,527.38" fill="none" stroke="#000" stroke-width="1.15" stroke-linejoin="miter" stroke-miterlimit="1.5"/>
<text x="1122" y="533.35" font-size="5" fill="#7a6658" font-weight="bold" textLength="8" lengthAdjust="spacingAndGlyphs" style="font-family:'Liberation Sans', sans-serif">C131</text>
<text x="1148" y="533.4" font-size="5.14" fill="#111" font-weight="bold" textLength="22.3" lengthAdjust="spacingAndGlyphs" style="font-family:'Liberation Sans', sans-serif">1000PF</text>
<text x="1122" y="545.15" font-size="5" fill="#7a6658" font-weight="bold" textLength="8" lengthAdjust="spacingAndGlyphs" style="font-family:'Liberation Sans', sans-serif">C130</text>
<text x="1146.3" y="545.8" font-size="5.14" fill="#111" font-weight="bold" textLength="17.6" lengthAdjust="spacingAndGlyphs" style="font-family:'Liberation Sans', sans-serif">0.1UF</text>
<text x="1123" y="563.51" font-size="4.6" fill="#7a6658" font-weight="bold" textLength="7" lengthAdjust="spacingAndGlyphs" style="font-family:'Liberation Sans', sans-serif">U30</text>
<text x="1123" y="570" font-size="5.71" fill="#111" font-weight="bold" textLength="46.8" lengthAdjust="spacingAndGlyphs" style="font-family:'Liberation Sans', sans-serif">74LVC2G125DP</text>
<polyline points="1111.5,633.5 1111.5,652.5" fill="none" stroke="#000" stroke-width="1"/>
<polyline points="1105.5,652.5 1116.5,652.5" fill="none" stroke="#000" stroke-width="1"/>
<polyline points="1107.5,654.5 1115.5,654.5" fill="none" stroke="#000" stroke-width="1"/>
<polyline points="1109.5,657.5 1113.5,657.5" fill="none" stroke="#000" stroke-width="1"/>
<text x="1136" y="595.32" font-size="5.2" fill="#3f4a78" font-weight="bold" style="font-family:'Liberation Sans', sans-serif">6</text>
<polyline points="1129.5,597.5 1155.5,597.5" fill="none" stroke="#000" stroke-width="1"/>
<polyline points="1155.5,597.5 1156.5,594.5 1159.5,599.5 1161.5,594.5 1164.5,599.5 1166.5,594.5 1169.5,599.5 1170.5,597.5" fill="none" stroke="#000" stroke-width="1"/>
<polyline points="1170.5,597.5 1211.5,597.5" fill="none" stroke="#000" stroke-width="1"/>
<circle cx="1184.2" cy="597" r="1.9" fill="#000"/>
<polyline points="1184.5,597.5 1184.5,582.5 1199.5,582.5" fill="none" stroke="#000" stroke-width="1"/>
<circle cx="1203" cy="582.2" r="3.3" fill="none" stroke="#000" stroke-width="1"/>
<path d="M1197.58,571.27 L1201.38,571.27 M1199.48,571.27 L1199.48,575.73 M1203.62,575.73 L1203.62,571.27 L1206.47,571.27 L1207.43,572.16 L1207.43,573.05 L1206.47,573.94 L1203.62,573.94" fill="none" stroke="#000" stroke-width="1.15" stroke-linejoin="miter" stroke-miterlimit="1.5"/>
<path d="M1191.32,563.15 L1190.38,562.08 L1188.51,562.08 L1187.58,563.15 L1187.58,564 L1188.32,564.75 L1190.57,564.75 L1191.32,565.5 L1191.32,566.36 L1190.38,567.43 L1188.51,567.43 L1187.58,566.36 M1193.55,562.08 L1195.42,564.75 L1197.29,562.08 M1195.42,564.75 L1195.42,567.43 M1199.52,567.43 L1199.52,562.08 L1203.26,567.43 L1203.26,562.08 M1209.23,563.15 L1208.3,562.08 L1206.42,562.08 L1205.49,563.15 L1205.49,566.36 L1206.42,567.43 L1208.3,567.43 L1209.23,566.36 M1221.17,563.15 L1220.24,562.08 L1218.36,562.08 L1217.43,563.15 L1217.43,566.36 L1218.36,567.43 L1220.24,567.43 L1221.17,566.36 M1223.4,562.08 L1223.4,567.43 L1227.14,567.43 M1229.37,562.08 L1229.37,567.43 M1233.11,562.08 L1229.37,565.29 M1230.87,564.22 L1233.11,567.43 M1242.06,562.08 L1244.31,562.08 M1243.18,562.08 L1243.18,567.43 M1242.06,567.43 L1244.31,567.43 M1247.28,567.43 L1247.28,562.08 L1251.03,567.43 L1251.03,562.08" fill="none" stroke="#000" stroke-width="1.15" stroke-linejoin="miter" stroke-miterlimit="1.5"/>
<text x="1215.6" y="581.56" font-size="3.6" fill="#7b7fa0" font-weight="bold" textLength="25" lengthAdjust="spacingAndGlyphs" style="font-family:'Liberation Sans', sans-serif">SYNC_CLK_IN</text>
<path d="M1208.34,592.55 L1207.4,591.58 L1205.52,591.58 L1204.58,592.55 L1204.58,593.32 L1205.33,594 L1207.58,594 L1208.34,594.68 L1208.34,595.46 L1207.4,596.43 L1205.52,596.43 L1204.58,595.46 M1210.56,591.58 L1212.44,594 L1214.32,591.58 M1212.44,594 L1212.44,596.43 M1216.55,596.43 L1216.55,591.58 L1220.31,596.43 L1220.31,591.58 M1226.3,592.55 L1225.36,591.58 L1223.48,591.58 L1222.54,592.55 L1222.54,595.46 L1223.48,596.43 L1225.36,596.43 L1226.3,595.46 M1227.87,596.43 L1232.95,596.43 M1238.28,592.55 L1237.34,591.58 L1235.46,591.58 L1234.52,592.55 L1234.52,595.46 L1235.46,596.43 L1237.34,596.43 L1238.28,595.46 M1240.51,591.58 L1240.51,596.43 L1244.27,596.43 M1246.5,591.58 L1246.5,596.43 M1250.26,591.58 L1246.5,594.49 M1248,593.52 L1250.26,596.43 M1251.83,596.43 L1256.91,596.43 M1259.23,591.58 L1261.48,591.58 M1260.36,591.58 L1260.36,596.43 M1259.23,596.43 L1261.48,596.43 M1264.46,596.43 L1264.46,591.58 L1268.23,596.43 L1268.23,591.58" fill="none" stroke="#000" stroke-width="1.15" stroke-linejoin="miter" stroke-miterlimit="1.5"/>
<text x="1160" y="590.95" font-size="5" fill="#7a6658" font-weight="bold" textLength="7.6" lengthAdjust="spacingAndGlyphs" style="font-family:'Liberation Sans', sans-serif">R83</text>
<text x="1159.8" y="607" font-size="6" fill="#111" font-weight="bold" textLength="16.1" lengthAdjust="spacingAndGlyphs" style="font-family:'Liberation Sans', sans-serif">49.9</text>
<text x="1135.5" y="620.32" font-size="5.2" fill="#3f4a78" font-weight="bold" style="font-family:'Liberation Sans', sans-serif">3</text>
<polyline points="1129.5,622.5 1153.5,622.5 1153.5,633.5 1174.5,633.5" fill="none" stroke="#000" stroke-width="1"/>
<polyline points="1174.5,633.5 1175.5,631.5 1178.5,636.5 1180.5,631.5 1183.5,636.5 1186.5,631.5 1189.5,636.5 1190.5,633.5" fill="none" stroke="#000" stroke-width="1"/>
<polyline points="1190.5,633.5 1212.5,633.5" fill="none" stroke="#000" stroke-width="1"/>
<text x="1179" y="628.25" font-size="5" fill="#7a6658" font-weight="bold" textLength="7.6" lengthAdjust="spacingAndGlyphs" style="font-family:'Liberation Sans', sans-serif">R85</text>
<text x="1178" y="644.1" font-size="6" fill="#111" font-weight="bold" textLength="16.5" lengthAdjust="spacingAndGlyphs" style="font-family:'Liberation Sans', sans-serif">49.9</text>
<text x="1196.5" y="631.75" font-size="5" fill="#3f4a78" font-weight="bold" style="font-family:'Liberation Sans', sans-serif">1</text>
<path d="M1193.99,605.62 L1193.06,604.58 L1191.2,604.58 L1190.28,605.62 L1190.28,606.47 L1191.02,607.2 L1193.24,607.2 L1193.99,607.94 L1193.99,608.78 L1193.06,609.83 L1191.2,609.83 L1190.28,608.78 M1196.2,604.58 L1198.06,607.2 L1199.91,604.58 M1198.06,607.2 L1198.06,609.83 M1202.13,609.83 L1202.13,604.58 L1205.84,609.83 L1205.84,604.58 M1211.77,605.62 L1210.84,604.58 L1208.99,604.58 L1208.06,605.62 L1208.06,608.78 L1208.99,609.83 L1210.84,609.83 L1211.77,608.78 M1223.62,605.62 L1222.7,604.58 L1220.84,604.58 L1219.91,605.62 L1219.91,608.78 L1220.84,609.83 L1222.7,609.83 L1223.62,608.78 M1225.84,604.58 L1225.84,609.83 L1229.55,609.83 M1231.77,604.58 L1231.77,609.83 M1235.48,604.58 L1231.77,607.73 M1233.25,606.68 L1235.48,609.83 M1244.36,604.58 L1246.59,604.58 M1245.48,604.58 L1245.48,609.83 M1244.36,609.83 L1246.59,609.83 M1249.55,609.83 L1249.55,604.58 L1253.26,609.83 L1253.26,604.58 M1265.12,605.62 L1264.19,604.58 L1262.33,604.58 L1261.4,605.62 L1261.4,606.47 L1262.15,607.2 L1264.37,607.2 L1265.12,607.94 L1265.12,608.78 L1264.19,609.83 L1262.33,609.83 L1261.4,608.78 M1267.33,609.83 L1267.33,604.58 L1270.11,604.58 L1271.04,605.62 L1271.04,606.68 L1270.11,607.73 L1267.33,607.73 M1273.26,604.58 L1273.26,609.83 L1276.97,609.83 M1279.93,604.58 L1282.16,604.58 M1281.04,604.58 L1281.04,609.83 M1279.93,609.83 L1282.16,609.83 M1285.11,604.58 L1288.83,604.58 M1286.97,604.58 L1286.97,609.83" fill="none" stroke="#000" stroke-width="1.15" stroke-linejoin="miter" stroke-miterlimit="1.5"/>
<text x="1211" y="616.31" font-size="4.6" fill="#7a6658" text-anchor="middle" font-weight="bold" textLength="7" lengthAdjust="spacingAndGlyphs" style="font-family:'Liberation Sans', sans-serif">J32</text>
<text x="1197" y="622.6" font-size="5.71" fill="#111" font-weight="bold" textLength="35" lengthAdjust="spacingAndGlyphs" style="font-family:'Liberation Sans', sans-serif">73391-0060</text>
<circle cx="1214.7" cy="633.9" r="9.4" fill="none" stroke="#000" stroke-width="1"/>
<circle cx="1214.7" cy="633.9" r="2.8" fill="none" stroke="#000" stroke-width="1"/>
<polyline points="1206.5,643.5 1224.5,643.5" fill="none" stroke="#000" stroke-width="1"/>
<polyline points="1206.5,643.5 1206.5,658.5" fill="none" stroke="#000" stroke-width="1"/>
<polyline points="1212.5,643.5 1212.5,658.5" fill="none" stroke="#000" stroke-width="1"/>
<polyline points="1218.5,643.5 1218.5,658.5" fill="none" stroke="#000" stroke-width="1"/>
<polyline points="1224.5,643.5 1224.5,658.5" fill="none" stroke="#000" stroke-width="1"/>
<polyline points="1206.5,658.5 1224.5,658.5" fill="none" stroke="#000" stroke-width="1"/>
<circle cx="1206" cy="658.4" r="1.7" fill="#000"/>
<circle cx="1212.1" cy="658.4" r="1.7" fill="#000"/>
<circle cx="1218.3" cy="658.4" r="1.7" fill="#000"/>
<polyline points="1206.5,658.5 1206.5,673.5" fill="none" stroke="#000" stroke-width="1"/>
<polyline points="1200.5,673.5 1211.5,673.5" fill="none" stroke="#000" stroke-width="1"/>
<polyline points="1202.5,676.5 1209.5,676.5" fill="none" stroke="#000" stroke-width="1"/>
<polyline points="1204.5,678.5 1207.5,678.5" fill="none" stroke="#000" stroke-width="1"/>
<path d="M958.45,700.54 L957.53,699.38 L955.69,699.38 L954.78,700.54 L954.78,701.48 L955.51,702.3 L957.72,702.3 L958.45,703.12 L958.45,704.05 L957.53,705.23 L955.69,705.23 L954.78,704.05 M960.66,699.38 L962.5,702.3 L964.34,699.38 M962.5,702.3 L962.5,705.23 M966.55,705.23 L966.55,699.38 L970.23,705.23 L970.23,699.38 M976.12,700.54 L975.2,699.38 L973.36,699.38 L972.44,700.54 L972.44,704.05 L973.36,705.23 L975.2,705.23 L976.12,704.05 M987.9,700.54 L986.98,699.38 L985.14,699.38 L984.22,700.54 L984.22,704.05 L985.14,705.23 L986.98,705.23 L987.9,704.05 M990.1,699.38 L990.1,705.23 L993.78,705.23 M995.99,699.38 L995.99,705.23 M999.67,699.38 L995.99,702.88 M997.46,701.72 L999.67,705.23 M1008.69,699.38 L1010.53,699.38 L1011.45,700.54 L1011.45,704.05 L1010.53,705.23 L1008.69,705.23 L1007.77,704.05 L1007.77,700.54 L1008.69,699.38 M1013.66,699.38 L1013.66,704.05 L1014.58,705.23 L1016.42,705.23 L1017.34,704.05 L1017.34,699.38 M1019.55,699.38 L1023.22,699.38 M1021.39,699.38 L1021.39,705.23" fill="none" stroke="#000" stroke-width="1.15" stroke-linejoin="miter" stroke-miterlimit="1.5"/>
<path d="M989.28,718.78 L992.72,718.78 M991,718.78 L991,722.63 M994.88,722.63 L994.88,718.78 L997.46,718.78 L998.33,719.55 L998.33,720.32 L997.46,721.09 L994.88,721.09" fill="none" stroke="#000" stroke-width="1.15" stroke-linejoin="miter" stroke-miterlimit="1.5"/>
<circle cx="994.3" cy="729.6" r="3.1" fill="none" stroke="#000" stroke-width="1"/>
<polyline points="997.5,729.5 1015.5,729.5 1015.5,750.5" fill="none" stroke="#000" stroke-width="1"/>
<text x="945.3" y="728.66" font-size="3.6" fill="#7b7fa0" font-weight="bold" textLength="29" lengthAdjust="spacingAndGlyphs" style="font-family:'Liberation Sans', sans-serif">SYNC_CLK_OUT</text>
<path d="M938.84,742.83 L937.92,741.88 L936.09,741.88 L935.18,742.83 L935.18,743.59 L935.91,744.25 L938.11,744.25 L938.84,744.92 L938.84,745.68 L937.92,746.63 L936.09,746.63 L935.18,745.68 M941.05,741.88 L942.88,744.25 L944.71,741.88 M942.88,744.25 L942.88,746.63 M946.92,746.63 L946.92,741.88 L950.58,746.63 L950.58,741.88 M956.45,742.83 L955.54,741.88 L953.71,741.88 L952.79,742.83 L952.79,745.68 L953.71,746.63 L955.54,746.63 L956.45,745.68 M958.02,746.63 L962.97,746.63 M968.2,742.83 L967.28,741.88 L965.45,741.88 L964.53,742.83 L964.53,745.68 L965.45,746.63 L967.28,746.63 L968.2,745.68 M970.4,741.88 L970.4,746.63 L974.07,746.63 M976.27,741.88 L976.27,746.63 M979.94,741.88 L976.27,744.73 M977.74,743.78 L979.94,746.63 M981.5,746.63 L986.45,746.63 M988.93,741.88 L990.77,741.88 L991.68,742.83 L991.68,745.68 L990.77,746.63 L988.93,746.63 L988.02,745.68 L988.02,742.83 L988.93,741.88 M993.89,741.88 L993.89,745.68 L994.81,746.63 L996.64,746.63 L997.55,745.68 L997.55,741.88 M999.76,741.88 L1003.43,741.88 M1001.59,741.88 L1001.59,746.63" fill="none" stroke="#000" stroke-width="1.15" stroke-linejoin="miter" stroke-miterlimit="1.5"/>
<polyline points="994.5,750.5 1030.5,750.5" fill="none" stroke="#000" stroke-width="1"/>
<circle cx="1015.9" cy="750.5" r="1.9" fill="#000"/>
<polyline points="1030.5,750.5 1031.5,748.5 1033.5,752.5 1036.5,748.5 1038.5,752.5 1041.5,748.5 1043.5,752.5 1045.5,750.5" fill="none" stroke="#000" stroke-width="1"/>
<polyline points="1045.5,750.5 1089.5,750.5" fill="none" stroke="#000" stroke-width="1"/>
<circle cx="1058.9" cy="750.5" r="1.9" fill="#000"/>
<text x="1035" y="744.85" font-size="5" fill="#7a6658" font-weight="bold" textLength="7" lengthAdjust="spacingAndGlyphs" style="font-family:'Liberation Sans', sans-serif">R80</text>
<text x="1034" y="760.9" font-size="6" fill="#111" font-weight="bold" textLength="16.6" lengthAdjust="spacingAndGlyphs" style="font-family:'Liberation Sans', sans-serif">49.9</text>
<polyline points="1058.5,750.5 1058.5,775.5 1089.5,775.5" fill="none" stroke="#000" stroke-width="1"/>
<polyline points="1089.5,741.5 1070.5,741.5 1070.5,790.5" fill="none" stroke="#000" stroke-width="1"/>
<polyline points="1065.5,790.5 1076.5,790.5" fill="none" stroke="#000" stroke-width="1"/>
<polyline points="1066.5,792.5 1074.5,792.5" fill="none" stroke="#000" stroke-width="1"/>
<polyline points="1069.5,795.5 1072.5,795.5" fill="none" stroke="#000" stroke-width="1"/>
<circle cx="1070.9" cy="766.2" r="1.9" fill="#000"/>
<polyline points="1070.5,766.5 1089.5,766.5" fill="none" stroke="#000" stroke-width="1"/>
<text x="1077.5" y="739.52" font-size="5.2" fill="#3f4a78" font-weight="bold" style="font-family:'Liberation Sans', sans-serif">1</text>
<text x="1077.5" y="748.72" font-size="5.2" fill="#3f4a78" font-weight="bold" style="font-family:'Liberation Sans', sans-serif">2</text>
<text x="1077.5" y="764.42" font-size="5.2" fill="#3f4a78" font-weight="bold" style="font-family:'Liberation Sans', sans-serif">7</text>
<text x="1077.5" y="773.62" font-size="5.2" fill="#3f4a78" font-weight="bold" style="font-family:'Liberation Sans', sans-serif">5</text>
<rect x="1089.5" y="726.5" width="37" height="61" fill="none" stroke="#333" stroke-width="1.3"/>
<text x="1091" y="743.51" font-size="4.6" fill="#5a5262" font-weight="bold" style="font-family:'Liberation Sans', sans-serif">1OE</text>
<text x="1091" y="752.71" font-size="4.6" fill="#5a5262" font-weight="bold" style="font-family:'Liberation Sans', sans-serif">1A</text>
<text x="1091" y="768.41" font-size="4.6" fill="#5a5262" font-weight="bold" style="font-family:'Liberation Sans', sans-serif">2OE</text>
<text x="1091" y="777.61" font-size="4.6" fill="#5a5262" font-weight="bold" style="font-family:'Liberation Sans', sans-serif">2A</text>
<polyline points="1091.5,736.5 1095.5,736.5" fill="none" stroke="#333" stroke-width="0.8"/>
<polyline points="1091.5,761.5 1095.5,761.5" fill="none" stroke="#333" stroke-width="0.8"/>
<text x="1124.5" y="752.41" font-size="4.6" fill="#5a5262" text-anchor="end" font-weight="bold" style="font-family:'Liberation Sans', sans-serif">1Y</text>
<text x="1124.5" y="777.41" font-size="4.6" fill="#5a5262" text-anchor="end" font-weight="bold" style="font-family:'Liberation Sans', sans-serif">2Y</text>
<text x="1107.9" y="731.41" font-size="4.6" fill="#5a5262" text-anchor="middle" font-weight="bold" style="font-family:'Liberation Sans', sans-serif">VCC</text>
<text x="1107.9" y="785.11" font-size="4.6" fill="#5a5262" text-anchor="middle" font-weight="bold" style="font-family:'Liberation Sans', sans-serif">GND</text>
<text x="1101.5" y="719.61" font-size="4.6" fill="#3f4a78" font-weight="bold" style="font-family:'Liberation Sans', sans-serif">8</text>
<text x="1101.5" y="799.61" font-size="4.6" fill="#3f4a78" font-weight="bold" style="font-family:'Liberation Sans', sans-serif">4</text>
<path d="M1119.17,665.18 L1119.17,667.4 L1121.03,669.63 L1122.89,667.4 L1122.89,665.18 M1125.11,665.18 L1127.9,665.18 L1128.82,666.07 L1128.82,668.74 L1127.9,669.63 L1125.11,669.63 L1125.11,665.18 M1131.04,665.18 L1133.83,665.18 L1134.76,666.07 L1134.76,668.74 L1133.83,669.63 L1131.04,669.63 L1131.04,665.18 M1137.72,665.18 L1139.95,665.18 M1138.83,665.18 L1138.83,669.63 M1137.72,669.63 L1139.95,669.63 M1143.84,665.18 L1145.7,665.18 L1146.62,666.07 L1146.62,668.74 L1145.7,669.63 L1143.84,669.63 L1142.91,668.74 L1142.91,666.07 L1143.84,665.18" fill="none" stroke="#000" stroke-width="1.15" stroke-linejoin="miter" stroke-miterlimit="1.5"/>
<polyline points="1123.5,673.5 1107.5,673.5 1107.5,726.5" fill="none" stroke="#000" stroke-width="1"/>
<circle cx="1107.9" cy="689" r="1.9" fill="#000"/>
<circle cx="1107.9" cy="701.9" r="1.9" fill="#000"/>
<polyline points="1107.5,689.5 1120.5,689.5" fill="none" stroke="#000" stroke-width="1"/>
<polyline points="1120.5,685.5 1120.5,692.5" fill="none" stroke="#000" stroke-width="1.2"/>
<polyline points="1126.5,685.5 1126.5,692.5" fill="none" stroke="#000" stroke-width="1.2"/>
<polyline points="1126.5,689.5 1153.5,689.5" fill="none" stroke="#000" stroke-width="1"/>
<polyline points="1107.5,701.5 1120.5,701.5" fill="none" stroke="#000" stroke-width="1"/>
<polyline points="1120.5,698.5 1120.5,705.5" fill="none" stroke="#000" stroke-width="1.2"/>
<polyline points="1126.5,698.5 1126.5,705.5" fill="none" stroke="#000" stroke-width="1.2"/>
<polyline points="1126.5,701.5 1153.5,701.5" fill="none" stroke="#000" stroke-width="1"/>
<polyline points="1153.5,689.5 1153.5,701.5" fill="none" stroke="#000" stroke-width="1"/>
<circle cx="1153.7" cy="701.9" r="1.9" fill="#000"/>
<polyline points="1153.5,701.5 1163.5,701.5" fill="none" stroke="#000" stroke-width="1"/>
<path d="M1165.54,693.76 L1164.55,692.88 L1162.57,692.88 L1161.58,693.76 L1161.58,696.43 L1162.57,697.33 L1164.55,697.33 L1165.54,696.43 L1165.54,695.28 L1163.76,695.28 M1167.82,697.33 L1167.82,692.88 L1171.78,697.33 L1171.78,692.88 M1174.06,692.88 L1177.03,692.88 L1178.02,693.76 L1178.02,696.43 L1177.03,697.33 L1174.06,697.33 L1174.06,692.88" fill="none" stroke="#000" stroke-width="1.15" stroke-linejoin="miter" stroke-miterlimit="1.5"/>
<text x="1108.5" y="685.4" font-size="4" fill="#7a6658" font-weight="bold" textLength="8" lengthAdjust="spacingAndGlyphs" style="font-family:'Liberation Sans', sans-serif">C116</text>
<text x="1108.5" y="698.4" font-size="4" fill="#7a6658" font-weight="bold" textLength="8" lengthAdjust="spacingAndGlyphs" style="font-family:'Liberation Sans', sans-serif">C111</text>
<text x="1132.5" y="686.8" font-size="5.14" fill="#111" font-weight="bold" textLength="20.3" lengthAdjust="spacingAndGlyphs" style="font-family:'Liberation Sans', sans-serif">1000PF</text>
<text x="1131" y="699.3" font-size="5.14" fill="#111" font-weight="bold" textLength="17.7" lengthAdjust="spacingAndGlyphs" style="font-family:'Liberation Sans', sans-serif">0.1UF</text>
<text x="1120" y="716.61" font-size="4.6" fill="#7a6658" font-weight="bold" textLength="7" lengthAdjust="spacingAndGlyphs" style="font-family:'Liberation Sans', sans-serif">U28</text>
<text x="1120" y="723.3" font-size="5.71" fill="#111" font-weight="bold" textLength="46.6" lengthAdjust="spacingAndGlyphs" style="font-family:'Liberation Sans', sans-serif">74LVC2G125DP</text>
<polyline points="1107.5,787.5 1107.5,805.5" fill="none" stroke="#000" stroke-width="1"/>
<polyline points="1102.5,805.5 1113.5,805.5" fill="none" stroke="#000" stroke-width="1"/>
<polyline points="1103.5,808.5 1111.5,808.5" fill="none" stroke="#000" stroke-width="1"/>
<polyline points="1106.5,810.5 1109.5,810.5" fill="none" stroke="#000" stroke-width="1"/>
<text x="1134" y="748.32" font-size="5.2" fill="#3f4a78" font-weight="bold" style="font-family:'Liberation Sans', sans-serif">6</text>
<polyline points="1126.5,750.5 1151.5,750.5 1151.5,735.5 1176.5,735.5" fill="none" stroke="#000" stroke-width="1"/>
<polyline points="1176.5,735.5 1178.5,732.5 1180.5,737.5 1182.5,732.5 1185.5,737.5 1187.5,732.5 1190.5,737.5 1191.5,735.5" fill="none" stroke="#000" stroke-width="1"/>
<polyline points="1191.5,735.5 1215.5,735.5" fill="none" stroke="#000" stroke-width="1"/>
<text x="1185" y="729.15" font-size="5" fill="#7a6658" font-weight="bold" textLength="7" lengthAdjust="spacingAndGlyphs" style="font-family:'Liberation Sans', sans-serif">R75</text>
<text x="1181" y="745.2" font-size="6" fill="#111" font-weight="bold" textLength="17" lengthAdjust="spacingAndGlyphs" style="font-family:'Liberation Sans', sans-serif">49.9</text>
<text x="1200" y="732.75" font-size="5" fill="#3f4a78" font-weight="bold" style="font-family:'Liberation Sans', sans-serif">1</text>
<path d="M1182,706.85 L1181.07,705.78 L1179.21,705.78 L1178.28,706.85 L1178.28,707.7 L1179.02,708.45 L1181.25,708.45 L1182,709.2 L1182,710.06 L1181.07,711.13 L1179.21,711.13 L1178.28,710.06 M1184.21,705.78 L1186.07,708.45 L1187.93,705.78 M1186.07,708.45 L1186.07,711.13 M1190.15,711.13 L1190.15,705.78 L1193.87,711.13 L1193.87,705.78 M1199.81,706.85 L1198.88,705.78 L1197.02,705.78 L1196.09,706.85 L1196.09,710.06 L1197.02,711.13 L1198.88,711.13 L1199.81,710.06 M1211.69,706.85 L1210.76,705.78 L1208.9,705.78 L1207.97,706.85 L1207.97,710.06 L1208.9,711.13 L1210.76,711.13 L1211.69,710.06 M1213.91,705.78 L1213.91,711.13 L1217.63,711.13 M1219.85,705.78 L1219.85,711.13 M1223.57,705.78 L1219.85,708.99 M1221.34,707.92 L1223.57,711.13 M1232.66,705.78 L1234.52,705.78 L1235.45,706.85 L1235.45,710.06 L1234.52,711.13 L1232.66,711.13 L1231.73,710.06 L1231.73,706.85 L1232.66,705.78 M1237.67,705.78 L1237.67,710.06 L1238.6,711.13 L1240.46,711.13 L1241.39,710.06 L1241.39,705.78 M1243.6,705.78 L1247.33,705.78 M1245.46,705.78 L1245.46,711.13" fill="none" stroke="#000" stroke-width="1.15" stroke-linejoin="miter" stroke-miterlimit="1.5"/>
<text x="1215.6" y="716.61" font-size="4.6" fill="#7a6658" text-anchor="middle" font-weight="bold" textLength="7" lengthAdjust="spacingAndGlyphs" style="font-family:'Liberation Sans', sans-serif">J38</text>
<text x="1199.9" y="723.9" font-size="5.71" fill="#111" font-weight="bold" textLength="35.1" lengthAdjust="spacingAndGlyphs" style="font-family:'Liberation Sans', sans-serif">73391-0060</text>
<circle cx="1218" cy="735.2" r="9.2" fill="none" stroke="#000" stroke-width="1"/>
<circle cx="1218" cy="735.2" r="2.7" fill="none" stroke="#000" stroke-width="1"/>
<polyline points="1209.5,744.5 1227.5,744.5" fill="none" stroke="#000" stroke-width="1"/>
<polyline points="1209.5,744.5 1209.5,759.5" fill="none" stroke="#000" stroke-width="1"/>
<polyline points="1215.5,744.5 1215.5,759.5" fill="none" stroke="#000" stroke-width="1"/>
<polyline points="1221.5,744.5 1221.5,759.5" fill="none" stroke="#000" stroke-width="1"/>
<polyline points="1227.5,744.5 1227.5,759.5" fill="none" stroke="#000" stroke-width="1"/>
<polyline points="1209.5,759.5 1227.5,759.5" fill="none" stroke="#000" stroke-width="1"/>
<circle cx="1209.1" cy="759.7" r="1.7" fill="#000"/>
<circle cx="1215.3" cy="759.7" r="1.7" fill="#000"/>
<circle cx="1221.4" cy="759.7" r="1.7" fill="#000"/>
<polyline points="1209.5,759.5 1209.5,769.5" fill="none" stroke="#000" stroke-width="1"/>
<polyline points="1203.5,769.5 1214.5,769.5" fill="none" stroke="#000" stroke-width="1"/>
<polyline points="1205.5,771.5 1213.5,771.5" fill="none" stroke="#000" stroke-width="1"/>
<polyline points="1207.5,774.5 1210.5,774.5" fill="none" stroke="#000" stroke-width="1"/>
<text x="1134" y="773.32" font-size="5.2" fill="#3f4a78" font-weight="bold" style="font-family:'Liberation Sans', sans-serif">3</text>
<polyline points="1126.5,775.5 1151.5,775.5 1151.5,802.5 1176.5,802.5" fill="none" stroke="#000" stroke-width="1"/>
<polyline points="1176.5,802.5 1178.5,800.5 1180.5,805.5 1182.5,800.5 1185.5,805.5 1187.5,800.5 1190.5,805.5 1191.5,802.5" fill="none" stroke="#000" stroke-width="1"/>
<polyline points="1191.5,802.5 1215.5,802.5" fill="none" stroke="#000" stroke-width="1"/>
<text x="1185" y="796.95" font-size="5" fill="#7a6658" font-weight="bold" textLength="7" lengthAdjust="spacingAndGlyphs" style="font-family:'Liberation Sans', sans-serif">R78</text>
<text x="1181" y="812.6" font-size="6" fill="#111" font-weight="bold" textLength="17" lengthAdjust="spacingAndGlyphs" style="font-family:'Liberation Sans', sans-serif">49.9</text>
<text x="1200" y="800.25" font-size="5" fill="#3f4a78" font-weight="bold" style="font-family:'Liberation Sans', sans-serif">1</text>
<text x="1215.6" y="785.01" font-size="4.6" fill="#7a6658" text-anchor="middle" font-weight="bold" textLength="7" lengthAdjust="spacingAndGlyphs" style="font-family:'Liberation Sans', sans-serif">J41</text>
<text x="1199.9" y="791.3" font-size="5.71" fill="#111" font-weight="bold" textLength="35.1" lengthAdjust="spacingAndGlyphs" style="font-family:'Liberation Sans', sans-serif">73391-0060</text>
<circle cx="1218" cy="802.6" r="9.2" fill="none" stroke="#000" stroke-width="1"/>
<circle cx="1218" cy="802.6" r="2.7" fill="none" stroke="#000" stroke-width="1"/>
<polyline points="1209.5,812.5 1227.5,812.5" fill="none" stroke="#000" stroke-width="1"/>
<polyline points="1209.5,812.5 1209.5,827.5" fill="none" stroke="#000" stroke-width="1"/>
<polyline points="1215.5,812.5 1215.5,827.5" fill="none" stroke="#000" stroke-width="1"/>
<polyline points="1221.5,812.5 1221.5,827.5" fill="none" stroke="#000" stroke-width="1"/>
<polyline points="1227.5,812.5 1227.5,827.5" fill="none" stroke="#000" stroke-width="1"/>
<polyline points="1209.5,827.5 1227.5,827.5" fill="none" stroke="#000" stroke-width="1"/>
<circle cx="1209.1" cy="827.1" r="1.7" fill="#000"/>
<circle cx="1215.3" cy="827.1" r="1.7" fill="#000"/>
<circle cx="1221.4" cy="827.1" r="1.7" fill="#000"/>
<polyline points="1209.5,827.5 1209.5,842.5" fill="none" stroke="#000" stroke-width="1"/>
<polyline points="1203.5,842.5 1214.5,842.5" fill="none" stroke="#000" stroke-width="1"/>
<polyline points="1205.5,844.5 1213.5,844.5" fill="none" stroke="#000" stroke-width="1"/>
<polyline points="1207.5,847.5 1210.5,847.5" fill="none" stroke="#000" stroke-width="1"/>
<path d="M396.5,5.5 H1104.5 V220.5 H1273.5 V867.5 H1012.5 V971.5 H396.5 Z" fill="none" stroke="#3a3a3a" stroke-width="1" stroke-dasharray="1,1" shape-rendering="crispEdges"/>
<path d="M1030.34,10.57 L1034.13,10.57 M1032.23,10.57 L1032.23,18.82 M1030.34,18.82 L1034.13,18.82 M1044.5,12.22 L1042.92,10.57 L1039.76,10.57 L1038.18,12.22 L1038.18,13.54 L1039.44,14.7 L1043.23,14.7 L1044.5,15.85 L1044.5,17.17 L1042.92,18.82 L1039.76,18.82 L1038.18,17.17 M1048.86,10.57 L1052.02,10.57 L1053.6,12.22 L1053.6,17.17 L1052.02,18.82 L1048.86,18.82 L1047.28,17.17 L1047.28,12.22 L1048.86,10.57 M1056.39,10.57 L1056.39,18.82 L1062.71,18.82 M1065.49,18.82 L1065.49,12.22 L1067.07,10.57 L1070.23,10.57 L1071.81,12.22 L1071.81,18.82 M1065.49,15.52 L1071.81,15.52 M1074.6,10.57 L1080.92,10.57 M1077.76,10.57 L1077.76,18.82 M1090.02,10.57 L1083.7,10.57 L1083.7,18.82 L1090.02,18.82 M1083.7,14.7 L1088.44,14.7 M1092.81,10.57 L1097.55,10.57 L1099.12,12.22 L1099.12,17.17 L1097.55,18.82 L1092.81,18.82 L1092.81,10.57" fill="none" stroke="#000" stroke-width="1.15" stroke-linejoin="miter" stroke-miterlimit="1.5"/>
</svg></body></html>
